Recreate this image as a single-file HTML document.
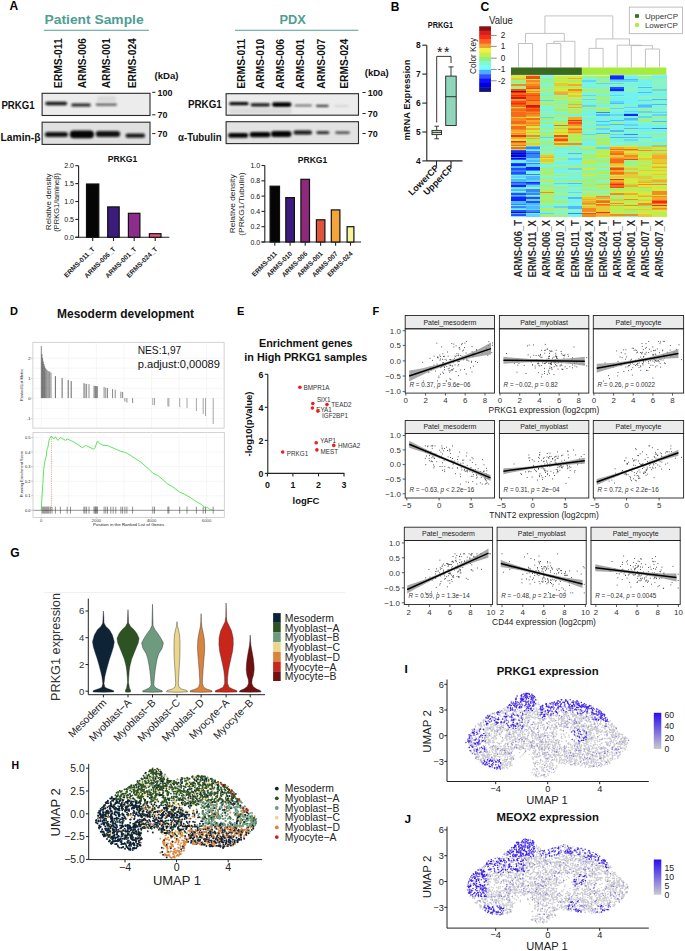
<!DOCTYPE html>
<html><head><meta charset="utf-8"><style>
html,body{margin:0;padding:0;background:#fff;overflow:hidden;}
svg{display:block;font-family:"Liberation Sans",sans-serif;}
</style></head><body>
<svg width="685" height="951" viewBox="0 0 685 951">
<rect width="685" height="951" fill="#fff"/>
<text x="9.6" y="10.0" font-size="12" font-weight="bold">A</text>
<text x="44.6" y="23.6" font-size="13.5" font-weight="bold" fill="#4f9e92" textLength="99" lengthAdjust="spacingAndGlyphs">Patient Sample</text>
<line x1="43.8" y1="30.2" x2="148.9" y2="30.2" stroke="#4f9e92" stroke-width="1.1"/>
<text x="279.4" y="23.6" font-size="13.5" font-weight="bold" fill="#4f9e92" textLength="26.3" lengthAdjust="spacingAndGlyphs">PDX</text>
<line x1="235.0" y1="30.2" x2="358.4" y2="30.2" stroke="#4f9e92" stroke-width="1.1"/>
<text x="61.8" y="88.2" font-size="11" font-weight="bold" fill="#111" textLength="50" lengthAdjust="spacingAndGlyphs" transform="rotate(-90 61.8 88.2)">ERMS-011</text>
<text x="85.8" y="88.2" font-size="11" font-weight="bold" fill="#111" textLength="50" lengthAdjust="spacingAndGlyphs" transform="rotate(-90 85.8 88.2)">ARMS-006</text>
<text x="109.7" y="88.2" font-size="11" font-weight="bold" fill="#111" textLength="50" lengthAdjust="spacingAndGlyphs" transform="rotate(-90 109.7 88.2)">ARMS-001</text>
<text x="136.0" y="88.2" font-size="11" font-weight="bold" fill="#111" textLength="50" lengthAdjust="spacingAndGlyphs" transform="rotate(-90 136.0 88.2)">ERMS-024</text>
<text x="245.0" y="88.8" font-size="11" font-weight="bold" fill="#111" textLength="50" lengthAdjust="spacingAndGlyphs" transform="rotate(-90 245.0 88.8)">ERMS-011</text>
<text x="263.6" y="88.8" font-size="11" font-weight="bold" fill="#111" textLength="50" lengthAdjust="spacingAndGlyphs" transform="rotate(-90 263.6 88.8)">ARMS-010</text>
<text x="284.2" y="88.8" font-size="11" font-weight="bold" fill="#111" textLength="50" lengthAdjust="spacingAndGlyphs" transform="rotate(-90 284.2 88.8)">ARMS-006</text>
<text x="303.6" y="88.8" font-size="11" font-weight="bold" fill="#111" textLength="50" lengthAdjust="spacingAndGlyphs" transform="rotate(-90 303.6 88.8)">ARMS-001</text>
<text x="324.6" y="88.8" font-size="11" font-weight="bold" fill="#111" textLength="50" lengthAdjust="spacingAndGlyphs" transform="rotate(-90 324.6 88.8)">ARMS-007</text>
<text x="347.7" y="88.8" font-size="11" font-weight="bold" fill="#111" textLength="50" lengthAdjust="spacingAndGlyphs" transform="rotate(-90 347.7 88.8)">ERMS-024</text>
<defs><filter id="bl" x="-20%" y="-80%" width="140%" height="260%"><feGaussianBlur stdDeviation="0.9"/></filter><filter id="bl2" x="-20%" y="-80%" width="140%" height="260%"><feGaussianBlur stdDeviation="1.6"/></filter><linearGradient id="gb" x1="0" y1="0" x2="1" y2="0"><stop offset="0" stop-color="#e2e2e2"/><stop offset="1" stop-color="#ececec"/></linearGradient></defs>
<rect x="42.1" y="93.3" width="107.9" height="22.2" fill="#ececec"/>
<rect x="45.3" y="101.8" width="21.9" height="3.4" rx="1.7" fill="#0a0a0a" opacity="0.97" filter="url(#bl)"/>
<rect x="71.2" y="103.5" width="19.6" height="3.0" rx="1.5" fill="#111" opacity="0.92" filter="url(#bl)"/>
<rect x="95.7" y="103.5" width="21.3" height="2.2" rx="1.1" fill="#333" opacity="0.8" filter="url(#bl)"/>
<rect x="97.0" y="96.0" width="19.0" height="6.0" rx="3.0" fill="#c8c8c8" opacity="0.5" filter="url(#bl)"/>
<rect x="42.1" y="93.3" width="107.9" height="22.2" fill="none" stroke="#2a2a2a" stroke-width="1.1"/>
<rect x="42.1" y="122.2" width="107.9" height="22.2" fill="#e0e0e0"/>
<rect x="44.9" y="131.9" width="23.1" height="5.0" rx="2.5" fill="#0a0a0a" opacity="0.97" filter="url(#bl)"/>
<rect x="69.8" y="130.6" width="24.2" height="7.6" rx="3.8" fill="#050505" opacity="0.98" filter="url(#bl)"/>
<rect x="95.7" y="131.0" width="24.5" height="6.0" rx="3.0" fill="#0a0a0a" opacity="0.97" filter="url(#bl)"/>
<rect x="125.5" y="133.6" width="19.6" height="4.2" rx="2.1" fill="#111" opacity="0.95" filter="url(#bl)"/>
<rect x="42.1" y="122.2" width="107.9" height="22.2" fill="none" stroke="#2a2a2a" stroke-width="1.1"/>
<rect x="226.1" y="93.7" width="132.4" height="21.5" fill="#ececec"/>
<rect x="229.2" y="102.1" width="19.4" height="3.2" rx="1.6" fill="#050505" opacity="0.98" filter="url(#bl)"/>
<rect x="250.6" y="103.2" width="19.4" height="3.2" rx="1.6" fill="#0a0a0a" opacity="0.97" filter="url(#bl)"/>
<rect x="272.0" y="102.3" width="19.5" height="4.6" rx="2.3" fill="#050505" opacity="0.99" filter="url(#bl)"/>
<rect x="294.6" y="104.5" width="17.4" height="1.9" rx="0.9" fill="#444" opacity="0.75" filter="url(#bl)"/>
<rect x="316.0" y="104.8" width="12.7" height="2.3" rx="1.1" fill="#222" opacity="0.85" filter="url(#bl)"/>
<rect x="334.4" y="105.1" width="14.3" height="1.8" rx="0.9" fill="#aaa" opacity="0.35" filter="url(#bl)"/>
<rect x="229.0" y="108.0" width="63.0" height="6.0" rx="3.0" fill="#cfcfcf" opacity="0.6" filter="url(#bl)"/>
<rect x="226.1" y="93.7" width="132.4" height="21.5" fill="none" stroke="#2a2a2a" stroke-width="1.1"/>
<rect x="226.1" y="121.7" width="132.4" height="21.9" fill="#e2e2e2"/>
<rect x="228.1" y="133.1" width="20.1" height="4.6" rx="2.3" fill="#050505" opacity="0.98" filter="url(#bl)"/>
<rect x="249.6" y="131.9" width="21.0" height="5.4" rx="2.7" fill="#050505" opacity="0.98" filter="url(#bl)"/>
<rect x="271.0" y="131.1" width="20.5" height="5.8" rx="2.9" fill="#050505" opacity="0.98" filter="url(#bl)"/>
<rect x="293.5" y="130.6" width="18.5" height="4.0" rx="2.0" fill="#0a0a0a" opacity="0.96" filter="url(#bl)"/>
<rect x="316.4" y="131.2" width="12.9" height="2.8" rx="1.4" fill="#111" opacity="0.92" filter="url(#bl)"/>
<rect x="335.4" y="131.4" width="14.3" height="2.4" rx="1.2" fill="#222" opacity="0.88" filter="url(#bl)"/>
<rect x="226.1" y="121.7" width="132.4" height="21.9" fill="none" stroke="#2a2a2a" stroke-width="1.1"/>
<text x="1.4" y="108.8" font-size="10.5" font-weight="bold" fill="#111" textLength="33.2" lengthAdjust="spacingAndGlyphs">PRKG1</text>
<text x="0.5" y="141.0" font-size="10.5" font-weight="bold" fill="#111" textLength="40" lengthAdjust="spacingAndGlyphs">Lamin-β</text>
<text x="188.0" y="108.0" font-size="10.5" font-weight="bold" fill="#111" textLength="33.8" lengthAdjust="spacingAndGlyphs">PRKG1</text>
<text x="178.0" y="141.0" font-size="10.5" font-weight="bold" fill="#111" textLength="43.6" lengthAdjust="spacingAndGlyphs">α-Tubulin</text>
<line x1="152.2" y1="92.3" x2="155.4" y2="92.3" stroke="#222" stroke-width="1"/>
<text x="157.4" y="95.6" font-size="9.5" font-weight="bold" fill="#111" textLength="15" lengthAdjust="spacingAndGlyphs">100</text>
<line x1="152.2" y1="114.8" x2="155.4" y2="114.8" stroke="#222" stroke-width="1"/>
<text x="157.4" y="118.1" font-size="9.5" font-weight="bold" fill="#111" textLength="10" lengthAdjust="spacingAndGlyphs">70</text>
<line x1="152.2" y1="133.6" x2="155.4" y2="133.6" stroke="#222" stroke-width="1"/>
<text x="157.4" y="136.9" font-size="9.5" font-weight="bold" fill="#111" textLength="10" lengthAdjust="spacingAndGlyphs">70</text>
<line x1="362.5" y1="92.5" x2="365.7" y2="92.5" stroke="#222" stroke-width="1"/>
<text x="367.7" y="95.8" font-size="9.5" font-weight="bold" fill="#111" textLength="15" lengthAdjust="spacingAndGlyphs">100</text>
<line x1="362.5" y1="113.5" x2="365.7" y2="113.5" stroke="#222" stroke-width="1"/>
<text x="367.7" y="116.8" font-size="9.5" font-weight="bold" fill="#111" textLength="10" lengthAdjust="spacingAndGlyphs">70</text>
<line x1="362.5" y1="133.5" x2="365.7" y2="133.5" stroke="#222" stroke-width="1"/>
<text x="367.7" y="136.8" font-size="9.5" font-weight="bold" fill="#111" textLength="10" lengthAdjust="spacingAndGlyphs">70</text>
<text x="154.5" y="78.5" font-size="9" font-weight="bold" fill="#111" textLength="24" lengthAdjust="spacingAndGlyphs">(kDa)</text>
<text x="364.7" y="76.3" font-size="9" font-weight="bold" fill="#111" textLength="24" lengthAdjust="spacingAndGlyphs">(kDa)</text>
<line x1="78.6" y1="165.7" x2="78.6" y2="237.3" stroke="#222" stroke-width="1.1"/>
<line x1="75.3" y1="237.3" x2="169.3" y2="237.3" stroke="#222" stroke-width="1.1"/>
<line x1="75.3" y1="165.7" x2="78.6" y2="165.7" stroke="#222" stroke-width="1.1"/>
<text x="74.0" y="168.2" font-size="7.0" text-anchor="end" fill="#111">2.0</text>
<line x1="75.3" y1="183.6" x2="78.6" y2="183.6" stroke="#222" stroke-width="1.1"/>
<text x="74.0" y="186.1" font-size="7.0" text-anchor="end" fill="#111">1.5</text>
<line x1="75.3" y1="201.5" x2="78.6" y2="201.5" stroke="#222" stroke-width="1.1"/>
<text x="74.0" y="204.0" font-size="7.0" text-anchor="end" fill="#111">1.0</text>
<line x1="75.3" y1="219.4" x2="78.6" y2="219.4" stroke="#222" stroke-width="1.1"/>
<text x="74.0" y="221.9" font-size="7.0" text-anchor="end" fill="#111">0.5</text>
<line x1="75.3" y1="237.3" x2="78.6" y2="237.3" stroke="#222" stroke-width="1.1"/>
<text x="74.0" y="239.8" font-size="7.0" text-anchor="end" fill="#111">0.0</text>
<rect x="86.5" y="184.0" width="12.3" height="53.3" fill="#050505" stroke="#111" stroke-width="1.2"/>
<line x1="92.7" y1="237.3" x2="92.7" y2="241.0" stroke="#222" stroke-width="1.1"/>
<text x="95.2" y="249.5" font-size="6.7" font-weight="bold" text-anchor="end" fill="#222" transform="rotate(-45 95.2 249.5)">ERMS-011_T</text>
<rect x="107.7" y="206.9" width="11.5" height="30.4" fill="#3a1c7a" stroke="#111" stroke-width="1.2"/>
<line x1="113.5" y1="237.3" x2="113.5" y2="241.0" stroke="#222" stroke-width="1.1"/>
<text x="116.0" y="249.5" font-size="6.7" font-weight="bold" text-anchor="end" fill="#222" transform="rotate(-45 116.0 249.5)">ARMS-006_T</text>
<rect x="128.4" y="213.3" width="11.5" height="24.0" fill="#8e2c8e" stroke="#111" stroke-width="1.2"/>
<line x1="134.2" y1="237.3" x2="134.2" y2="241.0" stroke="#222" stroke-width="1.1"/>
<text x="136.8" y="249.5" font-size="6.7" font-weight="bold" text-anchor="end" fill="#222" transform="rotate(-45 136.8 249.5)">ARMS-001_T</text>
<rect x="149.4" y="233.7" width="11.6" height="3.6" fill="#e8547a" stroke="#111" stroke-width="1.2"/>
<line x1="155.2" y1="237.3" x2="155.2" y2="241.0" stroke="#222" stroke-width="1.1"/>
<text x="157.8" y="249.5" font-size="6.7" font-weight="bold" text-anchor="end" fill="#222" transform="rotate(-45 157.8 249.5)">ERMS-024_T</text>
<text x="122.5" y="162.2" font-size="8.6" font-weight="bold" text-anchor="middle" fill="#111">PRKG1</text>
<text x="50.8" y="201.8" font-size="7.6" text-anchor="middle" fill="#222" textLength="56.7" lengthAdjust="spacingAndGlyphs" transform="rotate(-90 50.8 201.8)">Relative density</text>
<text x="58.8" y="202.3" font-size="7.6" text-anchor="middle" fill="#222" textLength="58.7" lengthAdjust="spacingAndGlyphs" transform="rotate(-90 58.8 202.3)">(PRKG1/lamineβ)</text>
<line x1="264.8" y1="165.5" x2="264.8" y2="242.0" stroke="#222" stroke-width="1.1"/>
<line x1="261.5" y1="242.0" x2="361.1" y2="242.0" stroke="#222" stroke-width="1.1"/>
<line x1="261.5" y1="165.5" x2="264.8" y2="165.5" stroke="#222" stroke-width="1.1"/>
<text x="260.2" y="168.0" font-size="7.0" text-anchor="end" fill="#111">1.0</text>
<line x1="261.5" y1="180.8" x2="264.8" y2="180.8" stroke="#222" stroke-width="1.1"/>
<text x="260.2" y="183.3" font-size="7.0" text-anchor="end" fill="#111">0.8</text>
<line x1="261.5" y1="196.1" x2="264.8" y2="196.1" stroke="#222" stroke-width="1.1"/>
<text x="260.2" y="198.6" font-size="7.0" text-anchor="end" fill="#111">0.6</text>
<line x1="261.5" y1="211.4" x2="264.8" y2="211.4" stroke="#222" stroke-width="1.1"/>
<text x="260.2" y="213.9" font-size="7.0" text-anchor="end" fill="#111">0.4</text>
<line x1="261.5" y1="226.7" x2="264.8" y2="226.7" stroke="#222" stroke-width="1.1"/>
<text x="260.2" y="229.2" font-size="7.0" text-anchor="end" fill="#111">0.2</text>
<line x1="261.5" y1="242.0" x2="264.8" y2="242.0" stroke="#222" stroke-width="1.1"/>
<text x="260.2" y="244.5" font-size="7.0" text-anchor="end" fill="#111">0.0</text>
<rect x="270.1" y="186.2" width="9.4" height="55.8" fill="#050505" stroke="#111" stroke-width="1.2"/>
<line x1="274.8" y1="242.0" x2="274.8" y2="245.7" stroke="#222" stroke-width="1.1"/>
<text x="277.4" y="254.2" font-size="6.7" font-weight="bold" text-anchor="end" fill="#222" transform="rotate(-45 277.4 254.2)">ERMS-011</text>
<rect x="285.8" y="197.6" width="8.6" height="44.4" fill="#3d1a80" stroke="#111" stroke-width="1.2"/>
<line x1="290.1" y1="242.0" x2="290.1" y2="245.7" stroke="#222" stroke-width="1.1"/>
<text x="292.7" y="254.2" font-size="6.7" font-weight="bold" text-anchor="end" fill="#222" transform="rotate(-45 292.7 254.2)">ARMS-010</text>
<rect x="300.9" y="179.3" width="8.6" height="62.7" fill="#8d2a7d" stroke="#111" stroke-width="1.2"/>
<line x1="305.2" y1="242.0" x2="305.2" y2="245.7" stroke="#222" stroke-width="1.1"/>
<text x="307.8" y="254.2" font-size="6.7" font-weight="bold" text-anchor="end" fill="#222" transform="rotate(-45 307.8 254.2)">ARMS-006</text>
<rect x="316.4" y="219.8" width="8.5" height="22.2" fill="#e0533c" stroke="#111" stroke-width="1.2"/>
<line x1="320.6" y1="242.0" x2="320.6" y2="245.7" stroke="#222" stroke-width="1.1"/>
<text x="323.2" y="254.2" font-size="6.7" font-weight="bold" text-anchor="end" fill="#222" transform="rotate(-45 323.2 254.2)">ARMS-001</text>
<rect x="331.3" y="209.9" width="8.6" height="32.1" fill="#f4a53a" stroke="#111" stroke-width="1.2"/>
<line x1="335.6" y1="242.0" x2="335.6" y2="245.7" stroke="#222" stroke-width="1.1"/>
<text x="338.2" y="254.2" font-size="6.7" font-weight="bold" text-anchor="end" fill="#222" transform="rotate(-45 338.2 254.2)">ARMS-007</text>
<rect x="347.1" y="226.7" width="6.8" height="15.3" fill="#f6f39a" stroke="#111" stroke-width="1.2"/>
<line x1="350.5" y1="242.0" x2="350.5" y2="245.7" stroke="#222" stroke-width="1.1"/>
<text x="353.1" y="254.2" font-size="6.7" font-weight="bold" text-anchor="end" fill="#222" transform="rotate(-45 353.1 254.2)">ERMS-024</text>
<text x="312.5" y="163.4" font-size="8.6" font-weight="bold" text-anchor="middle" fill="#111">PRKG1</text>
<text x="234.7" y="203.8" font-size="7.6" text-anchor="middle" fill="#222" textLength="58.8" lengthAdjust="spacingAndGlyphs" transform="rotate(-90 234.7 203.8)">Relative density</text>
<text x="244.3" y="204.0" font-size="7.6" text-anchor="middle" fill="#222" textLength="63.3" lengthAdjust="spacingAndGlyphs" transform="rotate(-90 244.3 204.0)">(PRKG1/Tubulin)</text>
<text x="390.8" y="10.6" font-size="12" font-weight="bold">B</text>
<text x="440.4" y="28.4" font-size="8.8" font-weight="bold" text-anchor="middle" fill="#111" textLength="25.2" lengthAdjust="spacingAndGlyphs">PRKG1</text>
<line x1="426.8" y1="45.2" x2="426.8" y2="160.9" stroke="#222" stroke-width="1.1"/>
<line x1="426.8" y1="160.9" x2="462.5" y2="160.9" stroke="#222" stroke-width="1.1"/>
<line x1="422.3" y1="160.9" x2="426.8" y2="160.9" stroke="#222" stroke-width="1.1"/>
<text x="420.6" y="163.9" font-size="8.4" font-weight="bold" text-anchor="end" fill="#111">4</text>
<line x1="422.3" y1="132.0" x2="426.8" y2="132.0" stroke="#222" stroke-width="1.1"/>
<text x="420.6" y="135.0" font-size="8.4" font-weight="bold" text-anchor="end" fill="#111">5</text>
<line x1="422.3" y1="103.1" x2="426.8" y2="103.1" stroke="#222" stroke-width="1.1"/>
<text x="420.6" y="106.1" font-size="8.4" font-weight="bold" text-anchor="end" fill="#111">6</text>
<line x1="422.3" y1="74.1" x2="426.8" y2="74.1" stroke="#222" stroke-width="1.1"/>
<text x="420.6" y="77.1" font-size="8.4" font-weight="bold" text-anchor="end" fill="#111">7</text>
<line x1="422.3" y1="45.2" x2="426.8" y2="45.2" stroke="#222" stroke-width="1.1"/>
<text x="420.6" y="48.2" font-size="8.4" font-weight="bold" text-anchor="end" fill="#111">8</text>
<line x1="436.5" y1="160.9" x2="436.5" y2="165.9" stroke="#222" stroke-width="1.1"/>
<line x1="451.0" y1="160.9" x2="451.0" y2="165.9" stroke="#222" stroke-width="1.1"/>
<line x1="436.7" y1="126.2" x2="436.7" y2="138.8" stroke="#222" stroke-width="0.9"/>
<line x1="434.5" y1="126.2" x2="439.0" y2="126.2" stroke="#222" stroke-width="0.9"/>
<line x1="434.5" y1="138.8" x2="439.0" y2="138.8" stroke="#222" stroke-width="0.9"/>
<rect x="432.0" y="130.4" width="9.5" height="4.2" fill="#cdebc8" stroke="#222" stroke-width="0.9"/>
<line x1="432.0" y1="132.4" x2="441.5" y2="132.4" stroke="#222" stroke-width="0.9"/>
<line x1="451.0" y1="66.9" x2="451.0" y2="76.1" stroke="#222" stroke-width="0.9"/>
<line x1="448.5" y1="66.9" x2="453.5" y2="66.9" stroke="#222" stroke-width="0.9"/>
<rect x="445.7" y="76.1" width="10.5" height="49.4" fill="#8fd6bd" stroke="#222" stroke-width="0.9"/>
<line x1="445.7" y1="96.7" x2="456.2" y2="96.7" stroke="#222" stroke-width="0.9"/>
<polyline points="436.7,122.5 436.7,56.4 451,56.4 451,63" fill="none" stroke="#222" stroke-width="0.9"/>
<text x="444.0" y="56.5" font-size="14" text-anchor="middle" fill="#111" letter-spacing="1.5">**</text>
<text x="409.9" y="100.0" font-size="8.8" font-weight="bold" text-anchor="middle" fill="#111" textLength="81" lengthAdjust="spacingAndGlyphs" transform="rotate(-90 409.9 100.0)">mRNA Expression</text>
<text x="439.5" y="168.5" font-size="9" font-weight="bold" text-anchor="end" fill="#111" transform="rotate(-45 439.5 168.5)">LowerCP</text>
<text x="454.2" y="168.5" font-size="9" font-weight="bold" text-anchor="end" fill="#111" transform="rotate(-45 454.2 168.5)">UpperCP</text>
<text x="480.6" y="11.0" font-size="12.2" font-weight="bold">C</text>
<text x="489.1" y="23.6" font-size="10" fill="#222" textLength="23.7" lengthAdjust="spacingAndGlyphs">Value</text>
<text x="475.7" y="55.9" font-size="9.6" text-anchor="middle" fill="#222" textLength="36" lengthAdjust="spacingAndGlyphs" transform="rotate(-90 475.7 55.9)">Color Key</text>
<rect x="479.2" y="26.3" width="11.8" height="4.7" fill="#8b1010"/>
<rect x="479.2" y="30.7" width="11.8" height="4.7" fill="#d02020"/>
<rect x="479.2" y="35.0" width="11.8" height="4.7" fill="#ff2a10"/>
<rect x="479.2" y="39.4" width="11.8" height="4.7" fill="#ff6020"/>
<rect x="479.2" y="43.7" width="11.8" height="4.7" fill="#f0a030"/>
<rect x="479.2" y="48.1" width="11.8" height="4.7" fill="#f0f040"/>
<rect x="479.2" y="52.4" width="11.8" height="4.7" fill="#c8f048"/>
<rect x="479.2" y="56.8" width="11.8" height="4.7" fill="#90f080"/>
<rect x="479.2" y="61.1" width="11.8" height="4.7" fill="#80f8d0"/>
<rect x="479.2" y="65.5" width="11.8" height="4.7" fill="#70ffff"/>
<rect x="479.2" y="69.8" width="11.8" height="4.7" fill="#50a8ff"/>
<rect x="479.2" y="74.2" width="11.8" height="4.7" fill="#3050ff"/>
<rect x="479.2" y="78.5" width="11.8" height="4.7" fill="#1010ff"/>
<rect x="479.2" y="82.9" width="11.8" height="4.7" fill="#0000e8"/>
<rect x="479.2" y="87.2" width="11.8" height="4.7" fill="#10107f"/>
<line x1="491.0" y1="35.4" x2="496.7" y2="35.4" stroke="#444" stroke-width="0.6"/>
<text x="505.3" y="38.4" font-size="8.2" text-anchor="end" fill="#222">2</text>
<line x1="491.0" y1="46.4" x2="496.7" y2="46.4" stroke="#444" stroke-width="0.6"/>
<text x="505.3" y="49.4" font-size="8.2" text-anchor="end" fill="#222">1</text>
<line x1="491.0" y1="58.2" x2="496.7" y2="58.2" stroke="#444" stroke-width="0.6"/>
<text x="505.3" y="61.2" font-size="8.2" text-anchor="end" fill="#222">0</text>
<line x1="491.0" y1="69.4" x2="496.7" y2="69.4" stroke="#444" stroke-width="0.6"/>
<text x="505.3" y="72.4" font-size="8.2" text-anchor="end" fill="#222">-1</text>
<line x1="491.0" y1="80.8" x2="496.7" y2="80.8" stroke="#444" stroke-width="0.6"/>
<text x="505.3" y="83.8" font-size="8.2" text-anchor="end" fill="#222">-2</text>
<rect x="629.3" y="7.1" width="53.3" height="26.6" fill="#fff" stroke="#b0b0b0" stroke-width="0.8"/>
<rect x="635.0" y="14.2" width="4.0" height="3.6" fill="#3d6b22"/>
<text x="644.9" y="18.5" font-size="8" fill="#333" textLength="33.2" lengthAdjust="spacingAndGlyphs">UpperCP</text>
<rect x="635.0" y="23.2" width="4.0" height="3.6" fill="#a8ec4a"/>
<text x="644.9" y="27.5" font-size="8" fill="#333" textLength="33" lengthAdjust="spacingAndGlyphs">LowerCP</text>
<polyline points="518.5,67.5 518.5,43.5 532.6,43.5 532.6,67.5" fill="none" stroke="#b4b4b4" stroke-width="0.8"/>
<polyline points="546.7,67.5 546.7,43.5 560.8,43.5 560.8,67.5" fill="none" stroke="#b4b4b4" stroke-width="0.8"/>
<polyline points="553.8,43.5 553.8,41.3 574.9,41.3 574.9,67.5" fill="none" stroke="#b4b4b4" stroke-width="0.8"/>
<polyline points="525.5,43.5 525.5,33.4 564.3,33.4 564.3,41.3" fill="none" stroke="#b4b4b4" stroke-width="0.8"/>
<polyline points="589.0,67.5 589.0,48.4 603.1,48.4 603.1,67.5" fill="none" stroke="#b4b4b4" stroke-width="0.8"/>
<polyline points="645.4,67.5 645.4,49.0 659.5,49.0 659.5,67.5" fill="none" stroke="#b4b4b4" stroke-width="0.8"/>
<polyline points="631.3,67.5 631.3,45.6 652.5,45.6 652.5,49.0" fill="none" stroke="#b4b4b4" stroke-width="0.8"/>
<polyline points="617.2,67.5 617.2,45.2 641.9,45.2 641.9,45.6" fill="none" stroke="#b4b4b4" stroke-width="0.8"/>
<polyline points="596.0,48.4 596.0,38.9 629.5,38.9 629.5,45.2" fill="none" stroke="#b4b4b4" stroke-width="0.8"/>
<polyline points="544.9,33.4 544.9,15.9 612.8,15.9 612.8,38.9" fill="none" stroke="#b4b4b4" stroke-width="0.8"/>
<rect x="511.0" y="67.5" width="70.9" height="7.5" fill="#3a6a1e"/>
<rect x="581.9" y="67.5" width="84.5" height="7.5" fill="#a6ec3c"/>
<g shape-rendering="crispEdges">
<rect x="511.45" y="75.00" width="14.40" height="1.51" fill="#f6aa2a"/>
<rect x="511.45" y="76.31" width="14.40" height="1.51" fill="#d4ea3c"/>
<rect x="511.45" y="77.63" width="14.40" height="2.83" fill="#e5ca33"/>
<rect x="511.45" y="80.26" width="14.40" height="1.51" fill="#98f298"/>
<rect x="511.45" y="81.57" width="14.40" height="1.51" fill="#7cf3dd"/>
<rect x="511.45" y="82.89" width="14.40" height="1.51" fill="#d4ea3c"/>
<rect x="511.45" y="84.20" width="14.40" height="1.51" fill="#f68a22"/>
<rect x="511.45" y="85.52" width="14.40" height="1.51" fill="#beed52"/>
<rect x="511.45" y="86.83" width="14.40" height="1.51" fill="#88f4c8"/>
<rect x="511.45" y="88.15" width="14.40" height="1.51" fill="#a8f068"/>
<rect x="511.45" y="89.46" width="14.40" height="1.51" fill="#f34b12"/>
<rect x="511.45" y="90.78" width="14.40" height="1.51" fill="#a00000"/>
<rect x="511.45" y="92.09" width="14.40" height="1.51" fill="#f02c0a"/>
<rect x="511.45" y="93.41" width="14.40" height="1.51" fill="#f66a1a"/>
<rect x="511.45" y="94.72" width="14.40" height="1.51" fill="#f02c0a"/>
<rect x="511.45" y="96.04" width="14.40" height="1.51" fill="#f34b12"/>
<rect x="511.45" y="97.35" width="14.40" height="1.51" fill="#d81605"/>
<rect x="511.45" y="98.67" width="14.40" height="1.51" fill="#f6aa2a"/>
<rect x="511.45" y="99.98" width="14.40" height="1.51" fill="#f68a22"/>
<rect x="511.45" y="101.30" width="14.40" height="1.51" fill="#f34b12"/>
<rect x="511.45" y="102.61" width="14.40" height="1.51" fill="#f02c0a"/>
<rect x="511.45" y="103.93" width="14.40" height="1.51" fill="#f34b12"/>
<rect x="511.45" y="105.24" width="14.40" height="1.51" fill="#f66a1a"/>
<rect x="511.45" y="106.56" width="14.40" height="1.51" fill="#e5ca33"/>
<rect x="511.45" y="107.87" width="14.40" height="1.51" fill="#f68a22"/>
<rect x="511.45" y="109.19" width="14.40" height="1.51" fill="#f66a1a"/>
<rect x="511.45" y="110.50" width="14.40" height="1.51" fill="#f68a22"/>
<rect x="511.45" y="111.81" width="14.40" height="5.46" fill="#f66a1a"/>
<rect x="511.45" y="117.07" width="14.40" height="1.51" fill="#e5ca33"/>
<rect x="511.45" y="118.39" width="14.40" height="2.83" fill="#f68a22"/>
<rect x="511.45" y="121.02" width="14.40" height="2.83" fill="#f66a1a"/>
<rect x="511.45" y="123.65" width="14.40" height="1.51" fill="#f6aa2a"/>
<rect x="511.45" y="124.96" width="14.40" height="1.51" fill="#e5ca33"/>
<rect x="511.45" y="126.28" width="14.40" height="2.83" fill="#f66a1a"/>
<rect x="511.45" y="128.91" width="14.40" height="1.51" fill="#f68a22"/>
<rect x="511.45" y="130.22" width="14.40" height="1.51" fill="#f6aa2a"/>
<rect x="511.45" y="131.54" width="14.40" height="1.51" fill="#e5ca33"/>
<rect x="511.45" y="132.85" width="14.40" height="1.51" fill="#f68a22"/>
<rect x="511.45" y="134.17" width="14.40" height="1.51" fill="#f6aa2a"/>
<rect x="511.45" y="135.48" width="14.40" height="1.51" fill="#f02c0a"/>
<rect x="511.45" y="136.80" width="14.40" height="2.83" fill="#f6aa2a"/>
<rect x="511.45" y="139.43" width="14.40" height="1.51" fill="#d4ea3c"/>
<rect x="511.45" y="140.74" width="14.40" height="1.51" fill="#f02c0a"/>
<rect x="511.45" y="142.06" width="14.40" height="1.51" fill="#f66a1a"/>
<rect x="511.45" y="143.37" width="14.40" height="1.51" fill="#f6aa2a"/>
<rect x="511.45" y="144.69" width="14.40" height="1.51" fill="#f66a1a"/>
<rect x="511.45" y="146.00" width="14.40" height="1.51" fill="#98f298"/>
<rect x="511.45" y="147.31" width="14.40" height="1.51" fill="#f66a1a"/>
<rect x="511.45" y="148.63" width="14.40" height="1.51" fill="#e5ca33"/>
<rect x="511.45" y="149.94" width="14.40" height="1.51" fill="#2050ff"/>
<rect x="511.45" y="151.26" width="14.40" height="1.51" fill="#1028ff"/>
<rect x="511.45" y="152.57" width="14.40" height="1.51" fill="#00008b"/>
<rect x="511.45" y="153.89" width="14.40" height="1.51" fill="#1028ff"/>
<rect x="511.45" y="155.20" width="14.40" height="1.51" fill="#0000c5"/>
<rect x="511.45" y="156.52" width="14.40" height="1.51" fill="#3884ff"/>
<rect x="511.45" y="157.83" width="14.40" height="1.51" fill="#0000ff"/>
<rect x="511.45" y="159.15" width="14.40" height="1.51" fill="#2050ff"/>
<rect x="511.45" y="160.46" width="14.40" height="2.83" fill="#70f2f2"/>
<rect x="511.45" y="163.09" width="14.40" height="1.51" fill="#2050ff"/>
<rect x="511.45" y="164.41" width="14.40" height="1.51" fill="#1028ff"/>
<rect x="511.45" y="165.72" width="14.40" height="2.83" fill="#50b8ff"/>
<rect x="511.45" y="168.35" width="14.40" height="1.51" fill="#2050ff"/>
<rect x="511.45" y="169.67" width="14.40" height="2.83" fill="#3884ff"/>
<rect x="511.45" y="172.30" width="14.40" height="1.51" fill="#2050ff"/>
<rect x="511.45" y="173.61" width="14.40" height="1.51" fill="#3884ff"/>
<rect x="511.45" y="174.93" width="14.40" height="1.51" fill="#70f2f2"/>
<rect x="511.45" y="176.24" width="14.40" height="1.51" fill="#60d5f8"/>
<rect x="511.45" y="177.56" width="14.40" height="1.51" fill="#7cf3dd"/>
<rect x="511.45" y="178.87" width="14.40" height="2.83" fill="#50b8ff"/>
<rect x="511.45" y="181.50" width="14.40" height="1.51" fill="#2050ff"/>
<rect x="511.45" y="182.81" width="14.40" height="2.83" fill="#3884ff"/>
<rect x="511.45" y="185.44" width="14.40" height="1.51" fill="#1028ff"/>
<rect x="511.45" y="186.76" width="14.40" height="1.51" fill="#60d5f8"/>
<rect x="511.45" y="188.07" width="14.40" height="1.51" fill="#70f2f2"/>
<rect x="511.45" y="189.39" width="14.40" height="1.51" fill="#50b8ff"/>
<rect x="511.45" y="190.70" width="14.40" height="1.51" fill="#7cf3dd"/>
<rect x="511.45" y="192.02" width="14.40" height="1.51" fill="#60d5f8"/>
<rect x="511.45" y="193.33" width="14.40" height="1.51" fill="#2050ff"/>
<rect x="511.45" y="194.65" width="14.40" height="1.51" fill="#50b8ff"/>
<rect x="511.45" y="195.96" width="14.40" height="1.51" fill="#3884ff"/>
<rect x="511.45" y="197.28" width="14.40" height="4.14" fill="#1028ff"/>
<rect x="511.45" y="201.22" width="14.40" height="2.83" fill="#50b8ff"/>
<rect x="511.45" y="203.85" width="14.40" height="1.51" fill="#3884ff"/>
<rect x="511.45" y="205.17" width="14.40" height="1.51" fill="#70f2f2"/>
<rect x="511.45" y="206.48" width="14.40" height="1.51" fill="#3884ff"/>
<rect x="511.45" y="207.80" width="14.40" height="1.51" fill="#60d5f8"/>
<rect x="511.45" y="209.11" width="14.40" height="1.51" fill="#70f2f2"/>
<rect x="511.45" y="210.43" width="14.40" height="1.51" fill="#2050ff"/>
<rect x="511.45" y="211.74" width="14.40" height="1.51" fill="#0000c5"/>
<rect x="511.45" y="213.06" width="14.40" height="1.51" fill="#50b8ff"/>
<rect x="511.45" y="214.37" width="14.40" height="1.51" fill="#2050ff"/>
<rect x="511.45" y="215.69" width="14.40" height="1.51" fill="#70f2f2"/>
<rect x="525.55" y="75.00" width="14.40" height="1.51" fill="#f68a22"/>
<rect x="525.55" y="76.31" width="14.40" height="2.83" fill="#f34b12"/>
<rect x="525.55" y="78.94" width="14.40" height="1.51" fill="#d4ea3c"/>
<rect x="525.55" y="80.26" width="14.40" height="1.51" fill="#f68a22"/>
<rect x="525.55" y="81.57" width="14.40" height="2.83" fill="#f6aa2a"/>
<rect x="525.55" y="84.20" width="14.40" height="1.51" fill="#f68a22"/>
<rect x="525.55" y="85.52" width="14.40" height="2.83" fill="#f66a1a"/>
<rect x="525.55" y="88.15" width="14.40" height="1.51" fill="#f34b12"/>
<rect x="525.55" y="89.46" width="14.40" height="1.51" fill="#e5ca33"/>
<rect x="525.55" y="90.78" width="14.40" height="1.51" fill="#f68a22"/>
<rect x="525.55" y="92.09" width="14.40" height="1.51" fill="#e5ca33"/>
<rect x="525.55" y="93.41" width="14.40" height="1.51" fill="#f66a1a"/>
<rect x="525.55" y="94.72" width="14.40" height="1.51" fill="#f34b12"/>
<rect x="525.55" y="96.04" width="14.40" height="4.14" fill="#f66a1a"/>
<rect x="525.55" y="99.98" width="14.40" height="1.51" fill="#f34b12"/>
<rect x="525.55" y="101.30" width="14.40" height="4.14" fill="#f68a22"/>
<rect x="525.55" y="105.24" width="14.40" height="1.51" fill="#d81605"/>
<rect x="525.55" y="106.56" width="14.40" height="1.51" fill="#f02c0a"/>
<rect x="525.55" y="107.87" width="14.40" height="1.51" fill="#f66a1a"/>
<rect x="525.55" y="109.19" width="14.40" height="1.51" fill="#f34b12"/>
<rect x="525.55" y="110.50" width="14.40" height="1.51" fill="#f66a1a"/>
<rect x="525.55" y="111.81" width="14.40" height="1.51" fill="#f68a22"/>
<rect x="525.55" y="113.13" width="14.40" height="1.51" fill="#f66a1a"/>
<rect x="525.55" y="114.44" width="14.40" height="1.51" fill="#f68a22"/>
<rect x="525.55" y="115.76" width="14.40" height="1.51" fill="#f6aa2a"/>
<rect x="525.55" y="117.07" width="14.40" height="1.51" fill="#d4ea3c"/>
<rect x="525.55" y="118.39" width="14.40" height="1.51" fill="#f66a1a"/>
<rect x="525.55" y="119.70" width="14.40" height="2.83" fill="#f6aa2a"/>
<rect x="525.55" y="122.33" width="14.40" height="1.51" fill="#f68a22"/>
<rect x="525.55" y="123.65" width="14.40" height="1.51" fill="#f6aa2a"/>
<rect x="525.55" y="124.96" width="14.40" height="1.51" fill="#f68a22"/>
<rect x="525.55" y="126.28" width="14.40" height="1.51" fill="#d4ea3c"/>
<rect x="525.55" y="127.59" width="14.40" height="2.83" fill="#f6aa2a"/>
<rect x="525.55" y="130.22" width="14.40" height="1.51" fill="#d4ea3c"/>
<rect x="525.55" y="131.54" width="14.40" height="1.51" fill="#e5ca33"/>
<rect x="525.55" y="132.85" width="14.40" height="1.51" fill="#d4ea3c"/>
<rect x="525.55" y="134.17" width="14.40" height="1.51" fill="#beed52"/>
<rect x="525.55" y="135.48" width="14.40" height="1.51" fill="#f68a22"/>
<rect x="525.55" y="136.80" width="14.40" height="1.51" fill="#a8f068"/>
<rect x="525.55" y="138.11" width="14.40" height="1.51" fill="#f6aa2a"/>
<rect x="525.55" y="139.43" width="14.40" height="2.83" fill="#a8f068"/>
<rect x="525.55" y="142.06" width="14.40" height="1.51" fill="#beed52"/>
<rect x="525.55" y="143.37" width="14.40" height="1.51" fill="#e5ca33"/>
<rect x="525.55" y="144.69" width="14.40" height="1.51" fill="#beed52"/>
<rect x="525.55" y="146.00" width="14.40" height="1.51" fill="#50b8ff"/>
<rect x="525.55" y="147.31" width="14.40" height="1.51" fill="#3884ff"/>
<rect x="525.55" y="148.63" width="14.40" height="1.51" fill="#60d5f8"/>
<rect x="525.55" y="149.94" width="14.40" height="1.51" fill="#70f2f2"/>
<rect x="525.55" y="151.26" width="14.40" height="1.51" fill="#3884ff"/>
<rect x="525.55" y="152.57" width="14.40" height="1.51" fill="#2050ff"/>
<rect x="525.55" y="153.89" width="14.40" height="4.14" fill="#3884ff"/>
<rect x="525.55" y="157.83" width="14.40" height="2.83" fill="#60d5f8"/>
<rect x="525.55" y="160.46" width="14.40" height="1.51" fill="#50b8ff"/>
<rect x="525.55" y="161.78" width="14.40" height="1.51" fill="#70f2f2"/>
<rect x="525.55" y="163.09" width="14.40" height="1.51" fill="#3884ff"/>
<rect x="525.55" y="164.41" width="14.40" height="2.83" fill="#60d5f8"/>
<rect x="525.55" y="167.04" width="14.40" height="2.83" fill="#1028ff"/>
<rect x="525.55" y="169.67" width="14.40" height="1.51" fill="#3884ff"/>
<rect x="525.55" y="170.98" width="14.40" height="1.51" fill="#70f2f2"/>
<rect x="525.55" y="172.30" width="14.40" height="1.51" fill="#7cf3dd"/>
<rect x="525.55" y="173.61" width="14.40" height="1.51" fill="#3884ff"/>
<rect x="525.55" y="174.93" width="14.40" height="1.51" fill="#70f2f2"/>
<rect x="525.55" y="176.24" width="14.40" height="4.14" fill="#50b8ff"/>
<rect x="525.55" y="180.19" width="14.40" height="1.51" fill="#60d5f8"/>
<rect x="525.55" y="181.50" width="14.40" height="1.51" fill="#1028ff"/>
<rect x="525.55" y="182.81" width="14.40" height="1.51" fill="#2050ff"/>
<rect x="525.55" y="184.13" width="14.40" height="1.51" fill="#3884ff"/>
<rect x="525.55" y="185.44" width="14.40" height="1.51" fill="#60d5f8"/>
<rect x="525.55" y="186.76" width="14.40" height="1.51" fill="#88f4c8"/>
<rect x="525.55" y="188.07" width="14.40" height="1.51" fill="#98f298"/>
<rect x="525.55" y="189.39" width="14.40" height="2.83" fill="#3884ff"/>
<rect x="525.55" y="192.02" width="14.40" height="1.51" fill="#50b8ff"/>
<rect x="525.55" y="193.33" width="14.40" height="1.51" fill="#3884ff"/>
<rect x="525.55" y="194.65" width="14.40" height="1.51" fill="#7cf3dd"/>
<rect x="525.55" y="195.96" width="14.40" height="1.51" fill="#60d5f8"/>
<rect x="525.55" y="197.28" width="14.40" height="1.51" fill="#2050ff"/>
<rect x="525.55" y="198.59" width="14.40" height="2.83" fill="#60d5f8"/>
<rect x="525.55" y="201.22" width="14.40" height="1.51" fill="#2050ff"/>
<rect x="525.55" y="202.54" width="14.40" height="2.83" fill="#50b8ff"/>
<rect x="525.55" y="205.17" width="14.40" height="1.51" fill="#60d5f8"/>
<rect x="525.55" y="206.48" width="14.40" height="2.83" fill="#50b8ff"/>
<rect x="525.55" y="209.11" width="14.40" height="1.51" fill="#60d5f8"/>
<rect x="525.55" y="210.43" width="14.40" height="1.51" fill="#3884ff"/>
<rect x="525.55" y="211.74" width="14.40" height="1.51" fill="#2050ff"/>
<rect x="525.55" y="213.06" width="14.40" height="1.51" fill="#70f2f2"/>
<rect x="525.55" y="214.37" width="14.40" height="2.83" fill="#60d5f8"/>
<rect x="539.65" y="75.00" width="14.40" height="1.51" fill="#60d5f8"/>
<rect x="539.65" y="76.31" width="14.40" height="1.51" fill="#88f4c8"/>
<rect x="539.65" y="77.63" width="14.40" height="1.51" fill="#a8f068"/>
<rect x="539.65" y="78.94" width="14.40" height="1.51" fill="#70f2f2"/>
<rect x="539.65" y="80.26" width="14.40" height="1.51" fill="#98f298"/>
<rect x="539.65" y="81.57" width="14.40" height="1.51" fill="#7cf3dd"/>
<rect x="539.65" y="82.89" width="14.40" height="1.51" fill="#98f298"/>
<rect x="539.65" y="84.20" width="14.40" height="2.83" fill="#88f4c8"/>
<rect x="539.65" y="86.83" width="14.40" height="1.51" fill="#98f298"/>
<rect x="539.65" y="88.15" width="14.40" height="1.51" fill="#88f4c8"/>
<rect x="539.65" y="89.46" width="14.40" height="1.51" fill="#beed52"/>
<rect x="539.65" y="90.78" width="14.40" height="1.51" fill="#88f4c8"/>
<rect x="539.65" y="92.09" width="14.40" height="1.51" fill="#7cf3dd"/>
<rect x="539.65" y="93.41" width="14.40" height="1.51" fill="#98f298"/>
<rect x="539.65" y="94.72" width="14.40" height="1.51" fill="#70f2f2"/>
<rect x="539.65" y="96.04" width="14.40" height="4.14" fill="#98f298"/>
<rect x="539.65" y="99.98" width="14.40" height="1.51" fill="#60d5f8"/>
<rect x="539.65" y="101.30" width="14.40" height="1.51" fill="#98f298"/>
<rect x="539.65" y="102.61" width="14.40" height="1.51" fill="#beed52"/>
<rect x="539.65" y="103.93" width="14.40" height="1.51" fill="#a8f068"/>
<rect x="539.65" y="105.24" width="14.40" height="1.51" fill="#88f4c8"/>
<rect x="539.65" y="106.56" width="14.40" height="1.51" fill="#7cf3dd"/>
<rect x="539.65" y="107.87" width="14.40" height="1.51" fill="#88f4c8"/>
<rect x="539.65" y="109.19" width="14.40" height="1.51" fill="#7cf3dd"/>
<rect x="539.65" y="110.50" width="14.40" height="1.51" fill="#88f4c8"/>
<rect x="539.65" y="111.81" width="14.40" height="1.51" fill="#7cf3dd"/>
<rect x="539.65" y="113.13" width="14.40" height="1.51" fill="#88f4c8"/>
<rect x="539.65" y="114.44" width="14.40" height="1.51" fill="#98f298"/>
<rect x="539.65" y="115.76" width="14.40" height="1.51" fill="#88f4c8"/>
<rect x="539.65" y="117.07" width="14.40" height="1.51" fill="#60d5f8"/>
<rect x="539.65" y="118.39" width="14.40" height="1.51" fill="#a8f068"/>
<rect x="539.65" y="119.70" width="14.40" height="1.51" fill="#70f2f2"/>
<rect x="539.65" y="121.02" width="14.40" height="1.51" fill="#7cf3dd"/>
<rect x="539.65" y="122.33" width="14.40" height="1.51" fill="#a8f068"/>
<rect x="539.65" y="123.65" width="14.40" height="4.14" fill="#7cf3dd"/>
<rect x="539.65" y="127.59" width="14.40" height="1.51" fill="#beed52"/>
<rect x="539.65" y="128.91" width="14.40" height="1.51" fill="#7cf3dd"/>
<rect x="539.65" y="130.22" width="14.40" height="1.51" fill="#88f4c8"/>
<rect x="539.65" y="131.54" width="14.40" height="1.51" fill="#a8f068"/>
<rect x="539.65" y="132.85" width="14.40" height="2.83" fill="#98f298"/>
<rect x="539.65" y="135.48" width="14.40" height="1.51" fill="#a8f068"/>
<rect x="539.65" y="136.80" width="14.40" height="1.51" fill="#60d5f8"/>
<rect x="539.65" y="138.11" width="14.40" height="2.83" fill="#88f4c8"/>
<rect x="539.65" y="140.74" width="14.40" height="1.51" fill="#98f298"/>
<rect x="539.65" y="142.06" width="14.40" height="1.51" fill="#a8f068"/>
<rect x="539.65" y="143.37" width="14.40" height="1.51" fill="#98f298"/>
<rect x="539.65" y="144.69" width="14.40" height="1.51" fill="#7cf3dd"/>
<rect x="539.65" y="146.00" width="14.40" height="1.51" fill="#98f298"/>
<rect x="539.65" y="147.31" width="14.40" height="1.51" fill="#88f4c8"/>
<rect x="539.65" y="148.63" width="14.40" height="2.83" fill="#98f298"/>
<rect x="539.65" y="151.26" width="14.40" height="1.51" fill="#88f4c8"/>
<rect x="539.65" y="152.57" width="14.40" height="1.51" fill="#98f298"/>
<rect x="539.65" y="153.89" width="14.40" height="1.51" fill="#a8f068"/>
<rect x="539.65" y="155.20" width="14.40" height="1.51" fill="#e5ca33"/>
<rect x="539.65" y="156.52" width="14.40" height="1.51" fill="#f6aa2a"/>
<rect x="539.65" y="157.83" width="14.40" height="1.51" fill="#d4ea3c"/>
<rect x="539.65" y="159.15" width="14.40" height="2.83" fill="#e5ca33"/>
<rect x="539.65" y="161.78" width="14.40" height="1.51" fill="#beed52"/>
<rect x="539.65" y="163.09" width="14.40" height="1.51" fill="#a8f068"/>
<rect x="539.65" y="164.41" width="14.40" height="1.51" fill="#7cf3dd"/>
<rect x="539.65" y="165.72" width="14.40" height="1.51" fill="#88f4c8"/>
<rect x="539.65" y="167.04" width="14.40" height="1.51" fill="#7cf3dd"/>
<rect x="539.65" y="168.35" width="14.40" height="1.51" fill="#a8f068"/>
<rect x="539.65" y="169.67" width="14.40" height="1.51" fill="#88f4c8"/>
<rect x="539.65" y="170.98" width="14.40" height="2.83" fill="#a8f068"/>
<rect x="539.65" y="173.61" width="14.40" height="1.51" fill="#beed52"/>
<rect x="539.65" y="174.93" width="14.40" height="2.83" fill="#88f4c8"/>
<rect x="539.65" y="177.56" width="14.40" height="1.51" fill="#a8f068"/>
<rect x="539.65" y="178.87" width="14.40" height="1.51" fill="#88f4c8"/>
<rect x="539.65" y="180.19" width="14.40" height="1.51" fill="#beed52"/>
<rect x="539.65" y="181.50" width="14.40" height="2.83" fill="#88f4c8"/>
<rect x="539.65" y="184.13" width="14.40" height="1.51" fill="#7cf3dd"/>
<rect x="539.65" y="185.44" width="14.40" height="1.51" fill="#a8f068"/>
<rect x="539.65" y="186.76" width="14.40" height="1.51" fill="#98f298"/>
<rect x="539.65" y="188.07" width="14.40" height="1.51" fill="#88f4c8"/>
<rect x="539.65" y="189.39" width="14.40" height="2.83" fill="#beed52"/>
<rect x="539.65" y="192.02" width="14.40" height="1.51" fill="#f68a22"/>
<rect x="539.65" y="193.33" width="14.40" height="1.51" fill="#a8f068"/>
<rect x="539.65" y="194.65" width="14.40" height="2.83" fill="#98f298"/>
<rect x="539.65" y="197.28" width="14.40" height="1.51" fill="#beed52"/>
<rect x="539.65" y="198.59" width="14.40" height="1.51" fill="#98f298"/>
<rect x="539.65" y="199.91" width="14.40" height="2.83" fill="#a8f068"/>
<rect x="539.65" y="202.54" width="14.40" height="1.51" fill="#88f4c8"/>
<rect x="539.65" y="203.85" width="14.40" height="2.83" fill="#98f298"/>
<rect x="539.65" y="206.48" width="14.40" height="1.51" fill="#70f2f2"/>
<rect x="539.65" y="207.80" width="14.40" height="1.51" fill="#beed52"/>
<rect x="539.65" y="209.11" width="14.40" height="1.51" fill="#a8f068"/>
<rect x="539.65" y="210.43" width="14.40" height="1.51" fill="#98f298"/>
<rect x="539.65" y="211.74" width="14.40" height="1.51" fill="#70f2f2"/>
<rect x="539.65" y="213.06" width="14.40" height="1.51" fill="#60d5f8"/>
<rect x="539.65" y="214.37" width="14.40" height="1.51" fill="#a8f068"/>
<rect x="539.65" y="215.69" width="14.40" height="1.51" fill="#98f298"/>
<rect x="553.75" y="75.00" width="14.40" height="1.51" fill="#98f298"/>
<rect x="553.75" y="76.31" width="14.40" height="1.51" fill="#d4ea3c"/>
<rect x="553.75" y="77.63" width="14.40" height="1.51" fill="#a8f068"/>
<rect x="553.75" y="78.94" width="14.40" height="1.51" fill="#d4ea3c"/>
<rect x="553.75" y="80.26" width="14.40" height="1.51" fill="#beed52"/>
<rect x="553.75" y="81.57" width="14.40" height="1.51" fill="#d4ea3c"/>
<rect x="553.75" y="82.89" width="14.40" height="2.83" fill="#e5ca33"/>
<rect x="553.75" y="85.52" width="14.40" height="1.51" fill="#a8f068"/>
<rect x="553.75" y="86.83" width="14.40" height="1.51" fill="#beed52"/>
<rect x="553.75" y="88.15" width="14.40" height="2.83" fill="#d4ea3c"/>
<rect x="553.75" y="90.78" width="14.40" height="1.51" fill="#e5ca33"/>
<rect x="553.75" y="92.09" width="14.40" height="2.83" fill="#f6aa2a"/>
<rect x="553.75" y="94.72" width="14.40" height="1.51" fill="#88f4c8"/>
<rect x="553.75" y="96.04" width="14.40" height="1.51" fill="#beed52"/>
<rect x="553.75" y="97.35" width="14.40" height="1.51" fill="#98f298"/>
<rect x="553.75" y="98.67" width="14.40" height="1.51" fill="#d4ea3c"/>
<rect x="553.75" y="99.98" width="14.40" height="1.51" fill="#a8f068"/>
<rect x="553.75" y="101.30" width="14.40" height="1.51" fill="#7cf3dd"/>
<rect x="553.75" y="102.61" width="14.40" height="1.51" fill="#a8f068"/>
<rect x="553.75" y="103.93" width="14.40" height="1.51" fill="#88f4c8"/>
<rect x="553.75" y="105.24" width="14.40" height="1.51" fill="#beed52"/>
<rect x="553.75" y="106.56" width="14.40" height="1.51" fill="#88f4c8"/>
<rect x="553.75" y="107.87" width="14.40" height="1.51" fill="#98f298"/>
<rect x="553.75" y="109.19" width="14.40" height="1.51" fill="#a8f068"/>
<rect x="553.75" y="110.50" width="14.40" height="1.51" fill="#98f298"/>
<rect x="553.75" y="111.81" width="14.40" height="2.83" fill="#7cf3dd"/>
<rect x="553.75" y="114.44" width="14.40" height="1.51" fill="#98f298"/>
<rect x="553.75" y="115.76" width="14.40" height="1.51" fill="#beed52"/>
<rect x="553.75" y="117.07" width="14.40" height="2.83" fill="#88f4c8"/>
<rect x="553.75" y="119.70" width="14.40" height="1.51" fill="#98f298"/>
<rect x="553.75" y="121.02" width="14.40" height="1.51" fill="#a8f068"/>
<rect x="553.75" y="122.33" width="14.40" height="1.51" fill="#beed52"/>
<rect x="553.75" y="123.65" width="14.40" height="1.51" fill="#98f298"/>
<rect x="553.75" y="124.96" width="14.40" height="1.51" fill="#f66a1a"/>
<rect x="553.75" y="126.28" width="14.40" height="1.51" fill="#beed52"/>
<rect x="553.75" y="127.59" width="14.40" height="1.51" fill="#e5ca33"/>
<rect x="553.75" y="128.91" width="14.40" height="1.51" fill="#beed52"/>
<rect x="553.75" y="130.22" width="14.40" height="1.51" fill="#d4ea3c"/>
<rect x="553.75" y="131.54" width="14.40" height="1.51" fill="#e5ca33"/>
<rect x="553.75" y="132.85" width="14.40" height="2.83" fill="#d4ea3c"/>
<rect x="553.75" y="135.48" width="14.40" height="1.51" fill="#f34b12"/>
<rect x="553.75" y="136.80" width="14.40" height="1.51" fill="#e5ca33"/>
<rect x="553.75" y="138.11" width="14.40" height="1.51" fill="#f68a22"/>
<rect x="553.75" y="139.43" width="14.40" height="1.51" fill="#f34b12"/>
<rect x="553.75" y="140.74" width="14.40" height="1.51" fill="#f6aa2a"/>
<rect x="553.75" y="142.06" width="14.40" height="1.51" fill="#beed52"/>
<rect x="553.75" y="143.37" width="14.40" height="1.51" fill="#f68a22"/>
<rect x="553.75" y="144.69" width="14.40" height="1.51" fill="#d4ea3c"/>
<rect x="553.75" y="146.00" width="14.40" height="1.51" fill="#beed52"/>
<rect x="553.75" y="147.31" width="14.40" height="1.51" fill="#70f2f2"/>
<rect x="553.75" y="148.63" width="14.40" height="1.51" fill="#7cf3dd"/>
<rect x="553.75" y="149.94" width="14.40" height="1.51" fill="#70f2f2"/>
<rect x="553.75" y="151.26" width="14.40" height="1.51" fill="#88f4c8"/>
<rect x="553.75" y="152.57" width="14.40" height="1.51" fill="#70f2f2"/>
<rect x="553.75" y="153.89" width="14.40" height="1.51" fill="#88f4c8"/>
<rect x="553.75" y="155.20" width="14.40" height="1.51" fill="#7cf3dd"/>
<rect x="553.75" y="156.52" width="14.40" height="1.51" fill="#88f4c8"/>
<rect x="553.75" y="157.83" width="14.40" height="2.83" fill="#98f298"/>
<rect x="553.75" y="160.46" width="14.40" height="1.51" fill="#88f4c8"/>
<rect x="553.75" y="161.78" width="14.40" height="2.83" fill="#70f2f2"/>
<rect x="553.75" y="164.41" width="14.40" height="1.51" fill="#88f4c8"/>
<rect x="553.75" y="165.72" width="14.40" height="1.51" fill="#beed52"/>
<rect x="553.75" y="167.04" width="14.40" height="2.83" fill="#70f2f2"/>
<rect x="553.75" y="169.67" width="14.40" height="4.14" fill="#7cf3dd"/>
<rect x="553.75" y="173.61" width="14.40" height="1.51" fill="#88f4c8"/>
<rect x="553.75" y="174.93" width="14.40" height="1.51" fill="#a8f068"/>
<rect x="553.75" y="176.24" width="14.40" height="1.51" fill="#88f4c8"/>
<rect x="553.75" y="177.56" width="14.40" height="1.51" fill="#7cf3dd"/>
<rect x="553.75" y="178.87" width="14.40" height="1.51" fill="#70f2f2"/>
<rect x="553.75" y="180.19" width="14.40" height="1.51" fill="#98f298"/>
<rect x="553.75" y="181.50" width="14.40" height="1.51" fill="#7cf3dd"/>
<rect x="553.75" y="182.81" width="14.40" height="1.51" fill="#60d5f8"/>
<rect x="553.75" y="184.13" width="14.40" height="1.51" fill="#7cf3dd"/>
<rect x="553.75" y="185.44" width="14.40" height="1.51" fill="#88f4c8"/>
<rect x="553.75" y="186.76" width="14.40" height="1.51" fill="#a8f068"/>
<rect x="553.75" y="188.07" width="14.40" height="1.51" fill="#98f298"/>
<rect x="553.75" y="189.39" width="14.40" height="1.51" fill="#7cf3dd"/>
<rect x="553.75" y="190.70" width="14.40" height="2.83" fill="#98f298"/>
<rect x="553.75" y="193.33" width="14.40" height="1.51" fill="#88f4c8"/>
<rect x="553.75" y="194.65" width="14.40" height="1.51" fill="#beed52"/>
<rect x="553.75" y="195.96" width="14.40" height="1.51" fill="#70f2f2"/>
<rect x="553.75" y="197.28" width="14.40" height="1.51" fill="#7cf3dd"/>
<rect x="553.75" y="198.59" width="14.40" height="1.51" fill="#98f298"/>
<rect x="553.75" y="199.91" width="14.40" height="1.51" fill="#7cf3dd"/>
<rect x="553.75" y="201.22" width="14.40" height="1.51" fill="#a8f068"/>
<rect x="553.75" y="202.54" width="14.40" height="4.14" fill="#88f4c8"/>
<rect x="553.75" y="206.48" width="14.40" height="1.51" fill="#60d5f8"/>
<rect x="553.75" y="207.80" width="14.40" height="1.51" fill="#7cf3dd"/>
<rect x="553.75" y="209.11" width="14.40" height="1.51" fill="#d4ea3c"/>
<rect x="553.75" y="210.43" width="14.40" height="1.51" fill="#88f4c8"/>
<rect x="553.75" y="211.74" width="14.40" height="1.51" fill="#7cf3dd"/>
<rect x="553.75" y="213.06" width="14.40" height="4.14" fill="#98f298"/>
<rect x="567.85" y="75.00" width="14.40" height="1.51" fill="#beed52"/>
<rect x="567.85" y="76.31" width="14.40" height="1.51" fill="#d4ea3c"/>
<rect x="567.85" y="77.63" width="14.40" height="1.51" fill="#f6aa2a"/>
<rect x="567.85" y="78.94" width="14.40" height="1.51" fill="#d4ea3c"/>
<rect x="567.85" y="80.26" width="14.40" height="1.51" fill="#a8f068"/>
<rect x="567.85" y="81.57" width="14.40" height="2.83" fill="#d4ea3c"/>
<rect x="567.85" y="84.20" width="14.40" height="1.51" fill="#f6aa2a"/>
<rect x="567.85" y="85.52" width="14.40" height="1.51" fill="#beed52"/>
<rect x="567.85" y="86.83" width="14.40" height="1.51" fill="#a8f068"/>
<rect x="567.85" y="88.15" width="14.40" height="1.51" fill="#d4ea3c"/>
<rect x="567.85" y="89.46" width="14.40" height="1.51" fill="#f68a22"/>
<rect x="567.85" y="90.78" width="14.40" height="2.83" fill="#e5ca33"/>
<rect x="567.85" y="93.41" width="14.40" height="1.51" fill="#d4ea3c"/>
<rect x="567.85" y="94.72" width="14.40" height="2.83" fill="#e5ca33"/>
<rect x="567.85" y="97.35" width="14.40" height="1.51" fill="#d4ea3c"/>
<rect x="567.85" y="98.67" width="14.40" height="1.51" fill="#7cf3dd"/>
<rect x="567.85" y="99.98" width="14.40" height="1.51" fill="#d4ea3c"/>
<rect x="567.85" y="101.30" width="14.40" height="2.83" fill="#a8f068"/>
<rect x="567.85" y="103.93" width="14.40" height="1.51" fill="#f6aa2a"/>
<rect x="567.85" y="105.24" width="14.40" height="1.51" fill="#a8f068"/>
<rect x="567.85" y="106.56" width="14.40" height="1.51" fill="#f6aa2a"/>
<rect x="567.85" y="107.87" width="14.40" height="1.51" fill="#d4ea3c"/>
<rect x="567.85" y="109.19" width="14.40" height="1.51" fill="#98f298"/>
<rect x="567.85" y="110.50" width="14.40" height="1.51" fill="#beed52"/>
<rect x="567.85" y="111.81" width="14.40" height="1.51" fill="#a8f068"/>
<rect x="567.85" y="113.13" width="14.40" height="1.51" fill="#beed52"/>
<rect x="567.85" y="114.44" width="14.40" height="1.51" fill="#70f2f2"/>
<rect x="567.85" y="115.76" width="14.40" height="1.51" fill="#a8f068"/>
<rect x="567.85" y="117.07" width="14.40" height="2.83" fill="#f6aa2a"/>
<rect x="567.85" y="119.70" width="14.40" height="1.51" fill="#f02c0a"/>
<rect x="567.85" y="121.02" width="14.40" height="1.51" fill="#f68a22"/>
<rect x="567.85" y="122.33" width="14.40" height="1.51" fill="#f34b12"/>
<rect x="567.85" y="123.65" width="14.40" height="2.83" fill="#f68a22"/>
<rect x="567.85" y="126.28" width="14.40" height="1.51" fill="#e5ca33"/>
<rect x="567.85" y="127.59" width="14.40" height="1.51" fill="#f68a22"/>
<rect x="567.85" y="128.91" width="14.40" height="1.51" fill="#f66a1a"/>
<rect x="567.85" y="130.22" width="14.40" height="1.51" fill="#f6aa2a"/>
<rect x="567.85" y="131.54" width="14.40" height="1.51" fill="#f68a22"/>
<rect x="567.85" y="132.85" width="14.40" height="1.51" fill="#e5ca33"/>
<rect x="567.85" y="134.17" width="14.40" height="1.51" fill="#beed52"/>
<rect x="567.85" y="135.48" width="14.40" height="1.51" fill="#a8f068"/>
<rect x="567.85" y="136.80" width="14.40" height="2.83" fill="#beed52"/>
<rect x="567.85" y="139.43" width="14.40" height="1.51" fill="#a8f068"/>
<rect x="567.85" y="140.74" width="14.40" height="1.51" fill="#d4ea3c"/>
<rect x="567.85" y="142.06" width="14.40" height="1.51" fill="#98f298"/>
<rect x="567.85" y="143.37" width="14.40" height="1.51" fill="#f68a22"/>
<rect x="567.85" y="144.69" width="14.40" height="1.51" fill="#a8f068"/>
<rect x="567.85" y="146.00" width="14.40" height="1.51" fill="#7cf3dd"/>
<rect x="567.85" y="147.31" width="14.40" height="1.51" fill="#70f2f2"/>
<rect x="567.85" y="148.63" width="14.40" height="1.51" fill="#a8f068"/>
<rect x="567.85" y="149.94" width="14.40" height="1.51" fill="#98f298"/>
<rect x="567.85" y="151.26" width="14.40" height="1.51" fill="#7cf3dd"/>
<rect x="567.85" y="152.57" width="14.40" height="1.51" fill="#50b8ff"/>
<rect x="567.85" y="153.89" width="14.40" height="1.51" fill="#70f2f2"/>
<rect x="567.85" y="155.20" width="14.40" height="1.51" fill="#88f4c8"/>
<rect x="567.85" y="156.52" width="14.40" height="1.51" fill="#7cf3dd"/>
<rect x="567.85" y="157.83" width="14.40" height="2.83" fill="#60d5f8"/>
<rect x="567.85" y="160.46" width="14.40" height="1.51" fill="#70f2f2"/>
<rect x="567.85" y="161.78" width="14.40" height="1.51" fill="#7cf3dd"/>
<rect x="567.85" y="163.09" width="14.40" height="1.51" fill="#70f2f2"/>
<rect x="567.85" y="164.41" width="14.40" height="1.51" fill="#7cf3dd"/>
<rect x="567.85" y="165.72" width="14.40" height="1.51" fill="#beed52"/>
<rect x="567.85" y="167.04" width="14.40" height="1.51" fill="#98f298"/>
<rect x="567.85" y="168.35" width="14.40" height="1.51" fill="#60d5f8"/>
<rect x="567.85" y="169.67" width="14.40" height="2.83" fill="#88f4c8"/>
<rect x="567.85" y="172.30" width="14.40" height="1.51" fill="#7cf3dd"/>
<rect x="567.85" y="173.61" width="14.40" height="1.51" fill="#98f298"/>
<rect x="567.85" y="174.93" width="14.40" height="2.83" fill="#7cf3dd"/>
<rect x="567.85" y="177.56" width="14.40" height="1.51" fill="#70f2f2"/>
<rect x="567.85" y="178.87" width="14.40" height="1.51" fill="#7cf3dd"/>
<rect x="567.85" y="180.19" width="14.40" height="1.51" fill="#a8f068"/>
<rect x="567.85" y="181.50" width="14.40" height="1.51" fill="#88f4c8"/>
<rect x="567.85" y="182.81" width="14.40" height="1.51" fill="#50b8ff"/>
<rect x="567.85" y="184.13" width="14.40" height="1.51" fill="#7cf3dd"/>
<rect x="567.85" y="185.44" width="14.40" height="1.51" fill="#70f2f2"/>
<rect x="567.85" y="186.76" width="14.40" height="1.51" fill="#98f298"/>
<rect x="567.85" y="188.07" width="14.40" height="1.51" fill="#88f4c8"/>
<rect x="567.85" y="189.39" width="14.40" height="1.51" fill="#7cf3dd"/>
<rect x="567.85" y="190.70" width="14.40" height="1.51" fill="#88f4c8"/>
<rect x="567.85" y="192.02" width="14.40" height="1.51" fill="#60d5f8"/>
<rect x="567.85" y="193.33" width="14.40" height="4.14" fill="#88f4c8"/>
<rect x="567.85" y="197.28" width="14.40" height="1.51" fill="#50b8ff"/>
<rect x="567.85" y="198.59" width="14.40" height="1.51" fill="#7cf3dd"/>
<rect x="567.85" y="199.91" width="14.40" height="2.83" fill="#70f2f2"/>
<rect x="567.85" y="202.54" width="14.40" height="1.51" fill="#88f4c8"/>
<rect x="567.85" y="203.85" width="14.40" height="1.51" fill="#7cf3dd"/>
<rect x="567.85" y="205.17" width="14.40" height="1.51" fill="#70f2f2"/>
<rect x="567.85" y="206.48" width="14.40" height="2.83" fill="#50b8ff"/>
<rect x="567.85" y="209.11" width="14.40" height="1.51" fill="#7cf3dd"/>
<rect x="567.85" y="210.43" width="14.40" height="1.51" fill="#88f4c8"/>
<rect x="567.85" y="211.74" width="14.40" height="1.51" fill="#70f2f2"/>
<rect x="567.85" y="213.06" width="14.40" height="1.51" fill="#3884ff"/>
<rect x="567.85" y="214.37" width="14.40" height="1.51" fill="#70f2f2"/>
<rect x="567.85" y="215.69" width="14.40" height="1.51" fill="#88f4c8"/>
<rect x="581.95" y="75.00" width="14.40" height="2.83" fill="#98f298"/>
<rect x="581.95" y="77.63" width="14.40" height="1.51" fill="#88f4c8"/>
<rect x="581.95" y="78.94" width="14.40" height="1.51" fill="#7cf3dd"/>
<rect x="581.95" y="80.26" width="14.40" height="1.51" fill="#60d5f8"/>
<rect x="581.95" y="81.57" width="14.40" height="1.51" fill="#70f2f2"/>
<rect x="581.95" y="82.89" width="14.40" height="4.14" fill="#7cf3dd"/>
<rect x="581.95" y="86.83" width="14.40" height="1.51" fill="#70f2f2"/>
<rect x="581.95" y="88.15" width="14.40" height="1.51" fill="#88f4c8"/>
<rect x="581.95" y="89.46" width="14.40" height="1.51" fill="#a8f068"/>
<rect x="581.95" y="90.78" width="14.40" height="1.51" fill="#98f298"/>
<rect x="581.95" y="92.09" width="14.40" height="1.51" fill="#88f4c8"/>
<rect x="581.95" y="93.41" width="14.40" height="1.51" fill="#7cf3dd"/>
<rect x="581.95" y="94.72" width="14.40" height="1.51" fill="#60d5f8"/>
<rect x="581.95" y="96.04" width="14.40" height="1.51" fill="#98f298"/>
<rect x="581.95" y="97.35" width="14.40" height="1.51" fill="#88f4c8"/>
<rect x="581.95" y="98.67" width="14.40" height="1.51" fill="#60d5f8"/>
<rect x="581.95" y="99.98" width="14.40" height="1.51" fill="#88f4c8"/>
<rect x="581.95" y="101.30" width="14.40" height="1.51" fill="#7cf3dd"/>
<rect x="581.95" y="102.61" width="14.40" height="1.51" fill="#88f4c8"/>
<rect x="581.95" y="103.93" width="14.40" height="1.51" fill="#70f2f2"/>
<rect x="581.95" y="105.24" width="14.40" height="1.51" fill="#60d5f8"/>
<rect x="581.95" y="106.56" width="14.40" height="1.51" fill="#beed52"/>
<rect x="581.95" y="107.87" width="14.40" height="1.51" fill="#70f2f2"/>
<rect x="581.95" y="109.19" width="14.40" height="1.51" fill="#98f298"/>
<rect x="581.95" y="110.50" width="14.40" height="1.51" fill="#70f2f2"/>
<rect x="581.95" y="111.81" width="14.40" height="1.51" fill="#7cf3dd"/>
<rect x="581.95" y="113.13" width="14.40" height="2.83" fill="#70f2f2"/>
<rect x="581.95" y="115.76" width="14.40" height="1.51" fill="#88f4c8"/>
<rect x="581.95" y="117.07" width="14.40" height="1.51" fill="#98f298"/>
<rect x="581.95" y="118.39" width="14.40" height="1.51" fill="#70f2f2"/>
<rect x="581.95" y="119.70" width="14.40" height="1.51" fill="#7cf3dd"/>
<rect x="581.95" y="121.02" width="14.40" height="1.51" fill="#98f298"/>
<rect x="581.95" y="122.33" width="14.40" height="2.83" fill="#88f4c8"/>
<rect x="581.95" y="124.96" width="14.40" height="2.83" fill="#7cf3dd"/>
<rect x="581.95" y="127.59" width="14.40" height="1.51" fill="#88f4c8"/>
<rect x="581.95" y="128.91" width="14.40" height="1.51" fill="#98f298"/>
<rect x="581.95" y="130.22" width="14.40" height="1.51" fill="#88f4c8"/>
<rect x="581.95" y="131.54" width="14.40" height="1.51" fill="#70f2f2"/>
<rect x="581.95" y="132.85" width="14.40" height="1.51" fill="#88f4c8"/>
<rect x="581.95" y="134.17" width="14.40" height="1.51" fill="#60d5f8"/>
<rect x="581.95" y="135.48" width="14.40" height="4.14" fill="#98f298"/>
<rect x="581.95" y="139.43" width="14.40" height="1.51" fill="#70f2f2"/>
<rect x="581.95" y="140.74" width="14.40" height="1.51" fill="#98f298"/>
<rect x="581.95" y="142.06" width="14.40" height="1.51" fill="#7cf3dd"/>
<rect x="581.95" y="143.37" width="14.40" height="2.83" fill="#70f2f2"/>
<rect x="581.95" y="146.00" width="14.40" height="1.51" fill="#d4ea3c"/>
<rect x="581.95" y="147.31" width="14.40" height="1.51" fill="#98f298"/>
<rect x="581.95" y="148.63" width="14.40" height="1.51" fill="#a8f068"/>
<rect x="581.95" y="149.94" width="14.40" height="1.51" fill="#98f298"/>
<rect x="581.95" y="151.26" width="14.40" height="1.51" fill="#7cf3dd"/>
<rect x="581.95" y="152.57" width="14.40" height="1.51" fill="#88f4c8"/>
<rect x="581.95" y="153.89" width="14.40" height="4.14" fill="#a8f068"/>
<rect x="581.95" y="157.83" width="14.40" height="1.51" fill="#70f2f2"/>
<rect x="581.95" y="159.15" width="14.40" height="5.46" fill="#beed52"/>
<rect x="581.95" y="164.41" width="14.40" height="1.51" fill="#98f298"/>
<rect x="581.95" y="165.72" width="14.40" height="1.51" fill="#88f4c8"/>
<rect x="581.95" y="167.04" width="14.40" height="1.51" fill="#98f298"/>
<rect x="581.95" y="168.35" width="14.40" height="1.51" fill="#d4ea3c"/>
<rect x="581.95" y="169.67" width="14.40" height="1.51" fill="#7cf3dd"/>
<rect x="581.95" y="170.98" width="14.40" height="1.51" fill="#a8f068"/>
<rect x="581.95" y="172.30" width="14.40" height="1.51" fill="#98f298"/>
<rect x="581.95" y="173.61" width="14.40" height="1.51" fill="#beed52"/>
<rect x="581.95" y="174.93" width="14.40" height="1.51" fill="#d4ea3c"/>
<rect x="581.95" y="176.24" width="14.40" height="1.51" fill="#98f298"/>
<rect x="581.95" y="177.56" width="14.40" height="1.51" fill="#7cf3dd"/>
<rect x="581.95" y="178.87" width="14.40" height="2.83" fill="#a8f068"/>
<rect x="581.95" y="181.50" width="14.40" height="1.51" fill="#7cf3dd"/>
<rect x="581.95" y="182.81" width="14.40" height="4.14" fill="#a8f068"/>
<rect x="581.95" y="186.76" width="14.40" height="1.51" fill="#88f4c8"/>
<rect x="581.95" y="188.07" width="14.40" height="1.51" fill="#beed52"/>
<rect x="581.95" y="189.39" width="14.40" height="1.51" fill="#70f2f2"/>
<rect x="581.95" y="190.70" width="14.40" height="1.51" fill="#d4ea3c"/>
<rect x="581.95" y="192.02" width="14.40" height="1.51" fill="#88f4c8"/>
<rect x="581.95" y="193.33" width="14.40" height="1.51" fill="#beed52"/>
<rect x="581.95" y="194.65" width="14.40" height="1.51" fill="#98f298"/>
<rect x="581.95" y="195.96" width="14.40" height="1.51" fill="#d4ea3c"/>
<rect x="581.95" y="197.28" width="14.40" height="1.51" fill="#e5ca33"/>
<rect x="581.95" y="198.59" width="14.40" height="1.51" fill="#f6aa2a"/>
<rect x="581.95" y="199.91" width="14.40" height="1.51" fill="#e5ca33"/>
<rect x="581.95" y="201.22" width="14.40" height="1.51" fill="#f6aa2a"/>
<rect x="581.95" y="202.54" width="14.40" height="1.51" fill="#f68a22"/>
<rect x="581.95" y="203.85" width="14.40" height="1.51" fill="#f6aa2a"/>
<rect x="581.95" y="205.17" width="14.40" height="1.51" fill="#a8f068"/>
<rect x="581.95" y="206.48" width="14.40" height="1.51" fill="#e5ca33"/>
<rect x="581.95" y="207.80" width="14.40" height="4.14" fill="#f68a22"/>
<rect x="581.95" y="211.74" width="14.40" height="1.51" fill="#d4ea3c"/>
<rect x="581.95" y="213.06" width="14.40" height="1.51" fill="#f34b12"/>
<rect x="581.95" y="214.37" width="14.40" height="2.83" fill="#f68a22"/>
<rect x="596.05" y="75.00" width="14.40" height="1.51" fill="#98f298"/>
<rect x="596.05" y="76.31" width="14.40" height="1.51" fill="#a8f068"/>
<rect x="596.05" y="77.63" width="14.40" height="1.51" fill="#98f298"/>
<rect x="596.05" y="78.94" width="14.40" height="1.51" fill="#7cf3dd"/>
<rect x="596.05" y="80.26" width="14.40" height="2.83" fill="#98f298"/>
<rect x="596.05" y="82.89" width="14.40" height="1.51" fill="#60d5f8"/>
<rect x="596.05" y="84.20" width="14.40" height="1.51" fill="#7cf3dd"/>
<rect x="596.05" y="85.52" width="14.40" height="1.51" fill="#88f4c8"/>
<rect x="596.05" y="86.83" width="14.40" height="1.51" fill="#7cf3dd"/>
<rect x="596.05" y="88.15" width="14.40" height="4.14" fill="#98f298"/>
<rect x="596.05" y="92.09" width="14.40" height="1.51" fill="#beed52"/>
<rect x="596.05" y="93.41" width="14.40" height="2.83" fill="#7cf3dd"/>
<rect x="596.05" y="96.04" width="14.40" height="1.51" fill="#a8f068"/>
<rect x="596.05" y="97.35" width="14.40" height="2.83" fill="#98f298"/>
<rect x="596.05" y="99.98" width="14.40" height="1.51" fill="#a8f068"/>
<rect x="596.05" y="101.30" width="14.40" height="1.51" fill="#7cf3dd"/>
<rect x="596.05" y="102.61" width="14.40" height="1.51" fill="#a8f068"/>
<rect x="596.05" y="103.93" width="14.40" height="1.51" fill="#98f298"/>
<rect x="596.05" y="105.24" width="14.40" height="1.51" fill="#70f2f2"/>
<rect x="596.05" y="106.56" width="14.40" height="1.51" fill="#88f4c8"/>
<rect x="596.05" y="107.87" width="14.40" height="1.51" fill="#d4ea3c"/>
<rect x="596.05" y="109.19" width="14.40" height="1.51" fill="#a8f068"/>
<rect x="596.05" y="110.50" width="14.40" height="1.51" fill="#7cf3dd"/>
<rect x="596.05" y="111.81" width="14.40" height="1.51" fill="#3884ff"/>
<rect x="596.05" y="113.13" width="14.40" height="1.51" fill="#7cf3dd"/>
<rect x="596.05" y="114.44" width="14.40" height="1.51" fill="#50b8ff"/>
<rect x="596.05" y="115.76" width="14.40" height="1.51" fill="#70f2f2"/>
<rect x="596.05" y="117.07" width="14.40" height="1.51" fill="#88f4c8"/>
<rect x="596.05" y="118.39" width="14.40" height="1.51" fill="#7cf3dd"/>
<rect x="596.05" y="119.70" width="14.40" height="1.51" fill="#70f2f2"/>
<rect x="596.05" y="121.02" width="14.40" height="1.51" fill="#50b8ff"/>
<rect x="596.05" y="122.33" width="14.40" height="1.51" fill="#70f2f2"/>
<rect x="596.05" y="123.65" width="14.40" height="2.83" fill="#60d5f8"/>
<rect x="596.05" y="126.28" width="14.40" height="1.51" fill="#98f298"/>
<rect x="596.05" y="127.59" width="14.40" height="2.83" fill="#60d5f8"/>
<rect x="596.05" y="130.22" width="14.40" height="1.51" fill="#7cf3dd"/>
<rect x="596.05" y="131.54" width="14.40" height="1.51" fill="#70f2f2"/>
<rect x="596.05" y="132.85" width="14.40" height="1.51" fill="#50b8ff"/>
<rect x="596.05" y="134.17" width="14.40" height="1.51" fill="#beed52"/>
<rect x="596.05" y="135.48" width="14.40" height="1.51" fill="#98f298"/>
<rect x="596.05" y="136.80" width="14.40" height="1.51" fill="#7cf3dd"/>
<rect x="596.05" y="138.11" width="14.40" height="1.51" fill="#beed52"/>
<rect x="596.05" y="139.43" width="14.40" height="1.51" fill="#a8f068"/>
<rect x="596.05" y="140.74" width="14.40" height="1.51" fill="#98f298"/>
<rect x="596.05" y="142.06" width="14.40" height="1.51" fill="#a8f068"/>
<rect x="596.05" y="143.37" width="14.40" height="1.51" fill="#beed52"/>
<rect x="596.05" y="144.69" width="14.40" height="2.83" fill="#7cf3dd"/>
<rect x="596.05" y="147.31" width="14.40" height="1.51" fill="#60d5f8"/>
<rect x="596.05" y="148.63" width="14.40" height="1.51" fill="#a8f068"/>
<rect x="596.05" y="149.94" width="14.40" height="4.14" fill="#beed52"/>
<rect x="596.05" y="153.89" width="14.40" height="1.51" fill="#d4ea3c"/>
<rect x="596.05" y="155.20" width="14.40" height="1.51" fill="#a8f068"/>
<rect x="596.05" y="156.52" width="14.40" height="1.51" fill="#d4ea3c"/>
<rect x="596.05" y="157.83" width="14.40" height="1.51" fill="#7cf3dd"/>
<rect x="596.05" y="159.15" width="14.40" height="1.51" fill="#beed52"/>
<rect x="596.05" y="160.46" width="14.40" height="1.51" fill="#a8f068"/>
<rect x="596.05" y="161.78" width="14.40" height="2.83" fill="#98f298"/>
<rect x="596.05" y="164.41" width="14.40" height="1.51" fill="#88f4c8"/>
<rect x="596.05" y="165.72" width="14.40" height="1.51" fill="#98f298"/>
<rect x="596.05" y="167.04" width="14.40" height="1.51" fill="#beed52"/>
<rect x="596.05" y="168.35" width="14.40" height="1.51" fill="#88f4c8"/>
<rect x="596.05" y="169.67" width="14.40" height="1.51" fill="#a8f068"/>
<rect x="596.05" y="170.98" width="14.40" height="1.51" fill="#98f298"/>
<rect x="596.05" y="172.30" width="14.40" height="1.51" fill="#a8f068"/>
<rect x="596.05" y="173.61" width="14.40" height="1.51" fill="#88f4c8"/>
<rect x="596.05" y="174.93" width="14.40" height="1.51" fill="#a8f068"/>
<rect x="596.05" y="176.24" width="14.40" height="1.51" fill="#98f298"/>
<rect x="596.05" y="177.56" width="14.40" height="1.51" fill="#a8f068"/>
<rect x="596.05" y="178.87" width="14.40" height="1.51" fill="#98f298"/>
<rect x="596.05" y="180.19" width="14.40" height="1.51" fill="#88f4c8"/>
<rect x="596.05" y="181.50" width="14.40" height="1.51" fill="#98f298"/>
<rect x="596.05" y="182.81" width="14.40" height="1.51" fill="#a8f068"/>
<rect x="596.05" y="184.13" width="14.40" height="1.51" fill="#e5ca33"/>
<rect x="596.05" y="185.44" width="14.40" height="1.51" fill="#98f298"/>
<rect x="596.05" y="186.76" width="14.40" height="2.83" fill="#beed52"/>
<rect x="596.05" y="189.39" width="14.40" height="1.51" fill="#98f298"/>
<rect x="596.05" y="190.70" width="14.40" height="1.51" fill="#88f4c8"/>
<rect x="596.05" y="192.02" width="14.40" height="1.51" fill="#beed52"/>
<rect x="596.05" y="193.33" width="14.40" height="1.51" fill="#88f4c8"/>
<rect x="596.05" y="194.65" width="14.40" height="1.51" fill="#beed52"/>
<rect x="596.05" y="195.96" width="14.40" height="1.51" fill="#f68a22"/>
<rect x="596.05" y="197.28" width="14.40" height="1.51" fill="#f6aa2a"/>
<rect x="596.05" y="198.59" width="14.40" height="1.51" fill="#a8f068"/>
<rect x="596.05" y="199.91" width="14.40" height="1.51" fill="#f68a22"/>
<rect x="596.05" y="201.22" width="14.40" height="1.51" fill="#f66a1a"/>
<rect x="596.05" y="202.54" width="14.40" height="1.51" fill="#d4ea3c"/>
<rect x="596.05" y="203.85" width="14.40" height="1.51" fill="#f66a1a"/>
<rect x="596.05" y="205.17" width="14.40" height="1.51" fill="#f68a22"/>
<rect x="596.05" y="206.48" width="14.40" height="5.46" fill="#e5ca33"/>
<rect x="596.05" y="211.74" width="14.40" height="1.51" fill="#f02c0a"/>
<rect x="596.05" y="213.06" width="14.40" height="2.83" fill="#f6aa2a"/>
<rect x="596.05" y="215.69" width="14.40" height="1.51" fill="#e5ca33"/>
<rect x="610.15" y="75.00" width="14.40" height="1.51" fill="#0000ff"/>
<rect x="610.15" y="76.31" width="14.40" height="2.83" fill="#1028ff"/>
<rect x="610.15" y="78.94" width="14.40" height="1.51" fill="#3884ff"/>
<rect x="610.15" y="80.26" width="14.40" height="1.51" fill="#60d5f8"/>
<rect x="610.15" y="81.57" width="14.40" height="1.51" fill="#88f4c8"/>
<rect x="610.15" y="82.89" width="14.40" height="1.51" fill="#60d5f8"/>
<rect x="610.15" y="84.20" width="14.40" height="1.51" fill="#88f4c8"/>
<rect x="610.15" y="85.52" width="14.40" height="1.51" fill="#70f2f2"/>
<rect x="610.15" y="86.83" width="14.40" height="2.83" fill="#2050ff"/>
<rect x="610.15" y="89.46" width="14.40" height="1.51" fill="#1028ff"/>
<rect x="610.15" y="90.78" width="14.40" height="1.51" fill="#60d5f8"/>
<rect x="610.15" y="92.09" width="14.40" height="2.83" fill="#70f2f2"/>
<rect x="610.15" y="94.72" width="14.40" height="1.51" fill="#60d5f8"/>
<rect x="610.15" y="96.04" width="14.40" height="1.51" fill="#88f4c8"/>
<rect x="610.15" y="97.35" width="14.40" height="4.14" fill="#70f2f2"/>
<rect x="610.15" y="101.30" width="14.40" height="1.51" fill="#60d5f8"/>
<rect x="610.15" y="102.61" width="14.40" height="1.51" fill="#50b8ff"/>
<rect x="610.15" y="103.93" width="14.40" height="1.51" fill="#7cf3dd"/>
<rect x="610.15" y="105.24" width="14.40" height="2.83" fill="#88f4c8"/>
<rect x="610.15" y="107.87" width="14.40" height="1.51" fill="#60d5f8"/>
<rect x="610.15" y="109.19" width="14.40" height="1.51" fill="#88f4c8"/>
<rect x="610.15" y="110.50" width="14.40" height="1.51" fill="#7cf3dd"/>
<rect x="610.15" y="111.81" width="14.40" height="1.51" fill="#70f2f2"/>
<rect x="610.15" y="113.13" width="14.40" height="1.51" fill="#7cf3dd"/>
<rect x="610.15" y="114.44" width="14.40" height="1.51" fill="#60d5f8"/>
<rect x="610.15" y="115.76" width="14.40" height="2.83" fill="#7cf3dd"/>
<rect x="610.15" y="118.39" width="14.40" height="1.51" fill="#70f2f2"/>
<rect x="610.15" y="119.70" width="14.40" height="1.51" fill="#50b8ff"/>
<rect x="610.15" y="121.02" width="14.40" height="1.51" fill="#70f2f2"/>
<rect x="610.15" y="122.33" width="14.40" height="1.51" fill="#98f298"/>
<rect x="610.15" y="123.65" width="14.40" height="1.51" fill="#50b8ff"/>
<rect x="610.15" y="124.96" width="14.40" height="1.51" fill="#70f2f2"/>
<rect x="610.15" y="126.28" width="14.40" height="1.51" fill="#7cf3dd"/>
<rect x="610.15" y="127.59" width="14.40" height="1.51" fill="#70f2f2"/>
<rect x="610.15" y="128.91" width="14.40" height="1.51" fill="#7cf3dd"/>
<rect x="610.15" y="130.22" width="14.40" height="1.51" fill="#50b8ff"/>
<rect x="610.15" y="131.54" width="14.40" height="1.51" fill="#88f4c8"/>
<rect x="610.15" y="132.85" width="14.40" height="1.51" fill="#98f298"/>
<rect x="610.15" y="134.17" width="14.40" height="1.51" fill="#60d5f8"/>
<rect x="610.15" y="135.48" width="14.40" height="1.51" fill="#70f2f2"/>
<rect x="610.15" y="136.80" width="14.40" height="1.51" fill="#50b8ff"/>
<rect x="610.15" y="138.11" width="14.40" height="1.51" fill="#98f298"/>
<rect x="610.15" y="139.43" width="14.40" height="2.83" fill="#70f2f2"/>
<rect x="610.15" y="142.06" width="14.40" height="2.83" fill="#88f4c8"/>
<rect x="610.15" y="144.69" width="14.40" height="1.51" fill="#7cf3dd"/>
<rect x="610.15" y="146.00" width="14.40" height="1.51" fill="#d4ea3c"/>
<rect x="610.15" y="147.31" width="14.40" height="1.51" fill="#f6aa2a"/>
<rect x="610.15" y="148.63" width="14.40" height="1.51" fill="#f66a1a"/>
<rect x="610.15" y="149.94" width="14.40" height="1.51" fill="#e5ca33"/>
<rect x="610.15" y="151.26" width="14.40" height="1.51" fill="#f68a22"/>
<rect x="610.15" y="152.57" width="14.40" height="2.83" fill="#f66a1a"/>
<rect x="610.15" y="155.20" width="14.40" height="1.51" fill="#e5ca33"/>
<rect x="610.15" y="156.52" width="14.40" height="1.51" fill="#f6aa2a"/>
<rect x="610.15" y="157.83" width="14.40" height="1.51" fill="#f68a22"/>
<rect x="610.15" y="159.15" width="14.40" height="4.14" fill="#f66a1a"/>
<rect x="610.15" y="163.09" width="14.40" height="1.51" fill="#f6aa2a"/>
<rect x="610.15" y="164.41" width="14.40" height="1.51" fill="#e5ca33"/>
<rect x="610.15" y="165.72" width="14.40" height="1.51" fill="#beed52"/>
<rect x="610.15" y="167.04" width="14.40" height="1.51" fill="#f68a22"/>
<rect x="610.15" y="168.35" width="14.40" height="1.51" fill="#f34b12"/>
<rect x="610.15" y="169.67" width="14.40" height="2.83" fill="#f6aa2a"/>
<rect x="610.15" y="172.30" width="14.40" height="1.51" fill="#f66a1a"/>
<rect x="610.15" y="173.61" width="14.40" height="1.51" fill="#f68a22"/>
<rect x="610.15" y="174.93" width="14.40" height="1.51" fill="#d4ea3c"/>
<rect x="610.15" y="176.24" width="14.40" height="1.51" fill="#e5ca33"/>
<rect x="610.15" y="177.56" width="14.40" height="1.51" fill="#d4ea3c"/>
<rect x="610.15" y="178.87" width="14.40" height="1.51" fill="#f02c0a"/>
<rect x="610.15" y="180.19" width="14.40" height="1.51" fill="#f6aa2a"/>
<rect x="610.15" y="181.50" width="14.40" height="1.51" fill="#f68a22"/>
<rect x="610.15" y="182.81" width="14.40" height="1.51" fill="#f66a1a"/>
<rect x="610.15" y="184.13" width="14.40" height="1.51" fill="#f02c0a"/>
<rect x="610.15" y="185.44" width="14.40" height="1.51" fill="#f66a1a"/>
<rect x="610.15" y="186.76" width="14.40" height="1.51" fill="#f34b12"/>
<rect x="610.15" y="188.07" width="14.40" height="2.83" fill="#a8f068"/>
<rect x="610.15" y="190.70" width="14.40" height="2.83" fill="#d4ea3c"/>
<rect x="610.15" y="193.33" width="14.40" height="1.51" fill="#f68a22"/>
<rect x="610.15" y="194.65" width="14.40" height="1.51" fill="#98f298"/>
<rect x="610.15" y="195.96" width="14.40" height="1.51" fill="#d4ea3c"/>
<rect x="610.15" y="197.28" width="14.40" height="1.51" fill="#98f298"/>
<rect x="610.15" y="198.59" width="14.40" height="2.83" fill="#e5ca33"/>
<rect x="610.15" y="201.22" width="14.40" height="1.51" fill="#beed52"/>
<rect x="610.15" y="202.54" width="14.40" height="1.51" fill="#f68a22"/>
<rect x="610.15" y="203.85" width="14.40" height="1.51" fill="#beed52"/>
<rect x="610.15" y="205.17" width="14.40" height="1.51" fill="#f6aa2a"/>
<rect x="610.15" y="206.48" width="14.40" height="8.09" fill="#beed52"/>
<rect x="610.15" y="214.37" width="14.40" height="1.51" fill="#f68a22"/>
<rect x="610.15" y="215.69" width="14.40" height="1.51" fill="#beed52"/>
<rect x="624.25" y="75.00" width="14.40" height="1.51" fill="#60d5f8"/>
<rect x="624.25" y="76.31" width="14.40" height="2.83" fill="#70f2f2"/>
<rect x="624.25" y="78.94" width="14.40" height="1.51" fill="#50b8ff"/>
<rect x="624.25" y="80.26" width="14.40" height="1.51" fill="#60d5f8"/>
<rect x="624.25" y="81.57" width="14.40" height="1.51" fill="#88f4c8"/>
<rect x="624.25" y="82.89" width="14.40" height="4.14" fill="#7cf3dd"/>
<rect x="624.25" y="86.83" width="14.40" height="4.14" fill="#88f4c8"/>
<rect x="624.25" y="90.78" width="14.40" height="2.83" fill="#7cf3dd"/>
<rect x="624.25" y="93.41" width="14.40" height="2.83" fill="#70f2f2"/>
<rect x="624.25" y="96.04" width="14.40" height="1.51" fill="#7cf3dd"/>
<rect x="624.25" y="97.35" width="14.40" height="6.77" fill="#70f2f2"/>
<rect x="624.25" y="103.93" width="14.40" height="1.51" fill="#98f298"/>
<rect x="624.25" y="105.24" width="14.40" height="1.51" fill="#70f2f2"/>
<rect x="624.25" y="106.56" width="14.40" height="1.51" fill="#60d5f8"/>
<rect x="624.25" y="107.87" width="14.40" height="1.51" fill="#88f4c8"/>
<rect x="624.25" y="109.19" width="14.40" height="1.51" fill="#70f2f2"/>
<rect x="624.25" y="110.50" width="14.40" height="1.51" fill="#60d5f8"/>
<rect x="624.25" y="111.81" width="14.40" height="1.51" fill="#70f2f2"/>
<rect x="624.25" y="113.13" width="14.40" height="1.51" fill="#60d5f8"/>
<rect x="624.25" y="114.44" width="14.40" height="1.51" fill="#1028ff"/>
<rect x="624.25" y="115.76" width="14.40" height="2.83" fill="#7cf3dd"/>
<rect x="624.25" y="118.39" width="14.40" height="1.51" fill="#50b8ff"/>
<rect x="624.25" y="119.70" width="14.40" height="1.51" fill="#60d5f8"/>
<rect x="624.25" y="121.02" width="14.40" height="1.51" fill="#88f4c8"/>
<rect x="624.25" y="122.33" width="14.40" height="1.51" fill="#70f2f2"/>
<rect x="624.25" y="123.65" width="14.40" height="2.83" fill="#60d5f8"/>
<rect x="624.25" y="126.28" width="14.40" height="1.51" fill="#70f2f2"/>
<rect x="624.25" y="127.59" width="14.40" height="1.51" fill="#50b8ff"/>
<rect x="624.25" y="128.91" width="14.40" height="1.51" fill="#98f298"/>
<rect x="624.25" y="130.22" width="14.40" height="2.83" fill="#7cf3dd"/>
<rect x="624.25" y="132.85" width="14.40" height="1.51" fill="#70f2f2"/>
<rect x="624.25" y="134.17" width="14.40" height="1.51" fill="#3884ff"/>
<rect x="624.25" y="135.48" width="14.40" height="1.51" fill="#7cf3dd"/>
<rect x="624.25" y="136.80" width="14.40" height="1.51" fill="#50b8ff"/>
<rect x="624.25" y="138.11" width="14.40" height="1.51" fill="#88f4c8"/>
<rect x="624.25" y="139.43" width="14.40" height="1.51" fill="#60d5f8"/>
<rect x="624.25" y="140.74" width="14.40" height="1.51" fill="#7cf3dd"/>
<rect x="624.25" y="142.06" width="14.40" height="1.51" fill="#70f2f2"/>
<rect x="624.25" y="143.37" width="14.40" height="1.51" fill="#98f298"/>
<rect x="624.25" y="144.69" width="14.40" height="1.51" fill="#88f4c8"/>
<rect x="624.25" y="146.00" width="14.40" height="1.51" fill="#d4ea3c"/>
<rect x="624.25" y="147.31" width="14.40" height="1.51" fill="#e5ca33"/>
<rect x="624.25" y="148.63" width="14.40" height="1.51" fill="#f66a1a"/>
<rect x="624.25" y="149.94" width="14.40" height="1.51" fill="#f6aa2a"/>
<rect x="624.25" y="151.26" width="14.40" height="1.51" fill="#d4ea3c"/>
<rect x="624.25" y="152.57" width="14.40" height="2.83" fill="#e5ca33"/>
<rect x="624.25" y="155.20" width="14.40" height="1.51" fill="#f68a22"/>
<rect x="624.25" y="156.52" width="14.40" height="2.83" fill="#f6aa2a"/>
<rect x="624.25" y="159.15" width="14.40" height="1.51" fill="#f34b12"/>
<rect x="624.25" y="160.46" width="14.40" height="1.51" fill="#98f298"/>
<rect x="624.25" y="161.78" width="14.40" height="1.51" fill="#a8f068"/>
<rect x="624.25" y="163.09" width="14.40" height="2.83" fill="#98f298"/>
<rect x="624.25" y="165.72" width="14.40" height="1.51" fill="#d4ea3c"/>
<rect x="624.25" y="167.04" width="14.40" height="1.51" fill="#beed52"/>
<rect x="624.25" y="168.35" width="14.40" height="1.51" fill="#e5ca33"/>
<rect x="624.25" y="169.67" width="14.40" height="1.51" fill="#98f298"/>
<rect x="624.25" y="170.98" width="14.40" height="1.51" fill="#beed52"/>
<rect x="624.25" y="172.30" width="14.40" height="1.51" fill="#f6aa2a"/>
<rect x="624.25" y="173.61" width="14.40" height="4.14" fill="#e5ca33"/>
<rect x="624.25" y="177.56" width="14.40" height="1.51" fill="#beed52"/>
<rect x="624.25" y="178.87" width="14.40" height="4.14" fill="#d4ea3c"/>
<rect x="624.25" y="182.81" width="14.40" height="1.51" fill="#beed52"/>
<rect x="624.25" y="184.13" width="14.40" height="1.51" fill="#e5ca33"/>
<rect x="624.25" y="185.44" width="14.40" height="1.51" fill="#f6aa2a"/>
<rect x="624.25" y="186.76" width="14.40" height="1.51" fill="#a8f068"/>
<rect x="624.25" y="188.07" width="14.40" height="2.83" fill="#beed52"/>
<rect x="624.25" y="190.70" width="14.40" height="2.83" fill="#d4ea3c"/>
<rect x="624.25" y="193.33" width="14.40" height="1.51" fill="#f6aa2a"/>
<rect x="624.25" y="194.65" width="14.40" height="1.51" fill="#d4ea3c"/>
<rect x="624.25" y="195.96" width="14.40" height="1.51" fill="#beed52"/>
<rect x="624.25" y="197.28" width="14.40" height="1.51" fill="#d4ea3c"/>
<rect x="624.25" y="198.59" width="14.40" height="1.51" fill="#f68a22"/>
<rect x="624.25" y="199.91" width="14.40" height="1.51" fill="#a8f068"/>
<rect x="624.25" y="201.22" width="14.40" height="1.51" fill="#beed52"/>
<rect x="624.25" y="202.54" width="14.40" height="1.51" fill="#d4ea3c"/>
<rect x="624.25" y="203.85" width="14.40" height="1.51" fill="#a8f068"/>
<rect x="624.25" y="205.17" width="14.40" height="1.51" fill="#f68a22"/>
<rect x="624.25" y="206.48" width="14.40" height="1.51" fill="#d4ea3c"/>
<rect x="624.25" y="207.80" width="14.40" height="1.51" fill="#beed52"/>
<rect x="624.25" y="209.11" width="14.40" height="1.51" fill="#e5ca33"/>
<rect x="624.25" y="210.43" width="14.40" height="1.51" fill="#a8f068"/>
<rect x="624.25" y="211.74" width="14.40" height="1.51" fill="#98f298"/>
<rect x="624.25" y="213.06" width="14.40" height="1.51" fill="#beed52"/>
<rect x="624.25" y="214.37" width="14.40" height="1.51" fill="#f68a22"/>
<rect x="624.25" y="215.69" width="14.40" height="1.51" fill="#88f4c8"/>
<rect x="638.35" y="75.00" width="14.40" height="1.51" fill="#70f2f2"/>
<rect x="638.35" y="76.31" width="14.40" height="1.51" fill="#98f298"/>
<rect x="638.35" y="77.63" width="14.40" height="1.51" fill="#88f4c8"/>
<rect x="638.35" y="78.94" width="14.40" height="1.51" fill="#98f298"/>
<rect x="638.35" y="80.26" width="14.40" height="1.51" fill="#70f2f2"/>
<rect x="638.35" y="81.57" width="14.40" height="1.51" fill="#7cf3dd"/>
<rect x="638.35" y="82.89" width="14.40" height="2.83" fill="#70f2f2"/>
<rect x="638.35" y="85.52" width="14.40" height="1.51" fill="#88f4c8"/>
<rect x="638.35" y="86.83" width="14.40" height="1.51" fill="#50b8ff"/>
<rect x="638.35" y="88.15" width="14.40" height="1.51" fill="#7cf3dd"/>
<rect x="638.35" y="89.46" width="14.40" height="2.83" fill="#70f2f2"/>
<rect x="638.35" y="92.09" width="14.40" height="1.51" fill="#50b8ff"/>
<rect x="638.35" y="93.41" width="14.40" height="2.83" fill="#70f2f2"/>
<rect x="638.35" y="96.04" width="14.40" height="2.83" fill="#88f4c8"/>
<rect x="638.35" y="98.67" width="14.40" height="1.51" fill="#70f2f2"/>
<rect x="638.35" y="99.98" width="14.40" height="1.51" fill="#60d5f8"/>
<rect x="638.35" y="101.30" width="14.40" height="2.83" fill="#7cf3dd"/>
<rect x="638.35" y="103.93" width="14.40" height="1.51" fill="#60d5f8"/>
<rect x="638.35" y="105.24" width="14.40" height="1.51" fill="#50b8ff"/>
<rect x="638.35" y="106.56" width="14.40" height="1.51" fill="#60d5f8"/>
<rect x="638.35" y="107.87" width="14.40" height="1.51" fill="#88f4c8"/>
<rect x="638.35" y="109.19" width="14.40" height="1.51" fill="#98f298"/>
<rect x="638.35" y="110.50" width="14.40" height="2.83" fill="#60d5f8"/>
<rect x="638.35" y="113.13" width="14.40" height="2.83" fill="#88f4c8"/>
<rect x="638.35" y="115.76" width="14.40" height="2.83" fill="#60d5f8"/>
<rect x="638.35" y="118.39" width="14.40" height="1.51" fill="#98f298"/>
<rect x="638.35" y="119.70" width="14.40" height="1.51" fill="#a8f068"/>
<rect x="638.35" y="121.02" width="14.40" height="1.51" fill="#98f298"/>
<rect x="638.35" y="122.33" width="14.40" height="2.83" fill="#7cf3dd"/>
<rect x="638.35" y="124.96" width="14.40" height="2.83" fill="#70f2f2"/>
<rect x="638.35" y="127.59" width="14.40" height="1.51" fill="#60d5f8"/>
<rect x="638.35" y="128.91" width="14.40" height="2.83" fill="#70f2f2"/>
<rect x="638.35" y="131.54" width="14.40" height="1.51" fill="#98f298"/>
<rect x="638.35" y="132.85" width="14.40" height="1.51" fill="#88f4c8"/>
<rect x="638.35" y="134.17" width="14.40" height="1.51" fill="#70f2f2"/>
<rect x="638.35" y="135.48" width="14.40" height="1.51" fill="#7cf3dd"/>
<rect x="638.35" y="136.80" width="14.40" height="1.51" fill="#60d5f8"/>
<rect x="638.35" y="138.11" width="14.40" height="1.51" fill="#7cf3dd"/>
<rect x="638.35" y="139.43" width="14.40" height="2.83" fill="#88f4c8"/>
<rect x="638.35" y="142.06" width="14.40" height="1.51" fill="#98f298"/>
<rect x="638.35" y="143.37" width="14.40" height="1.51" fill="#7cf3dd"/>
<rect x="638.35" y="144.69" width="14.40" height="1.51" fill="#70f2f2"/>
<rect x="638.35" y="146.00" width="14.40" height="1.51" fill="#a8f068"/>
<rect x="638.35" y="147.31" width="14.40" height="1.51" fill="#e5ca33"/>
<rect x="638.35" y="148.63" width="14.40" height="1.51" fill="#a8f068"/>
<rect x="638.35" y="149.94" width="14.40" height="1.51" fill="#f68a22"/>
<rect x="638.35" y="151.26" width="14.40" height="1.51" fill="#beed52"/>
<rect x="638.35" y="152.57" width="14.40" height="1.51" fill="#d4ea3c"/>
<rect x="638.35" y="153.89" width="14.40" height="1.51" fill="#a8f068"/>
<rect x="638.35" y="155.20" width="14.40" height="2.83" fill="#d4ea3c"/>
<rect x="638.35" y="157.83" width="14.40" height="2.83" fill="#e5ca33"/>
<rect x="638.35" y="160.46" width="14.40" height="1.51" fill="#beed52"/>
<rect x="638.35" y="161.78" width="14.40" height="1.51" fill="#98f298"/>
<rect x="638.35" y="163.09" width="14.40" height="1.51" fill="#d4ea3c"/>
<rect x="638.35" y="164.41" width="14.40" height="1.51" fill="#beed52"/>
<rect x="638.35" y="165.72" width="14.40" height="1.51" fill="#a8f068"/>
<rect x="638.35" y="167.04" width="14.40" height="1.51" fill="#d4ea3c"/>
<rect x="638.35" y="168.35" width="14.40" height="1.51" fill="#beed52"/>
<rect x="638.35" y="169.67" width="14.40" height="1.51" fill="#e5ca33"/>
<rect x="638.35" y="170.98" width="14.40" height="4.14" fill="#d4ea3c"/>
<rect x="638.35" y="174.93" width="14.40" height="1.51" fill="#a8f068"/>
<rect x="638.35" y="176.24" width="14.40" height="2.83" fill="#e5ca33"/>
<rect x="638.35" y="178.87" width="14.40" height="1.51" fill="#a8f068"/>
<rect x="638.35" y="180.19" width="14.40" height="1.51" fill="#e5ca33"/>
<rect x="638.35" y="181.50" width="14.40" height="1.51" fill="#f6aa2a"/>
<rect x="638.35" y="182.81" width="14.40" height="1.51" fill="#d4ea3c"/>
<rect x="638.35" y="184.13" width="14.40" height="1.51" fill="#f68a22"/>
<rect x="638.35" y="185.44" width="14.40" height="1.51" fill="#d4ea3c"/>
<rect x="638.35" y="186.76" width="14.40" height="1.51" fill="#e5ca33"/>
<rect x="638.35" y="188.07" width="14.40" height="1.51" fill="#beed52"/>
<rect x="638.35" y="189.39" width="14.40" height="1.51" fill="#a8f068"/>
<rect x="638.35" y="190.70" width="14.40" height="1.51" fill="#beed52"/>
<rect x="638.35" y="192.02" width="14.40" height="2.83" fill="#d4ea3c"/>
<rect x="638.35" y="194.65" width="14.40" height="1.51" fill="#e5ca33"/>
<rect x="638.35" y="195.96" width="14.40" height="1.51" fill="#f6aa2a"/>
<rect x="638.35" y="197.28" width="14.40" height="1.51" fill="#d4ea3c"/>
<rect x="638.35" y="198.59" width="14.40" height="1.51" fill="#a8f068"/>
<rect x="638.35" y="199.91" width="14.40" height="1.51" fill="#e5ca33"/>
<rect x="638.35" y="201.22" width="14.40" height="1.51" fill="#d4ea3c"/>
<rect x="638.35" y="202.54" width="14.40" height="2.83" fill="#f68a22"/>
<rect x="638.35" y="205.17" width="14.40" height="1.51" fill="#f6aa2a"/>
<rect x="638.35" y="206.48" width="14.40" height="1.51" fill="#a8f068"/>
<rect x="638.35" y="207.80" width="14.40" height="1.51" fill="#d4ea3c"/>
<rect x="638.35" y="209.11" width="14.40" height="1.51" fill="#e5ca33"/>
<rect x="638.35" y="210.43" width="14.40" height="1.51" fill="#beed52"/>
<rect x="638.35" y="211.74" width="14.40" height="2.83" fill="#d4ea3c"/>
<rect x="638.35" y="214.37" width="14.40" height="2.83" fill="#e5ca33"/>
<rect x="652.45" y="75.00" width="14.40" height="1.51" fill="#60d5f8"/>
<rect x="652.45" y="76.31" width="14.40" height="1.51" fill="#70f2f2"/>
<rect x="652.45" y="77.63" width="14.40" height="1.51" fill="#7cf3dd"/>
<rect x="652.45" y="78.94" width="14.40" height="1.51" fill="#98f298"/>
<rect x="652.45" y="80.26" width="14.40" height="5.46" fill="#88f4c8"/>
<rect x="652.45" y="85.52" width="14.40" height="1.51" fill="#7cf3dd"/>
<rect x="652.45" y="86.83" width="14.40" height="1.51" fill="#88f4c8"/>
<rect x="652.45" y="88.15" width="14.40" height="1.51" fill="#98f298"/>
<rect x="652.45" y="89.46" width="14.40" height="1.51" fill="#60d5f8"/>
<rect x="652.45" y="90.78" width="14.40" height="1.51" fill="#98f298"/>
<rect x="652.45" y="92.09" width="14.40" height="1.51" fill="#88f4c8"/>
<rect x="652.45" y="93.41" width="14.40" height="1.51" fill="#70f2f2"/>
<rect x="652.45" y="94.72" width="14.40" height="1.51" fill="#7cf3dd"/>
<rect x="652.45" y="96.04" width="14.40" height="1.51" fill="#98f298"/>
<rect x="652.45" y="97.35" width="14.40" height="1.51" fill="#7cf3dd"/>
<rect x="652.45" y="98.67" width="14.40" height="1.51" fill="#50b8ff"/>
<rect x="652.45" y="99.98" width="14.40" height="1.51" fill="#70f2f2"/>
<rect x="652.45" y="101.30" width="14.40" height="1.51" fill="#88f4c8"/>
<rect x="652.45" y="102.61" width="14.40" height="1.51" fill="#7cf3dd"/>
<rect x="652.45" y="103.93" width="14.40" height="1.51" fill="#50b8ff"/>
<rect x="652.45" y="105.24" width="14.40" height="1.51" fill="#7cf3dd"/>
<rect x="652.45" y="106.56" width="14.40" height="1.51" fill="#88f4c8"/>
<rect x="652.45" y="107.87" width="14.40" height="1.51" fill="#7cf3dd"/>
<rect x="652.45" y="109.19" width="14.40" height="1.51" fill="#88f4c8"/>
<rect x="652.45" y="110.50" width="14.40" height="1.51" fill="#70f2f2"/>
<rect x="652.45" y="111.81" width="14.40" height="1.51" fill="#60d5f8"/>
<rect x="652.45" y="113.13" width="14.40" height="1.51" fill="#88f4c8"/>
<rect x="652.45" y="114.44" width="14.40" height="1.51" fill="#60d5f8"/>
<rect x="652.45" y="115.76" width="14.40" height="1.51" fill="#7cf3dd"/>
<rect x="652.45" y="117.07" width="14.40" height="1.51" fill="#beed52"/>
<rect x="652.45" y="118.39" width="14.40" height="1.51" fill="#88f4c8"/>
<rect x="652.45" y="119.70" width="14.40" height="1.51" fill="#7cf3dd"/>
<rect x="652.45" y="121.02" width="14.40" height="1.51" fill="#50b8ff"/>
<rect x="652.45" y="122.33" width="14.40" height="1.51" fill="#98f298"/>
<rect x="652.45" y="123.65" width="14.40" height="1.51" fill="#88f4c8"/>
<rect x="652.45" y="124.96" width="14.40" height="2.83" fill="#70f2f2"/>
<rect x="652.45" y="127.59" width="14.40" height="1.51" fill="#3884ff"/>
<rect x="652.45" y="128.91" width="14.40" height="1.51" fill="#88f4c8"/>
<rect x="652.45" y="130.22" width="14.40" height="1.51" fill="#70f2f2"/>
<rect x="652.45" y="131.54" width="14.40" height="1.51" fill="#88f4c8"/>
<rect x="652.45" y="132.85" width="14.40" height="1.51" fill="#98f298"/>
<rect x="652.45" y="134.17" width="14.40" height="1.51" fill="#70f2f2"/>
<rect x="652.45" y="135.48" width="14.40" height="1.51" fill="#98f298"/>
<rect x="652.45" y="136.80" width="14.40" height="1.51" fill="#7cf3dd"/>
<rect x="652.45" y="138.11" width="14.40" height="1.51" fill="#88f4c8"/>
<rect x="652.45" y="139.43" width="14.40" height="2.83" fill="#70f2f2"/>
<rect x="652.45" y="142.06" width="14.40" height="2.83" fill="#98f298"/>
<rect x="652.45" y="144.69" width="14.40" height="1.51" fill="#60d5f8"/>
<rect x="652.45" y="146.00" width="14.40" height="1.51" fill="#f6aa2a"/>
<rect x="652.45" y="147.31" width="14.40" height="1.51" fill="#beed52"/>
<rect x="652.45" y="148.63" width="14.40" height="1.51" fill="#a8f068"/>
<rect x="652.45" y="149.94" width="14.40" height="1.51" fill="#f6aa2a"/>
<rect x="652.45" y="151.26" width="14.40" height="1.51" fill="#a8f068"/>
<rect x="652.45" y="152.57" width="14.40" height="2.83" fill="#e5ca33"/>
<rect x="652.45" y="155.20" width="14.40" height="4.14" fill="#f6aa2a"/>
<rect x="652.45" y="159.15" width="14.40" height="4.14" fill="#e5ca33"/>
<rect x="652.45" y="163.09" width="14.40" height="1.51" fill="#f6aa2a"/>
<rect x="652.45" y="164.41" width="14.40" height="1.51" fill="#d4ea3c"/>
<rect x="652.45" y="165.72" width="14.40" height="1.51" fill="#e5ca33"/>
<rect x="652.45" y="167.04" width="14.40" height="1.51" fill="#f6aa2a"/>
<rect x="652.45" y="168.35" width="14.40" height="1.51" fill="#d4ea3c"/>
<rect x="652.45" y="169.67" width="14.40" height="1.51" fill="#e5ca33"/>
<rect x="652.45" y="170.98" width="14.40" height="2.83" fill="#d4ea3c"/>
<rect x="652.45" y="173.61" width="14.40" height="1.51" fill="#e5ca33"/>
<rect x="652.45" y="174.93" width="14.40" height="1.51" fill="#d4ea3c"/>
<rect x="652.45" y="176.24" width="14.40" height="1.51" fill="#beed52"/>
<rect x="652.45" y="177.56" width="14.40" height="1.51" fill="#d4ea3c"/>
<rect x="652.45" y="178.87" width="14.40" height="1.51" fill="#e5ca33"/>
<rect x="652.45" y="180.19" width="14.40" height="1.51" fill="#f6aa2a"/>
<rect x="652.45" y="181.50" width="14.40" height="1.51" fill="#e5ca33"/>
<rect x="652.45" y="182.81" width="14.40" height="1.51" fill="#98f298"/>
<rect x="652.45" y="184.13" width="14.40" height="1.51" fill="#f68a22"/>
<rect x="652.45" y="185.44" width="14.40" height="1.51" fill="#d4ea3c"/>
<rect x="652.45" y="186.76" width="14.40" height="1.51" fill="#beed52"/>
<rect x="652.45" y="188.07" width="14.40" height="2.83" fill="#d4ea3c"/>
<rect x="652.45" y="190.70" width="14.40" height="4.14" fill="#f68a22"/>
<rect x="652.45" y="194.65" width="14.40" height="1.51" fill="#d4ea3c"/>
<rect x="652.45" y="195.96" width="14.40" height="1.51" fill="#f68a22"/>
<rect x="652.45" y="197.28" width="14.40" height="2.83" fill="#f6aa2a"/>
<rect x="652.45" y="199.91" width="14.40" height="1.51" fill="#f66a1a"/>
<rect x="652.45" y="201.22" width="14.40" height="1.51" fill="#f02c0a"/>
<rect x="652.45" y="202.54" width="14.40" height="1.51" fill="#f66a1a"/>
<rect x="652.45" y="203.85" width="14.40" height="1.51" fill="#e5ca33"/>
<rect x="652.45" y="205.17" width="14.40" height="1.51" fill="#f02c0a"/>
<rect x="652.45" y="206.48" width="14.40" height="1.51" fill="#e5ca33"/>
<rect x="652.45" y="207.80" width="14.40" height="1.51" fill="#f68a22"/>
<rect x="652.45" y="209.11" width="14.40" height="1.51" fill="#f6aa2a"/>
<rect x="652.45" y="210.43" width="14.40" height="1.51" fill="#d4ea3c"/>
<rect x="652.45" y="211.74" width="14.40" height="4.14" fill="#beed52"/>
<rect x="652.45" y="215.69" width="14.40" height="1.51" fill="#d4ea3c"/>
</g>
<line x1="511.4" y1="75.3" x2="666.6" y2="75.3" stroke="#ffffff" stroke-width="0.7" opacity="0.7"/>
<text x="522.2" y="277.6" font-size="10.2" font-weight="bold" fill="#2a2a2a" textLength="57.5" lengthAdjust="spacingAndGlyphs" transform="rotate(-90 522.2 277.6)">ARMS-006_T</text>
<text x="536.3" y="277.6" font-size="10.2" font-weight="bold" fill="#2a2a2a" textLength="57.5" lengthAdjust="spacingAndGlyphs" transform="rotate(-90 536.3 277.6)">ERMS-011_X</text>
<text x="550.4" y="277.6" font-size="10.2" font-weight="bold" fill="#2a2a2a" textLength="57.5" lengthAdjust="spacingAndGlyphs" transform="rotate(-90 550.4 277.6)">ARMS-006_X</text>
<text x="564.5" y="277.6" font-size="10.2" font-weight="bold" fill="#2a2a2a" textLength="57.5" lengthAdjust="spacingAndGlyphs" transform="rotate(-90 564.5 277.6)">ARMS-010_X</text>
<text x="578.6" y="277.6" font-size="10.2" font-weight="bold" fill="#2a2a2a" textLength="57.5" lengthAdjust="spacingAndGlyphs" transform="rotate(-90 578.6 277.6)">ERMS-011_T</text>
<text x="592.7" y="277.6" font-size="10.2" font-weight="bold" fill="#2a2a2a" textLength="57.5" lengthAdjust="spacingAndGlyphs" transform="rotate(-90 592.7 277.6)">ERMS-024_X</text>
<text x="606.8" y="277.6" font-size="10.2" font-weight="bold" fill="#2a2a2a" textLength="57.5" lengthAdjust="spacingAndGlyphs" transform="rotate(-90 606.8 277.6)">ERMS-024_T</text>
<text x="620.9" y="277.6" font-size="10.2" font-weight="bold" fill="#2a2a2a" textLength="57.5" lengthAdjust="spacingAndGlyphs" transform="rotate(-90 620.9 277.6)">ARMS-001_T</text>
<text x="635.0" y="277.6" font-size="10.2" font-weight="bold" fill="#2a2a2a" textLength="57.5" lengthAdjust="spacingAndGlyphs" transform="rotate(-90 635.0 277.6)">ARMS-001_X</text>
<text x="649.1" y="277.6" font-size="10.2" font-weight="bold" fill="#2a2a2a" textLength="57.5" lengthAdjust="spacingAndGlyphs" transform="rotate(-90 649.1 277.6)">ARMS-007_T</text>
<text x="663.2" y="277.6" font-size="10.2" font-weight="bold" fill="#2a2a2a" textLength="57.5" lengthAdjust="spacingAndGlyphs" transform="rotate(-90 663.2 277.6)">ARMS-007_X</text>
<text x="10.0" y="315.0" font-size="11" font-weight="bold">D</text>
<text x="57.0" y="318.3" font-size="12.2" font-weight="bold" fill="#111" textLength="137" lengthAdjust="spacingAndGlyphs">Mesoderm development</text>
<rect x="32.9" y="342.3" width="191.2" height="85.8" fill="#fff" stroke="#c8c8c8" stroke-width="0.8"/>
<line x1="41.3" y1="342.5" x2="41.3" y2="427.2" stroke="#f0f0f0" stroke-width="0.6"/>
<line x1="68.8" y1="342.5" x2="68.8" y2="427.2" stroke="#f0f0f0" stroke-width="0.6"/>
<line x1="96.4" y1="342.5" x2="96.4" y2="427.2" stroke="#f0f0f0" stroke-width="0.6"/>
<line x1="124.0" y1="342.5" x2="124.0" y2="427.2" stroke="#f0f0f0" stroke-width="0.6"/>
<line x1="151.5" y1="342.5" x2="151.5" y2="427.2" stroke="#f0f0f0" stroke-width="0.6"/>
<line x1="179.1" y1="342.5" x2="179.1" y2="427.2" stroke="#f0f0f0" stroke-width="0.6"/>
<line x1="206.6" y1="342.5" x2="206.6" y2="427.2" stroke="#f0f0f0" stroke-width="0.6"/>
<line x1="33.0" y1="358.2" x2="223.6" y2="358.2" stroke="#f0f0f0" stroke-width="0.6"/>
<line x1="33.0" y1="368.2" x2="223.6" y2="368.2" stroke="#f0f0f0" stroke-width="0.6"/>
<line x1="33.0" y1="378.3" x2="223.6" y2="378.3" stroke="#f0f0f0" stroke-width="0.6"/>
<line x1="33.0" y1="388.2" x2="223.6" y2="388.2" stroke="#f0f0f0" stroke-width="0.6"/>
<line x1="33.0" y1="398.1" x2="223.6" y2="398.1" stroke="#f0f0f0" stroke-width="0.6"/>
<line x1="33.0" y1="408.3" x2="223.6" y2="408.3" stroke="#f0f0f0" stroke-width="0.6"/>
<line x1="33.0" y1="418.6" x2="223.6" y2="418.6" stroke="#f0f0f0" stroke-width="0.6"/>
<text x="30.5" y="359.6" font-size="4.2" text-anchor="end" fill="#222">2</text>
<line x1="31.0" y1="358.2" x2="32.6" y2="358.2" stroke="#888" stroke-width="0.4"/>
<text x="30.5" y="379.7" font-size="4.2" text-anchor="end" fill="#222">1</text>
<line x1="31.0" y1="378.3" x2="32.6" y2="378.3" stroke="#888" stroke-width="0.4"/>
<text x="30.5" y="399.5" font-size="4.2" text-anchor="end" fill="#222">0</text>
<line x1="31.0" y1="398.1" x2="32.6" y2="398.1" stroke="#888" stroke-width="0.4"/>
<text x="30.5" y="420.0" font-size="4.2" text-anchor="end" fill="#222">-1</text>
<line x1="31.0" y1="418.6" x2="32.6" y2="418.6" stroke="#888" stroke-width="0.4"/>
<text x="23.3" y="385.0" font-size="3.9" text-anchor="middle" fill="#222" transform="rotate(-90 23.3 385.0)">Ranked List Metric</text>
<line x1="41.3" y1="398.1" x2="41.3" y2="346.1" stroke="#3a3a3a" stroke-width="0.6"/>
<line x1="42.0" y1="398.1" x2="42.0" y2="354.1" stroke="#3a3a3a" stroke-width="0.6"/>
<line x1="42.6" y1="398.1" x2="42.6" y2="358.1" stroke="#3a3a3a" stroke-width="0.6"/>
<line x1="43.3" y1="398.1" x2="43.3" y2="361.4" stroke="#3a3a3a" stroke-width="0.6"/>
<line x1="44.0" y1="398.1" x2="44.0" y2="364.1" stroke="#3a3a3a" stroke-width="0.6"/>
<line x1="44.7" y1="398.1" x2="44.7" y2="366.1" stroke="#3a3a3a" stroke-width="0.6"/>
<line x1="45.3" y1="398.1" x2="45.3" y2="368.1" stroke="#3a3a3a" stroke-width="0.6"/>
<line x1="46.3" y1="398.1" x2="46.3" y2="369.3" stroke="#3a3a3a" stroke-width="0.6"/>
<line x1="47.3" y1="398.1" x2="47.3" y2="370.3" stroke="#3a3a3a" stroke-width="0.6"/>
<line x1="48.7" y1="398.1" x2="48.7" y2="371.1" stroke="#3a3a3a" stroke-width="0.6"/>
<line x1="49.7" y1="398.1" x2="49.7" y2="371.7" stroke="#3a3a3a" stroke-width="0.6"/>
<line x1="51.0" y1="398.1" x2="51.0" y2="372.6" stroke="#3a3a3a" stroke-width="0.6"/>
<line x1="55.4" y1="398.1" x2="55.4" y2="376.1" stroke="#3a3a3a" stroke-width="0.75"/>
<line x1="62.1" y1="398.1" x2="62.1" y2="378.1" stroke="#3a3a3a" stroke-width="0.75"/>
<line x1="68.2" y1="398.1" x2="68.2" y2="380.1" stroke="#3a3a3a" stroke-width="0.75"/>
<line x1="71.2" y1="398.1" x2="71.2" y2="381.1" stroke="#3a3a3a" stroke-width="0.75"/>
<line x1="83.9" y1="398.1" x2="83.9" y2="383.1" stroke="#666" stroke-width="0.75"/>
<line x1="85.0" y1="398.1" x2="85.0" y2="383.7" stroke="#666" stroke-width="0.75"/>
<line x1="86.6" y1="398.1" x2="86.6" y2="383.9" stroke="#666" stroke-width="0.75"/>
<line x1="89.0" y1="398.1" x2="89.0" y2="384.1" stroke="#666" stroke-width="0.75"/>
<line x1="94.0" y1="398.1" x2="94.0" y2="385.7" stroke="#666" stroke-width="0.75"/>
<line x1="95.0" y1="398.1" x2="95.0" y2="385.9" stroke="#666" stroke-width="0.75"/>
<line x1="95.7" y1="398.1" x2="95.7" y2="386.1" stroke="#666" stroke-width="0.75"/>
<line x1="96.4" y1="398.1" x2="96.4" y2="386.1" stroke="#666" stroke-width="0.75"/>
<line x1="97.4" y1="398.1" x2="97.4" y2="386.1" stroke="#666" stroke-width="0.75"/>
<line x1="104.1" y1="398.1" x2="104.1" y2="387.1" stroke="#666" stroke-width="0.75"/>
<line x1="105.8" y1="398.1" x2="105.8" y2="387.7" stroke="#666" stroke-width="0.75"/>
<line x1="107.5" y1="398.1" x2="107.5" y2="388.1" stroke="#666" stroke-width="0.75"/>
<line x1="112.5" y1="398.1" x2="112.5" y2="389.1" stroke="#666" stroke-width="0.75"/>
<line x1="115.2" y1="398.1" x2="115.2" y2="389.7" stroke="#666" stroke-width="0.75"/>
<line x1="120.9" y1="398.1" x2="120.9" y2="391.7" stroke="#666" stroke-width="0.75"/>
<line x1="122.6" y1="398.1" x2="122.6" y2="392.0" stroke="#666" stroke-width="0.75"/>
<line x1="124.9" y1="398.1" x2="124.9" y2="401.5" stroke="#666" stroke-width="0.75"/>
<line x1="126.9" y1="398.1" x2="126.9" y2="402.5" stroke="#666" stroke-width="0.75"/>
<line x1="132.6" y1="398.1" x2="132.6" y2="403.1" stroke="#666" stroke-width="0.75"/>
<line x1="152.8" y1="398.1" x2="152.8" y2="405.1" stroke="#888" stroke-width="0.75"/>
<line x1="154.5" y1="398.1" x2="154.5" y2="405.1" stroke="#888" stroke-width="0.75"/>
<line x1="167.9" y1="398.1" x2="167.9" y2="406.5" stroke="#888" stroke-width="0.75"/>
<line x1="168.9" y1="398.1" x2="168.9" y2="406.6" stroke="#888" stroke-width="0.75"/>
<line x1="179.7" y1="398.1" x2="179.7" y2="407.1" stroke="#888" stroke-width="0.75"/>
<line x1="187.0" y1="398.1" x2="187.0" y2="408.1" stroke="#888" stroke-width="0.75"/>
<line x1="196.4" y1="398.1" x2="196.4" y2="411.1" stroke="#888" stroke-width="0.75"/>
<line x1="203.2" y1="398.1" x2="203.2" y2="414.1" stroke="#888" stroke-width="0.75"/>
<line x1="205.5" y1="398.1" x2="205.5" y2="416.1" stroke="#888" stroke-width="0.75"/>
<line x1="213.2" y1="398.1" x2="213.2" y2="424.1" stroke="#888" stroke-width="0.75"/>
<text x="137.7" y="354.3" font-size="11" fill="#111" textLength="43.6" lengthAdjust="spacingAndGlyphs">NES:1,97</text>
<text x="137.7" y="368.2" font-size="11" fill="#111" textLength="82.3" lengthAdjust="spacingAndGlyphs">p.adjust:0,00089</text>
<rect x="33.0" y="432.4" width="191.3" height="85.0" fill="#fff" stroke="#c8c8c8" stroke-width="0.8"/>
<line x1="41.3" y1="432.3" x2="41.3" y2="517.0" stroke="#f0f0f0" stroke-width="0.6"/>
<line x1="68.8" y1="432.3" x2="68.8" y2="517.0" stroke="#f0f0f0" stroke-width="0.6"/>
<line x1="96.4" y1="432.3" x2="96.4" y2="517.0" stroke="#f0f0f0" stroke-width="0.6"/>
<line x1="124.0" y1="432.3" x2="124.0" y2="517.0" stroke="#f0f0f0" stroke-width="0.6"/>
<line x1="151.5" y1="432.3" x2="151.5" y2="517.0" stroke="#f0f0f0" stroke-width="0.6"/>
<line x1="179.1" y1="432.3" x2="179.1" y2="517.0" stroke="#f0f0f0" stroke-width="0.6"/>
<line x1="206.6" y1="432.3" x2="206.6" y2="517.0" stroke="#f0f0f0" stroke-width="0.6"/>
<line x1="33.4" y1="510.3" x2="223.9" y2="510.3" stroke="#f0f0f0" stroke-width="0.6"/>
<line x1="33.4" y1="495.7" x2="223.9" y2="495.7" stroke="#f0f0f0" stroke-width="0.6"/>
<line x1="33.4" y1="481.2" x2="223.9" y2="481.2" stroke="#f0f0f0" stroke-width="0.6"/>
<line x1="33.4" y1="466.6" x2="223.9" y2="466.6" stroke="#f0f0f0" stroke-width="0.6"/>
<line x1="33.4" y1="452.1" x2="223.9" y2="452.1" stroke="#f0f0f0" stroke-width="0.6"/>
<line x1="33.4" y1="437.5" x2="223.9" y2="437.5" stroke="#f0f0f0" stroke-width="0.6"/>
<text x="30.5" y="511.7" font-size="4.0" text-anchor="end" fill="#222">0.0</text>
<line x1="31.0" y1="510.3" x2="33.0" y2="510.3" stroke="#888" stroke-width="0.4"/>
<text x="30.5" y="497.1" font-size="4.0" text-anchor="end" fill="#222">0.1</text>
<line x1="31.0" y1="495.7" x2="33.0" y2="495.7" stroke="#888" stroke-width="0.4"/>
<text x="30.5" y="482.6" font-size="4.0" text-anchor="end" fill="#222">0.2</text>
<line x1="31.0" y1="481.2" x2="33.0" y2="481.2" stroke="#888" stroke-width="0.4"/>
<text x="30.5" y="468.0" font-size="4.0" text-anchor="end" fill="#222">0.3</text>
<line x1="31.0" y1="466.6" x2="33.0" y2="466.6" stroke="#888" stroke-width="0.4"/>
<text x="30.5" y="453.5" font-size="4.0" text-anchor="end" fill="#222">0.4</text>
<line x1="31.0" y1="452.1" x2="33.0" y2="452.1" stroke="#888" stroke-width="0.4"/>
<text x="30.5" y="438.9" font-size="4.0" text-anchor="end" fill="#222">0.5</text>
<line x1="31.0" y1="437.5" x2="33.0" y2="437.5" stroke="#888" stroke-width="0.4"/>
<text x="23.3" y="474.0" font-size="3.9" text-anchor="middle" fill="#222" transform="rotate(-90 23.3 474.0)">Running Enrichment Score</text>
<line x1="33.4" y1="510.3" x2="223.9" y2="510.3" stroke="#555" stroke-width="0.6"/>
<line x1="42.0" y1="506.6" x2="42.0" y2="513.6" stroke="#222" stroke-width="0.5"/>
<line x1="43.0" y1="506.6" x2="43.0" y2="513.6" stroke="#222" stroke-width="0.5"/>
<line x1="44.0" y1="506.6" x2="44.0" y2="513.6" stroke="#222" stroke-width="0.5"/>
<line x1="45.0" y1="506.6" x2="45.0" y2="513.6" stroke="#222" stroke-width="0.5"/>
<line x1="46.0" y1="506.6" x2="46.0" y2="513.6" stroke="#222" stroke-width="0.5"/>
<line x1="47.0" y1="506.6" x2="47.0" y2="513.6" stroke="#222" stroke-width="0.5"/>
<line x1="48.0" y1="506.6" x2="48.0" y2="513.6" stroke="#222" stroke-width="0.5"/>
<line x1="49.0" y1="506.6" x2="49.0" y2="513.6" stroke="#222" stroke-width="0.5"/>
<line x1="50.4" y1="506.6" x2="50.4" y2="513.6" stroke="#222" stroke-width="0.5"/>
<line x1="52.0" y1="506.6" x2="52.0" y2="513.6" stroke="#222" stroke-width="0.5"/>
<line x1="55.4" y1="506.6" x2="55.4" y2="513.6" stroke="#222" stroke-width="0.5"/>
<line x1="60.4" y1="506.6" x2="60.4" y2="513.6" stroke="#222" stroke-width="0.5"/>
<line x1="67.2" y1="506.6" x2="67.2" y2="513.6" stroke="#222" stroke-width="0.5"/>
<line x1="70.5" y1="506.6" x2="70.5" y2="513.6" stroke="#222" stroke-width="0.5"/>
<line x1="83.9" y1="506.6" x2="83.9" y2="513.6" stroke="#222" stroke-width="0.5"/>
<line x1="85.0" y1="506.6" x2="85.0" y2="513.6" stroke="#222" stroke-width="0.5"/>
<line x1="86.6" y1="506.6" x2="86.6" y2="513.6" stroke="#222" stroke-width="0.5"/>
<line x1="89.0" y1="506.6" x2="89.0" y2="513.6" stroke="#222" stroke-width="0.5"/>
<line x1="94.0" y1="506.6" x2="94.0" y2="513.6" stroke="#222" stroke-width="0.5"/>
<line x1="95.0" y1="506.6" x2="95.0" y2="513.6" stroke="#222" stroke-width="0.5"/>
<line x1="95.7" y1="506.6" x2="95.7" y2="513.6" stroke="#222" stroke-width="0.5"/>
<line x1="96.7" y1="506.6" x2="96.7" y2="513.6" stroke="#222" stroke-width="0.5"/>
<line x1="97.4" y1="506.6" x2="97.4" y2="513.6" stroke="#222" stroke-width="0.5"/>
<line x1="104.1" y1="506.6" x2="104.1" y2="513.6" stroke="#222" stroke-width="0.5"/>
<line x1="105.8" y1="506.6" x2="105.8" y2="513.6" stroke="#222" stroke-width="0.5"/>
<line x1="107.5" y1="506.6" x2="107.5" y2="513.6" stroke="#222" stroke-width="0.5"/>
<line x1="110.8" y1="506.6" x2="110.8" y2="513.6" stroke="#222" stroke-width="0.5"/>
<line x1="113.2" y1="506.6" x2="113.2" y2="513.6" stroke="#222" stroke-width="0.5"/>
<line x1="115.8" y1="506.6" x2="115.8" y2="513.6" stroke="#222" stroke-width="0.5"/>
<line x1="120.9" y1="506.6" x2="120.9" y2="513.6" stroke="#222" stroke-width="0.5"/>
<line x1="122.6" y1="506.6" x2="122.6" y2="513.6" stroke="#222" stroke-width="0.5"/>
<line x1="124.9" y1="506.6" x2="124.9" y2="513.6" stroke="#222" stroke-width="0.5"/>
<line x1="126.9" y1="506.6" x2="126.9" y2="513.6" stroke="#222" stroke-width="0.5"/>
<line x1="132.6" y1="506.6" x2="132.6" y2="513.6" stroke="#222" stroke-width="0.5"/>
<line x1="152.8" y1="506.6" x2="152.8" y2="513.6" stroke="#222" stroke-width="0.5"/>
<line x1="154.5" y1="506.6" x2="154.5" y2="513.6" stroke="#222" stroke-width="0.5"/>
<line x1="167.9" y1="506.6" x2="167.9" y2="513.6" stroke="#222" stroke-width="0.5"/>
<line x1="168.9" y1="506.6" x2="168.9" y2="513.6" stroke="#222" stroke-width="0.5"/>
<line x1="179.7" y1="506.6" x2="179.7" y2="513.6" stroke="#222" stroke-width="0.5"/>
<line x1="187.0" y1="506.6" x2="187.0" y2="513.6" stroke="#222" stroke-width="0.5"/>
<line x1="196.4" y1="506.6" x2="196.4" y2="513.6" stroke="#222" stroke-width="0.5"/>
<line x1="203.2" y1="506.6" x2="203.2" y2="513.6" stroke="#222" stroke-width="0.5"/>
<line x1="205.5" y1="506.6" x2="205.5" y2="513.6" stroke="#222" stroke-width="0.5"/>
<line x1="213.2" y1="506.6" x2="213.2" y2="513.6" stroke="#222" stroke-width="0.5"/>
<line x1="51.4" y1="510.3" x2="51.4" y2="436.0" stroke="#e04040" stroke-width="0.5" stroke-dasharray="1.2,1"/>
<polyline points="41.3,510.3 41.6,503.0 42.3,492.8 43.0,481.2 43.7,469.5 44.3,465.2 45.0,460.8 45.7,457.9 46.3,456.4 47.0,449.1 47.7,447.7 48.4,444.8 49.0,440.4 49.7,439.0 50.4,437.5 51.4,436.0 53.7,439.0 55.4,436.8 57.8,440.4 60.4,437.5 63.1,439.0 65.5,440.4 67.2,439.0 70.5,440.4 72.2,441.1 77.2,444.1 82.3,447.7 85.6,445.5 89.0,447.0 93.4,449.1 94.7,448.4 97.4,441.1 100.7,444.1 104.1,445.5 107.5,445.5 110.8,447.0 114.2,448.4 117.5,449.9 120.9,451.3 124.2,452.1 127.6,453.5 134.3,457.9 141.0,462.3 147.8,468.1 152.8,473.2 157.8,475.4 162.9,479.7 167.9,484.1 172.9,487.0 179.7,492.1 184.7,494.3 189.7,497.2 196.4,501.6 201.5,504.5 205.5,508.1 207.5,507.4 209.9,509.6 213.2,510.3" fill="none" stroke="#33e033" stroke-width="0.8"/>
<text x="41.3" y="521.5" font-size="4.3" text-anchor="middle" fill="#444">0</text>
<line x1="41.3" y1="517.4" x2="41.3" y2="518.8" stroke="#888" stroke-width="0.4"/>
<text x="96.4" y="521.5" font-size="4.3" text-anchor="middle" fill="#444">2000</text>
<line x1="96.4" y1="517.4" x2="96.4" y2="518.8" stroke="#888" stroke-width="0.4"/>
<text x="151.5" y="521.5" font-size="4.3" text-anchor="middle" fill="#444">4000</text>
<line x1="151.5" y1="517.4" x2="151.5" y2="518.8" stroke="#888" stroke-width="0.4"/>
<text x="206.6" y="521.5" font-size="4.3" text-anchor="middle" fill="#444">6000</text>
<line x1="206.6" y1="517.4" x2="206.6" y2="518.8" stroke="#888" stroke-width="0.4"/>
<text x="128.6" y="526.3" font-size="4.4" text-anchor="middle" fill="#222">Position in the Ranked List of Genes</text>
<text x="237.0" y="314.5" font-size="11" font-weight="bold">E</text>
<text x="305.8" y="347.4" font-size="10.8" font-weight="bold" text-anchor="middle" fill="#111">Enrichment genes</text>
<text x="305.8" y="360.5" font-size="10.8" font-weight="bold" text-anchor="middle" fill="#111">in High PRKG1 samples</text>
<line x1="267.8" y1="374.3" x2="267.8" y2="473.4" stroke="#222" stroke-width="1.1"/>
<line x1="267.8" y1="473.4" x2="344.4" y2="473.4" stroke="#222" stroke-width="1.1"/>
<line x1="264.8" y1="473.4" x2="267.8" y2="473.4" stroke="#222" stroke-width="1.1"/>
<text x="263.3" y="476.6" font-size="8.8" font-weight="bold" text-anchor="end" fill="#111">0</text>
<line x1="264.8" y1="440.4" x2="267.8" y2="440.4" stroke="#222" stroke-width="1.1"/>
<text x="263.3" y="443.6" font-size="8.8" font-weight="bold" text-anchor="end" fill="#111">2</text>
<line x1="264.8" y1="407.3" x2="267.8" y2="407.3" stroke="#222" stroke-width="1.1"/>
<text x="263.3" y="410.5" font-size="8.8" font-weight="bold" text-anchor="end" fill="#111">4</text>
<line x1="264.8" y1="374.3" x2="267.8" y2="374.3" stroke="#222" stroke-width="1.1"/>
<text x="263.3" y="377.5" font-size="8.8" font-weight="bold" text-anchor="end" fill="#111">6</text>
<line x1="267.4" y1="473.4" x2="267.4" y2="476.4" stroke="#222" stroke-width="1.1"/>
<text x="267.4" y="487.5" font-size="8.8" font-weight="bold" text-anchor="middle" fill="#111">0</text>
<line x1="292.9" y1="473.4" x2="292.9" y2="476.4" stroke="#222" stroke-width="1.1"/>
<text x="292.9" y="487.5" font-size="8.8" font-weight="bold" text-anchor="middle" fill="#111">1</text>
<line x1="318.5" y1="473.4" x2="318.5" y2="476.4" stroke="#222" stroke-width="1.1"/>
<text x="318.5" y="487.5" font-size="8.8" font-weight="bold" text-anchor="middle" fill="#111">2</text>
<line x1="344.0" y1="473.4" x2="344.0" y2="476.4" stroke="#222" stroke-width="1.1"/>
<text x="344.0" y="487.5" font-size="8.8" font-weight="bold" text-anchor="middle" fill="#111">3</text>
<text x="306.0" y="504.0" font-size="9.5" font-weight="bold" text-anchor="middle" fill="#111">logFC</text>
<text x="251.5" y="424.0" font-size="9.5" font-weight="bold" text-anchor="middle" fill="#111" transform="rotate(-90 251.5 424.0)">-log10(pValue)</text>
<circle cx="299.9" cy="387.2" r="1.8" fill="#ee1c1c"/>
<text x="303.6" y="389.8" font-size="6.3" fill="#333">BMPR1A</text>
<circle cx="312.8" cy="403.5" r="1.8" fill="#ee1c1c"/>
<text x="316.9" y="401.8" font-size="6.3" fill="#333">SIX1</text>
<circle cx="312.4" cy="408" r="1.8" fill="#ee1c1c"/>
<text x="316.2" y="411.9" font-size="6.3" fill="#333">EYA1</text>
<circle cx="327" cy="404.6" r="1.8" fill="#ee1c1c"/>
<text x="331.2" y="407.0" font-size="6.3" fill="#333">TEAD2</text>
<circle cx="317.9" cy="411.1" r="1.8" fill="#ee1c1c"/>
<text x="322.0" y="417.6" font-size="6.3" fill="#333">IGF2BP1</text>
<circle cx="316.2" cy="442.8" r="1.8" fill="#ee1c1c"/>
<text x="320.3" y="442.7" font-size="6.3" fill="#333">YAP1</text>
<circle cx="333.8" cy="445.4" r="1.8" fill="#ee1c1c"/>
<text x="337.9" y="447.8" font-size="6.3" fill="#333">HMGA2</text>
<circle cx="316.9" cy="449.9" r="1.8" fill="#ee1c1c"/>
<text x="320.5" y="454.4" font-size="6.3" fill="#333">MEST</text>
<circle cx="282.7" cy="452" r="1.8" fill="#ee1c1c"/>
<text x="286.8" y="456.4" font-size="6.3" fill="#333">PRKG1</text>
<text x="372.5" y="314.7" font-size="11" font-weight="bold">F</text>
<rect x="405.2" y="315.5" width="89.3" height="13.3" fill="#ebebeb" stroke="#222" stroke-width="0.9"/>
<text x="449.9" y="324.5" font-size="7.0" text-anchor="middle" fill="#222">Patel_mesoderm</text>
<path d="M438.2 357.7h0M466.3 341.4h0M453.9 344.1h0M472.8 356.2h0M476.7 349.6h0M462.1 356.1h0M444.9 365.1h0M437.0 364.0h0M466.7 357.2h0M449.9 378.8h0M457.0 355.6h0M458.5 355.6h0M450.3 359.6h0M486.8 350.2h0M458.8 364.5h0M486.7 348.4h0M446.6 381.0h0M433.9 365.0h0M466.2 374.0h0M441.7 346.9h0M466.1 353.0h0M450.2 365.7h0M459.5 361.3h0M449.6 372.2h0M478.9 352.9h0M449.2 368.1h0M463.4 350.1h0M449.1 370.5h0M454.6 358.3h0M459.3 359.0h0M456.1 345.8h0M482.7 352.9h0M442.8 372.1h0M460.8 358.9h0M472.0 371.9h0M464.5 369.4h0M488.9 341.7h0M448.2 368.8h0M430.2 367.0h0M475.7 361.5h0M464.9 343.1h0M491.8 352.5h0M467.7 360.1h0M430.0 358.3h0M437.6 380.9h0M443.5 362.7h0M452.2 365.9h0M463.7 359.8h0M436.9 343.2h0M458.6 361.5h0M474.8 353.3h0M446.8 366.5h0M432.5 360.4h0M440.8 367.6h0M487.8 355.4h0M473.4 356.3h0M460.3 355.5h0M451.8 343.5h0M437.8 356.8h0M468.8 361.0h0M473.4 366.2h0M451.5 369.8h0M485.8 350.3h0M472.6 353.5h0M431.6 369.4h0M443.6 365.3h0M449.1 365.0h0M423.7 381.0h0M476.7 350.7h0M442.3 364.9h0M466.4 360.0h0M462.2 343.5h0M438.9 376.1h0M459.7 347.7h0M442.9 353.8h0M440.6 374.3h0M452.7 369.9h0M459.0 347.9h0M446.1 381.0h0M444.3 356.3h0M475.2 354.6h0M456.0 371.5h0M428.9 372.6h0M439.8 355.0h0M443.5 373.3h0M453.9 347.0h0M438.9 377.7h0M472.0 346.6h0M492.5 345.3h0M437.6 365.4h0M470.6 367.8h0M472.1 351.7h0M447.4 352.0h0M455.0 356.1h0M459.9 349.3h0M448.1 356.2h0M437.4 357.5h0M440.3 356.5h0M464.9 358.1h0M435.6 371.1h0M460.6 370.0h0M453.1 359.7h0M445.4 364.8h0M463.8 359.1h0M452.2 365.9h0M457.5 361.7h0M441.6 366.7h0M440.6 359.0h0M458.6 375.6h0M471.6 355.1h0M453.3 368.8h0M477.6 362.5h0M453.2 362.7h0M451.0 359.8h0M442.8 362.8h0M422.7 362.3h0M462.7 351.0h0M464.5 347.6h0M450.4 365.2h0M440.0 360.2h0M492.5 342.9h0M445.1 359.6h0M456.6 359.9h0M471.4 361.3h0M449.8 359.7h0M434.1 356.2h0M444.6 369.7h0M458.0 365.8h0M470.7 354.1h0M488.7 345.4h0M446.4 360.2h0M473.8 353.3h0M444.6 367.5h0M473.7 353.5h0M452.2 369.9h0M471.4 362.4h0M444.2 366.4h0M461.7 344.6h0M474.8 354.8h0M450.8 379.4h0M458.4 354.0h0M455.1 364.9h0M468.7 355.6h0M442.7 359.4h0M443.4 356.5h0M455.8 356.6h0M456.9 353.7h0M442.7 363.4h0M450.7 370.9h0M442.1 366.6h0" stroke="#333" stroke-width="1.0" stroke-linecap="round" fill="none"/>
<polygon points="409.2,370.5 416.0,369.4 422.8,368.2 429.6,366.6 436.5,364.9 443.3,363.0 450.1,360.8 456.9,358.4 463.7,355.7 470.6,352.8 477.4,349.7 484.2,346.3 491.0,342.6 491.0,354.6 484.2,355.5 477.4,356.7 470.6,358.1 463.7,359.7 456.9,361.6 450.1,363.8 443.3,366.2 436.5,368.8 429.6,371.6 422.8,374.7 416.0,378.0 409.2,381.5" fill="#888" opacity="0.75"/>
<line x1="409.2" y1="376.0" x2="491.0" y2="348.6" stroke="#000" stroke-width="1.5"/>
<rect x="405.2" y="328.8" width="89.3" height="64.3" fill="none" stroke="#222" stroke-width="0.9"/>
<text x="409.4" y="386.8" font-size="6.3" fill="#333"><tspan font-style="italic">R</tspan> = 0.37, <tspan font-style="italic">p</tspan> = 9.6e−06</text>
<line x1="405.8" y1="393.1" x2="405.8" y2="395.6" stroke="#333" stroke-width="0.8"/>
<text x="405.8" y="403.3" font-size="7.9" text-anchor="middle" fill="#333">0</text>
<line x1="425.6" y1="393.1" x2="425.6" y2="395.6" stroke="#333" stroke-width="0.8"/>
<text x="425.6" y="403.3" font-size="7.9" text-anchor="middle" fill="#333">2</text>
<line x1="445.4" y1="393.1" x2="445.4" y2="395.6" stroke="#333" stroke-width="0.8"/>
<text x="445.4" y="403.3" font-size="7.9" text-anchor="middle" fill="#333">4</text>
<line x1="465.2" y1="393.1" x2="465.2" y2="395.6" stroke="#333" stroke-width="0.8"/>
<text x="465.2" y="403.3" font-size="7.9" text-anchor="middle" fill="#333">6</text>
<line x1="485.0" y1="393.1" x2="485.0" y2="395.6" stroke="#333" stroke-width="0.8"/>
<text x="485.0" y="403.3" font-size="7.9" text-anchor="middle" fill="#333">8</text>
<rect x="499.4" y="315.5" width="89.4" height="13.3" fill="#ebebeb" stroke="#222" stroke-width="0.9"/>
<text x="544.1" y="324.5" font-size="7.0" text-anchor="middle" fill="#222">Patel_myoblast</text>
<path d="M549.7 350.8h0M561.6 362.2h0M517.8 365.1h0M564.9 354.9h0M576.6 362.3h0M532.5 364.9h0M544.8 350.5h0M517.1 362.3h0M539.0 365.6h0M556.4 356.9h0M542.1 374.3h0M576.8 366.9h0M544.8 353.2h0M544.4 373.5h0M557.5 358.7h0M531.4 361.9h0M536.7 360.8h0M561.9 369.1h0M552.5 358.2h0M553.9 374.6h0M556.2 350.2h0M574.4 363.0h0M586.8 357.6h0M548.9 358.5h0M556.2 356.5h0M527.5 345.9h0M548.4 356.9h0M541.4 376.9h0M562.7 369.3h0M542.6 363.0h0M547.1 359.2h0M561.9 365.6h0M555.1 362.0h0M528.1 354.9h0M556.3 358.1h0M538.3 363.4h0M536.1 355.5h0M564.0 358.2h0M572.4 365.0h0M562.9 369.6h0M517.0 359.8h0M530.4 357.1h0M548.8 370.3h0M549.7 373.3h0M542.3 360.3h0M551.8 368.0h0M549.6 356.1h0M545.3 350.1h0M569.8 366.7h0M557.0 363.0h0M541.0 357.6h0M562.8 355.0h0M538.3 372.7h0M574.4 363.3h0M558.6 362.3h0M572.3 357.7h0M551.6 364.5h0M572.5 359.2h0M553.9 357.1h0M540.3 355.8h0M551.6 367.6h0M539.7 356.1h0M544.2 363.4h0M561.1 351.5h0M555.8 353.3h0M561.3 353.7h0M533.8 355.3h0M549.4 353.3h0M553.6 362.0h0M551.6 362.9h0M563.7 355.5h0M550.4 360.6h0M519.0 363.4h0M538.6 355.3h0M543.6 361.5h0M555.4 364.5h0M539.8 365.9h0M556.7 357.9h0M550.0 366.9h0M557.0 366.1h0M552.0 369.4h0M584.2 364.6h0M526.0 373.5h0M541.7 350.3h0M514.3 363.6h0M567.0 368.5h0M544.5 371.6h0M549.2 356.4h0M551.4 362.4h0M551.1 363.8h0M517.0 372.2h0M541.7 365.6h0M538.2 361.9h0M547.7 348.9h0M556.2 365.6h0M533.4 344.9h0M540.5 354.4h0M552.0 360.7h0M574.9 366.0h0M546.5 362.0h0M506.5 353.5h0M536.4 359.8h0M555.2 362.5h0M564.6 355.8h0M555.0 359.9h0M550.6 363.2h0M546.1 362.4h0M549.8 368.5h0M548.7 363.1h0M586.8 365.9h0M558.1 369.0h0M535.1 366.0h0M561.7 364.2h0M565.1 366.9h0M568.4 356.2h0M556.9 356.8h0M569.2 362.0h0M530.6 361.4h0M535.2 368.0h0M545.2 344.4h0M544.5 368.4h0M555.4 356.1h0M560.2 365.2h0M572.6 367.8h0M555.9 355.0h0M554.7 363.1h0M550.6 364.0h0M532.4 364.9h0M550.5 363.5h0M548.9 358.6h0M554.2 366.7h0M545.5 363.2h0M538.8 363.8h0M550.6 351.3h0M567.9 354.4h0M551.6 351.0h0M524.2 365.4h0M529.2 345.1h0M547.1 349.2h0M547.3 374.4h0M544.4 363.4h0M558.8 362.8h0M548.6 372.0h0M549.1 363.5h0M552.0 351.3h0M555.2 361.3h0M560.1 366.1h0M574.0 347.0h0M542.0 357.2h0M537.4 363.7h0" stroke="#333" stroke-width="1.0" stroke-linecap="round" fill="none"/>
<polygon points="503.4,356.8 510.2,357.5 517.0,358.1 523.8,358.5 530.5,358.9 537.3,359.1 544.1,359.2 550.9,359.2 557.7,359.1 564.4,358.7 571.2,358.2 578.0,357.5 584.8,356.7 584.8,365.7 578.0,364.7 571.2,363.9 564.4,363.2 557.7,362.7 550.9,362.4 544.1,362.2 537.3,362.2 530.5,362.3 523.8,362.5 517.0,362.8 510.2,363.3 503.4,363.8" fill="#888" opacity="0.75"/>
<line x1="503.4" y1="360.3" x2="584.8" y2="361.2" stroke="#000" stroke-width="1.5"/>
<rect x="499.4" y="328.8" width="89.4" height="64.3" fill="none" stroke="#222" stroke-width="0.9"/>
<text x="503.6" y="386.8" font-size="6.3" fill="#333"><tspan font-style="italic">R</tspan> = −0.02, <tspan font-style="italic">p</tspan> = 0.82</text>
<line x1="500.0" y1="393.1" x2="500.0" y2="395.6" stroke="#333" stroke-width="0.8"/>
<text x="500.0" y="403.3" font-size="7.9" text-anchor="middle" fill="#333">0</text>
<line x1="519.7" y1="393.1" x2="519.7" y2="395.6" stroke="#333" stroke-width="0.8"/>
<text x="519.7" y="403.3" font-size="7.9" text-anchor="middle" fill="#333">2</text>
<line x1="539.4" y1="393.1" x2="539.4" y2="395.6" stroke="#333" stroke-width="0.8"/>
<text x="539.4" y="403.3" font-size="7.9" text-anchor="middle" fill="#333">4</text>
<line x1="559.1" y1="393.1" x2="559.1" y2="395.6" stroke="#333" stroke-width="0.8"/>
<text x="559.1" y="403.3" font-size="7.9" text-anchor="middle" fill="#333">6</text>
<line x1="578.8" y1="393.1" x2="578.8" y2="395.6" stroke="#333" stroke-width="0.8"/>
<text x="578.8" y="403.3" font-size="7.9" text-anchor="middle" fill="#333">8</text>
<rect x="593.3" y="315.5" width="90.3" height="13.3" fill="#ebebeb" stroke="#222" stroke-width="0.9"/>
<text x="638.5" y="324.5" font-size="7.0" text-anchor="middle" fill="#222">Patel_myocyte</text>
<path d="M643.6 360.8h0M620.0 357.0h0M643.8 356.5h0M635.5 360.4h0M640.6 352.5h0M670.1 350.0h0M654.6 362.2h0M659.5 352.7h0M629.6 365.6h0M648.7 341.4h0M605.0 362.8h0M638.9 358.7h0M651.1 351.3h0M681.6 359.6h0M664.5 358.0h0M613.3 367.1h0M636.4 364.4h0M643.0 364.9h0M631.4 359.3h0M644.8 354.0h0M637.9 365.4h0M674.0 352.7h0M657.3 348.9h0M637.8 363.3h0M653.5 350.4h0M653.9 359.0h0M664.6 362.9h0M653.1 355.2h0M648.7 352.5h0M632.2 348.2h0M625.1 353.8h0M643.2 360.6h0M624.4 362.5h0M650.8 365.3h0M643.3 361.5h0M639.0 367.4h0M621.1 365.6h0M609.6 378.6h0M658.7 341.5h0M636.7 350.6h0M618.0 361.4h0M631.4 369.7h0M636.8 352.8h0M643.5 362.8h0M657.1 361.0h0M622.1 357.6h0M641.9 353.9h0M655.9 355.0h0M643.5 357.0h0M645.3 348.3h0M676.3 349.6h0M633.6 348.4h0M643.3 349.6h0M649.5 367.5h0M653.8 354.6h0M663.8 354.7h0M643.8 360.1h0M637.4 363.9h0M625.9 349.8h0M662.7 350.8h0M639.2 363.0h0M637.5 352.1h0M641.6 353.1h0M652.8 354.7h0M640.6 365.9h0M621.2 352.7h0M655.5 366.9h0M645.9 354.1h0M663.1 360.0h0M660.0 343.3h0M642.6 352.3h0M628.0 366.8h0M655.5 354.1h0M640.8 370.4h0M654.4 356.8h0M652.2 358.9h0M625.5 359.2h0M648.8 363.3h0M626.4 356.9h0M635.7 350.0h0M661.1 359.9h0M664.3 341.4h0M632.3 375.1h0M623.3 349.9h0M647.9 370.5h0M654.2 350.7h0M652.9 361.0h0M648.5 361.7h0M657.0 365.8h0M665.2 363.6h0M642.3 346.3h0M652.8 347.0h0M679.0 344.8h0M616.7 350.9h0M650.5 360.7h0M654.4 359.9h0M632.8 367.7h0M634.1 350.3h0M658.3 361.0h0M630.4 360.2h0M660.1 363.6h0M628.4 370.6h0M605.4 367.3h0M650.4 357.6h0M646.3 347.4h0M642.6 363.6h0M630.5 363.1h0M642.0 343.4h0M635.4 365.5h0M621.1 364.0h0M649.6 349.2h0M640.8 366.8h0M655.5 350.2h0M660.0 359.3h0M646.5 370.4h0M655.7 360.3h0M659.2 361.8h0M663.8 355.2h0M617.7 375.9h0M656.8 361.2h0M645.4 358.8h0M646.2 352.3h0M656.4 358.1h0M630.2 364.1h0M639.7 360.2h0M652.9 378.0h0M628.5 365.5h0M655.4 360.8h0M667.2 352.3h0M639.7 360.4h0M623.9 371.5h0M625.9 367.0h0M662.8 350.1h0M642.0 358.6h0M670.8 356.8h0M618.0 372.4h0M660.4 341.9h0M603.4 381.0h0M646.0 343.6h0M660.7 367.2h0M608.5 375.6h0M655.5 357.5h0M634.0 364.4h0M632.4 363.0h0M640.8 357.0h0M653.0 365.3h0M658.2 360.4h0M670.3 345.6h0M645.7 360.8h0M663.2 341.4h0" stroke="#333" stroke-width="1.0" stroke-linecap="round" fill="none"/>
<polygon points="596.7,363.8 603.5,363.5 610.3,363.1 617.1,362.4 623.9,361.6 630.7,360.6 637.5,359.5 644.4,358.2 651.2,356.7 658.0,355.0 664.8,353.2 671.6,351.2 678.4,349.0 678.4,358.0 671.6,358.3 664.8,358.7 658.0,359.4 651.2,360.2 644.4,361.2 637.5,362.3 630.7,363.6 623.9,365.1 617.1,366.8 610.3,368.6 603.5,370.6 596.7,372.8" fill="#888" opacity="0.75"/>
<line x1="596.7" y1="368.3" x2="678.4" y2="353.5" stroke="#000" stroke-width="1.5"/>
<rect x="593.3" y="328.8" width="90.3" height="64.3" fill="none" stroke="#222" stroke-width="0.9"/>
<text x="597.5" y="386.8" font-size="6.3" fill="#333"><tspan font-style="italic">R</tspan> = 0.26, <tspan font-style="italic">p</tspan> = 0.0022</text>
<line x1="593.9" y1="393.1" x2="593.9" y2="395.6" stroke="#333" stroke-width="0.8"/>
<text x="593.9" y="403.3" font-size="7.9" text-anchor="middle" fill="#333">0</text>
<line x1="613.6" y1="393.1" x2="613.6" y2="395.6" stroke="#333" stroke-width="0.8"/>
<text x="613.6" y="403.3" font-size="7.9" text-anchor="middle" fill="#333">2</text>
<line x1="633.2" y1="393.1" x2="633.2" y2="395.6" stroke="#333" stroke-width="0.8"/>
<text x="633.2" y="403.3" font-size="7.9" text-anchor="middle" fill="#333">4</text>
<line x1="652.9" y1="393.1" x2="652.9" y2="395.6" stroke="#333" stroke-width="0.8"/>
<text x="652.9" y="403.3" font-size="7.9" text-anchor="middle" fill="#333">6</text>
<line x1="672.5" y1="393.1" x2="672.5" y2="395.6" stroke="#333" stroke-width="0.8"/>
<text x="672.5" y="403.3" font-size="7.9" text-anchor="middle" fill="#333">8</text>
<line x1="402.7" y1="330.7" x2="405.2" y2="330.7" stroke="#333" stroke-width="0.8"/>
<text x="400.8" y="333.5" font-size="7.9" text-anchor="end" fill="#333">1.0</text>
<line x1="402.7" y1="345.4" x2="405.2" y2="345.4" stroke="#333" stroke-width="0.8"/>
<text x="400.8" y="348.2" font-size="7.9" text-anchor="end" fill="#333">0.5</text>
<line x1="402.7" y1="360.9" x2="405.2" y2="360.9" stroke="#333" stroke-width="0.8"/>
<text x="400.8" y="363.7" font-size="7.9" text-anchor="end" fill="#333">0.0</text>
<line x1="402.7" y1="376.0" x2="405.2" y2="376.0" stroke="#333" stroke-width="0.8"/>
<text x="400.8" y="378.8" font-size="7.9" text-anchor="end" fill="#333">−0.5</text>
<line x1="402.7" y1="391.6" x2="405.2" y2="391.6" stroke="#333" stroke-width="0.8"/>
<text x="400.8" y="394.4" font-size="7.9" text-anchor="end" fill="#333">−1.0</text>
<text x="544.0" y="412.8" font-size="8.4" text-anchor="middle" fill="#222">PRKG1 expression (log2cpm)</text>
<rect x="405.2" y="420.5" width="89.3" height="13.0" fill="#ebebeb" stroke="#222" stroke-width="0.9"/>
<text x="449.9" y="429.4" font-size="7.0" text-anchor="middle" fill="#222">Patel_mesoderm</text>
<path d="M464.3 470.7h0M485.3 479.9h0M486.4 480.9h0M453.2 463.4h0M442.6 458.3h0M475.8 464.6h0M435.1 445.9h0M471.0 467.5h0M431.1 461.6h0M449.7 467.9h0M449.3 451.0h0M488.3 478.3h0M440.9 452.1h0M460.8 463.2h0M473.0 476.4h0M471.3 476.3h0M425.7 452.2h0M458.1 456.7h0M465.1 468.0h0M457.9 461.9h0M427.7 446.7h0M426.6 456.0h0M444.6 448.5h0M485.6 479.2h0M449.4 449.2h0M486.4 473.9h0M487.2 482.8h0M436.1 454.9h0M486.1 483.3h0M473.3 474.6h0M459.7 452.1h0M444.7 469.9h0M461.2 467.7h0M448.1 456.8h0M457.5 459.5h0M454.8 461.1h0M429.1 458.4h0M434.6 458.4h0M488.4 476.5h0M476.4 478.0h0M473.6 469.8h0M466.1 481.8h0M450.6 457.5h0M442.4 453.9h0M482.4 459.7h0M436.8 461.7h0M434.2 466.3h0M461.8 470.0h0M425.8 464.6h0M457.5 468.0h0M482.1 484.1h0M432.9 456.5h0M472.3 462.4h0M439.7 450.2h0M487.2 478.6h0M469.9 471.1h0M431.3 461.0h0M467.6 471.8h0M483.5 474.4h0M467.2 465.4h0M480.3 482.8h0M442.1 466.5h0M444.7 471.6h0M458.9 464.9h0M484.1 471.0h0M439.3 457.7h0M442.4 462.8h0M431.0 451.6h0M448.2 467.3h0M465.8 471.4h0M467.7 470.3h0M457.3 467.8h0M470.1 460.2h0M484.8 478.7h0M434.7 453.8h0M460.2 474.1h0M484.0 464.8h0M452.6 458.5h0M476.4 475.3h0M432.2 448.4h0M442.1 448.0h0M442.5 470.3h0M466.3 456.0h0M432.8 445.9h0M475.5 469.8h0M466.5 470.9h0M480.3 471.6h0M488.7 475.9h0M450.3 453.4h0M442.2 448.8h0M451.9 460.3h0M429.4 455.6h0M472.0 457.4h0M429.3 460.7h0M444.9 466.7h0M476.8 484.1h0M483.7 471.5h0M452.4 462.0h0M440.0 466.5h0M444.1 460.3h0M432.2 445.9h0M487.0 475.1h0M455.6 473.7h0M432.7 461.7h0M460.3 484.1h0M460.6 476.7h0M453.8 461.4h0M488.7 484.1h0M453.1 464.7h0M485.2 484.1h0M450.1 450.0h0M446.5 447.2h0M478.2 468.7h0M428.7 451.6h0M486.5 468.3h0M485.1 477.4h0M462.7 460.2h0M473.8 471.0h0M441.9 445.9h0M464.7 469.5h0M434.0 457.9h0M472.8 481.6h0M431.9 457.7h0M436.2 455.4h0M431.1 445.9h0M481.2 477.5h0M435.9 454.2h0M463.1 463.2h0M441.6 456.2h0M472.3 472.3h0M433.2 454.8h0M463.8 460.1h0M466.9 452.9h0M485.2 476.8h0M443.6 450.8h0M433.9 467.8h0M452.6 445.9h0M433.6 464.8h0M468.0 469.1h0M425.3 445.9h0M486.8 470.7h0M468.4 482.3h0M452.7 468.1h0M447.4 450.5h0M473.0 458.8h0M465.3 467.1h0M477.2 477.1h0M425.3 458.3h0M476.8 474.1h0M428.0 445.9h0" stroke="#333" stroke-width="1.0" stroke-linecap="round" fill="none"/>
<polygon points="409.2,440.8 416.0,444.3 422.8,447.7 429.6,450.9 436.3,454.0 443.1,457.0 449.9,459.9 456.7,462.6 463.5,465.3 470.2,467.9 477.0,470.3 483.8,472.6 490.6,474.9 490.6,480.9 483.8,477.5 477.0,474.3 470.2,471.1 463.5,468.1 456.7,465.1 449.9,462.3 443.1,459.6 436.3,457.0 429.6,454.5 422.8,452.1 416.0,449.9 409.2,447.8" fill="#888" opacity="0.75"/>
<line x1="409.2" y1="444.3" x2="490.6" y2="477.9" stroke="#000" stroke-width="1.5"/>
<rect x="405.2" y="433.5" width="89.3" height="64.5" fill="none" stroke="#222" stroke-width="0.9"/>
<text x="409.4" y="491.7" font-size="6.3" fill="#333"><tspan font-style="italic">R</tspan> = −0.63, <tspan font-style="italic">p</tspan> &lt; 2.2e−16</text>
<line x1="406.8" y1="498.0" x2="406.8" y2="500.5" stroke="#333" stroke-width="0.8"/>
<text x="406.8" y="508.2" font-size="7.9" text-anchor="middle" fill="#333">−5</text>
<line x1="439.1" y1="498.0" x2="439.1" y2="500.5" stroke="#333" stroke-width="0.8"/>
<text x="439.1" y="508.2" font-size="7.9" text-anchor="middle" fill="#333">0</text>
<line x1="471.2" y1="498.0" x2="471.2" y2="500.5" stroke="#333" stroke-width="0.8"/>
<text x="471.2" y="508.2" font-size="7.9" text-anchor="middle" fill="#333">5</text>
<rect x="499.4" y="420.5" width="89.4" height="13.0" fill="#ebebeb" stroke="#222" stroke-width="0.9"/>
<text x="544.1" y="429.4" font-size="7.0" text-anchor="middle" fill="#222">Patel_myoblast</text>
<path d="M533.4 465.4h0M557.8 467.6h0M579.7 459.0h0M552.5 478.9h0M541.6 460.3h0M543.6 461.7h0M550.0 466.2h0M539.3 458.3h0M549.6 456.4h0M538.4 469.2h0M549.0 458.1h0M529.4 460.6h0M528.6 471.8h0M561.3 465.9h0M555.0 461.0h0M552.8 465.3h0M551.1 461.5h0M534.6 469.3h0M556.0 456.3h0M547.0 465.3h0M557.6 451.9h0M529.8 457.8h0M532.2 459.7h0M562.8 455.2h0M581.7 463.1h0M560.5 463.5h0M563.0 466.3h0M562.2 467.9h0M559.4 466.8h0M566.4 463.2h0M542.8 477.6h0M543.3 469.0h0M581.2 456.6h0M546.4 460.8h0M536.7 471.6h0M547.4 466.5h0M525.4 471.9h0M539.9 452.5h0M539.8 454.9h0M573.7 450.0h0M554.6 457.1h0M538.4 457.4h0M568.2 454.9h0M541.1 468.0h0M545.0 470.9h0M539.6 454.8h0M557.0 472.9h0M558.1 458.1h0M567.5 468.7h0M544.9 469.0h0M549.9 466.1h0M559.9 470.3h0M551.7 465.5h0M514.0 464.0h0M557.2 458.5h0M555.9 463.0h0M551.4 465.7h0M569.6 466.3h0M551.1 456.5h0M555.8 456.7h0M568.5 457.8h0M541.3 465.3h0M535.7 470.6h0M555.2 459.7h0M542.6 479.4h0M567.4 467.0h0M554.6 475.5h0M544.7 464.0h0M548.4 457.8h0M537.5 480.1h0M552.7 458.5h0M546.9 462.1h0M544.1 465.6h0M528.9 455.0h0M547.5 463.9h0M533.3 466.6h0M542.2 467.7h0M547.4 473.6h0M570.9 467.3h0M550.9 471.3h0M561.2 467.2h0M561.8 461.1h0M561.9 467.6h0M556.5 463.3h0M544.6 470.2h0M543.3 458.5h0M575.0 470.6h0M539.5 476.6h0M520.9 473.4h0M560.6 465.8h0M547.7 471.2h0M558.2 456.2h0M540.0 473.8h0M561.5 455.7h0M529.2 471.2h0M538.7 461.6h0M543.1 467.9h0M521.4 474.6h0M545.4 472.5h0M534.2 461.2h0M557.8 471.4h0M549.9 463.0h0M570.1 470.5h0M555.1 463.0h0M569.0 467.9h0M545.6 476.5h0M566.8 464.8h0M557.6 469.9h0M544.1 457.6h0M568.0 451.4h0M528.8 458.0h0M558.0 471.8h0M541.3 475.8h0M574.6 472.1h0M532.1 477.0h0M584.1 454.5h0M527.2 477.5h0M558.4 464.0h0M550.0 453.1h0M538.5 468.3h0M557.6 471.1h0M564.4 460.2h0M549.6 475.7h0M531.0 471.6h0M538.4 468.4h0M577.7 464.7h0M544.2 461.2h0M530.3 467.8h0M517.7 469.0h0M552.7 458.5h0M539.3 475.3h0M568.9 477.7h0M567.5 465.4h0M547.6 474.6h0M560.7 465.3h0M577.1 460.8h0M553.4 472.9h0M558.0 464.9h0M566.0 483.3h0M546.0 470.9h0M557.1 465.7h0M575.3 461.6h0M575.7 455.0h0M552.7 459.2h0M556.2 469.6h0M559.0 465.9h0M547.0 457.0h0M563.3 463.9h0M567.7 451.0h0M547.2 453.5h0" stroke="#333" stroke-width="1.0" stroke-linecap="round" fill="none"/>
<polygon points="503.4,468.2 510.2,467.9 517.0,467.4 523.8,466.9 530.5,466.3 537.3,465.6 544.1,464.8 550.9,463.8 557.7,462.8 564.4,461.7 571.2,460.4 578.0,459.1 584.8,457.7 584.8,463.7 578.0,464.0 571.2,464.4 564.4,465.0 557.7,465.6 550.9,466.3 544.1,467.1 537.3,468.1 530.5,469.1 523.8,470.2 517.0,471.4 510.2,472.8 503.4,474.2" fill="#888" opacity="0.75"/>
<line x1="503.4" y1="471.2" x2="584.8" y2="460.7" stroke="#000" stroke-width="1.5"/>
<rect x="499.4" y="433.5" width="89.4" height="64.5" fill="none" stroke="#222" stroke-width="0.9"/>
<text x="503.6" y="491.7" font-size="6.3" fill="#333"><tspan font-style="italic">R</tspan> = 0.31, <tspan font-style="italic">p</tspan> = 2e−04</text>
<line x1="501.4" y1="498.0" x2="501.4" y2="500.5" stroke="#333" stroke-width="0.8"/>
<text x="501.4" y="508.2" font-size="7.9" text-anchor="middle" fill="#333">−5</text>
<line x1="532.7" y1="498.0" x2="532.7" y2="500.5" stroke="#333" stroke-width="0.8"/>
<text x="532.7" y="508.2" font-size="7.9" text-anchor="middle" fill="#333">0</text>
<line x1="565.4" y1="498.0" x2="565.4" y2="500.5" stroke="#333" stroke-width="0.8"/>
<text x="565.4" y="508.2" font-size="7.9" text-anchor="middle" fill="#333">5</text>
<rect x="593.3" y="420.5" width="90.3" height="13.0" fill="#ebebeb" stroke="#222" stroke-width="0.9"/>
<text x="638.5" y="429.4" font-size="7.0" text-anchor="middle" fill="#222">Patel_myocyte</text>
<path d="M661.4 453.7h0M629.9 476.6h0M643.9 467.1h0M643.7 473.4h0M649.4 465.2h0M645.0 471.9h0M661.9 456.3h0M657.9 449.5h0M633.5 465.2h0M634.3 472.6h0M624.7 460.9h0M648.0 457.5h0M646.0 465.1h0M635.2 465.4h0M657.8 460.3h0M646.2 469.3h0M634.3 460.0h0M639.8 478.4h0M654.1 477.7h0M659.9 466.2h0M637.8 455.6h0M613.8 477.1h0M628.6 462.2h0M653.4 463.9h0M625.9 473.5h0M665.6 464.2h0M634.8 475.3h0M615.7 473.2h0M638.4 476.1h0M627.1 464.4h0M640.0 472.1h0M624.3 474.0h0M639.7 463.4h0M626.2 474.6h0M647.2 467.2h0M647.6 463.1h0M631.9 469.4h0M656.7 461.6h0M653.0 468.3h0M650.0 461.2h0M630.7 479.1h0M642.5 464.5h0M646.4 470.2h0M657.9 455.1h0M643.9 473.6h0M636.1 468.3h0M632.6 458.7h0M625.9 472.9h0M649.7 445.9h0M641.3 464.5h0M622.2 472.5h0M633.4 478.8h0M630.4 477.6h0M627.5 463.6h0M666.3 451.7h0M638.7 455.6h0M647.3 474.1h0M640.8 464.4h0M645.1 459.3h0M626.1 471.9h0M640.2 453.8h0M609.1 481.1h0M626.2 474.8h0M658.3 459.5h0M636.2 449.6h0M667.7 463.1h0M633.7 461.1h0M652.3 447.7h0M655.5 467.8h0M627.0 463.4h0M671.5 451.7h0M647.4 461.4h0M614.4 483.1h0M669.1 451.9h0M631.6 480.6h0M622.4 470.6h0M624.8 460.5h0M635.7 448.6h0M626.9 471.5h0M633.9 460.6h0M681.6 457.3h0M637.2 475.5h0M654.4 462.6h0M655.9 458.1h0M636.3 480.9h0M646.0 475.4h0M615.1 468.8h0M631.2 470.6h0M643.9 472.2h0M652.5 462.0h0M652.7 467.2h0M649.0 445.9h0M637.7 471.8h0M639.0 477.0h0M637.2 468.0h0M632.8 468.2h0M661.4 469.1h0M657.8 465.0h0M646.7 454.7h0M654.2 456.7h0M649.1 462.5h0M657.5 455.4h0M656.7 460.6h0M669.1 455.2h0M642.5 451.9h0M657.9 460.3h0M611.9 480.1h0M652.1 459.8h0M664.2 457.0h0M642.6 468.5h0M628.1 474.8h0M632.1 471.2h0M661.3 456.1h0M635.3 480.3h0M645.3 472.4h0M653.8 464.9h0M666.2 456.9h0M622.1 471.2h0M636.0 459.9h0M639.0 470.0h0M652.4 462.7h0M642.9 466.0h0M638.4 461.0h0M646.1 470.7h0M634.3 468.8h0M655.3 454.1h0M650.7 464.0h0M660.3 452.9h0M638.5 478.4h0M675.6 458.2h0M665.7 453.0h0M660.1 461.7h0M655.5 452.3h0M647.6 469.0h0M661.9 462.1h0M651.7 469.7h0M670.9 445.9h0M617.9 475.1h0M669.6 469.5h0M656.5 454.1h0M654.5 457.1h0M658.2 459.1h0M670.8 448.9h0M667.4 451.8h0M655.9 463.5h0M626.0 457.9h0M642.9 463.5h0M636.6 473.3h0M650.0 467.6h0M630.0 469.3h0" stroke="#333" stroke-width="1.0" stroke-linecap="round" fill="none"/>
<polygon points="596.7,479.0 603.5,477.2 610.3,475.2 617.1,473.2 623.9,471.0 630.7,468.7 637.5,466.4 644.4,463.9 651.2,461.2 658.0,458.5 664.8,455.7 671.6,452.8 678.4,449.7 678.4,455.7 671.6,457.5 664.8,459.5 658.0,461.5 651.2,463.7 644.4,466.0 637.5,468.4 630.7,470.8 623.9,473.5 617.1,476.2 610.3,479.0 603.5,481.9 596.7,485.0" fill="#888" opacity="0.75"/>
<line x1="596.7" y1="482.0" x2="678.4" y2="452.7" stroke="#000" stroke-width="1.5"/>
<rect x="593.3" y="433.5" width="90.3" height="64.5" fill="none" stroke="#222" stroke-width="0.9"/>
<text x="597.5" y="491.7" font-size="6.3" fill="#333"><tspan font-style="italic">R</tspan> = 0.72, <tspan font-style="italic">p</tspan> &lt; 2.2e−16</text>
<line x1="594.8" y1="498.0" x2="594.8" y2="500.5" stroke="#333" stroke-width="0.8"/>
<text x="594.8" y="508.2" font-size="7.9" text-anchor="middle" fill="#333">−5</text>
<line x1="626.6" y1="498.0" x2="626.6" y2="500.5" stroke="#333" stroke-width="0.8"/>
<text x="626.6" y="508.2" font-size="7.9" text-anchor="middle" fill="#333">0</text>
<line x1="659.1" y1="498.0" x2="659.1" y2="500.5" stroke="#333" stroke-width="0.8"/>
<text x="659.1" y="508.2" font-size="7.9" text-anchor="middle" fill="#333">5</text>
<line x1="402.7" y1="435.5" x2="405.2" y2="435.5" stroke="#333" stroke-width="0.8"/>
<text x="400.8" y="438.3" font-size="7.9" text-anchor="end" fill="#333">1.0</text>
<line x1="402.7" y1="449.9" x2="405.2" y2="449.9" stroke="#333" stroke-width="0.8"/>
<text x="400.8" y="452.7" font-size="7.9" text-anchor="end" fill="#333">0.5</text>
<line x1="402.7" y1="464.6" x2="405.2" y2="464.6" stroke="#333" stroke-width="0.8"/>
<text x="400.8" y="467.4" font-size="7.9" text-anchor="end" fill="#333">0.0</text>
<line x1="402.7" y1="479.1" x2="405.2" y2="479.1" stroke="#333" stroke-width="0.8"/>
<text x="400.8" y="481.9" font-size="7.9" text-anchor="end" fill="#333">−0.5</text>
<line x1="402.7" y1="493.8" x2="405.2" y2="493.8" stroke="#333" stroke-width="0.8"/>
<text x="400.8" y="496.6" font-size="7.9" text-anchor="end" fill="#333">−1.0</text>
<text x="544.0" y="518.2" font-size="8.4" text-anchor="middle" fill="#222">TNNT2 expression (log2cpm)</text>
<rect x="404.3" y="527.2" width="88.3" height="13.3" fill="#ebebeb" stroke="#222" stroke-width="0.9"/>
<text x="448.5" y="536.2" font-size="7.0" text-anchor="middle" fill="#222">Patel_mesoderm</text>
<path d="M453.0 576.7h0M473.8 556.4h0M455.0 553.8h0M485.0 557.7h0M462.8 567.4h0M453.0 556.5h0M441.8 568.4h0M451.9 561.7h0M458.2 571.6h0M457.8 568.2h0M489.7 553.8h0M445.6 578.6h0M449.9 583.2h0M445.5 572.6h0M480.4 553.8h0M470.6 563.5h0M458.5 577.1h0M446.7 576.7h0M448.0 580.9h0M437.3 575.9h0M447.5 563.8h0M469.9 558.8h0M463.6 553.8h0M440.2 567.8h0M460.5 554.2h0M460.1 573.1h0M456.3 568.8h0M449.5 564.4h0M454.5 570.0h0M476.8 559.9h0M444.6 579.0h0M439.9 560.2h0M451.4 564.7h0M464.2 563.7h0M435.8 571.5h0M447.3 586.8h0M436.4 568.9h0M472.9 570.9h0M449.8 580.6h0M453.5 562.2h0M453.3 575.5h0M476.4 557.0h0M435.7 578.5h0M448.1 566.3h0M461.0 567.0h0M437.0 571.2h0M475.3 557.6h0M481.3 553.8h0M438.9 575.5h0M440.4 575.9h0M455.9 557.9h0M481.5 569.3h0M430.0 577.2h0M435.5 573.9h0M448.1 569.5h0M471.2 569.8h0M450.0 573.5h0M464.6 553.8h0M455.9 560.3h0M471.8 569.9h0M459.4 577.0h0M450.7 564.4h0M474.7 559.4h0M459.6 556.3h0M465.4 562.9h0M452.7 561.2h0M443.5 570.2h0M457.0 576.6h0M428.9 569.5h0M440.6 569.2h0M442.3 565.2h0M444.7 575.9h0M448.5 564.2h0M463.5 565.3h0M440.2 583.6h0M444.9 565.4h0M460.0 559.7h0M439.8 585.0h0M447.8 564.2h0M457.3 566.0h0M425.7 577.8h0M461.8 561.7h0M461.2 556.7h0M466.9 560.1h0M443.6 564.0h0M468.3 561.8h0M448.7 573.4h0M452.3 566.7h0M459.6 562.6h0M468.0 579.4h0M429.5 579.7h0M448.3 575.7h0M425.6 592.9h0M466.2 578.3h0M471.4 553.8h0M452.2 581.4h0M471.3 555.2h0M458.5 576.6h0M474.0 556.9h0M460.6 569.7h0M451.4 568.0h0M469.2 561.8h0M453.8 577.4h0M471.8 564.8h0M448.7 565.1h0M438.6 570.9h0M459.4 556.6h0M442.1 566.5h0M457.6 563.9h0M477.3 568.0h0M455.6 567.0h0M470.8 554.7h0M469.1 553.8h0M449.4 573.2h0M456.8 555.5h0M442.9 574.6h0M431.5 591.9h0M444.6 573.9h0M490.6 553.8h0M459.0 570.7h0M452.7 561.7h0M432.2 580.2h0M451.7 579.5h0M457.7 572.0h0M439.4 572.8h0M461.2 562.8h0M464.7 560.8h0M450.7 573.0h0M437.6 592.9h0M436.2 587.4h0M477.5 556.3h0M461.0 572.7h0M460.3 570.7h0M450.0 574.2h0M446.8 563.5h0M451.7 575.1h0M459.3 569.1h0M449.1 571.8h0M443.2 572.6h0M456.3 561.7h0M477.0 553.8h0M464.4 561.6h0M469.9 557.8h0M467.2 557.1h0M443.4 571.8h0M455.3 560.8h0M472.2 553.8h0M451.2 570.6h0M452.8 576.8h0M441.0 581.6h0" stroke="#333" stroke-width="1.0" stroke-linecap="round" fill="none"/>
<polygon points="407.2,585.5 414.0,583.3 420.8,580.9 427.5,578.4 434.3,575.8 441.1,573.0 447.9,570.0 454.6,566.9 461.4,563.6 468.2,560.1 474.9,556.4 481.7,552.6 488.5,548.6 488.5,557.6 481.7,559.7 474.9,561.9 468.2,564.3 461.4,566.9 454.6,569.7 447.9,572.6 441.1,575.7 434.3,579.0 427.5,582.4 420.8,585.9 414.0,589.6 407.2,593.5" fill="#888" opacity="0.75"/>
<line x1="407.2" y1="589.5" x2="488.5" y2="553.1" stroke="#000" stroke-width="1.5"/>
<rect x="404.3" y="540.5" width="88.3" height="64.0" fill="none" stroke="#222" stroke-width="0.9"/>
<text x="408.5" y="598.2" font-size="6.3" fill="#333"><tspan font-style="italic">R</tspan> = 0.59, <tspan font-style="italic">p</tspan> = 1.3e−14</text>
<line x1="408.8" y1="604.5" x2="408.8" y2="607.0" stroke="#333" stroke-width="0.8"/>
<text x="408.8" y="614.7" font-size="7.9" text-anchor="middle" fill="#333">2</text>
<line x1="429.4" y1="604.5" x2="429.4" y2="607.0" stroke="#333" stroke-width="0.8"/>
<text x="429.4" y="614.7" font-size="7.9" text-anchor="middle" fill="#333">4</text>
<line x1="449.9" y1="604.5" x2="449.9" y2="607.0" stroke="#333" stroke-width="0.8"/>
<text x="449.9" y="614.7" font-size="7.9" text-anchor="middle" fill="#333">6</text>
<line x1="470.5" y1="604.5" x2="470.5" y2="607.0" stroke="#333" stroke-width="0.8"/>
<text x="470.5" y="614.7" font-size="7.9" text-anchor="middle" fill="#333">8</text>
<line x1="491.0" y1="604.5" x2="491.0" y2="607.0" stroke="#333" stroke-width="0.8"/>
<text x="491.0" y="614.7" font-size="7.9" text-anchor="middle" fill="#333">10</text>
<rect x="497.1" y="527.2" width="89.1" height="13.3" fill="#ebebeb" stroke="#222" stroke-width="0.9"/>
<text x="541.7" y="536.2" font-size="7.0" text-anchor="middle" fill="#222">Patel_myoblast</text>
<path d="M564.9 579.9h0M577.1 571.1h0M539.2 562.6h0M502.0 553.8h0M552.1 568.3h0M512.0 566.9h0M528.5 567.3h0M540.0 583.7h0M511.7 567.6h0M584.2 584.4h0M552.2 575.8h0M560.3 581.5h0M556.9 569.1h0M547.6 578.7h0M547.9 579.3h0M563.4 589.0h0M551.1 580.4h0M542.0 571.2h0M558.9 568.7h0M565.4 571.4h0M546.4 569.1h0M534.8 575.5h0M521.9 579.2h0M522.9 574.4h0M543.6 572.0h0M552.8 586.1h0M550.6 570.7h0M547.9 582.7h0M532.6 573.5h0M566.4 575.3h0M545.4 581.5h0M538.9 572.9h0M543.6 576.0h0M531.0 558.6h0M564.3 573.5h0M533.4 578.1h0M539.0 571.5h0M530.7 568.9h0M553.2 584.4h0M559.1 568.9h0M542.6 578.9h0M534.8 565.1h0M542.8 582.2h0M530.2 576.8h0M558.4 573.0h0M529.0 568.4h0M542.3 569.1h0M548.6 592.5h0M561.9 587.8h0M546.8 583.8h0M537.2 574.4h0M564.9 592.9h0M556.0 578.4h0M546.9 567.9h0M556.7 589.8h0M558.2 577.3h0M543.8 567.1h0M568.3 580.3h0M565.5 573.0h0M559.0 584.1h0M545.5 570.6h0M584.2 592.9h0M567.4 575.2h0M569.6 585.3h0M574.3 581.0h0M544.4 566.6h0M524.5 556.9h0M541.9 573.9h0M570.8 592.9h0M539.0 556.1h0M552.2 579.3h0M541.4 566.5h0M537.2 573.9h0M550.1 562.9h0M545.5 566.9h0M532.7 572.0h0M534.8 573.5h0M509.8 569.6h0M550.5 572.2h0M534.5 559.8h0M530.1 583.9h0M553.3 575.7h0M537.4 567.5h0M529.2 572.7h0M561.5 570.6h0M556.6 573.9h0M552.3 569.3h0M559.1 590.5h0M538.3 570.5h0M561.7 573.4h0M527.6 553.8h0M539.1 581.5h0M536.0 570.6h0M509.4 561.6h0M544.0 568.8h0M539.4 563.8h0M532.6 579.7h0M529.1 579.9h0M526.4 579.0h0M545.2 579.1h0M544.1 577.8h0M583.2 566.7h0M538.2 575.7h0M569.7 570.9h0M548.4 581.9h0M539.8 573.4h0M551.6 583.6h0M554.1 579.8h0M537.7 568.9h0M581.2 574.0h0M542.0 568.6h0M548.7 568.8h0M558.8 572.3h0M538.9 561.4h0M540.5 561.5h0M543.1 577.8h0M522.0 582.8h0M559.9 579.8h0M541.9 581.4h0M554.3 573.6h0M550.2 576.8h0M534.8 582.3h0M527.0 573.3h0M533.6 571.2h0M544.2 575.6h0M571.4 577.6h0M556.2 580.3h0M551.6 567.6h0M547.7 562.8h0M565.1 590.7h0M550.4 579.9h0M547.4 561.5h0M543.0 581.1h0M546.6 568.8h0M503.5 572.2h0M572.8 592.9h0M584.2 567.9h0M548.2 580.4h0M539.3 575.0h0M565.4 575.3h0M557.5 570.5h0M510.1 566.1h0M555.5 581.1h0M560.4 570.6h0M557.7 553.9h0M550.7 565.9h0M548.0 566.2h0M550.5 582.5h0M564.4 575.3h0M569.1 582.8h0" stroke="#333" stroke-width="1.0" stroke-linecap="round" fill="none"/>
<polygon points="500.8,560.1 507.6,562.5 514.4,564.7 521.2,566.9 528.0,568.9 534.8,570.7 541.6,572.5 548.5,574.1 555.3,575.6 562.1,576.9 568.9,578.1 575.7,579.1 582.5,580.0 582.5,588.0 575.7,585.5 568.9,583.1 562.1,580.9 555.3,578.8 548.5,576.9 541.6,575.1 534.8,573.5 528.0,571.9 521.2,570.6 514.4,569.3 507.6,568.1 500.8,567.1" fill="#888" opacity="0.75"/>
<line x1="500.8" y1="563.6" x2="582.5" y2="584.0" stroke="#000" stroke-width="1.5"/>
<rect x="497.1" y="540.5" width="89.1" height="64.0" fill="none" stroke="#222" stroke-width="0.9"/>
<text x="501.3" y="598.2" font-size="6.3" fill="#333"><tspan font-style="italic">R</tspan> = −0.48, <tspan font-style="italic">p</tspan> = 2.1e−09</text>
<line x1="502.0" y1="604.5" x2="502.0" y2="607.0" stroke="#333" stroke-width="0.8"/>
<text x="502.0" y="614.7" font-size="7.9" text-anchor="middle" fill="#333">2</text>
<line x1="522.8" y1="604.5" x2="522.8" y2="607.0" stroke="#333" stroke-width="0.8"/>
<text x="522.8" y="614.7" font-size="7.9" text-anchor="middle" fill="#333">4</text>
<line x1="543.7" y1="604.5" x2="543.7" y2="607.0" stroke="#333" stroke-width="0.8"/>
<text x="543.7" y="614.7" font-size="7.9" text-anchor="middle" fill="#333">6</text>
<line x1="564.5" y1="604.5" x2="564.5" y2="607.0" stroke="#333" stroke-width="0.8"/>
<text x="564.5" y="614.7" font-size="7.9" text-anchor="middle" fill="#333">8</text>
<line x1="585.4" y1="604.5" x2="585.4" y2="607.0" stroke="#333" stroke-width="0.8"/>
<text x="585.4" y="614.7" font-size="7.9" text-anchor="middle" fill="#333">10</text>
<rect x="591.0" y="527.2" width="89.2" height="13.3" fill="#ebebeb" stroke="#222" stroke-width="0.9"/>
<text x="635.6" y="536.2" font-size="7.0" text-anchor="middle" fill="#222">Patel_myocyte</text>
<path d="M663.1 575.5h0M625.1 571.8h0M627.6 564.1h0M609.1 570.6h0M661.9 567.2h0M638.1 561.1h0M647.6 582.3h0M640.8 578.3h0M652.3 572.9h0M653.3 561.7h0M639.1 574.0h0M651.5 584.2h0M638.3 566.1h0M634.5 569.9h0M627.4 560.7h0M645.8 564.4h0M641.0 573.0h0M640.2 580.8h0M647.2 575.3h0M664.0 573.0h0M620.4 566.4h0M656.5 567.3h0M628.3 575.1h0M678.2 574.3h0M658.0 586.6h0M633.2 566.9h0M637.7 567.2h0M641.3 563.7h0M637.4 571.5h0M673.0 566.4h0M642.7 567.2h0M640.5 569.5h0M628.5 569.8h0M629.5 573.0h0M656.5 578.6h0M642.6 578.1h0M638.0 576.3h0M678.2 580.5h0M672.0 582.4h0M635.1 574.4h0M625.6 575.3h0M659.7 578.7h0M654.6 575.2h0M634.7 558.5h0M648.6 581.1h0M654.3 572.7h0M650.3 578.2h0M651.1 569.3h0M623.7 556.0h0M634.6 569.1h0M628.5 572.6h0M621.1 572.2h0M664.7 574.4h0M614.2 569.3h0M631.9 572.0h0M636.1 567.4h0M645.4 581.0h0M638.0 573.1h0M617.1 585.1h0M627.3 571.2h0M619.2 573.8h0M626.4 571.4h0M631.2 569.2h0M635.3 565.4h0M638.0 566.2h0M635.4 568.8h0M624.3 572.1h0M649.7 574.7h0M616.8 573.5h0M652.9 561.3h0M655.5 556.6h0M644.7 577.8h0M659.2 585.6h0M646.7 580.0h0M663.2 588.5h0M644.6 579.0h0M622.2 564.5h0M661.2 578.0h0M622.9 569.3h0M614.9 568.8h0M655.1 561.6h0M639.7 575.0h0M638.4 573.3h0M630.5 565.5h0M641.3 559.1h0M639.3 561.6h0M629.7 582.4h0M635.0 568.5h0M653.5 568.5h0M632.0 571.2h0M650.2 566.9h0M640.4 558.8h0M621.9 569.8h0M631.0 573.3h0M652.2 558.5h0M645.7 574.2h0M635.8 573.2h0M629.0 574.4h0M643.3 586.5h0M612.0 561.5h0M646.9 580.9h0M622.5 562.4h0M633.1 574.4h0M627.1 578.0h0M663.4 573.7h0M657.9 563.5h0M625.6 575.3h0M654.0 564.4h0M633.9 575.3h0M640.4 567.0h0M640.8 578.9h0M633.4 562.4h0M660.5 571.7h0M610.5 571.2h0M654.9 582.6h0M655.4 574.4h0M646.1 576.9h0M666.1 578.3h0M617.9 577.8h0M643.6 572.1h0M637.7 578.4h0M641.5 575.1h0M641.4 580.1h0M624.0 573.9h0M649.1 573.9h0M663.7 588.1h0M637.4 581.9h0M630.9 587.0h0M659.9 571.6h0M654.0 578.8h0M636.3 563.4h0M639.0 580.4h0M656.1 577.9h0M648.6 567.5h0M632.9 573.2h0M638.2 565.3h0M622.2 579.5h0M640.1 576.0h0M626.3 561.9h0M655.0 577.2h0M655.5 569.1h0M635.2 574.7h0M637.0 582.5h0M661.1 570.0h0M657.1 573.7h0M654.4 577.7h0M638.4 574.9h0M670.9 584.9h0M648.3 571.7h0M678.2 588.1h0" stroke="#333" stroke-width="1.0" stroke-linecap="round" fill="none"/>
<polygon points="595.3,564.3 602.1,565.8 608.8,567.1 615.6,568.4 622.4,569.5 629.1,570.5 635.9,571.4 642.7,572.1 649.4,572.7 656.2,573.1 663.0,573.4 669.7,573.5 676.5,573.5 676.5,581.5 669.7,579.9 663.0,578.4 656.2,577.1 649.4,575.9 642.7,574.8 635.9,573.9 629.1,573.2 622.4,572.6 615.6,572.1 608.8,571.7 602.1,571.4 595.3,571.3" fill="#888" opacity="0.75"/>
<line x1="595.3" y1="567.8" x2="676.5" y2="577.5" stroke="#000" stroke-width="1.5"/>
<rect x="591.0" y="540.5" width="89.2" height="64.0" fill="none" stroke="#222" stroke-width="0.9"/>
<text x="595.2" y="598.2" font-size="6.3" fill="#333"><tspan font-style="italic">R</tspan> = −0.24, <tspan font-style="italic">p</tspan> = 0.0045</text>
<line x1="595.9" y1="604.5" x2="595.9" y2="607.0" stroke="#333" stroke-width="0.8"/>
<text x="595.9" y="614.7" font-size="7.9" text-anchor="middle" fill="#333">2</text>
<line x1="616.5" y1="604.5" x2="616.5" y2="607.0" stroke="#333" stroke-width="0.8"/>
<text x="616.5" y="614.7" font-size="7.9" text-anchor="middle" fill="#333">4</text>
<line x1="637.1" y1="604.5" x2="637.1" y2="607.0" stroke="#333" stroke-width="0.8"/>
<text x="637.1" y="614.7" font-size="7.9" text-anchor="middle" fill="#333">6</text>
<line x1="657.8" y1="604.5" x2="657.8" y2="607.0" stroke="#333" stroke-width="0.8"/>
<text x="657.8" y="614.7" font-size="7.9" text-anchor="middle" fill="#333">8</text>
<line x1="678.4" y1="604.5" x2="678.4" y2="607.0" stroke="#333" stroke-width="0.8"/>
<text x="678.4" y="614.7" font-size="7.9" text-anchor="middle" fill="#333">10</text>
<line x1="401.8" y1="542.9" x2="404.3" y2="542.9" stroke="#333" stroke-width="0.8"/>
<text x="399.9" y="545.7" font-size="7.9" text-anchor="end" fill="#333">1.0</text>
<line x1="401.8" y1="557.8" x2="404.3" y2="557.8" stroke="#333" stroke-width="0.8"/>
<text x="399.9" y="560.6" font-size="7.9" text-anchor="end" fill="#333">0.5</text>
<line x1="401.8" y1="572.7" x2="404.3" y2="572.7" stroke="#333" stroke-width="0.8"/>
<text x="399.9" y="575.5" font-size="7.9" text-anchor="end" fill="#333">0.0</text>
<line x1="401.8" y1="587.9" x2="404.3" y2="587.9" stroke="#333" stroke-width="0.8"/>
<text x="399.9" y="590.7" font-size="7.9" text-anchor="end" fill="#333">−0.5</text>
<line x1="401.8" y1="602.8" x2="404.3" y2="602.8" stroke="#333" stroke-width="0.8"/>
<text x="399.9" y="605.6" font-size="7.9" text-anchor="end" fill="#333">−1.0</text>
<text x="544.0" y="624.8" font-size="8.4" text-anchor="middle" fill="#222">CD44 expression (log2cpm)</text>
<line x1="44.0" y1="592.5" x2="345.0" y2="592.5" stroke="#ececec" stroke-width="0.8"/>
<line x1="88.3" y1="598.6" x2="88.3" y2="694.7" stroke="#222" stroke-width="1"/>
<line x1="88.3" y1="694.7" x2="265.0" y2="694.7" stroke="#222" stroke-width="1"/>
<line x1="85.5" y1="691.2" x2="88.3" y2="691.2" stroke="#222" stroke-width="1"/>
<text x="84.3" y="694.6" font-size="9.6" text-anchor="end" fill="#333">0</text>
<line x1="85.5" y1="664.5" x2="88.3" y2="664.5" stroke="#222" stroke-width="1"/>
<text x="84.3" y="667.9" font-size="9.6" text-anchor="end" fill="#333">2</text>
<line x1="85.5" y1="637.7" x2="88.3" y2="637.7" stroke="#222" stroke-width="1"/>
<text x="84.3" y="641.1" font-size="9.6" text-anchor="end" fill="#333">4</text>
<line x1="85.5" y1="611.0" x2="88.3" y2="611.0" stroke="#222" stroke-width="1"/>
<text x="84.3" y="614.4" font-size="9.6" text-anchor="end" fill="#333">6</text>
<text x="59.5" y="647.0" font-size="12" text-anchor="middle" fill="#333" textLength="108" lengthAdjust="spacingAndGlyphs" transform="rotate(-90 59.5 647.0)">PRKG1 expression</text>
<polygon points="103.4,611.0 103.8,616.3 104.0,623.0 105.9,626.4 109.4,629.7 112.4,635.0 114.3,641.7 113.4,647.1 111.3,653.8 109.5,659.1 107.8,665.0 106.2,671.1 104.9,676.5 104.0,683.6 104.9,687.2 107.4,688.5 110.4,689.5 113.7,690.7 113.7,691.9 103.4,692.3 103.4,692.3 93.1,691.9 93.1,690.7 96.4,689.5 99.4,688.5 101.9,687.2 102.8,683.6 101.9,676.5 100.6,671.1 99.0,665.0 97.3,659.1 95.5,653.8 93.4,647.1 92.5,641.7 94.4,635.0 97.4,629.7 100.9,626.4 102.8,623.0 103.1,616.3 103.4,611.0" fill="#0f2337" stroke="#222" stroke-width="0.4" stroke-linejoin="round"/>
<polygon points="128.0,609.6 128.3,616.3 128.6,623.0 130.5,626.4 134.0,629.7 137.0,633.7 139.0,638.4 138.2,643.1 136.5,647.1 133.8,653.8 131.7,659.1 130.0,665.8 129.2,671.1 128.7,677.8 128.5,682.5 129.5,688.3 130.6,690.1 130.6,691.9 128.0,692.3 128.0,692.3 125.4,691.9 125.4,690.1 126.5,688.3 127.5,682.5 127.3,677.8 126.8,671.1 126.0,665.8 124.3,659.1 122.2,653.8 119.5,647.1 117.8,643.1 117.0,638.4 119.0,633.7 122.0,629.7 125.5,626.4 127.4,623.0 127.7,616.3 128.0,609.6" fill="#2e5322" stroke="#222" stroke-width="0.4" stroke-linejoin="round"/>
<polygon points="152.5,604.3 152.8,616.3 153.1,625.7 155.0,629.7 158.0,633.7 161.0,638.4 163.4,643.1 162.0,648.4 158.7,653.8 157.1,659.1 156.0,665.0 155.1,671.1 154.5,676.5 153.8,684.5 154.5,686.5 156.5,688.3 160.0,689.9 162.2,690.8 162.2,691.9 152.5,692.3 152.5,692.3 142.8,691.9 142.8,690.8 145.0,689.9 148.5,688.3 150.5,686.5 151.2,684.5 150.5,676.5 149.9,671.1 149.0,665.0 147.9,659.1 146.3,653.8 143.0,648.4 141.6,643.1 144.0,638.4 147.0,633.7 150.0,629.7 151.9,625.7 152.2,616.3 152.5,604.3" fill="#6e9a7e" stroke="#222" stroke-width="0.4" stroke-linejoin="round"/>
<polygon points="177.0,621.7 177.4,625.7 178.5,629.7 179.6,635.0 180.0,643.1 180.0,651.1 179.8,657.8 179.4,664.5 179.0,671.1 178.6,677.8 178.3,683.2 179.0,687.2 182.0,689.2 187.0,690.5 187.5,691.9 177.0,692.3 177.0,692.3 166.5,691.9 167.0,690.5 172.0,689.2 175.0,687.2 175.7,683.2 175.4,677.8 175.0,671.1 174.6,664.5 174.2,657.8 174.0,651.1 174.0,643.1 174.4,635.0 175.5,629.7 176.6,625.7 177.0,621.7" fill="#ecd68c" stroke="#222" stroke-width="0.4" stroke-linejoin="round"/>
<polygon points="201.1,613.7 201.4,621.7 201.9,627.0 203.1,632.4 204.3,639.1 204.7,647.1 204.4,653.8 203.7,661.8 203.1,669.8 202.6,677.8 202.4,683.2 203.6,687.2 207.1,689.2 211.6,690.5 212.1,691.9 201.1,692.3 201.1,692.3 190.1,691.9 190.6,690.5 195.1,689.2 198.6,687.2 199.8,683.2 199.6,677.8 199.1,669.8 198.5,661.8 197.8,653.8 197.5,647.1 197.9,639.1 199.1,632.4 200.3,627.0 200.8,621.7 201.1,613.7" fill="#d9843e" stroke="#222" stroke-width="0.4" stroke-linejoin="round"/>
<polygon points="226.1,603.0 226.4,616.3 227.1,621.7 229.1,625.7 231.6,631.0 233.1,637.7 233.3,644.4 232.6,651.1 231.1,657.8 229.6,664.5 228.3,671.1 227.6,677.8 227.5,683.2 229.1,687.2 233.1,689.2 236.6,690.5 237.1,691.9 226.1,692.3 226.1,692.3 215.1,691.9 215.6,690.5 219.1,689.2 223.1,687.2 224.7,683.2 224.6,677.8 223.9,671.1 222.6,664.5 221.1,657.8 219.6,651.1 218.9,644.4 219.1,637.7 220.6,631.0 223.1,625.7 225.1,621.7 225.8,616.3 226.1,603.0" fill="#c8261a" stroke="#222" stroke-width="0.4" stroke-linejoin="round"/>
<polygon points="250.2,635.0 250.5,640.4 251.0,645.7 252.0,651.1 253.2,657.8 254.0,664.5 254.2,669.8 253.5,675.2 252.2,679.2 251.8,683.2 253.2,686.5 256.2,688.8 260.2,690.4 261.2,691.9 250.2,692.3 250.2,692.3 239.2,691.9 240.2,690.4 244.2,688.8 247.2,686.5 248.6,683.2 248.2,679.2 246.9,675.2 246.2,669.8 246.4,664.5 247.2,657.8 248.4,651.1 249.4,645.7 249.9,640.4 250.2,635.0" fill="#721010" stroke="#222" stroke-width="0.4" stroke-linejoin="round"/>
<line x1="103.4" y1="694.7" x2="103.4" y2="697.4" stroke="#222" stroke-width="1"/>
<text x="107.2" y="703.3" font-size="10.4" text-anchor="end" fill="#222" transform="rotate(-45 107.2 703.3)">Mesoderm</text>
<line x1="128.0" y1="694.7" x2="128.0" y2="697.4" stroke="#222" stroke-width="1"/>
<text x="131.8" y="703.3" font-size="10.4" text-anchor="end" fill="#222" transform="rotate(-45 131.8 703.3)">Myoblast−A</text>
<line x1="152.5" y1="694.7" x2="152.5" y2="697.4" stroke="#222" stroke-width="1"/>
<text x="156.3" y="703.3" font-size="10.4" text-anchor="end" fill="#222" transform="rotate(-45 156.3 703.3)">Myoblast−B</text>
<line x1="177.0" y1="694.7" x2="177.0" y2="697.4" stroke="#222" stroke-width="1"/>
<text x="180.8" y="703.3" font-size="10.4" text-anchor="end" fill="#222" transform="rotate(-45 180.8 703.3)">Myoblast−C</text>
<line x1="201.1" y1="694.7" x2="201.1" y2="697.4" stroke="#222" stroke-width="1"/>
<text x="204.9" y="703.3" font-size="10.4" text-anchor="end" fill="#222" transform="rotate(-45 204.9 703.3)">Myoblast−D</text>
<line x1="226.1" y1="694.7" x2="226.1" y2="697.4" stroke="#222" stroke-width="1"/>
<text x="229.9" y="703.3" font-size="10.4" text-anchor="end" fill="#222" transform="rotate(-45 229.9 703.3)">Myocyte−A</text>
<line x1="250.2" y1="694.7" x2="250.2" y2="697.4" stroke="#222" stroke-width="1"/>
<text x="254.0" y="703.3" font-size="10.4" text-anchor="end" fill="#222" transform="rotate(-45 254.0 703.3)">Myocyte−B</text>
<rect x="273.1" y="613.1" width="7.6" height="9.7" fill="#0f2337"/>
<text x="284.8" y="621.8" font-size="10.4" fill="#222">Mesoderm</text>
<rect x="273.1" y="622.8" width="7.6" height="9.7" fill="#2e5322"/>
<text x="284.8" y="631.5" font-size="10.4" fill="#222">Myoblast−A</text>
<rect x="273.1" y="632.5" width="7.6" height="9.7" fill="#6e9a7e"/>
<text x="284.8" y="641.3" font-size="10.4" fill="#222">Myoblast−B</text>
<rect x="273.1" y="642.2" width="7.6" height="9.7" fill="#ecd68c"/>
<text x="284.8" y="651.0" font-size="10.4" fill="#222">Myoblast−C</text>
<rect x="273.1" y="651.9" width="7.6" height="9.7" fill="#d9843e"/>
<text x="284.8" y="660.8" font-size="10.4" fill="#222">Myoblast−D</text>
<rect x="273.1" y="661.6" width="7.6" height="9.7" fill="#c8261a"/>
<text x="284.8" y="670.5" font-size="10.4" fill="#222">Myocyte−A</text>
<rect x="273.1" y="671.3" width="7.6" height="9.7" fill="#721010"/>
<text x="284.8" y="680.3" font-size="10.4" fill="#222">Myocyte−B</text>
<text x="10.2" y="556.6" font-size="12" font-weight="bold">G</text>
<text x="11.5" y="768.9" font-size="10.5" font-weight="bold">H</text>
<path d="M251.2 825.5h0M239.9 814.2h0M209.5 811h0M243.1 810.3h0M209 821.3h0M155.8 779.7h0M212 814.6h0M214.1 822.4h0M255.7 820.1h0M251.6 818.4h0M209.8 826.6h0M248 818.8h0M236.6 806.4h0M236.4 815.3h0M213 818.7h0M212.9 816.8h0M246.3 809.4h0M203.1 823.6h0M219.6 825.6h0M208.4 810.8h0M253.5 822.7h0M204.3 808.2h0M219.3 818.8h0M188.2 793h0M217.6 824.3h0M209.7 810.2h0M206.1 787.4h0M229.9 821.7h0M245.6 815.8h0M211.2 803.9h0M240.2 807.2h0M227.5 801.9h0M235.2 814.7h0M229.2 822.6h0M208.2 815.3h0M253.7 821.5h0M201.4 780.2h0M240.6 822.3h0M140.3 797.1h0M210.3 802.8h0M210.8 825.5h0M231.8 833.3h0M197.9 803.3h0M204.3 807.8h0M230.9 823.8h0M153.3 779.3h0M203.2 825.5h0M250.4 823.6h0M205.1 823.6h0M255.7 823.3h0M237.5 813.4h0M242.2 816.3h0M216.3 801.3h0M235.7 824.7h0M208 819h0M206.7 813.6h0M223.2 836.1h0M159 795.4h0M241.7 826.1h0M206.1 820.6h0M199.6 826.2h0M234.3 802h0M251.1 824.4h0M215.1 821.6h0M188.1 800.2h0M231.8 808.1h0M209.7 810.9h0M246.1 819.5h0M222.3 801.2h0M221.9 807.8h0M215.7 814.3h0M243 812.6h0M238.3 804.8h0M205.7 786.9h0M251.2 820.5h0M199.1 834.5h0M208.1 809h0M241.6 814.2h0M225.8 793.1h0M213.6 806h0M240.5 819.8h0M220 799.7h0M202 826.1h0M240 817.8h0M242.9 824.7h0M225 813h0M231.2 807.3h0M247.9 819.4h0M248.6 830.8h0M228.2 805.8h0M150.1 770h0M237.7 821.3h0M241.9 802.7h0M211.7 808.5h0M202.3 813h0M240.5 801.2h0M165 774.5h0M210.9 808.2h0M214.7 808h0M212.1 826.6h0M200.6 802.4h0M227.8 811h0M234 812.7h0M256.2 822h0M219.1 818.7h0M205.6 826h0M220 816.4h0M252.5 818.6h0M205.3 807h0M187.9 778.3h0M234 824h0M229.4 809.9h0M203.7 817.8h0M236.5 809.2h0M205.9 809.9h0M240.2 806.1h0M251.3 826.4h0M154.8 786.2h0M227 807.4h0M209.7 793.5h0M237.4 807.2h0M231.7 823.5h0M221.9 804.4h0M201 777.1h0" stroke="#6e9a7e" stroke-width="1.9" stroke-linecap="round" fill="none"/>
<path d="M121.3 795.9h0M227 788.1h0M237.3 799h0M216.6 816.8h0M194.2 802.3h0M182.6 778.2h0M208.5 779.7h0M239.4 799.1h0M147.7 786.4h0M206.2 788.3h0M169.1 789.1h0M198.4 784h0M152.2 809.9h0M218.3 801.1h0M235.6 814.1h0M159.9 770.2h0M137.6 781.3h0M116.1 796.2h0M139.7 780.7h0M186.1 781h0M150.7 784.5h0M146 783.2h0M172.6 787.6h0M170.1 781h0M121.7 791.4h0M140.6 796.1h0M174 784.2h0M158.5 769.6h0M167 785.9h0M183.2 794.9h0M116.6 792.8h0M182 803.6h0M193.3 792.3h0M160.7 787.2h0M154.1 777.1h0M156.3 776.1h0M233.2 796.3h0M185.6 792.4h0M138.9 794.3h0M176.6 793.1h0M124.1 795.6h0M154.4 786h0M136.4 794.6h0M240 815.6h0M192.6 786.2h0M176.1 797.2h0M113 836.6h0M245.1 814.8h0M157.6 785.2h0M176.5 800.2h0M204.7 777.5h0M204.7 814.7h0M148.9 775.2h0M159.4 781.4h0M200.3 779.6h0M169.4 786.8h0M139.7 800.8h0M141.5 797.2h0M141.2 799h0M118.1 806.1h0M193.3 777.4h0M240.3 823.5h0M206.3 794.6h0M188.3 799.1h0M159.9 780.3h0M102 832.4h0M182.1 791.3h0M193.6 802h0M162.2 829.2h0M156.8 800.1h0M216 782.7h0M163.3 777.7h0M152.4 785.4h0M178.4 792.7h0M132.4 795.4h0M228.9 792.7h0M192.1 798.2h0M223.2 785.6h0M192.5 799.7h0M155.1 772.9h0M159.3 784.4h0M156.4 785.1h0M172.1 830.6h0M136.7 792.9h0M193.4 810.7h0M204.7 776.5h0M149.4 786.4h0M183.3 802.9h0M164.8 801.5h0M174.3 781.2h0M149.5 792h0M133.2 837.5h0M195.4 797.9h0M144.9 777.3h0M180.6 784.6h0M212.1 785.6h0M146.9 791.3h0M230 799.7h0M152.4 774h0M170.9 793.6h0M165.4 818.3h0M199.7 782.1h0M154.2 827.3h0M160.1 770.1h0M187.3 784.1h0M210.6 778.7h0M152.2 780.9h0M204.9 796.1h0M201.1 777.8h0M155.2 778.6h0M177.4 784.1h0M154.3 797.6h0M247.6 815.6h0M205.3 796.6h0M168.2 793.8h0M142.5 779.4h0M126.1 806.5h0M192 784.2h0M194.9 796.5h0M131.1 787.3h0M150.1 811.9h0M125.1 793.6h0M204.3 794.4h0M201.8 778h0M172.2 789.7h0M177.1 783.9h0M184.6 815h0M171.4 797.9h0M175 787h0M187.4 790.7h0M147.8 791.1h0M161.2 832.1h0M184.5 804.2h0M214.9 781.9h0M141.7 813.9h0M168.9 800.3h0M199.5 784.3h0M167.4 780.6h0M151.3 795h0M224.4 789.2h0M224.9 789.8h0M128.1 787.6h0M120.5 796.8h0M189.1 789.2h0M206 797.8h0M155.2 799.2h0M166.5 823.3h0M143.4 810.5h0M203.9 797h0M211.8 784.4h0M196.5 793.8h0M207.4 791h0M151.3 799.7h0M189.9 789.6h0M216.4 793.1h0M215 792.7h0M208.3 799.4h0M147.7 792.1h0M155.3 802.3h0M160.3 772.6h0M200.9 789h0M185.3 798.8h0M201.9 800.1h0M169.1 781.9h0M177.3 797.4h0M165.4 797.6h0M171.8 796.6h0M160 794.9h0M181.4 814.9h0M128.3 833.4h0M138 796.2h0M218 785.1h0M120.5 795.9h0M206.2 799.6h0M196.4 777.5h0M150.6 792.7h0M152.8 781.9h0M155.5 786.2h0M149.9 783.5h0M181 786.1h0M212.1 824.4h0M220.8 793.4h0M237.2 821.7h0M178.8 830.3h0M193.9 782.5h0M213.6 780.5h0M180.7 780h0M210.5 793.2h0M186.7 794.2h0M163.4 802.5h0M178.6 799.1h0M153 809.9h0M189.7 782.3h0M130.8 788.4h0M198.2 793.2h0M255.5 823.8h0M205.5 779h0M216.1 796.5h0M191.8 791.1h0M211.8 804.5h0M210.3 789h0M176.8 790.4h0M242.4 820h0M163.6 777.8h0M140.7 789.4h0M220 798.2h0M173.8 799.9h0M237.2 819.8h0M167.5 792.2h0M184.9 786.7h0M201.5 826h0M187.1 777.6h0M130.7 798.6h0M205.4 778.4h0M153.5 793.1h0M159.7 775.4h0M240.6 805.8h0M176 783h0M192.5 794.5h0M152.8 808.7h0M153.5 800.5h0M230.9 793.3h0M223.8 792.8h0M141.2 815.4h0M148.8 774.5h0M195 780.4h0M227.5 800h0M129.6 825.2h0M211.7 779.5h0M217.8 793.1h0M142.8 791.1h0M162.5 797.4h0M188.7 803.1h0M152.4 772.5h0M177.1 788.4h0M233.4 797h0M141.2 790.7h0M129.7 797.2h0M192.8 797.9h0M181.9 793.4h0M201.4 790.9h0M207.3 777.7h0M152.2 771.8h0M148.5 787h0M162.8 825.6h0M180.1 790.2h0M151.4 795.5h0M160.6 773.2h0M159.4 777.9h0M126.1 789.3h0M156.9 793.7h0M180.5 798.3h0M195.5 777.4h0M200.3 792.7h0M135.2 791.1h0M212 793.8h0M246.5 808.8h0M134.1 787.3h0M161.7 780.8h0M147.8 794.2h0M161.7 773.5h0M213.6 788.9h0M222.4 800.8h0M163.8 776.1h0M187.4 783.6h0M137.4 794.9h0M224.3 787.3h0M218.4 814.1h0M167 790.9h0M141.5 785.3h0M227.8 786.6h0M195.3 785.6h0M229.8 799.6h0M142.1 793.7h0M221.2 802.8h0M251.6 825.9h0" stroke="#2e5322" stroke-width="1.9" stroke-linecap="round" fill="none"/>
<path d="M150.7 814.8h0M195.4 803.5h0M118.7 831h0M185.1 805.1h0M200.3 798.8h0M182 805h0M163.6 823.5h0M163 776.1h0M171.2 807.8h0M193.8 795.4h0M146 793.4h0M158.6 817.9h0M197.7 788.2h0M153.6 807.7h0M172.3 781.3h0M152.3 781h0M131.8 789.5h0M150.1 794.7h0M177.6 820.4h0M146.9 796.2h0M118.6 799.2h0M110.1 829.5h0M165.5 843.1h0M122.5 835.6h0M127.1 796h0M115.4 796.6h0M191.7 796.8h0M168.8 804.7h0M164.4 840.6h0M172.3 783.7h0M190.6 798.4h0M199.6 776h0M200.3 796.6h0M158.9 770.7h0M137.9 794h0M140.4 805h0M140.9 815h0M155 780.5h0M196.5 790.5h0M140.8 803.3h0M204.4 776.6h0M152.2 812.1h0M162.8 784.2h0M191 803.4h0M209.7 783.3h0M169.3 846.6h0M171.8 814.9h0M177.2 807.4h0M186.3 811.7h0M151.3 810.2h0M190.6 798.4h0M103.3 832.9h0M176.5 785.8h0M188.6 786.3h0M204.7 799.2h0" stroke="#ecd68c" stroke-width="1.9" stroke-linecap="round" fill="none"/>
<path d="M155.3 805.5h0M234.3 831h0M226.2 828.3h0M173.8 854.3h0M175.7 831.4h0M193.3 843.9h0M231.7 836.9h0M138.1 810.7h0M167.4 849.9h0M208.7 816.4h0M218.6 840.7h0M220.3 839.3h0M229 836h0M177.6 854.6h0M221.1 839.4h0M190.4 834.8h0M162.2 825.7h0M197.5 839.7h0M171 837.4h0M209.9 833.4h0M202.8 842.3h0M198.1 829.7h0M182.2 834.2h0M161.7 825.7h0M208.2 839.3h0M226.7 846h0M221.2 840.4h0M189.5 826.3h0M228.6 841.3h0M190 831.7h0M171.6 857.9h0M187.2 841h0M180 845.1h0M230.8 827.7h0M200.6 841.6h0M178.8 840.4h0M208.8 834.5h0M226.8 811.2h0M205.5 844.3h0M184 841h0M218 812.9h0M200.2 829.3h0M158.4 816.9h0M206.7 829.7h0M172.1 841.5h0M237.1 806.2h0M208 829.8h0M141 816.9h0M220.5 846h0M176.8 855.8h0M207.2 833.7h0M195.5 830h0M178.6 833.9h0M203 834.9h0M226.2 832.2h0M217.2 816.3h0M218.4 839.5h0M224.8 835.5h0M169.7 805h0M207 835.2h0M173.2 846.2h0M182.6 846h0M207.6 834h0M169 840h0M136.1 823.5h0M167 839.3h0M237 830.3h0M179.2 831.9h0M193.4 839.4h0M215.3 833.5h0M136.9 808.6h0M169.5 852.3h0M161.5 819.2h0M198.4 830.4h0M206.4 832h0M218 829.3h0M196.6 809.5h0M240.6 801.5h0M166.4 834.1h0M246.7 827.8h0M170.1 846.8h0M215.1 813.1h0M124 805.3h0M209.2 826.6h0M234.6 836.1h0M146.2 816.6h0M245.6 815.3h0M133.1 827.7h0M214.7 843.9h0M170.9 851.1h0M197.4 830.1h0M178.6 842h0M203.6 831.9h0M228 828.6h0M210.5 830h0M154.6 827.8h0M236.3 828.7h0M154.2 809.1h0M193.8 837.2h0M207.5 842h0M244.4 835.5h0M190 836.6h0M173.5 857.2h0M204.4 832.3h0M228.7 835.9h0M241.2 839.5h0M166.8 847.6h0M160.4 852.7h0M190.4 826.9h0M231.8 832.3h0M239.5 831.3h0M240.3 832h0M171.2 844.3h0M195.8 826.9h0M170.4 857.3h0M149 824.2h0M250.1 826.8h0M198.5 838.1h0M228.9 842.7h0M196.5 836.5h0M247.3 830.6h0M205.8 841.5h0M178.4 851h0" stroke="#d9843e" stroke-width="1.9" stroke-linecap="round" fill="none"/>
<path d="M225.1 838h0M98.2 818.2h0M108.1 815.2h0M145.5 823.4h0M105.2 812.3h0M206.2 839.4h0M156.3 823.1h0M130.5 849.1h0M212.9 810.5h0M181.3 824.8h0M122.7 806.6h0M199 801.4h0M133.7 827.9h0M137.1 795.6h0M112.8 828.4h0M222.4 824.4h0M117.1 809h0M157.3 827.6h0M181.6 815.2h0M188.9 785.7h0M105.1 828.6h0M187.5 800h0M119.3 808.6h0M144.8 819.3h0M231 836.6h0M139.8 798h0M135.2 826.8h0M168 851.9h0M221.4 837.5h0M161.3 773.3h0M220.4 845.2h0M169 815.1h0M186.7 795.1h0M121.9 833.8h0M174.3 824.7h0M161.8 847.8h0M206.4 841h0M139.6 825.7h0M112.4 821.3h0M107.6 801.4h0M110.8 802h0M140 835.7h0M149.7 814.8h0M117.3 801.7h0M136.5 813.3h0M105.4 815.7h0M121.6 806.8h0M136.4 801.5h0M185.4 817.1h0M156.9 825.9h0M194.3 794h0M139.8 810h0M134 845.3h0M137.9 815h0M112.3 825.1h0M160.1 823.9h0M109.1 830.7h0M112.1 838.5h0M217.9 791.5h0M132.7 839.2h0M183.4 796.7h0M130.8 814h0M200.5 792.8h0M135.1 831.1h0M110.2 832.1h0M116.8 825.1h0M110.7 821.9h0M114.3 837.3h0M211.3 831.6h0M235.4 802.1h0M197.7 828.2h0M136.7 801.1h0M132.2 839.5h0M211.5 845h0M126.8 808.5h0M100 827.2h0M220.7 830.6h0M173.8 814.7h0M191.4 829.6h0M152.8 832.5h0M170.2 812h0M167.7 815.8h0M112.1 843.3h0M106.1 828.4h0M140.4 836.3h0M131.9 808.7h0M112.4 813.2h0M133.7 847.9h0M100.8 831.8h0M219.7 841.6h0M167.6 807.2h0M223.2 847.4h0M200 840.2h0M139 832.3h0M175.7 823.6h0M111.1 814.8h0M117.8 845.4h0M118.6 810h0M220.5 846.8h0M128.2 828.7h0M190.5 798.2h0M155.1 803h0M110.3 828.3h0M140 815.6h0M127.8 827.2h0M100 813.3h0M96 820.7h0M134.4 845.2h0M142.8 827.5h0M214.6 841.9h0M215.4 833.6h0M173.7 827.1h0M135.6 822.2h0M136.6 813.2h0M117.1 834.5h0M97.6 823.5h0M153.7 783.5h0M110.9 803.5h0M186.5 817.1h0M104.6 833.9h0M137 821.2h0M219.3 843.1h0M239.6 831.3h0M108.4 832.4h0M151.6 804.2h0M142 816.5h0M210.8 845.8h0M200.4 830h0M174.7 808.3h0M112.7 833h0M121.9 832h0M229.9 837.6h0M111.9 798h0M230.9 845.3h0M137.8 838.8h0M197.4 837.5h0M119.7 839.5h0M127.8 834h0M139.4 811.5h0M116.9 832.9h0M153.5 818.2h0M167.1 826.6h0M176 782.2h0M222.8 845.9h0M230.2 840.8h0M128.3 813.9h0M233.6 830.8h0M194.5 816h0M154.6 808h0M184.7 791h0M166.3 807.2h0M233.7 827.8h0M108.3 829h0M159.9 828.2h0M245.8 832.1h0M163.6 814.7h0M115.9 807.8h0M191.4 828.9h0M177.3 812h0M136.3 831.8h0M201.8 832.2h0M163.7 807.9h0M154 812.7h0M101.8 831.1h0M128.9 810.8h0M170.4 781.3h0M213.4 783.3h0M133.9 833.6h0M227.8 844.9h0M139.3 844.6h0M173 815.8h0M116.5 840.9h0M236.2 810h0M148.3 807.2h0M202.6 821.3h0M123.6 818.8h0M208.7 832.8h0M124.9 810.1h0M106.1 820.7h0M118.9 809.6h0M117.3 833.1h0M145 816.4h0M109.6 840.3h0M115.3 841h0M195.1 826.2h0M132.8 843.6h0M200.2 839.8h0M196.6 790.3h0M125 817.8h0M199.9 840.2h0M134 806.4h0M163.1 854.8h0M218.3 837.6h0M122.3 810.3h0M131.4 838.2h0M135.6 838.2h0M133.1 848.4h0M105.7 835.9h0M160.9 821.1h0M141.6 839h0M116.1 802.7h0M129.1 831.6h0M102.2 814.1h0M150.3 811.5h0M210.8 831.4h0M132.2 805.2h0M169.2 833.7h0M118.5 818.4h0M122.5 799.8h0M115.3 831.1h0M188.7 806.6h0M213.1 838.3h0M168.7 825.3h0M221.3 838.9h0M145.2 785.9h0M237.5 842.3h0M196.9 799.4h0M133.6 805.9h0M106.5 816.1h0M176.4 807.7h0M239.3 839.9h0M96.3 822.6h0M151.6 797.8h0M130.8 830.5h0M107 822.7h0M182.6 815.7h0M105.8 814.1h0M113.5 799h0M189 794.4h0M154.4 815h0M204.9 841.2h0M230.8 824.9h0M167.6 823.5h0M139.7 837.5h0M112.1 841.7h0M222.7 839h0M130 842.3h0M198.8 776.8h0M120.1 825.5h0M132.8 850.1h0M111.7 811h0M168.7 815.7h0M215.5 824.3h0M145.7 827.7h0M180.7 812.2h0M123.5 830.6h0M134.4 843.7h0M218.5 786.5h0M130.5 837.1h0M133.8 805.4h0M181.3 799.8h0M184.7 819h0M228.3 833.3h0M231.9 800h0M228.4 841.2h0M238.7 829.8h0M243.1 807.5h0M129.2 831.7h0M137 843.8h0M229.7 842.1h0M105.3 826.4h0M179.5 830.4h0M183.3 826.4h0M122.6 838.8h0M113.6 831.5h0M119.5 814.7h0M98.3 815.9h0M233.5 844.2h0M149.8 814.2h0M118.1 846.6h0M136.3 805.9h0M139.8 837.7h0M161 811h0M181.7 802.7h0M120.3 831.5h0M129.1 845.8h0M102.8 820.7h0M144.2 778.1h0M150.2 817.3h0M134.6 823.4h0M234.5 843.2h0M136.3 812.4h0M136.3 813h0M106.2 803.1h0M247.5 830.1h0M129.7 825.9h0M219.9 846.2h0M208.7 840.3h0M130 834.5h0M126.8 807.1h0M224.6 837.3h0M112.3 839h0M104.4 835.1h0M140.4 838.9h0M161.1 805h0M103.7 824.1h0M123.7 803h0M122.3 814.7h0M122.1 821.8h0M143.9 813.9h0M234.7 842.4h0M132.1 835.4h0M115.3 807.7h0M177.4 823.3h0M134.4 825.5h0M197.5 779.3h0M111.4 818.6h0M228.9 844.8h0M179.2 819.8h0M189 825.2h0M112.1 838.7h0M126 810.2h0M130 842.7h0M213 832.8h0M144.5 828.1h0M242.8 830.3h0M197.3 842.9h0M205.1 840.4h0M128.5 828.8h0M208.4 841.3h0M117.9 809.8h0M222.9 832.5h0M209.2 842.2h0M195.8 844h0M194.6 826.5h0M190.8 835.4h0M113.5 838.3h0M106.5 812.8h0M255.5 823h0M114.4 823.5h0M103.5 820.4h0M252.3 821.1h0M130.1 848.3h0M103.5 831.8h0M111.6 837.2h0M111.1 805.6h0M179.2 820.9h0M112 839.1h0M138.6 841h0M118.4 829.6h0M135.5 804.7h0M145.7 814.7h0M127.5 806.1h0M232.8 793.6h0M203.2 789.1h0M209.3 812.2h0M154.2 821.1h0M156.3 774.2h0M108.1 835.6h0M130.8 836.3h0M163.4 814.7h0M217.4 837.7h0M208.5 841.4h0M155.1 812.3h0M138.5 834.8h0M127.6 803.3h0M133.7 810.8h0M178.9 786.4h0M136.8 809.3h0M99.2 811h0M138.5 833.4h0M114.8 809h0M146.1 809h0M122.4 826.3h0M130.5 836h0M103.2 831.8h0M189.5 821.8h0M116.6 837.6h0M195.6 801.9h0M138.2 829.9h0M178.8 824.3h0M203.7 844.5h0M112.6 836.4h0M119 803.2h0M121.7 805.8h0M125.5 807.3h0M130.4 805.6h0M99.7 814.2h0M127.5 834.2h0M117.8 839.7h0M162.6 831.9h0M201.5 842.7h0M210 815.9h0M139.3 825.9h0M226.1 827.8h0M141.9 794.3h0M139.1 802.2h0M143.6 820.3h0M105.3 808.5h0M158.2 821.5h0M187.8 803.5h0M163.8 829.8h0" stroke="#0f2337" stroke-width="1.9" stroke-linecap="round" fill="none"/>
<path d="M247.7 809.8h0M247 809.6h0M243 808.2h0M229 790.5h0M231.4 790.8h0M224.5 786.7h0M245.9 811.1h0" stroke="#c8261a" stroke-width="1.9" stroke-linecap="round" fill="none"/>
<path d="M247.3 817.7h0M217.2 815.3h0M219.5 818.1h0M254.2 823.5h0M213.7 804.6h0M208.1 801.6h0M226.9 792.8h0M250.4 816.2h0M241.2 814.2h0M230.5 818.3h0M214 816.3h0M225.2 818.2h0M226.7 815.8h0M230.2 818.4h0M218.1 825.8h0M173.2 788.3h0M218 809.9h0M177.8 797.7h0M245.9 821.2h0M156.5 790.5h0M236.5 812.4h0M227.7 818.7h0M205.1 826h0M240.4 816.3h0M190.5 784.2h0M236.5 814.8h0M210.8 818.5h0M227.5 826.4h0M214.8 818.4h0M241.1 821.4h0M216.4 806.3h0M242.9 816.4h0M230.6 801.5h0M243.2 826h0M222.4 810.1h0M241.4 826.4h0M213.5 835.5h0M247.2 818.7h0M224.2 824.9h0M216.8 823.9h0M210.4 795.7h0M213 824.1h0M219.4 798.7h0M252.4 817h0M229.1 804.4h0M202.2 789h0M202.4 819.6h0M227.8 824.4h0M245.7 810.1h0M203.3 813.8h0M209.4 802.5h0M228.4 808.5h0M227.9 814.2h0M216.5 825.8h0M210.9 818.3h0M234.6 804.1h0M210.7 810.5h0M251.6 824.6h0M219 815.9h0M207.4 805.9h0M216.1 808.7h0M216.8 833.2h0M221.3 806.5h0M210.9 825.2h0M253.3 819.3h0M191.6 798.1h0M227.2 802.8h0M225.2 801.3h0M224.5 823.7h0M237.9 803.5h0M206 812.6h0M195.3 785.3h0M208.2 806.8h0M211.5 802.1h0M244.7 822.8h0M224.5 806.1h0M225.3 820.9h0M220.2 808.7h0M222.8 802.7h0M250.1 831.6h0M206.1 823.2h0M205.4 815.9h0M237.4 820h0M231.2 803.8h0M216 801.5h0M195.7 840.3h0M254.6 818.9h0M240.1 820.9h0M199.3 813.7h0M246.5 824.2h0M213.6 807.9h0M248.8 818.2h0M228.1 798.2h0M252.4 823.7h0M234 803h0M235.5 803h0M157.3 776.8h0M117.7 798.7h0M237.2 823h0M252.2 824.7h0M206 806.5h0M239.5 825.1h0M166.8 793.9h0M206.9 801.9h0M234.6 807.4h0M225.3 825.1h0M203.6 801.9h0M221.1 822.4h0M250.6 820.9h0M214.4 813.1h0M208.6 806.3h0M220.5 817.9h0M217.9 834.6h0M198.2 815.3h0M244.8 806.5h0M202.9 812.7h0M213.5 806.7h0M215.4 824.9h0M140.6 797.7h0M211.2 827.8h0M241.4 818.7h0M235.7 833.5h0M211.6 802.5h0" stroke="#6e9a7e" stroke-width="1.9" stroke-linecap="round" fill="none"/>
<path d="M132.8 787.5h0M136.6 832.7h0M156.4 794h0M119.4 796.7h0M125.4 834.5h0M222.1 791.2h0M223.1 786.4h0M130.9 786.7h0M149.7 798h0M195.2 790.9h0M178.3 832.2h0M159.4 786.5h0M232.2 798.8h0M137.7 797.5h0M229.6 816.7h0M192.9 804.3h0M211.5 819.2h0M200.9 785.4h0M127.7 797.5h0M115.4 798.7h0M143.5 786.3h0M138.8 783.8h0M159.5 778.4h0M202.9 782.9h0M155.8 791.3h0M158 807.5h0M222.7 804.2h0M198.2 783.1h0M138.2 787.7h0M183.1 803.1h0M226.7 806.8h0M211.2 795.2h0M198.7 804.3h0M140.9 828.5h0M205.9 787.9h0M200.7 797.1h0M157.3 782.4h0M140.7 824.8h0M173.6 782.5h0M205.4 786.6h0M195.9 790.5h0M180.2 833.1h0M181.8 795.6h0M153.6 791h0M196.5 805.3h0M168.6 781.4h0M147.8 794.2h0M212.4 783.1h0M159.9 770.6h0M214.8 794.3h0M204.5 793.3h0M163.1 805.4h0M178.6 791.9h0M191.8 803.6h0M144.7 786.4h0M152.9 775.7h0M162.9 793.3h0M155.9 785.2h0M168.7 799.3h0M139.8 789h0M224.1 792.5h0M150.2 770.1h0M162.3 795h0M194.9 789.9h0M225.8 797h0M153.5 789h0M244.1 812.1h0M179.5 790.3h0M227.6 799.5h0M137.1 791.3h0M150.4 771.4h0M201.8 790.1h0M172.1 800.4h0M146.8 822.9h0M141.6 778.6h0M143.8 804.4h0M208.3 786.9h0M127 791.2h0M152.2 785.5h0M147.4 777.9h0M152.7 793.9h0M184.4 791.9h0M168 783.8h0M146.8 791.4h0M179.7 800.3h0M144.1 787h0M219.2 790.2h0M133.8 793h0M130.1 790.4h0M155.6 793.5h0M232.2 795.8h0M222 799.2h0M221.3 789.8h0M193 777.5h0M166.3 802.3h0M155.8 794.7h0M168.5 780.6h0M161.2 802.7h0M196.3 790.1h0M183.8 789h0M130.2 794.1h0M167.8 794.8h0M185.9 784.7h0M167.7 778.4h0M159.7 772.4h0M189.9 789h0M192.6 798.4h0M128.5 814.9h0M142.3 787.8h0M136.1 794.9h0M136.6 792.8h0M195.6 801h0M214.6 799.5h0M146.8 775.4h0M133.2 798.1h0M146.1 783.5h0M222.2 792.2h0M190.6 793.3h0M153 783.1h0M161.9 787.2h0M190.7 783.9h0M181.1 790.6h0M141.6 795.1h0M193.4 785.8h0M128 815.6h0M204.2 787.7h0M152.3 783.9h0M196.3 780.4h0M157.5 786.5h0M136.6 790.8h0M161.4 780.9h0M156.6 776.5h0M226.8 800.2h0M230.5 818.3h0M155.6 789.2h0M99.2 828.5h0M191 804.2h0M181.5 782.9h0M147.9 777.7h0M185.7 787.3h0M147.5 801.7h0M177.7 815.3h0M147.8 831.3h0M192.2 786.1h0M254 820.5h0M158.9 770.6h0M168.1 792.5h0M134.7 794.6h0M165.6 799.7h0M169.1 807.1h0M143.9 798.7h0M146.5 780.4h0M199.3 798.5h0M162.4 801.4h0M147.3 776.1h0M137.6 781.3h0M247 823.6h0M155.8 819.2h0M162.8 779.7h0M155.9 774h0M170.5 784.5h0M174 793.8h0M222.4 805.1h0M168.8 792.1h0M225.6 790.2h0M149.9 770.5h0M186.9 791.6h0M157.2 789.4h0M137 796.7h0M209.4 784.2h0M146.1 787.9h0M140.1 793.1h0M161.2 810.7h0M158.8 773.7h0M145.1 801.9h0M186.7 803.3h0M165.9 785.1h0M184.9 801.6h0M229.2 801.8h0M198.1 779.2h0M140.8 792.3h0M156.3 784.8h0M138.3 792.1h0M206.6 806.2h0M186.6 832.9h0M196.5 790.4h0M156.8 781.5h0M137.7 782.4h0M164.2 808.9h0M153.3 771.3h0M179.3 794.9h0M217.4 801.3h0M179.9 786.6h0M164.4 801.3h0M172 787.1h0M218.1 785.6h0M250.7 816.9h0M143.1 783.9h0M158.6 786.4h0M204.9 776.6h0M155.2 795.7h0M195.4 792.7h0M141.2 788.7h0M192.6 784.4h0M138.3 795.9h0M146.5 779.1h0M212.2 789.7h0M156.9 783.2h0M153 799h0M218.1 781.9h0M178.7 789.8h0M166.9 820.6h0M203.3 792.4h0M159.5 789.2h0M142.9 808.3h0M158.5 794.4h0M166.4 790.2h0M113.2 840.9h0M209 784h0M167.8 808.5h0M183.5 786.2h0M137.2 795.9h0M143.2 796.5h0M225.3 784.9h0M226.5 794h0M202.8 802.6h0M160.3 794.1h0M211.2 784.5h0M220.9 787.5h0M179 826.2h0M151.1 783.6h0M197.1 803.7h0M154.9 809.1h0M150.1 776.6h0M177 791.3h0M204.4 781.8h0M161.5 803.7h0M182.8 798.3h0M190.4 801.5h0M224.4 786.4h0M213.2 801.7h0M196.2 798.1h0M150 792.8h0M169.5 803h0M208.3 785.6h0M181.1 809.7h0M220.8 795.2h0M202.1 776.9h0M119.6 822.4h0M182.6 800.8h0M177.5 779.5h0M185.4 816.3h0M208 792.9h0M158.3 778h0M201.5 794.3h0M215.6 782.8h0M235.9 798.5h0M191.2 802.7h0M178.8 789.2h0M215.1 780.4h0M233.8 795h0M161.2 777.4h0M145.6 782h0M187.3 792.4h0M136.5 794.9h0M141.2 787.1h0M228.7 802.9h0M163.1 790.6h0M150 817h0M177.7 792.3h0M131.5 785.2h0M138.8 789.7h0M232 790.9h0M248.7 813.9h0M187.5 778.2h0M198.9 790.4h0" stroke="#2e5322" stroke-width="1.9" stroke-linecap="round" fill="none"/>
<path d="M151.5 774h0M218.1 799.5h0M182.4 836.5h0M136.8 795.5h0M150.3 808.7h0M104 808.2h0M168.9 807.5h0M175.9 823.5h0M196 819.2h0M179.6 810.5h0M112.7 834.7h0M192.6 811.2h0M195.1 793.1h0M160.9 812.1h0M127.9 793.1h0M131.7 799.8h0M165.1 783.3h0M219.1 796.7h0M174.6 835.7h0M134.7 832.4h0M141.4 810.8h0M166.9 843.1h0M178.6 829.6h0M174.8 782.6h0M154.8 813.2h0M176.2 806h0M191.4 804h0M193.7 777.3h0M113.8 802.7h0M154.1 811.1h0M179 824.1h0M177.7 780.2h0M166.4 814.4h0M159.4 772.9h0M155.7 822.8h0M160.4 793.1h0M209 780.8h0M135.2 788.9h0M126.8 818.3h0M152.4 769.8h0M195.4 789.7h0M133.6 819h0M133.7 798.3h0M169.2 853.3h0M144.8 825.9h0M202.7 788.8h0M140.7 843.8h0M169.4 813.2h0M185.1 778.3h0M170.8 833.6h0M148.3 777.8h0M160.1 778.6h0M163.8 822.8h0M194.7 777.2h0M178.2 813.2h0" stroke="#ecd68c" stroke-width="1.9" stroke-linecap="round" fill="none"/>
<path d="M148.4 813.6h0M160.3 838.6h0M200.8 844.5h0M231.3 835h0M164.3 841h0M253 827.8h0M189.9 834.5h0M220.1 843.9h0M167.7 848.4h0M197.1 838h0M105.7 836.2h0M177.3 836.4h0M164.5 845.2h0M146.5 826.9h0M166.3 810.4h0M212.2 841.3h0M152.1 810.5h0M230.5 830.3h0M185.7 841.7h0M234.5 835.1h0M162.4 851.9h0M140.9 842.6h0M179.4 808.9h0M228 845.7h0M243.8 837.3h0M163.2 842.9h0M143.1 814.5h0M198.6 833.7h0M167.3 852.1h0M201 844.2h0M181.7 851h0M173.1 835.9h0M171.7 812.5h0M223 833.4h0M177.4 850.5h0M169.5 826.4h0M182.8 835.6h0M183.7 846.7h0M239 836h0M164.3 843h0M167.1 814.6h0M173.4 856.8h0M234.9 844.1h0M205.1 831.6h0M254.6 816.3h0M175.5 850.6h0M232.3 828.8h0M231.8 829.5h0M194.7 832.4h0M188.8 816.3h0M217.6 838.2h0M207.5 834.4h0M219.7 835.2h0M190.5 829.6h0M239.8 827h0M185.7 838.2h0M246 832.2h0M231.8 804.3h0M140.9 816.2h0M211.2 830.3h0M202.7 838.1h0M188.2 838.9h0M238 819.9h0M236.8 833.5h0M199.4 843.6h0M171.3 847.7h0M207.8 826.8h0M108.3 827h0M183.8 828.5h0M186.2 842.2h0M147.5 821.3h0M209 845.6h0M215.4 846h0M241.6 828.5h0M189.6 830.7h0M185.2 824.9h0M174.6 856.1h0M130.5 815.2h0M238.2 814.7h0M199.7 836h0M211 845.1h0M247.8 832.2h0M148.8 808.4h0M221.3 833.1h0M211.8 833.7h0M155.1 814.6h0M194.7 833.9h0M213.9 818.2h0M110 812.7h0M165 854h0M184.9 838.5h0M146.1 805h0M228.6 831.9h0M193.3 840.3h0M180.3 825.2h0M136.1 841h0M200.1 801.7h0M230.2 832.2h0M231.5 830.9h0M200.2 832.7h0M160.9 823.9h0M167.4 806.1h0M166.9 855h0M176.9 835.7h0M227.5 835h0M180.6 853.8h0M230.3 812.5h0M213.5 837.2h0M212.3 840.8h0M195 834.6h0M227.9 829.6h0M233.3 827.1h0M217.6 833h0M247.3 830.6h0M246.6 835.1h0M172.9 834.3h0M226 838h0M237.2 826.9h0M157.3 815.1h0M121.5 830.7h0M235.1 828.2h0M172.4 841.6h0M200.8 843.9h0" stroke="#d9843e" stroke-width="1.9" stroke-linecap="round" fill="none"/>
<path d="M161.7 825.8h0M183 829.5h0M222.8 801.7h0M128 828.5h0M100.2 813.8h0M98.5 820.4h0M154.4 827.5h0M113.1 822.1h0M158.3 785.6h0M148.1 824.4h0M196.7 843.8h0M217.8 842.2h0M137.9 790.3h0M153.9 824.9h0M135.4 826.4h0M125.4 826h0M127.2 801.5h0M144.7 793.1h0M234.9 830.5h0M205.1 817.6h0M174 784.6h0M223 830.8h0M165.8 833.1h0M139.7 808.7h0M235.7 814.3h0M181.1 849.3h0M163.6 791.1h0M110.5 811.4h0M162.5 817h0M116.8 799.9h0M215.7 839.3h0M223.5 844.5h0M214.7 841.2h0M192.9 813.5h0M230.9 808.2h0M158.9 829.8h0M108.3 825.3h0M102.5 817.9h0M113.1 800.1h0M124.5 816.5h0M131.5 839.2h0M149.7 825.5h0M140.4 833.4h0M107.7 816.5h0M183.4 812.2h0M166.3 810.5h0M127.3 847.2h0M128.8 840.4h0M217 836.6h0M104.2 805.2h0M233 844.7h0M213.9 816.7h0M147.4 802.1h0M163.1 812.6h0M130.7 819.4h0M119.6 810.5h0M199.9 823.7h0M142 823h0M152.9 820.8h0M186.7 818.3h0M211.4 844.3h0M221.7 838.5h0M178.9 829.2h0M175.5 826.6h0M209.4 837.8h0M173.3 809.7h0M159.3 821.8h0M213.4 825.3h0M141.1 815.7h0M125.7 843.6h0M203.4 829.4h0M181.1 833.6h0M239 839h0M136.2 825.2h0M136.8 803.5h0M102.2 829.2h0M206.6 836.1h0M116.5 801.6h0M196.5 790.1h0M111.7 836.6h0M230.9 845.6h0M198.8 789.1h0M139.6 821.5h0M166.2 808.1h0M168.1 831.2h0M140.5 825.2h0M116.3 827.7h0M237.8 833.4h0M121.4 836.3h0M112.4 818.2h0M110.7 828h0M222.1 792.1h0M149.1 820h0M104.3 818.9h0M150.5 794.7h0M142.3 823.5h0M105.5 815.9h0M138.8 824.6h0M166.7 805.9h0M182.5 812.2h0M137 845.8h0M115.7 803.3h0M119.8 790.9h0M184.8 815.8h0M240.2 805.5h0M117.7 818.4h0M131 846h0M172 821h0M118.3 841.1h0M172.2 814.3h0M109.7 840.7h0M171.7 815.7h0M103.5 822.7h0M103.9 819.9h0M117.6 841.3h0M228.8 841.4h0M120.9 828.1h0M181 823.2h0M114.8 827.5h0M100.9 815.6h0M140.4 803.8h0M155.5 811.7h0M135.7 838.3h0M160.5 818.5h0M227.4 827.4h0M122.4 806.5h0M132.5 837h0M227.8 846.1h0M253.5 826.7h0M104.3 835h0M154.5 819.9h0M201.3 777.1h0M121.7 825.7h0M125.9 802h0M116.2 829.2h0M111.2 806.1h0M128.1 800.3h0M201.6 837.8h0M244.2 838.7h0M118.1 794.4h0M110.2 798.5h0M197.9 840.7h0M148.9 813.3h0M100.6 810.7h0M246.5 832.9h0M153 806h0M234.8 827.3h0M152.7 814h0M115.3 837.4h0M194.9 822.1h0M141.2 809h0M127.1 802.3h0M140.5 845.6h0M123.3 820.6h0M121.2 847.7h0M123.6 815.4h0M143.5 811.2h0M199.7 832.2h0M120.4 800.5h0M180.6 821.4h0M133.5 826.8h0M214 841.1h0M129.3 845.6h0M116.4 808.8h0M130.1 849.6h0M114.4 834.1h0M134.5 833h0M134.8 806.5h0M214.4 808h0M112.5 822.9h0M159.7 795.3h0M183.1 848.1h0M189.3 793.9h0M140 808.7h0M109.2 834.9h0M220.6 836.6h0M121.5 827.1h0M129.8 828h0M100.8 826.8h0M126.2 845.3h0M146.2 824.7h0M143.3 827.7h0M192.7 826.8h0M129.3 826.6h0M204.2 844.6h0M134.1 819.2h0M146.7 826.6h0M229.9 832.5h0M162 828.6h0M162.8 816h0M122 802.4h0M214.5 831.5h0M106.5 810.9h0M167 809.8h0M122.5 825.2h0M144.1 826.6h0M125.3 831.2h0M119 815.8h0M161 821h0M115.9 815.2h0M245.3 814.9h0M215.1 814.4h0M179.4 830.2h0M167.8 780.7h0M181.6 816h0M103.8 817.1h0M101.3 824.1h0M159.6 780.3h0M152.4 826.4h0M133 839.5h0M211.9 820.6h0M119.7 800.6h0M127 831.6h0M130.5 842.2h0M137.9 837.2h0M194.7 824.7h0M127.6 827.3h0M127.5 841.7h0M213.9 842.4h0M182.8 810.4h0M183.8 814.2h0M102.1 821.5h0M134.7 818.1h0M234.9 840.3h0M246 835.1h0M222.4 829.5h0M195 790.6h0M121.7 832.1h0M220.4 828h0M226.1 842.9h0M118.2 839.5h0M118.5 812.9h0M223.1 848h0M135.2 824.6h0M134.4 847.8h0M169.5 788h0M141.8 824.4h0M204.4 844.8h0M233.1 797.7h0M100.7 817.7h0M171.3 826.1h0M113.2 807.5h0M142.4 823.4h0M138.9 807.5h0M145.8 772.8h0M107 839h0M112.7 842.9h0M164.4 830h0M180.5 829.8h0M181.8 779.7h0M149.2 812.5h0M197.2 811.4h0M202.4 834.5h0M150.5 823.7h0M145 800h0M198 800.9h0M222.8 836.6h0M161.6 794.9h0M136.6 801.8h0M96.4 820h0M175.4 834.4h0M113.1 823.2h0M117.4 837.1h0M113.2 837.9h0M228.1 798.4h0M136 814.2h0M138.6 832.8h0M116.4 800.6h0M106.7 812.5h0M179.6 817.4h0M193.1 821.8h0M131.7 829.4h0M136 840h0M103.4 815.4h0M102 807.7h0M186.3 814.8h0M103.2 820.1h0M136 833.9h0M247 818.7h0M135.5 802h0M119.5 806.7h0M150.2 821.5h0M128.5 834.4h0M237.5 841.3h0M129 809.3h0M152.2 816.2h0M141.2 809h0M200.5 836.8h0M131.3 802h0M133.2 798.4h0M139.6 835.7h0M108.6 803.1h0M134.2 813.1h0M99.4 826.1h0M211.8 836.5h0M132.8 848.1h0M193.6 831.7h0M194.6 814.1h0M153.6 824.4h0M104.1 824.7h0M128.6 806.1h0M139.8 835.2h0M216.8 845.7h0M123 800.6h0M238.3 833.1h0M133.4 842.7h0M112.7 819.1h0M230.5 843.3h0M112.9 836.6h0M122.1 819.2h0M236.5 837.7h0M215.1 832.2h0M173.9 825.7h0M113.6 829.8h0M133.5 832.8h0M164.4 833h0M103 812h0M108 832.2h0M160.9 771.8h0M112.1 800.8h0M171.4 822.6h0M119 831.3h0M114.5 799h0M131.1 838.5h0M114 826.7h0M170.7 848.3h0M111.1 815.7h0M225.6 828.6h0M204 783.9h0M158.1 820.6h0M147 803.8h0M137.8 826.7h0M151.6 826.6h0M137 834.5h0M208.9 828.4h0M177.3 821.6h0M127 835.4h0M217.7 839.7h0M232.1 804.1h0M205.6 835.5h0M182 813.8h0M167.1 833.1h0M109 841.4h0M125.7 818.9h0M163.5 826.8h0M167.8 798.5h0M171.2 827.7h0M202.1 795.6h0M156 817.7h0M228.9 835.9h0M177.1 814.6h0M134 829.6h0M108.6 829.2h0M123.2 830.1h0M221.6 828.7h0M241.1 839.8h0M124.6 803.5h0M238 830.8h0M219 845.3h0M148.6 816.4h0M196.6 836.1h0M126.4 837h0M186.6 839.5h0M134.4 824h0M233.4 836.8h0M226.7 807.2h0M123 830.4h0M193.2 782.7h0M168.9 814h0M205 838.6h0M112.5 838h0M106.8 823.5h0M224.6 846.1h0M202.4 843.6h0M114.5 814.3h0M161.7 820.9h0M135.3 805.6h0M200 794.3h0M221.4 841.7h0M118.4 814.6h0M223.3 846.6h0M160.3 780.6h0M142.5 811.8h0M164.1 822h0M226.9 807.9h0M124.6 804.8h0M111.3 798.6h0M138.9 833.5h0M131.2 835.5h0M230.4 823.5h0M162.1 816h0M105.6 829.7h0" stroke="#0f2337" stroke-width="1.9" stroke-linecap="round" fill="none"/>
<path d="M247.9 810.8h0M230.6 791.9h0M224.1 785.3h0M224.3 784.8h0M246.5 809.2h0M238.5 799.2h0M239.1 800.5h0" stroke="#c8261a" stroke-width="1.9" stroke-linecap="round" fill="none"/>
<path d="M222.3 824.9h0M139.6 788.6h0M249.4 816.4h0M228.6 826h0M146.6 775.3h0M211.6 821.3h0M131.4 788.4h0M180.4 786.6h0M211.7 810.4h0M212.3 817.4h0M235.9 826.4h0M207.6 777.4h0M225.5 813.3h0M216.7 806.6h0M204.5 819.4h0M207.7 830h0M213 817.1h0M219 825.1h0M208.2 807h0M236.5 806.6h0M222.9 803.1h0M219.7 825h0M252.3 819.2h0M128.8 787.6h0M220.8 788.8h0M229.4 826.4h0M216.6 822.9h0M210.6 811h0M190.4 786.9h0M208.2 822h0M243.4 816.9h0M227.4 807.7h0M151.8 777.2h0M240 821.9h0M253.1 819.9h0M246.7 828.5h0M224.9 832.5h0M121.7 795.5h0M251.2 824.5h0M247.6 820.3h0M209.4 821.6h0M220.4 825.3h0M255.1 825.2h0M212.9 819.4h0M237.4 810.6h0M248.6 820.3h0M253.5 818.9h0M224.9 829.9h0M217.2 801.6h0M206.5 832.1h0M238.1 817.3h0M214.7 804.8h0M200.8 802.1h0M256 822h0M230.6 819.1h0M209.5 805.8h0M247 825.4h0M222.6 813h0M199.2 828.4h0M236.9 813.9h0M202.9 803.2h0M238.6 801.9h0M231.6 823.4h0M120 791.9h0M241.5 813.5h0M240.3 825.4h0M220.3 803.3h0M237.2 804.2h0M235.2 808.7h0M221.4 814.4h0M201.4 776h0M207.8 813.6h0M210.5 816.6h0M235.3 807h0M217.6 822.9h0M208 823.3h0M219.7 807.3h0M192.6 775.9h0M223.7 818.9h0M184.6 792.1h0M216.9 804h0M225.9 821h0M212.9 819.3h0M220.2 808.8h0M215.1 815.6h0M209 817.5h0M215.8 823.6h0M235.5 811.1h0M172.5 790.9h0M218.5 817.9h0M208.9 820.1h0M236 810.3h0M237.3 824.4h0M233.1 819.6h0M219 830.8h0M211.7 823.7h0M217.2 823.1h0M241.1 811.1h0M211.8 805.4h0M227.9 824.7h0M212.5 820.7h0M249.5 825.9h0M209.4 819.5h0M238.6 801.5h0M202.3 818.2h0M150.2 784.8h0M223.3 803.1h0M217.9 810.6h0M246.8 821.3h0M211.5 805.6h0M220.4 817.4h0M202.5 811.5h0M237.8 803.5h0M256.2 819h0M233.2 831.8h0M217.8 834.9h0M231.1 824.2h0M203.3 816.9h0M220.5 818.4h0M231.7 823.9h0M201.3 801.5h0M222.7 818.8h0M235 815.1h0" stroke="#6e9a7e" stroke-width="1.9" stroke-linecap="round" fill="none"/>
<path d="M218.7 789.1h0M149.9 776.6h0M123 793.9h0M131.2 785.5h0M208.1 792.4h0M131.6 791.8h0M144.9 801h0M127.6 795h0M192.2 782.8h0M176.5 794.8h0M151.7 794.8h0M217.2 792.2h0M221.4 796.2h0M236.9 800.1h0M157 799.3h0M172.9 799.2h0M213.2 814.2h0M202.9 784.7h0M129.6 786.9h0M218.3 787.6h0M194.1 783.4h0M123.9 793.8h0M149.1 771.4h0M169.5 782.3h0M182.6 804.4h0M155.2 777.9h0M179.7 819.6h0M129.8 798.8h0M175.5 802h0M188.2 791.7h0M214.2 813.8h0M205.3 785.1h0M168.8 832.3h0M185.2 803.2h0M155.5 778.7h0M200.1 784.9h0M198.5 775.8h0M199.3 788.2h0M171.4 785.4h0M189.2 805.1h0M148 782.9h0M156.3 774.7h0M198.5 782.4h0M198.4 784.1h0M142.7 785.6h0M180.1 792.4h0M155.9 770.7h0M227.8 796.3h0M141.3 800.8h0M189.4 801.6h0M231.2 798.6h0M212.4 799.1h0M129.4 835.4h0M180.5 793.1h0M240.4 814.4h0M209.2 794.9h0M179.4 790.4h0M238.7 815.6h0M209.1 806.9h0M147.2 778h0M144.7 803.4h0M129.8 786.7h0M174 780.9h0M159.8 785.9h0M206.6 787.7h0M181.7 808.2h0M163.8 778.6h0M228.9 799.4h0M124.5 789.4h0M193.9 803.8h0M166 786.6h0M231.7 796.2h0M166.4 784.5h0M206.7 786h0M214.2 794.8h0M134.4 786.8h0M198.1 789.7h0M212.1 785.9h0M157.8 773.4h0M162.8 795.4h0M202.6 786.4h0M186.7 783.4h0M134.4 789.9h0M197.6 795.5h0M182.3 799.6h0M160.7 783.4h0M188.1 780h0M154 773.3h0M175.2 791.4h0M140.5 800.8h0M203.9 784.5h0M200.5 800.2h0M121.3 794.3h0M230.8 793.2h0M214.7 792.5h0M222.9 800.2h0M204.5 794.2h0M145.2 773.4h0M141.4 784.4h0M189.4 793.9h0M166.2 799.6h0M181.5 777.9h0M197.3 788h0M121 795.5h0M142.5 782.3h0M202.3 788.1h0M125.8 793.5h0M192.9 795.6h0M153.4 780.1h0M177.2 784.4h0M211.8 781.4h0M146 778.5h0M210.6 788.8h0M217.4 795.2h0M168.3 799.2h0M212.5 814h0M211.6 799.5h0M156.5 795.4h0M178 828.9h0M178.7 809.8h0M142.4 779.4h0M141.2 819.9h0M167 781.9h0M163.6 785.7h0M166.3 826.8h0M150.8 792.7h0M134.4 787.7h0M227.2 800.2h0M186.4 783.2h0M146.6 783.1h0M156.8 794.9h0M146 791.9h0M162.1 810.3h0M174 803.5h0M192.2 777h0M201.4 777.5h0M212.3 787h0M206.4 796.2h0M202.4 780h0M154.9 797.4h0M200.9 795.4h0M153.5 777.7h0M144.8 780.9h0M162.7 775.7h0M171 787.5h0M153.8 769.8h0M220.6 798.7h0M231.8 795.1h0M115.5 795.3h0M253.8 820.5h0M167.2 804.3h0M177.2 783.2h0M151 780.2h0M203.7 783.8h0M193.3 785.5h0M166.4 801.1h0M163.5 787.5h0M148.1 775.6h0M119.2 799.1h0M233.3 805.3h0M181.1 830.3h0M161.7 832.6h0M150.9 812.5h0M209.9 799.9h0M201.4 794.6h0M204.2 807.8h0M215.7 798.4h0M194.2 802.2h0M145.6 807.1h0M158.8 787h0M138.8 796.2h0M153.8 791.5h0M172.5 827h0M218.4 784.1h0M199 790.8h0M172.7 805.2h0M167.3 802.8h0M140.7 798.6h0M196.3 788.9h0M174.8 809.8h0M195.7 804.8h0M197.6 775.8h0M193.7 794.6h0M139.8 783.6h0M142 794h0M166.4 788.5h0M154.3 780.8h0M149.9 807.3h0M140.6 785.5h0M142.6 794.1h0M227.9 789.2h0M183.5 791.2h0M132.9 830.5h0M197.2 796.5h0M207.1 784.2h0M131.2 786.1h0M137.8 789.8h0M176.8 820.8h0M238.3 803.7h0M227.4 792.2h0M148.9 781.4h0M118.1 795h0M126.7 789h0M157.3 787.5h0M208.5 780.7h0M193.8 795.1h0M115.5 810.5h0M153.1 771.4h0M141.6 838.7h0M154.8 773.6h0M133.9 792h0M182.6 796.8h0M157.3 811.3h0M185 781h0M172.5 807.5h0M162.4 789.8h0M152.9 768.5h0M207.7 806.7h0M255.3 820.1h0M202.9 786.1h0M234.1 795.7h0M153.5 772.7h0M206.1 794.8h0M161.6 776.2h0M149.5 811.8h0M212.8 780.7h0M219.4 809.1h0M198 782.7h0M194.8 796.5h0M215.4 799.3h0M183.7 791.9h0M182 833.3h0M218.4 800h0M159 770h0M208 790.4h0M179.6 792.7h0M136.5 787.5h0M148.5 780.3h0M127.5 789.4h0M156 826.4h0M203.4 776.5h0M160.9 789.9h0M184.4 790.8h0M143.7 790.3h0M171.1 787.2h0M202.6 798.9h0M209 816h0M133.9 812.5h0M162.1 786.2h0M165.8 783.4h0M173.5 791.7h0M202.5 806.2h0M180.8 781.9h0M181.3 791.3h0M144.5 793.3h0M152.8 783.1h0M167.6 782.2h0M123.4 797.3h0M154.9 771.5h0M235.2 793.9h0M165 808.8h0M157.4 789.5h0M167.1 779.6h0M187.5 791.5h0M233.4 798.3h0M171.9 813.5h0M166.9 791.2h0M157.1 824.9h0M175.1 796.6h0M150.1 802.5h0M136.5 793.8h0M144.8 800.5h0M122.1 791.3h0M157.2 768.7h0M201.3 776.6h0M190.5 818.6h0" stroke="#2e5322" stroke-width="1.9" stroke-linecap="round" fill="none"/>
<path d="M167.1 811.7h0M190.9 785.5h0M192.3 793h0M198.6 781h0M168.7 831.3h0M115.4 809.8h0M184.2 832.9h0M152.4 813.4h0M110.4 839.7h0M143.9 795.3h0M162.8 834h0M175.7 789.2h0M151.9 775.4h0M168.4 825.6h0M140.5 837.1h0M232.5 795.4h0M154.9 813.8h0M163.2 775.8h0M188.9 781.3h0M155.5 803.6h0M186 832.5h0M146.1 785.1h0M166.4 776.4h0M166.9 825.3h0M193 805h0M219.4 782.6h0M188.5 798.5h0M179.1 821.8h0M156.8 790.3h0M159.8 770.2h0M136.7 796.8h0M176.7 841.7h0M148.2 796.4h0M179.4 821h0M173.6 804.1h0M147.5 786.5h0M151.9 828.2h0M163.5 783.2h0M186.2 780.8h0M129.7 799.2h0M181.8 833.8h0M164.9 855.8h0M101.3 820.6h0M185.5 827.6h0M152.2 785.1h0M174.9 790.1h0M168.8 788.3h0M190.6 793.9h0M209.5 787h0M227.1 786h0M144.3 816.3h0M141.2 782.6h0M193.8 794.7h0M225.9 796.3h0" stroke="#ecd68c" stroke-width="1.9" stroke-linecap="round" fill="none"/>
<path d="M196.8 842.8h0M209.7 837.3h0M128.9 849.5h0M207.4 828.5h0M197.3 830.6h0M175.5 821.1h0M192.7 843.8h0M212.4 835.5h0M165.1 821.1h0M194.3 817.1h0M168.7 855.3h0M191.8 830.3h0M187 842.1h0M155.4 817.8h0M200.6 834.4h0M165.8 830.2h0M240.4 830.1h0M242.1 833.8h0M176.7 840h0M241.3 821.6h0M168.9 854.9h0M165.6 838.2h0M245.1 835.1h0M160.4 822.4h0M181.5 819.8h0M243.3 812.4h0M216 807.7h0M191.4 837h0M218.5 839.5h0M167.2 807.5h0M184 847.2h0M227.8 835.2h0M170.9 846.8h0M137.8 837.3h0M158.5 827.7h0M179.6 805.5h0M164.3 811.2h0M146 801.8h0M167 855.5h0M217 842.3h0M174.3 852h0M220.5 830.6h0M180.5 821h0M190.5 837.1h0M206.2 835.5h0M108.2 817.1h0M240.3 833h0M181.2 831h0M158.4 810.6h0M174.8 857.5h0M216.7 826.7h0M202.1 828.9h0M167.1 846h0M189.5 838.4h0M173 853.9h0M227.8 829h0M234.8 835.4h0M170.9 814.8h0M215.4 802.3h0M169.4 855.9h0M219.4 827.2h0M165.8 846.1h0M181.8 835.8h0M221.3 829.2h0M219 834.9h0M243.7 808.8h0M207 833.8h0M239.9 834.3h0M193.8 812.4h0M131.7 817.4h0M227.1 842.9h0M195.3 844h0M242 810.6h0M163.9 844.3h0M178.5 855.4h0M234.9 833.1h0M185.5 844.1h0M146.4 827h0M220.1 837.9h0M165.5 855h0M174.9 848.7h0M209.3 840.6h0M191.5 826.3h0M142.5 822.6h0M173.3 851.8h0M214.2 843h0M230.3 841.5h0M239 831.8h0M164.9 839.2h0M173.5 835.2h0M178.6 855.7h0M240.1 831.7h0M171.4 810.9h0M189.2 818.6h0M241.5 834.5h0M218.8 832h0M212.1 826.5h0M201 843.9h0M98.9 818.2h0M179.2 851h0M175.8 853h0M205.6 827h0M241.3 832.4h0M239.4 834.7h0M172.8 834.8h0M226.2 802.3h0M200.3 833.5h0M230 841.6h0M234.5 835.4h0M250.7 827.5h0M235.5 831.3h0M182.2 840.4h0M106.1 806.7h0M150.1 802.5h0M181.2 835.9h0M180.7 853.9h0M163.5 848.2h0M185.2 836.8h0M183.6 842.7h0M185.2 844.6h0M166 816.2h0M192.5 816.4h0M248.3 829.7h0" stroke="#d9843e" stroke-width="1.9" stroke-linecap="round" fill="none"/>
<path d="M130.7 803.3h0M130.3 844.1h0M204.3 780.3h0M206.6 835.4h0M201.9 844.8h0M165.1 824.6h0M190.9 805.7h0M108.1 837.1h0M203.3 818.6h0M139.1 834.8h0M223.6 842.2h0M220.1 838.7h0M113.2 832.4h0M124.7 828.6h0M210.9 835h0M218.9 833.3h0M218.3 846h0M225.1 827.5h0M115.6 827.4h0M248.7 833.2h0M107.4 824.5h0M123.3 826.5h0M154.3 804.4h0M100.9 816.5h0M191.6 788.7h0M99.9 812h0M178.6 820.4h0M226.5 833.4h0M136.4 831.3h0M111 815.6h0M115.9 822h0M191.5 840.9h0M120.5 822.5h0M209.9 846.4h0M127.5 842.3h0M192.6 838.6h0M102.1 809.7h0M106.1 834.9h0M120.2 828.4h0M107.5 816.7h0M122.5 834.5h0M141.9 817.4h0M125.3 825.3h0M144 827.6h0M208 823.9h0M129 804.9h0M230.8 802.8h0M113.8 798.7h0M141.3 829.7h0M178.1 827.3h0M164.1 815.1h0M117.1 796.2h0M131.9 805.2h0M108.4 811.4h0M226.2 840.3h0M128.9 848.5h0M138.4 815.9h0M113.5 825.5h0M185.1 835.9h0M197.7 827.2h0M107.2 830.2h0M203.6 814.5h0M137.5 821.7h0M209.6 835.6h0M130.2 822.8h0M176.6 817.5h0M228.1 837.4h0M105.4 808h0M168.2 812.4h0M208.3 804.2h0M159.5 805.9h0M100.6 820.3h0M171.2 813.8h0M108.7 813h0M162.4 827.9h0M114.2 808.7h0M103.8 808.5h0M211.2 840.4h0M223.9 846.8h0M233 839.7h0M149.6 811.8h0M118.9 836.5h0M110.9 843.2h0M116.9 831h0M136 803.3h0M139.7 845.2h0M116.5 829.4h0M113.6 835.8h0M154.4 812h0M172.2 829.4h0M111.3 804.5h0M136.1 841.4h0M128.1 800.2h0M169.4 816h0M124.9 838.9h0M237.2 840.3h0M179.4 807.8h0M161.1 829.7h0M121.3 844.2h0M130.1 819.6h0M190.4 837.2h0M196.9 812.8h0M103 823.7h0M131.2 804h0M189.1 835.5h0M166.6 844.8h0M131.7 832.9h0M115.9 803.2h0M121.9 803.8h0M133.1 840.2h0M139.6 842.4h0M139.4 825.1h0M131.4 827.8h0M176.6 822.8h0M221.5 827.1h0M226.3 841.8h0M181.3 822.3h0M112.7 806.7h0M146.7 802.7h0M171.1 806.1h0M132.9 801.8h0M148 822.4h0M209.6 840.4h0M143.5 805.3h0M135.1 829.3h0M104.5 823.8h0M130.5 849.9h0M103.8 832.5h0M133.4 801.6h0M139.4 824h0M123.4 833.9h0M120.6 798.4h0M174 808h0M211.4 845.9h0M123.2 847h0M140 833.3h0M188.3 797.7h0M119.7 814.8h0M133.1 813h0M160.6 820.6h0M135.5 800.9h0M193.4 796.5h0M170.7 820.2h0M119 815.3h0M184.3 816.6h0M158.8 807.4h0M198.4 839.6h0M144.3 818.6h0M138.8 806.7h0M181.4 814.2h0M110.8 806.2h0M145.4 807.6h0M139.1 822.9h0M125.7 831.6h0M150.5 828.1h0M160.8 781.2h0M173.7 818h0M189 836.2h0M195.6 841.9h0M135.2 840.2h0M217.4 835.6h0M172.1 816.4h0M147.8 796.4h0M190.1 838.4h0M155.2 782.1h0M127.9 848.2h0M104 836.1h0M107.4 814.3h0M191.6 825.7h0M123.3 802.9h0M111.7 843h0M222.3 832.3h0M242.5 831h0M127.5 830.3h0M188 814.4h0M125.9 808.7h0M172.5 810.5h0M216.3 828.7h0M139.7 819.6h0M215.3 842.3h0M154.4 821.5h0M139.4 813.2h0M178.7 811.7h0M139.9 806.6h0M125.1 811.5h0M211.4 845.6h0M177.6 817.5h0M98.1 815.5h0M166.7 817.3h0M168.5 824h0M237.9 839.9h0M234.9 827.5h0M225.2 812.5h0M140.2 810.2h0M120.9 838.2h0M144.1 824.2h0M182.3 819.4h0M106.1 830.3h0M232.4 825h0M107.1 803.2h0M134.5 845.3h0M127.2 825.6h0M193 792.1h0M117.4 802.7h0M110.9 818.3h0M129.4 844h0M218 787.4h0M100.8 814.7h0M162.8 824.6h0M115.2 838.2h0M232.6 839.6h0M116.6 844h0M162.1 817.3h0M141.3 829.6h0M119 839.3h0M161.8 814.3h0M168.8 798.9h0M102.5 815.7h0M171.4 817.6h0M136 842.1h0M117.5 812.7h0M223.2 810h0M134.3 811.6h0M224.3 840.6h0M102.1 816.6h0M226.5 840.1h0M121.6 841h0M133.8 808.4h0M205.4 784.3h0M110.4 831.2h0M164.1 783.4h0M190.6 834.1h0M126.2 810.1h0M242.4 832h0M157.8 823h0M110 816.7h0M123.4 844h0M158.9 814.5h0M229.5 796h0M126.5 837.5h0M135.5 831.5h0M234.6 841.8h0M174.6 813.2h0M111.7 825.8h0M155.7 822.6h0M114.1 830h0M132.5 807.5h0M190.5 796.2h0M127.3 835.5h0M241 837.8h0M103.4 809.8h0M104.3 824.6h0M126.1 837.8h0M189.2 826.1h0M227 835.3h0M178.6 782.7h0M146.8 823.2h0M136.5 847.6h0M136.9 825.6h0M141.3 815.9h0M123.5 814.5h0M138 820.3h0M114.6 814h0M233.3 836.5h0M121.6 827.3h0M211.5 817.4h0M98.8 827.6h0M206.9 839.3h0M145.2 800.2h0M124.5 843.2h0M179.9 813.5h0M224.9 831.1h0M120.8 839.2h0M125 835.8h0M107.1 830.9h0M160.6 795.2h0M157.3 822.6h0M165.3 832.9h0M143.9 819h0M222.3 841.9h0M112.4 806.8h0M212.3 846.4h0M117.9 809.1h0M226 843h0M132 834.7h0M180.6 825.4h0M239.2 831.6h0M129.6 800.7h0M187.8 823.1h0M111.8 843.3h0M206.1 778.8h0M159.3 811.2h0M119.3 847.6h0M131.8 808.3h0M135.2 826.6h0M109.7 808.8h0M162.3 820.8h0M121.5 834.1h0M239 839.1h0M222.2 823.8h0M140.3 808.6h0M114.8 804.5h0M136.7 838.5h0M240.9 835.8h0M209.2 841.7h0M159.4 824.3h0M222.7 842.5h0M103.7 806.3h0M194.3 837.2h0M213.4 845.9h0M111.7 811.6h0M100.2 814.8h0M138.6 829.1h0M175 821.4h0M122.2 817.9h0M138.9 842.9h0M104.1 806.1h0M178.8 821.7h0M187.3 826.6h0M138.2 822.6h0M133.6 825.3h0M238.2 816.1h0M136.1 848.2h0M179.8 813.4h0M189.7 793.8h0M176.7 835.9h0M227 795.9h0M127.4 831.3h0M196.6 781.3h0M162 814.4h0M212.2 802.2h0M138.6 812.3h0M135.7 826.9h0M107.4 807.2h0M100.2 821.3h0M215.1 832.8h0M213.6 836.7h0M127.5 825h0M174.4 815.5h0M176.7 839h0M128.3 825.2h0M223.7 785.3h0M134.1 827.4h0M164.4 808.3h0M184.9 805.2h0M230.3 827h0M251.8 829.9h0M117.8 821.9h0M125 848.8h0M113.6 826.5h0M134.5 848.6h0M134.4 807.9h0M133.2 815.1h0M141.1 837.9h0M121.4 827.8h0M166.5 832.8h0M206.2 780h0M248.6 830.1h0M211.5 842.2h0M190.7 803.5h0M180.8 808.3h0M119 815.7h0M232.9 842.2h0M145 819.7h0M211.4 844.9h0M216 843h0M107.8 834.8h0M176.9 823.9h0M130.6 826.9h0M120.8 805.6h0M125 837.8h0M105 835.7h0M213.8 808.2h0M136.4 807.2h0M158.6 817.6h0M230.8 841.4h0M122.1 807.8h0M139.9 822.2h0M232 832.6h0M160 788.9h0M176.8 815h0M117.8 831.9h0M186.7 821.7h0M109 836.1h0M130.1 826.7h0M213.7 838.2h0M136.6 806.3h0M154.5 816.6h0M188.2 826.1h0M115.8 841h0M125.8 835.2h0M130.1 828.1h0" stroke="#0f2337" stroke-width="1.9" stroke-linecap="round" fill="none"/>
<path d="M231.7 790.1h0M235.2 794.5h0M243 808.2h0M217.9 782.1h0M228.5 788.9h0M233.6 794.2h0" stroke="#c8261a" stroke-width="1.9" stroke-linecap="round" fill="none"/>
<path d="M252.3 821.9h0M209.1 830.5h0M195.9 833.6h0M203.7 805.8h0M221.4 806h0M245.7 816.9h0M225.4 815.4h0M238.2 811.7h0M235 825.5h0M238.4 802.4h0M224 824.9h0M236.3 810h0M226.1 809.9h0M245.9 811.6h0M254.5 818h0M233.4 792h0M240.8 808.3h0M207.3 824h0M219.2 815.8h0M176.3 789.5h0M237.3 800.7h0M243.9 819.3h0M243.2 823.2h0M211.9 816h0M210.5 792.1h0M249.5 825.2h0M196.1 831.1h0M251.3 820.3h0M212.4 820h0M215.5 805.3h0M229.2 807.4h0M197.5 824.9h0M180.4 782.9h0M118.1 794.3h0M222.9 826h0M243 815h0M177 791.7h0M204.7 791.2h0M205.9 822.2h0M240.9 801.8h0M245.9 824h0M233.6 807.2h0M242 807.4h0M205.2 822.1h0M251.8 819.6h0M227 806.9h0M212.2 797.1h0M144.1 782.7h0M152.7 785.5h0M219.6 830.4h0M231.4 825.8h0M228.7 818.3h0M252.1 812.9h0M237.1 818.3h0M229.7 806.4h0M234.1 792.8h0M249.1 823.7h0M203 812.6h0M213.5 780.5h0M204.1 814.1h0M244.1 824.2h0M224.4 809.8h0M217.1 818h0M201.7 808h0M201.5 804.8h0M215.9 812.7h0M224 811h0M211.9 812.2h0M207.6 811.4h0M230 804.5h0M226.2 803.9h0M203.9 803h0M204.1 819.3h0M210.6 804.6h0M254.8 820.9h0M250.2 818.7h0M256 823h0M233.4 826.5h0M228.5 808h0M244.5 816.8h0M244.8 806.4h0M234.9 825.5h0M183.7 803.4h0M209.9 810h0M251.4 822.5h0M213.5 807.8h0M237.5 813.1h0M216 802.2h0M218.2 811.8h0M177.8 786.5h0M250.3 813.1h0M229.1 818.1h0M204.4 804.1h0M209 822.2h0M224.7 824.7h0M223.2 823.2h0M219.1 817.7h0M251.9 815.5h0M209 820.2h0M204 814.7h0M218 818h0M236.9 825.6h0M215.4 810.9h0M194 842.1h0M202.5 814.1h0M210.1 802.3h0M218.6 815.8h0M201 807.6h0M216.7 804.8h0M239.2 815.9h0M213.7 819.9h0M237.7 806.7h0M244.4 830.1h0M211.5 822.2h0M239.2 807.3h0M234.7 822.6h0M251.2 819.1h0M238.5 826h0M213.7 792.8h0M182.3 797.1h0M245.5 820.6h0M149.8 778.4h0M153.1 799.1h0" stroke="#6e9a7e" stroke-width="1.9" stroke-linecap="round" fill="none"/>
<path d="M172.7 783.2h0M200.4 780.9h0M229 792.7h0M217.4 789.5h0M122.8 794h0M158.3 801.5h0M176.2 793.7h0M150.3 798.2h0M173.3 829.1h0M165.1 798.2h0M151 773.2h0M166.8 806.5h0M195.7 790.7h0M163.3 796.4h0M139.3 798.2h0M210.6 794h0M155.8 797h0M127 792h0M155.4 792.4h0M202.9 810.9h0M184.8 778.6h0M152.6 771.5h0M235.9 793.9h0M210.3 793.4h0M158.7 790.5h0M234.9 796.8h0M110.8 838.1h0M173.7 798.8h0M191.9 791.9h0M227.2 787.9h0M162.7 779h0M201.2 777.6h0M166.1 785.7h0M151.3 770.7h0M136.1 795.1h0M105.7 822.6h0M155.1 770h0M227.6 800.1h0M118.1 792.3h0M143.4 784.5h0M182.2 778.9h0M205 793.7h0M206.2 800h0M127.2 797.7h0M120.9 791.7h0M206.3 818.6h0M151.5 789.7h0M217.2 797h0M155.9 772h0M163.3 792.2h0M128.6 795.1h0M161 779.1h0M197.4 776.3h0M147.8 827.6h0M220 798.1h0M216.3 823h0M224.8 792.5h0M151.8 828.7h0M165.6 790.9h0M186.7 794.5h0M216.7 800.4h0M192.2 801.2h0M217.4 788h0M202.5 796.6h0M159.7 774h0M187.9 802.6h0M169.1 780.9h0M189.6 778.7h0M215.2 799h0M192.4 776.8h0M185.9 804.4h0M149.8 797.9h0M225.7 787.2h0M199 786.3h0M218.9 799.4h0M222.8 794.5h0M144 791.8h0M198.8 800.6h0M116.2 797.9h0M142.3 796.6h0M173.9 796.5h0M232 797.2h0M206.4 781.5h0M196.8 798.9h0M142.5 789.7h0M154.1 787.4h0M152.8 787.5h0M176.3 788.3h0M174.7 833.3h0M173.3 788.9h0M173.6 797.9h0M126.4 791.8h0M114.5 820.5h0M202.1 776.3h0M244.3 822.1h0M232.4 794.9h0M204.2 791.1h0M203 790.4h0M123.7 820.8h0M134.4 799.2h0M161 780.6h0M134.3 792.2h0M246.6 812.3h0M189.4 793.4h0M209.9 785.2h0M106.1 819h0M253.9 818h0M130 793.8h0M207.6 805.5h0M209.7 823.2h0M193.3 802.3h0M146.1 802.5h0M219 826.1h0M135.6 800.4h0M163.6 795.8h0M214.4 787.5h0M171.7 787.5h0M141.8 786.5h0M237.5 800.8h0M163.7 797.9h0M181.2 787.7h0M137.9 792.5h0M211.8 784.8h0M152.6 797h0M139 788.8h0M141.8 809.4h0M143.3 823.4h0M138.8 783.2h0M151.2 796.4h0M221 795.1h0M225.2 802h0M164.9 786h0M146.9 780.6h0M211.8 791.9h0M149.2 789.9h0M181.5 786h0M175.8 782.7h0M155.4 802.1h0M220.8 782.8h0M197.1 790.1h0M215 792.9h0M184.6 796.2h0M184.6 796.8h0M183.3 800.2h0M163.7 797.4h0M214.5 793.7h0M177.6 791.9h0M151.3 828.2h0M221.1 791.9h0M169 806.3h0M143.5 775.8h0M160.5 786.8h0M234 795.8h0M189 796h0M184.2 797.8h0M178.4 803.9h0M234 796.8h0M149.5 794.7h0M144.2 789.5h0M180 799h0M147.5 810.2h0M183.7 795.3h0M204.9 816.6h0M200 826.3h0M155.3 798.7h0M174.1 783h0M162 802.8h0M164.3 779.3h0M161.7 831.6h0M176.9 796.8h0M109.3 826.2h0M188.4 794.5h0M151.8 783.7h0M202.9 797h0M126.5 795.8h0M151.3 789.9h0M136.8 784.3h0M211.8 778.8h0M118.2 799.3h0M133.3 789.8h0M142.1 794.3h0M139 783.7h0M162.9 784h0M172.9 798.8h0M171.5 781.8h0M140.6 825.9h0M116.1 798.4h0M143.1 805.5h0M150.7 801.8h0M133.8 790.3h0M106.7 833.4h0M129.2 787.9h0M110.2 824.6h0M195.2 783.6h0M136.8 786.1h0M155.6 773.6h0M140.1 784.6h0M169.5 798.5h0M184.5 796h0M169.6 800.3h0M212.1 788.9h0M228.7 800.5h0M141.5 778.6h0M167.5 795.6h0M147.4 778h0M153.4 774.4h0M151.3 782.5h0M124.1 838.3h0M214.2 800.1h0M215.2 780.8h0M170.3 831.9h0M168.7 792.7h0M118.1 792h0M143.9 827.3h0M188.2 786.3h0M152.6 808.5h0M133.8 785.4h0M157.7 781.1h0M189.9 807.9h0M178.5 799.9h0M215.5 784.5h0M161.9 788.7h0M186.1 780.4h0M138.3 797h0M206.7 800.6h0M205.7 803.5h0M204.6 792.5h0M140.9 832.5h0M153 772.6h0M151.7 770.4h0M175.2 788.3h0M185.3 832.2h0M173.2 802.7h0M171.4 781h0M168.1 794.7h0M225.9 798.9h0M115.7 798.4h0M191.1 784.3h0M151.3 801.8h0M218.6 785.6h0M173.3 811.8h0M172.6 832.6h0M165.7 786.1h0M148.4 828h0M189.5 794.2h0M152.5 801h0M120.8 799.1h0M129.3 786.8h0M140.7 797.6h0M182.3 782h0M153.1 778.3h0M204.5 783.1h0M189.6 786.8h0M207.9 800.3h0M152.4 772h0M173.9 819.9h0M228.4 791.5h0M210.5 793.3h0M211 800.2h0M140.2 797.3h0M190 792.5h0M164.3 800h0M179.1 798.8h0M163.4 780.9h0M172.5 806.7h0M108.9 835.3h0M221.6 789.3h0M123.6 799.5h0M159.4 792.7h0M193.7 799.7h0M167.1 830.8h0M194.8 787.4h0M222.4 816h0M173.5 816.9h0M188.9 785.9h0" stroke="#2e5322" stroke-width="1.9" stroke-linecap="round" fill="none"/>
<path d="M133.1 823.9h0M155.8 800.8h0M127.8 812h0M172.8 799.7h0M155.1 806h0M106.3 806.8h0M208.9 782.9h0M175.9 804.4h0M153.1 768.9h0M178 832.1h0M188.2 785.3h0M198.7 792.7h0M124.2 798.7h0M107.4 815.2h0M186.3 810.8h0M146.7 780h0M147.4 785.5h0M200.6 789.8h0M178.5 833h0M172.2 781.9h0M143.4 782.7h0M122.7 792.1h0M184.2 796.5h0M183.3 812.3h0M176.3 831.7h0M164.3 791.1h0M154.9 771.2h0M172.5 807.7h0M187.7 799.8h0M206.5 783.5h0M145.3 795.6h0M121.2 809.3h0M154.7 777.9h0M178.9 792.9h0M159.8 781.1h0M123.3 803.1h0M147.1 823.4h0M215.8 784.1h0M181 808.1h0M140.8 793.8h0M176.2 789.7h0M204.5 786.6h0M212.9 789.9h0M139.4 791.3h0M206.6 799.3h0M215.8 800h0M229.7 799.3h0M150.1 788.9h0M175.6 802h0M164.4 788h0M188.6 811.5h0M158.1 791.7h0M156.4 798.4h0M126.1 833.7h0" stroke="#ecd68c" stroke-width="1.9" stroke-linecap="round" fill="none"/>
<path d="M192.7 831.2h0M183.9 850.7h0M178.9 848.1h0M200.2 817.5h0M223.1 837.6h0M190.2 834.6h0M223.5 836.3h0M235.9 830.7h0M167.1 847h0M204.1 828.2h0M187.3 841.5h0M189.3 824.2h0M193.2 840.2h0M163.2 842.5h0M220.2 831.3h0M246.1 829.8h0M224.5 828.3h0M180.5 834.5h0M238.5 833.4h0M195.3 834.1h0M160.2 812.1h0M253 828.7h0M176.5 852.1h0M214.4 837.1h0M200.7 828.9h0M242.8 831.1h0M165.5 835.4h0M110.5 833.2h0M240.2 831.3h0M212.2 830.9h0M199.5 843.7h0M169.6 834.2h0M184.5 845.6h0M146.2 808.2h0M197.9 833h0M213.1 842.4h0M235.3 830.6h0M242.9 831.4h0M140.8 823h0M206.6 840.9h0M226 828.3h0M174.8 837.9h0M232.4 831.6h0M144.3 808.7h0M198.9 843.2h0M212.9 835.7h0M211.2 803.7h0M225.3 807.2h0M197.5 830.9h0M202.5 835.7h0M195 844.2h0M214 845h0M225.8 826.6h0M192.7 834.4h0M216.9 813h0M205.1 832h0M232.3 836.3h0M174.1 849.5h0M244.3 829.8h0M178.2 847.6h0M181 851.6h0M194.6 835.2h0M210 841.6h0M188.4 830.9h0M188.7 836.5h0M151 823.7h0M163.5 840.4h0M160.7 810.7h0M173.7 851.8h0M178.9 833.5h0M163 841.8h0M192.6 841.8h0M180.1 837.6h0M183.6 844.8h0M202.4 838.2h0M214.7 827.7h0M128.1 804.2h0M180.6 846.7h0M153.3 824.2h0M230.4 828h0M107.9 817.2h0M175.3 842.5h0M177.7 839h0M171.4 832.6h0M212.5 814.3h0M184.6 843h0M227.6 828.8h0M179.2 852.7h0M207.6 843.2h0M248.5 829.3h0M165.2 855.2h0M207.3 828.8h0M167.9 843.4h0M222.4 845.8h0M178 844.1h0M230.5 825.9h0M181 843.1h0M179.6 854.6h0M172.6 844.8h0M240.3 831.9h0M193.4 842.4h0M173.4 823h0M227.1 836.3h0M171.9 845.6h0M232.7 845.5h0M212.2 843.9h0M183.7 840.7h0M233.2 842h0M145 820.6h0M170.5 843.5h0M165.3 824.1h0M168.1 837.6h0M233.5 827.8h0M172 844.7h0M236.1 815.7h0M231.2 830h0M171 837.8h0M167.3 825.8h0M184.3 848.5h0M210.5 811.5h0M203.1 833.1h0M176.4 840.8h0M241.3 829.9h0" stroke="#d9843e" stroke-width="1.9" stroke-linecap="round" fill="none"/>
<path d="M136.5 822h0M142.8 813.1h0M206.8 836.8h0M192.8 833.8h0M152.2 810.3h0M137.9 809.9h0M119.1 801.9h0M109.9 840.6h0M185.9 825.9h0M115.4 823.8h0M121.6 808.8h0M161.9 830.5h0M127.6 809.9h0M121.4 842.2h0M138.9 786.2h0M131.6 835.5h0M139.7 840.4h0M203.9 839.4h0M229.3 842.5h0M134.8 816h0M105.9 802.8h0M199.2 817.1h0M147.6 814.8h0M166.4 826.6h0M117.9 836.8h0M141 839h0M115.6 809.1h0M108.1 828.5h0M150.8 827.8h0M103.7 813.1h0M125.5 830.3h0M179.8 829.5h0M146.7 811.6h0M188.3 841.8h0M210.6 833h0M138.5 838.2h0M230.4 841.9h0M167.4 808.2h0M137.7 807.7h0M114.6 812.4h0M197.7 830h0M111.5 826.4h0M234.6 830h0M155.9 819.7h0M177.9 828h0M108.7 829.6h0M123.1 809h0M96.1 822.4h0M189.3 814.8h0M170.4 828.2h0M112.1 817h0M142 821h0M124.3 797.2h0M130.1 828.9h0M116.7 817.5h0M114.4 832.3h0M118 809.3h0M177.5 811.6h0M103.3 835.1h0M207.6 795.4h0M229.4 789.7h0M133.3 844.3h0M188.7 834.6h0M113 832.9h0M162.9 813.2h0M127 812.4h0M112 817.8h0M182.9 846.6h0M139.6 833.5h0M138 834.1h0M156.8 819.3h0M234.5 804h0M126.9 839.1h0M220 824.8h0M100.6 808.9h0M230.2 836.8h0M140.3 845.2h0M121.8 806.4h0M187.8 825.6h0M166.7 857.4h0M156.5 805.8h0M117.3 812.4h0M200.3 836.5h0M160.9 774.8h0M169.7 813.3h0M122.5 817.6h0M124.9 843.8h0M253.3 828.6h0M166.6 828h0M112.3 817.8h0M180.1 830.6h0M119.5 840.2h0M109.7 841.3h0M115.2 840.1h0M105.7 802.8h0M124.3 838.9h0M114.4 835.2h0M163.3 828.2h0M205.4 829.3h0M131.3 801.5h0M131.1 844.6h0M130.9 796h0M172.7 841.8h0M122.8 847.4h0M109.9 835h0M105.1 804.9h0M166.3 807.7h0M236.3 828.3h0M184.6 831.1h0M103 814.9h0M252.9 825.3h0M119.5 816.2h0M130.8 843.2h0M186 812.3h0M135.6 826.6h0M237.6 841.9h0M119.5 820.7h0M133.4 807.8h0M167.6 815.4h0M217.3 784.8h0M176.2 824.9h0M198.1 817.4h0M126.1 807.5h0M172 817.5h0M138.3 802.7h0M115.1 844.1h0M141.5 806.7h0M126.4 846.7h0M110.6 810h0M156.5 824.9h0M206.9 837.5h0M155 824.1h0M143.9 815.5h0M237.9 820.6h0M107.9 821.7h0M237.8 817.7h0M128 842.9h0M191.7 832.1h0M105.5 818.4h0M160.8 815.2h0M134.5 840.1h0M128.8 801.6h0M233.5 803.5h0M128 840.9h0M133.3 823.8h0M165.4 821.3h0M230.1 837.7h0M116.9 819.9h0M168.4 820.4h0M201.2 821.2h0M129.2 810.8h0M191.5 837.5h0M111.2 817.3h0M132.4 804.3h0M221.4 840.7h0M171.4 809.6h0M162.4 820.7h0M210 831.4h0M131.9 804.8h0M171.1 824.3h0M183.7 823.7h0M127.5 831.8h0M181.9 783h0M159.1 818.4h0M102.8 834.5h0M115.6 811.5h0M126.5 825.6h0M99.9 817.6h0M175.3 817.2h0M157.7 812.2h0M104.3 822.5h0M194.2 779.2h0M158.2 826.1h0M107.4 810.9h0M167 810.9h0M231.7 838.1h0M113 841.4h0M178.5 817.9h0M147.6 816.7h0M116.4 834.6h0M104 836.4h0M140.1 815.2h0M120.1 800.6h0M137.7 846.2h0M217.3 840h0M220.4 823.6h0M111.6 815h0M120.5 804.1h0M121.9 826.8h0M172 836.7h0M140.9 833.6h0M127.1 814.4h0M163.5 788.1h0M121.7 804.2h0M140.2 802h0M107.6 810.4h0M155.4 778.2h0M119.1 813h0M165.3 804.7h0M149.7 816h0M150.8 827.3h0M163.2 822.7h0M168.9 806.1h0M170.9 817.4h0M132.1 803.9h0M116.2 818.3h0M171.3 827.4h0M116.3 812.3h0M111.3 843.7h0M182.6 826.3h0M226 843.6h0M111.8 797h0M108.5 824h0M165.1 823.8h0M206.4 846h0M161.5 818h0M109.9 808h0M240.8 834.5h0M147 812.6h0M146.5 815.3h0M167.7 826.8h0M145.5 820.1h0M236.6 823.3h0M122.3 813.4h0M184.8 826.4h0M186 829h0M191 805.6h0M107.8 811.9h0M147.8 815.3h0M104.2 820.4h0M194.9 832.2h0M236.4 833.2h0M180.9 809.7h0M132.7 831.9h0M118.2 812.5h0M139.2 805.6h0M112.8 839.5h0M196.2 826.4h0M191.1 842.8h0M122.2 843.8h0M123.8 804.6h0M181.1 816.2h0M111.3 819.7h0M174.5 826.2h0M109 806.3h0M220.2 825.6h0M200 837.2h0M134.6 840.1h0M107.4 825.7h0M103.7 814.8h0M135.6 784.9h0M138.4 831.9h0M174.9 820.9h0M103.2 812.6h0M246.1 834.1h0M171.5 814.6h0M105.4 814.8h0M186.3 829h0M239.1 816.4h0M209.7 844.8h0M224.4 829.9h0M127.7 806.7h0M135.7 827.5h0M122.8 822.8h0M232.7 800.9h0M191.7 835.3h0M133.1 826.9h0M117.1 827h0M120.2 819.3h0M169.1 811.6h0M111.5 813.7h0M131 836.3h0M140.1 826.4h0M133.2 830.2h0M181.7 829.4h0M193.3 838.7h0M162.2 813.8h0M216.2 838.1h0M182.9 814.4h0M111.5 821.3h0M110.5 805.3h0M120.4 841.8h0M169.2 830.6h0M238.6 838.6h0M192.8 835.2h0M248.1 827.3h0M115.9 818.6h0M122.3 823.5h0M202 834.4h0M212.1 829.5h0M164.1 840.1h0M194.8 841h0M228.9 839.4h0M147.1 820.9h0M98.3 812.8h0M174.6 809.4h0M247.4 812.7h0M165.8 813.4h0M141.6 828.4h0M141.3 838.6h0M122.7 800.5h0M110.5 808.2h0M187.3 826.8h0M118.3 835.8h0M224.6 838.1h0M224.5 809.7h0M236.9 821.5h0M191.5 840.9h0M175.8 813.3h0M112.4 821.4h0M128.6 810.1h0M119.1 808.2h0M214.9 802h0M170.7 835.8h0M112.6 820.7h0M164.1 811.6h0M207.7 828.1h0M114.1 799h0M114.4 818.7h0M244.1 822h0M237 801.7h0M112.7 829.8h0M186.6 828.6h0M215.1 826.8h0M126.7 802h0M164.9 807.7h0M129.1 849.6h0M136 806.9h0M223 834.9h0M113.4 800.8h0M223.4 836.8h0M178 811.8h0M107.9 800.7h0M156.3 787.8h0M113.1 825.3h0M98.3 821.4h0M114.6 841.4h0M110 837.1h0M108.5 813h0M99.4 825.4h0M173.4 819.4h0M161.4 781.3h0M103.2 806.9h0M128.2 837.9h0M162.8 782h0M106.7 802.2h0M199 841.1h0M140.8 821.6h0M116.2 825.2h0M113.4 805.2h0M187.2 812.5h0M115.6 803.2h0M109.7 826.6h0M114.3 806.4h0M112.3 820.5h0M202.8 779.1h0M186.4 827h0M176.4 817.3h0M225.7 844.1h0M147.8 805.7h0M157.1 811.6h0M122.6 835.9h0M230.1 829.6h0M156.6 771.7h0M137.9 844h0M229.6 839.9h0M179.7 816.1h0M137 805.9h0M181.4 821.8h0M174.7 806.9h0M140.5 814.3h0M149.2 825.9h0M127.8 834.4h0M118 839.5h0M143.3 824.1h0M187.8 789.6h0M144.4 815.1h0M241.5 831.5h0M142.6 814.5h0M203.1 823.9h0M125.7 836.5h0M142.7 819.9h0M207.9 796.9h0M222.4 839.8h0M152.4 769.3h0M127.5 803.3h0M160.8 778.7h0M113.2 830.5h0M116.5 844h0M162.2 852h0M128.4 831.4h0M136.1 814.2h0" stroke="#0f2337" stroke-width="1.9" stroke-linecap="round" fill="none"/>
<path d="M230.8 791.5h0M221.4 784.2h0M243.3 808.7h0M222.4 784.7h0M244.1 810.9h0M231.4 791.4h0" stroke="#c8261a" stroke-width="1.9" stroke-linecap="round" fill="none"/>
<line x1="88.7" y1="763.8" x2="88.7" y2="859.6" stroke="#222" stroke-width="1"/>
<line x1="88.7" y1="859.6" x2="262.1" y2="859.6" stroke="#222" stroke-width="1"/>
<line x1="86.0" y1="768.2" x2="88.7" y2="768.2" stroke="#222" stroke-width="1"/>
<text x="84.8" y="771.9" font-size="10.4" text-anchor="end" fill="#222">5.0</text>
<line x1="86.0" y1="791.0" x2="88.7" y2="791.0" stroke="#222" stroke-width="1"/>
<text x="84.8" y="794.7" font-size="10.4" text-anchor="end" fill="#222">2.5</text>
<line x1="86.0" y1="813.8" x2="88.7" y2="813.8" stroke="#222" stroke-width="1"/>
<text x="84.8" y="817.5" font-size="10.4" text-anchor="end" fill="#222">0.0</text>
<line x1="86.0" y1="836.6" x2="88.7" y2="836.6" stroke="#222" stroke-width="1"/>
<text x="84.8" y="840.3" font-size="10.4" text-anchor="end" fill="#222">−2.5</text>
<line x1="86.0" y1="859.4" x2="88.7" y2="859.4" stroke="#222" stroke-width="1"/>
<text x="84.8" y="863.1" font-size="10.4" text-anchor="end" fill="#222">−5.0</text>
<line x1="125.0" y1="859.6" x2="125.0" y2="862.3" stroke="#222" stroke-width="1"/>
<text x="125.0" y="871.3" font-size="10.6" text-anchor="middle" fill="#222">−4</text>
<line x1="176.6" y1="859.6" x2="176.6" y2="862.3" stroke="#222" stroke-width="1"/>
<text x="176.6" y="871.3" font-size="10.6" text-anchor="middle" fill="#222">0</text>
<line x1="228.2" y1="859.6" x2="228.2" y2="862.3" stroke="#222" stroke-width="1"/>
<text x="228.2" y="871.3" font-size="10.6" text-anchor="middle" fill="#222">4</text>
<text x="177.0" y="885.3" font-size="13" text-anchor="middle" fill="#222">UMAP 1</text>
<text x="60.4" y="812.3" font-size="13" text-anchor="middle" fill="#222" transform="rotate(-90 60.4 812.3)">UMAP 2</text>
<circle cx="276.8" cy="788.6" r="1.9" fill="#0f2337"/>
<text x="284.8" y="792.2" font-size="10.4" fill="#222">Mesoderm</text>
<circle cx="276.8" cy="798.3" r="1.9" fill="#2e5322"/>
<text x="284.8" y="801.9" font-size="10.4" fill="#222">Myoblast−A</text>
<circle cx="276.8" cy="808.0" r="1.9" fill="#6e9a7e"/>
<text x="284.8" y="811.6" font-size="10.4" fill="#222">Myoblast−B</text>
<circle cx="276.8" cy="817.7" r="1.9" fill="#ecd68c"/>
<text x="284.8" y="821.3" font-size="10.4" fill="#222">Myoblast−C</text>
<circle cx="276.8" cy="827.4" r="1.9" fill="#d9843e"/>
<text x="284.8" y="831.0" font-size="10.4" fill="#222">Myoblast−D</text>
<circle cx="276.8" cy="837.1" r="1.9" fill="#c8261a"/>
<text x="284.8" y="840.7" font-size="10.4" fill="#222">Myocyte−A</text>
<text x="404.5" y="673.3" font-size="11.8" font-weight="bold">I</text>
<text x="547.7" y="675.4" font-size="11.3" font-weight="bold" text-anchor="middle" fill="#111">PRKG1 expression</text>
<path d="M529.9 719.4h0M553.6 739.8h0M519.5 747h0M604.1 747.8h0M609 722.2h0M571.1 759.6h0M595.9 752h0M480.1 761.9h0M564.6 718.4h0M595.8 729.9h0M526.5 725.5h0M506.9 712.3h0M566.7 760.7h0M601.1 752.7h0M540.2 718.4h0M607.6 743.8h0M542.2 767h0M579.3 728.4h0M535.2 766.4h0M525.1 743.8h0M500.2 748.6h0M525.8 711.8h0M505.9 724.5h0M510.7 762.8h0M527.7 713h0M593.8 758.4h0M605.4 731.7h0M526.6 731.6h0M576.5 733.6h0M556.7 759.4h0M601.5 757.6h0M505.8 736h0M532.5 731.9h0M518.1 744.9h0M586 739.5h0M600.4 714.9h0M540 766.7h0M485.3 745.6h0M502.1 756.1h0M595.3 755.5h0M536.4 771.8h0M597.6 731.6h0M523.1 718.7h0M516.7 705.3h0M582.2 725.7h0M611.6 730.8h0M592.1 755.7h0M625.8 737.5h0M488.2 739.3h0M523.7 744.9h0M601.5 749.5h0M574.9 762.3h0M607.2 764.5h0M587.3 727.3h0M570.4 753.5h0M605.6 748.4h0M476.7 742.7h0M473.1 752.8h0M524.2 742.8h0M579.5 722.3h0M546.1 748.8h0M542.3 746.9h0M572.1 721.3h0M625.7 738.2h0M526.9 741h0M541.5 749.4h0M622.7 737.7h0M563.4 727.7h0M504.4 719h0M614.2 744h0M521 696.3h0M576.1 736.4h0M590.9 745.5h0M471.9 729.6h0M484 730.2h0M542.8 719.1h0M565.2 757h0M559.6 726.4h0M579.5 744.6h0M478.2 756.6h0M596.7 721.3h0M530.2 748.1h0M600.1 757h0M588.4 761.2h0M562.1 762.3h0M575.8 744.2h0M499.5 751.1h0M581.6 756.6h0M598.8 730.2h0M514.3 747.8h0M622 740.9h0M529.9 717.8h0M478.6 728.1h0M532.2 717.5h0M566.4 714.3h0M588.2 758.9h0M545.4 754.7h0M549.5 756.6h0M519 715.5h0M531.4 734.4h0M571.4 747.1h0M570.2 723.1h0M537.6 715.2h0M606.3 730.9h0M564.3 761h0M514.6 736.7h0M503 721.6h0M590.4 721.8h0M546.7 766.8h0M564.5 754h0M612.4 732.5h0M495.4 747.7h0M473.3 745h0M494 738.9h0M513.8 736.2h0M591.4 726.9h0M522.7 734.4h0M606.8 754.3h0M571 747.7h0M494.8 759.2h0M538 738.1h0M533.1 732.5h0M591.8 724.9h0M550.6 756.5h0M602 731.7h0M524.6 694h0M554.3 751.3h0M602 727.3h0M582.1 758.1h0M528.5 717.7h0M538.1 727h0M487.5 715.5h0M562.8 719.3h0M506.2 710.8h0M532.6 731h0M607.2 742.1h0M585.9 745.7h0M505 708h0M503 760.3h0M522 721h0M507.1 754.3h0M515.7 730.8h0M581.2 709.2h0M495.5 749.5h0M614 734.9h0M599.6 741.2h0M525.5 718.2h0M573.6 723.2h0M481.3 725.5h0M593.9 764.3h0M533 758.4h0M496.2 752.4h0M548.5 761.3h0M588.5 725.1h0M577.7 718.8h0M545 762.2h0M518.8 719.1h0M534.8 713.9h0M601.1 757.4h0M578.1 718.4h0M491.2 754.4h0M546.8 741.9h0M605.5 752.7h0M501.2 732.4h0M511.9 714.2h0M578.9 743.6h0M581.8 736.8h0M592.3 715.3h0M533.6 727.8h0M509.8 763.6h0M553.4 746.9h0M512.2 740.5h0M535.5 762.3h0M564.2 714.8h0M496 735.8h0M527.6 724.5h0M488.2 729.1h0M496.5 722.6h0M546.1 760.9h0M527.5 736.9h0M557.3 755.1h0M519.9 745.4h0M583.7 738.8h0M581.7 714h0M512 744.4h0M521.2 716.9h0M614.8 729.9h0M577.7 725.2h0M503.3 728h0M480.4 743.6h0M562 750.1h0M547.3 713.8h0M574.1 758.5h0M477 759.4h0M508.6 716.3h0M598.3 725.5h0M540.9 727.7h0M583.8 762.6h0M597.8 741.7h0M538.6 756.7h0M490.3 726.9h0M568.8 752.9h0M528.2 700.9h0M507.8 736h0M589.1 736.6h0M592.9 766.8h0M519.8 748.4h0M504.4 765h0M481.7 760.3h0M580.8 757.5h0M556.3 716.4h0M579.4 758h0M576.5 725.9h0M554 735.8h0M506.7 765.4h0M565.5 748.5h0M559.2 749.4h0M626.8 744.1h0M507 731.7h0M576.3 759.2h0M564.1 735.1h0M557.1 748h0M506.8 765.5h0M533 722.7h0M471.4 750.3h0M509.7 762h0M600.2 745.1h0M549.1 767.1h0M503.6 748.3h0M574.9 730.5h0M521.5 739.8h0M553.6 737.6h0M592.7 757.1h0M501.8 729h0M586.3 741.9h0M599.3 719.5h0M564.8 749.5h0M502.3 750.8h0M612.4 742.4h0M533.4 695.4h0M481.6 754.5h0M485.6 720.4h0M522.6 720.1h0M584 732.8h0M493.9 746.2h0M520.3 727h0M536.5 734.5h0M485.9 756.3h0M501.9 751.3h0M591.7 763h0M529.3 712.8h0M518.2 728.8h0M606 748.4h0M604.5 761h0M590 739.3h0M599.6 756h0M587 763.5h0M624.2 742.7h0M586.3 732.3h0M492.8 713.9h0M601.9 743.3h0M564.4 725.5h0M547.2 744.3h0M574.3 724.6h0M507.6 743.8h0M563.7 712.3h0M474.9 746.2h0M561.8 718.2h0M509.3 749.6h0M549.3 750.7h0M560.6 729.3h0M561.2 720.8h0M596.3 731h0M568 722.2h0M479.4 724.8h0M601.2 739.5h0M565.8 751.7h0M549.6 728.1h0M486.2 751.9h0M581.1 740.4h0M583.6 740h0M565.3 763.9h0M520.1 726.7h0M555.9 740.6h0M584.1 725.4h0M489.2 758.5h0M589.6 750.2h0M471.4 740.4h0M534 768.7h0M486.2 737.5h0M524.2 699.2h0M577.4 754.9h0M543.3 734.6h0M593.8 761.1h0M531.6 711.4h0M488.8 733.7h0M574.3 722h0M615.1 736.3h0M514.6 747.9h0M544.5 754.1h0M615.5 734.9h0M528.3 729.2h0M564.4 756.2h0M608.8 750h0M540.9 736.3h0M475.5 725.9h0M551.8 711.5h0M590.8 715.6h0M602.7 738.5h0M492.7 730h0M564.5 750.5h0M525.1 711.5h0M540.1 739.2h0M472.1 737.6h0M604.6 751.4h0M561.8 719.7h0M493.9 758.7h0M527.6 711.8h0M538.1 712.6h0M522.8 696.9h0M509.4 756.2h0M620.2 744.9h0M615.3 735.1h0M508.8 746.4h0M505.2 738.3h0M579.6 719.3h0M616 740.8h0M513.4 757.7h0M516.5 713h0M573.5 720.8h0M483.8 749.8h0M553.1 748.5h0M590.8 728.8h0M513.8 733.3h0M543.8 775.6h0M615.2 737.8h0M569.2 736.9h0M597.5 756.5h0M494.9 755.6h0M610.9 760.4h0M572.9 756.3h0M497.7 746.3h0M558.2 754.7h0M481.5 742.2h0M599.9 748.7h0M469.3 743.9h0M517.6 737.8h0M531.6 730h0M540.1 739h0M592.3 759.9h0M620.9 738.6h0M518.2 734.6h0M479.7 725.7h0M559.5 740.7h0M498.9 714.6h0M497 719h0M575 715.9h0M572.7 716.2h0M520.9 749.8h0M564.7 721.2h0M610.5 743.4h0M530.1 747.6h0M552.1 765h0M542.6 760.9h0M551.3 717h0M491.6 730.2h0M584.8 746h0M510.3 734.6h0M575.4 727.8h0M566.2 713.1h0M538.8 730.2h0M504.3 752.3h0M565.2 706.5h0M584.5 748.8h0M614.8 744.8h0M594.5 752.8h0M587.9 712.6h0M511.7 709.9h0M554.8 721.2h0M544 728.7h0M574.5 753.4h0M479.4 756.3h0M510.8 746.4h0M601.4 761.1h0M563 721.3h0M518.5 723.6h0M581.3 720.1h0M535.8 757.1h0M593.4 759.3h0M525.2 714.7h0M591.6 733h0M581.8 721.3h0M602.2 764.8h0M596.3 755.9h0M586.6 764.4h0M593.9 759.7h0M506.8 710.3h0M500.2 730.5h0M532.8 727.1h0M544.1 749.8h0M551.3 742.5h0M621.9 743.3h0M505 713.2h0M503.9 724.9h0M574.2 730.6h0M506.9 729.1h0M510.7 754.2h0M595.6 729.6h0M536.9 699.9h0M563.8 749.7h0M475.2 748.5h0M478.2 723.8h0M552.1 741h0M593.7 720.2h0M521.9 718.6h0M601.4 755h0M588.3 746.4h0M587.9 729h0M615.1 755.1h0M538.1 771.3h0M575.7 715.7h0M625 740.2h0M572.4 745.9h0M588.8 731.4h0M536.1 754.2h0M539.6 739.3h0M579.6 727.4h0M483.9 756.1h0M505.5 737.1h0M536.3 723.9h0M552.8 737.5h0M532.9 713.6h0M573.3 713.8h0M606.9 735.9h0M539.5 750.5h0M576.3 742.5h0M573.4 715.1h0M541.1 737.5h0M561.1 717.7h0M518.6 715.9h0M577.8 763.5h0M537.9 713.9h0M519.6 752.6h0M600 731.9h0M476.8 748.9h0M568.9 716.6h0M502.1 741h0M506.8 729.9h0M551.1 755.1h0M497 735.1h0M536.7 699.9h0M496.9 755.9h0M597 727.8h0M502.1 713.3h0M487.4 737.8h0M518 704.2h0M514.5 718.9h0M513 736.9h0M485 724.7h0M612.8 733.3h0M577.5 744.4h0M596.8 750.3h0M536.4 703.9h0M591.2 732.6h0M476.3 750.6h0M572.3 758.2h0M604.1 765.1h0M583.2 716.2h0M484.3 754.2h0M522.7 712h0M605 757.5h0M548.2 775.2h0M543.9 756.6h0M558.1 722.5h0M615.4 747.9h0M521.1 699.8h0M512.4 751h0M524.1 711.6h0M522.4 745.9h0M559.5 719.3h0M517.3 709.2h0M488.9 739.7h0M542.7 743h0M486.5 735.2h0M529 710.9h0M484.5 755.2h0M585.1 738.6h0M534.3 741.8h0M489.8 741.8h0M540.6 720.3h0M601 720h0M502.9 710.1h0M600.9 753.3h0M552 715.3h0M511.8 760.1h0M588.1 742.4h0M556.7 714.8h0M556.3 742.2h0M554.2 724.1h0M580.4 720.3h0M494.6 735.1h0M555.2 752.1h0M522.9 713.3h0M622.1 743.7h0M490.9 742.5h0M573.2 712.5h0M560.5 725.5h0M507.9 752.6h0M584.6 746.3h0M539.7 756.1h0M526.3 713.4h0M478 753.7h0M578.2 733.3h0M535.8 714.7h0M556 743.9h0M519.6 749.1h0M599.7 713.1h0M565.7 713.5h0M521.1 702.8h0M537.1 710h0M487.4 732.9h0M517 724.9h0M579.3 749.9h0M553.8 755.3h0M539.9 744.4h0M487.8 721.1h0M533.7 757.6h0M521 720.9h0M586.9 744.4h0M593.4 737.5h0M547.1 713.4h0M606.1 742.1h0M575.1 762.9h0M507.1 707.5h0M617.5 746.7h0M591.3 712.7h0M593.9 737.5h0M561.3 763.4h0M601.1 748.1h0M590.8 733.9h0M561.3 718.2h0M495.4 750.5h0M541.5 744.5h0M543.1 749.6h0M593.2 744.9h0M603.2 756.9h0M575.4 760.1h0M565.6 725.9h0M561 722.8h0M565.8 714.2h0M526.3 726.2h0M588 744.4h0M489.6 741.8h0M520.2 734.7h0M547.8 745.5h0M574.2 745h0M562.6 706.9h0M594.4 722.4h0M509.1 754.2h0M492.8 742.6h0M585.5 733.9h0M569.3 722.2h0M535.8 735.4h0M558.3 743.4h0M612.5 757.8h0M541 737h0M487.7 756.7h0M501.9 766.8h0M561.4 730h0M493.7 719.3h0M537.7 710.1h0M576.4 756.9h0M606.7 744.6h0M585.1 720h0M538.8 752.9h0M545.8 752.2h0M541.3 722.8h0M492.8 752.5h0M596.4 763.5h0M546 755.5h0M543.4 727.3h0M585.7 728.1h0M478.8 750.7h0M488.1 760.4h0M514.8 736.2h0M580.6 711.8h0M488.1 725.1h0M564.6 725.8h0M625.3 741.4h0M555 759.9h0M502.5 748.6h0M548.1 761h0M596.9 748.8h0M521.5 747.8h0M538.2 704.8h0M571.8 731.5h0M574.1 714.1h0M556.5 765.6h0M472.1 747.1h0M510.5 737.4h0M528.1 715.6h0M588.4 754.2h0M547 746.7h0M512.2 751.4h0M544.4 736.6h0M492 731.6h0M566.6 721.8h0M568.9 721.9h0M503.2 725.5h0M581.7 719.2h0M487.6 727.2h0M524.3 731h0M551.5 762.7h0M534.9 724.5h0M526.4 746h0M489.4 755.9h0M590.6 721.8h0M559.7 757.5h0M612.2 759.3h0M624.8 737.4h0M556.9 761.8h0M548.7 741.4h0M502.4 768.5h0M509.2 738.7h0M546.7 754.4h0M595.8 752h0M581.2 714.5h0M538.8 752.3h0M620.3 742.2h0M523.4 743.2h0M619.8 746.7h0M573.1 754.9h0M578.2 726h0M513.2 713h0M555.3 743h0M539.8 706.7h0M548.4 705.3h0M488.4 723.7h0M558.9 755.7h0M554.1 738.6h0M618.4 737.1h0M510.7 763.4h0M538.7 736.7h0M615.8 734.2h0M589.6 757.9h0M586.9 743.3h0M590.5 765.3h0M577.8 756h0M539.2 723.2h0M607 732.4h0M528.8 743.3h0M600.3 758.8h0M574.2 759.9h0M578.4 740h0M574.4 731.8h0M532.9 769.7h0M551.6 772.5h0M550.9 732.3h0M493.9 713.5h0M610 737.9h0M584.1 743.5h0M491.2 734.3h0M593.8 765.5h0M539.2 742.8h0M544.4 719.6h0M540.4 746.8h0M560.8 752.9h0M618.1 735.8h0M508.7 742.8h0M560.9 757.1h0M588.3 727.1h0M483.7 725h0M498.3 730.4h0M510.9 755.7h0M601 747.7h0M523.3 696.9h0M544.7 755.8h0M597.4 726.7h0M545.6 742.7h0M560.4 718.3h0M502.3 765.3h0M545.4 772.1h0M569.1 716.9h0M593.9 724.5h0M561.3 758.1h0M561.9 726.2h0M500.3 729.1h0M549.3 721.7h0M518.5 748.2h0M522.9 717.4h0M590.7 751.4h0M613 755.5h0M552.6 734.5h0M500.9 758.7h0M567.1 761.6h0M534.1 732.9h0M488.2 757.4h0M547.3 728.3h0M514.8 747h0M576.2 717.2h0M584.9 717.3h0M491.5 726h0M613.9 739.9h0M588.6 717h0M585.7 736.6h0M522.7 736.1h0M527.4 693.5h0M611.3 741.6h0M597.2 740.4h0M525.3 739.4h0M595.7 755.1h0M493.7 725.7h0M578 764.2h0M530.5 728.7h0M492.5 747h0M524.7 749h0M473.8 731.8h0M566.1 715.6h0M492.5 717.6h0M543.5 711.5h0M505.1 766.3h0M541 719h0M520.9 728h0M507.3 748.6h0M481.4 724.9h0M522.7 736.1h0M491.6 746.8h0M483 754h0M494.3 742.2h0M541.9 722h0M507.4 763h0M627.1 738.5h0M507.3 722.8h0M553.9 712.2h0M600.8 748.2h0M588.4 738.4h0M604.3 749.6h0M594.1 724h0M557.3 728.4h0M584.3 755.3h0M578.7 748.1h0M482.5 755.5h0M533.2 733.3h0M507.1 733.6h0M594 729.4h0M519.7 720.8h0M555.4 715.2h0M478 749.9h0M497.1 732.8h0M607.5 749.7h0M517.3 738.1h0M569.7 717.9h0M566.4 753.5h0M573.6 716h0M587.8 764.1h0M561.1 726.6h0M619 742.4h0M537.9 737.4h0M576.1 743.4h0M548.8 758h0M513.9 734.6h0M545.1 735.7h0M495.5 721h0M484.3 764.6h0M552 767.3h0M593 751.6h0M588.3 729.8h0M511.1 724.1h0M617.5 747h0M492.9 723.7h0M600.4 752.8h0M556.1 711.3h0M599.4 735.5h0M591.3 726.7h0M483.3 754.4h0M612.4 746.6h0M601.6 752.5h0M593.6 766.3h0M583.7 751.3h0M584.9 740.4h0M609.2 746.3h0M504.6 747.9h0M612.7 724.1h0M624.2 748.2h0M519.9 725.1h0M507.6 714.3h0M579.5 735.7h0M537.1 776.8h0M534.2 724.1h0M588.3 747.4h0M606.6 734.3h0M602.7 760.9h0M541.9 747.2h0M497.3 728.1h0M503.1 764.7h0M609 727.9h0M544 736.4h0M511.4 717.6h0M599.1 753.9h0M506.1 730.2h0M485.1 720.7h0M608.9 727.6h0M591.5 740.9h0M553.2 765.3h0M601.5 731.5h0M588.1 717.2h0M574.9 761.3h0M510.1 765.3h0M609.1 731.7h0M568.9 756.4h0M503.3 722.9h0M589.3 734.5h0M536.7 708.8h0M500.7 736.3h0M490.4 716.2h0M569.2 763.2h0M577.6 712.2h0M515.1 731h0M610.2 721h0M618.7 749.3h0M485.9 757.4h0M608.1 752.6h0M561.4 710.9h0M595.7 762.2h0M494.7 747h0M596.8 727.7h0M502.5 748.5h0M593.9 760.2h0M534.6 705.8h0M527.2 739.5h0M500.5 750.4h0M588.7 749.1h0M489.8 747.5h0M575.6 765.3h0M590.4 756.8h0M529.4 741.8h0M528.9 714.8h0M489.2 727.8h0M512.1 765.2h0M481.9 752.6h0M578.4 728.8h0M507 755.1h0M584.7 735.4h0M580.8 748.9h0M559 753.7h0M518.1 724.1h0M621.5 744.6h0M562.5 719.3h0M488.3 740h0M596.6 748h0M624 737.1h0M610.5 739.6h0M508.5 727.6h0M506.8 706.7h0M516.8 741.7h0M578.2 731.8h0M592.1 757.9h0M512.1 765.1h0M526.2 712.1h0M503.6 746h0M505.3 751.8h0M503 712.1h0M496.3 751.5h0M532.9 769.7h0M492.5 748.2h0M479 756.1h0M555.2 756.7h0M533.9 740.3h0M534.9 763.4h0M572.6 715h0M538.7 722.9h0M590.1 734.1h0M571.9 727.9h0M485 731.8h0M502 726.6h0M578 723.5h0M512.3 728.8h0M614.5 738h0M504.6 759.4h0M548.6 716.4h0M536.3 738.1h0M568.3 700.1h0M535.9 745.2h0M522.5 694.7h0M524.3 714.5h0M552.8 741.9h0M601.1 759.9h0M571.9 720.6h0M499.5 756.9h0M492.8 727h0M495.8 745.5h0M548.5 749.4h0M521.4 740.1h0M571.5 727h0M588.5 739.3h0M618.5 756.1h0M621.5 744h0M574.9 762.7h0M566.4 732.7h0M486.4 721.8h0M552.8 734.2h0M483.4 745.4h0M540.6 734.2h0M550.7 715.4h0M619.7 741.7h0M545 733.2h0M529.2 732.8h0M594.9 747.1h0M488.5 716.7h0M567 707.4h0M520.6 735.9h0M548 744.1h0M578.8 751.4h0M533.7 705.3h0M609.3 738.1h0M485.9 729.1h0M546.7 722.8h0M543.6 753.6h0M540.9 740.5h0M534.4 727.5h0M542.4 725.5h0M564.2 723.2h0M522.6 718.5h0M578.7 713.6h0M618.3 734.8h0M509.6 750.7h0M528.7 741.6h0M586.3 732.8h0M516.5 745.9h0M500.6 721.4h0M580.7 750.6h0M534.4 765.1h0M509.5 737.9h0M493.9 768.1h0M552.4 725.2h0M536.2 757.6h0M480.1 744.3h0M535.7 762.5h0M496.5 738.3h0M585.2 717.3h0M564.6 712h0M498.9 748.8h0M540.9 742.6h0M512 748h0M594.9 752.3h0M603.8 755.1h0M553.8 727.9h0M595.5 750.9h0M601.8 730.5h0M549.2 759.1h0M477.1 757h0M603.8 757.2h0M539.6 753h0M592.9 739.7h0M503.7 712.9h0M501.3 724.1h0M509.4 736.6h0M535.2 770h0M541.7 741.2h0M525.6 750.4h0M595.4 738.2h0M557.3 750.5h0M519.1 736.3h0M539 731.2h0M475.4 737.2h0M511.6 744h0M567.1 726.1h0M475.7 749.9h0M541.6 775.5h0M534.9 751.2h0M537 760.7h0M579.2 756.5h0M527.6 730.4h0M521.5 730.9h0M569.5 709.7h0M584.4 726.8h0M499.2 753.9h0M565.8 752.2h0M595.8 761.3h0M534 722.1h0M573.2 724.9h0M505.6 746.4h0M483 720.4h0M532.1 747.8h0M512.7 714.1h0M560.9 717.4h0M552.1 721.3h0M607.4 763h0M536.5 743.7h0M608.9 761.8h0M507.6 723.5h0M538.8 712.5h0M470.1 739.6h0M498.6 719.7h0M545.1 771.6h0M579.2 726.8h0M477.1 748.7h0M493.5 727.6h0M503.2 723.1h0M505.1 738.2h0M624 740.2h0M520.2 756.9h0M497.4 732h0M596.3 764.8h0M585.1 717.2h0M553.1 747.7h0M533.8 774.7h0M526.2 718.3h0M539.7 722.7h0M604.4 738.8h0M506.8 752.9h0M570.4 719.5h0M551.8 736.1h0M506.8 730.7h0M570.1 758.5h0M599.8 746.9h0M565.3 756.7h0M568.8 735.3h0M481.5 747.7h0M534.5 733h0M494.9 718.1h0M570.9 761.8h0M493.5 743h0M617.9 744.1h0M478.1 723.8h0M557.9 740.6h0M625.6 744.6h0M509.4 732.5h0M475 735.5h0M535.6 750h0M620.5 739.3h0M589.7 726h0M555.8 752.3h0M486.2 748h0M611.9 732.4h0M478.2 725h0M495.6 731.6h0M597.5 749.5h0M495.6 721.3h0M537.6 743.4h0M548.1 713.5h0M522.3 696.9h0M575.1 756.3h0M586.6 749.2h0M607.6 717.9h0M512 758.3h0M552 750h0M536.6 756.1h0M558.3 754.8h0M598.4 746.9h0M594.4 718h0M587.1 733.1h0M612.3 724h0M513.4 718.3h0M533.9 753h0M473.9 746.2h0M541.1 747.4h0M547.1 747.3h0M563.7 725.9h0M542.4 748h0M544.3 744.6h0M590.7 717.1h0M614.7 730.8h0M605.7 751.6h0M490.6 758.7h0M587.8 741.3h0M520.3 718.2h0M570.5 750.5h0M502.7 741.3h0M586.8 761.8h0M521.7 718.1h0M571.8 713.8h0M488.7 735h0M513.5 735.1h0M591.4 739.2h0M592.3 765.9h0M553.1 732.3h0M594 720.9h0M600.8 749.3h0M597.2 766.7h0M603.9 727.8h0M567.4 717.3h0M489.4 732.8h0M560.1 744.5h0M586.2 736.1h0M502.9 754.5h0M555.4 725.3h0M558.9 711.7h0M611.6 730.7h0M517.8 734.2h0M515.1 725.5h0M474.3 733.5h0M553.2 731.3h0M541.2 721.8h0M548.6 724.7h0M548.5 715.1h0M473.7 752.4h0M591 751.2h0M528.8 728.8h0M532.1 715h0M600.6 732.2h0M480.1 732.1h0M591.4 712.6h0M518 710.9h0M481.7 754.9h0M574.8 755.1h0M515.7 711.7h0M489.9 741.3h0M593.5 755.1h0M579.1 734.4h0M579.3 742.2h0M542.6 753.5h0M498.7 768.1h0M624.4 738.2h0M485.6 757.8h0M577.8 732.6h0M604.8 753.1h0M475.7 751.6h0M502.8 730.1h0M560.2 703.4h0M507 753.4h0M575.5 751.2h0M491.8 719.8h0M480.6 725.6h0M505.1 749.4h0M537.3 714.3h0M488.6 736.9h0M551.9 749.5h0M556.8 754.6h0M607.4 749.1h0M491.8 750.1h0M495.4 756.4h0M579.8 718.3h0M546.7 761.3h0M587.4 727.7h0M535.5 776.1h0M613.5 732.8h0M554.2 753.9h0M612.1 725.8h0M483.6 720h0M491.8 758h0M581.4 760.7h0M486.2 727.8h0M587.1 763.3h0M624.9 750.1h0M484.9 720h0M575.3 709.3h0M607.2 738.6h0M541.4 774.9h0M538.2 724.4h0M543.7 720.3h0M476.4 756.8h0M490.2 754.6h0M573.7 715h0M586 747.5h0M578.2 740.4h0M597.3 759.7h0M554.4 727.8h0M490.2 739.9h0M539.9 745.4h0M500.9 733.6h0M483.5 754.9h0M475.7 757.2h0M547 722.7h0M508.4 728.5h0M495.8 725.3h0M539.1 709.2h0M604.8 729.1h0M513.4 734.8h0M508 752h0M609.9 754.7h0M491 713.9h0M506.4 736.4h0M497.4 725.9h0M586.3 762.3h0M578.2 748.2h0M568.7 708.2h0M510.8 721h0M469.4 738.8h0M561.1 734.3h0M597.2 714.6h0M604.7 726.2h0M552.1 720.7h0M561.6 748.5h0M598.4 763h0M476.3 751.5h0M542 711.4h0M516.7 714.7h0M498.9 715.5h0M506.6 767.3h0M597.9 759.8h0M539.3 704.4h0M550.2 748.4h0M505.4 749.7h0M505.7 750.4h0M611.1 734.6h0M587.5 750.5h0M600 744.5h0M547.8 765.1h0M537.9 714.9h0M577.6 748.7h0M514.1 729.5h0M488.9 743h0M498 748.6h0M534.5 751.9h0M614.2 753.2h0M568.1 719h0M565 759h0M539.7 715h0M562.6 755.3h0M485.9 742.4h0M607.2 764.6h0M550.7 715.9h0M517.1 744.6h0M584 745.3h0M587.9 713.1h0M550.8 762h0M586.5 726h0M496.9 731.7h0M505.8 718h0M506.1 759.7h0M509.1 711.4h0M549.5 739.9h0M614.1 745h0M502.7 719h0M600.6 763.2h0M551.4 718.6h0M494.1 720.6h0M538.1 718.5h0M479.9 752.7h0M600.8 720.2h0M595.2 726.1h0M588.7 739.1h0M590.7 754.4h0M506 734.5h0M582.6 712.2h0M565 736.6h0M524.2 741.2h0M512.8 722.7h0M492.9 758.6h0M599.6 723.7h0M494.8 725.4h0M599.1 716.6h0M607.5 754.9h0M600.9 723.6h0M561.4 759.6h0M573.9 707.6h0M553 718.5h0M585.9 741.7h0M626.1 747h0M595.9 762h0M616.2 748.6h0M592.2 737.8h0M589.3 751.6h0M481 758.8h0M582.3 726h0M580.8 721.8h0M572.5 764.5h0M580.5 746.3h0M494.1 732.7h0M523.2 732.6h0M544.5 748.8h0M496.5 747.7h0M536.5 775.2h0M481.1 725.5h0M583.4 734.1h0M593.8 756h0M551.2 767.8h0M549.5 715.1h0M627.2 742.9h0M543.7 752.6h0M549.5 714.9h0M472.8 740.8h0M535.1 723.1h0M619.4 733.8h0M617.6 758.1h0M591.6 754.5h0M611.6 734.6h0M497.4 722.2h0M477.8 729.9h0M510.9 747.7h0M605.9 747.9h0M612.7 731.7h0M507 743.4h0M558.4 752.9h0M483.4 720h0M529 714.1h0M611.6 736h0M557.3 707.8h0M619.7 734.4h0M581.3 738.6h0M532.6 738.5h0M611.4 747.9h0M597.4 723.1h0M566.5 716.4h0M578.3 714.1h0M556.8 751.2h0M549 735.3h0M589.1 745.9h0M554.3 750h0M570.8 751h0M494 729.1h0M518.7 734.4h0M554.3 748.1h0M581.3 726.4h0M531.5 743.9h0M559.1 724.8h0M596.3 728.6h0M576.4 738.8h0M527.3 744.1h0M538.7 709.5h0M572.3 761.6h0M593.5 755.3h0M585 711.8h0M552.7 765.4h0M492.5 728.9h0M479.4 749.2h0M482 726.8h0M540.3 712.4h0M599.8 764.4h0M594 748.5h0M532.6 717.2h0M535.1 736.5h0M566.5 762.3h0M566.7 712.6h0M579.4 722.4h0M580.3 718.2h0M525.2 734.2h0M555.5 746.9h0M618.4 735.5h0M563.3 715h0M553.9 755.2h0M523.8 736.1h0M551.1 739.4h0M502.8 762.9h0M512.5 757.4h0M557.5 755.3h0M519.2 728.3h0M471.8 733h0M493.1 741.3h0M563.8 713.8h0M564.9 723.6h0M607.6 760.9h0M545.4 758.5h0M578.2 742.5h0M486.4 734.8h0M555.7 768.2h0M476.3 757.8h0M532.6 753h0M504.8 744.9h0M578.9 753.9h0M541.3 767.9h0M612.4 758.2h0M497.6 748.6h0M559.5 761.5h0M531.8 745.2h0M482.3 763.3h0M512.9 709h0M531 746.8h0M565.2 748.8h0M528.1 748.1h0M542.7 744.4h0M562.1 721.5h0M499.4 734.6h0M538.3 735.6h0M586.4 726.1h0M621.2 739.7h0M569.8 761.1h0M554.3 745.8h0M548.8 755.1h0M607.7 753.1h0M576.5 746.8h0M587.2 753.5h0M545.6 741h0M521.8 744.7h0M493.3 749.9h0M529.7 750.3h0M525 737.1h0M601.9 764.9h0M489.2 754.5h0M613.1 735.6h0M593.1 715.8h0M586.3 743.2h0M583.1 759h0M593.8 733.6h0M594.4 727.8h0M610.5 745.1h0M474.3 732.7h0M522.9 732.2h0M568.4 744.3h0M586 748.8h0M564.3 763.2h0M578.1 724.9h0M524.7 737h0M493.3 740.6h0M586.7 763.7h0M484.4 735.5h0M583.6 748.4h0M525.1 721.8h0M511.1 716.5h0M511.6 743.1h0M597.6 730.2h0M549.4 747.2h0M543.2 764h0M504.6 760.2h0M554.1 746.1h0M612.2 757.9h0M538.1 743.6h0M523.1 696.8h0M559.4 760.2h0M515.6 731.6h0M595.2 740.7h0M580 759.8h0M579.9 754.8h0M510.6 763.6h0M483.3 752h0M613.7 737.6h0M618.2 733.2h0M601.4 720.3h0M603.1 747h0M483.1 752.3h0M546.8 713.3h0M532.2 756.9h0M593 761.5h0M538 712.5h0M508.6 711h0M500.5 754.6h0M588.2 735.2h0M571.4 720.3h0M618 746.7h0M507 736.2h0M567.2 720.8h0M522.3 731.1h0M605 764.1h0M533.2 759.6h0M545.8 719h0M553.9 720.1h0M556.1 734.1h0M506.4 740.6h0M532.8 745.4h0M510.9 729.7h0M613.1 732.5h0M549 724.5h0M554.8 771.4h0M547.8 765.9h0M599.5 754.6h0M481.5 739.6h0M591.1 725.2h0M594.8 727.8h0M607.5 733.3h0M579.9 710.7h0M502.9 727.6h0M586.3 725h0M528.5 739.6h0M575.3 720.8h0M519.5 741.5h0M566.8 716.5h0M491.2 736.1h0M496 755.1h0M488.4 715.3h0M537.7 764.6h0M533.3 734.9h0M577.9 720.9h0M600.8 721.3h0M472.4 744.6h0M510.9 759.6h0M583.1 728.6h0M562.5 702.4h0M511.1 724.5h0M613.5 732.4h0M543.5 770h0M619.7 736.3h0M488.3 753.7h0M535.5 710.9h0M495.4 717.5h0M555.6 745.6h0M567.1 761.2h0M519 714.3h0M577.8 709.7h0M543.1 771.3h0M475.9 755.1h0M588.4 726.6h0M616.2 753.9h0M619.4 743.2h0M563.6 747.8h0M610.7 739.2h0M579.7 741.9h0M626.3 746.2h0M627.4 743h0M615 758.7h0M576.7 743.3h0M594.7 728.3h0M510.5 737.2h0M611.7 724h0M594.2 741.1h0M594.1 766.3h0M533.6 748.4h0M526.3 718.1h0M556.7 758.9h0M589.7 765.9h0M541.3 718h0M587.4 753.6h0M579.7 706.7h0M542.5 748.2h0M584.5 743.4h0M549.8 754.7h0M519.7 710.8h0M534.8 736.1h0M556.6 734.7h0M495.5 751.6h0M493.9 717.2h0M483.7 756.9h0M601.4 743.2h0M568.9 749.8h0M591.2 759.1h0M556.3 722.8h0M546.1 718.5h0M591 738.2h0M550.9 767.9h0M481.2 751h0M595.8 756.9h0M522.1 712.3h0M509.3 753.4h0M535.7 734.1h0M532.8 741h0M602.9 725.8h0M576.5 715.6h0M559.4 744.9h0M475.2 742.9h0M486.9 752.2h0M549.9 763.6h0M534.8 752.8h0M518.8 725.2h0M533.3 712h0M516.2 725.5h0M500.7 711.7h0M476.7 753.8h0M622.8 751h0M505.5 755.1h0M612.5 729.2h0M592 728.8h0M563.7 751.5h0M518 739.7h0M509.3 731.2h0M522.2 755.6h0M574.9 743.7h0M495.3 756.8h0M580.3 751.8h0M546.9 732.4h0M567.5 723.4h0M570 743.9h0M612.5 752.4h0M533.6 729.2h0M607.3 744.1h0M563.5 723.4h0M523 719h0M563 720.2h0M503.2 754.9h0M497 727.2h0M506 764.7h0M489.1 744.7h0M489.8 739.9h0M557.5 749.8h0M523.6 725.9h0M600.2 739.5h0M605.2 742.3h0M555.5 727.3h0M582.3 718.8h0M527.8 726h0M558.4 744.6h0M538.4 716.5h0M556.4 733.4h0M480.8 760.6h0M532.9 769.7h0M586.5 753.5h0M501 753.3h0M581 725.1h0M563.8 720.1h0M616.5 752.8h0M519.3 708h0M512.7 740h0M542.3 775.3h0M562.7 708.7h0M544.3 753.5h0M491.6 726.9h0M608 750.4h0M549.1 717.4h0M564.6 751.7h0M620.2 743.9h0M492.7 759.3h0M528.9 731.9h0M550.1 766.2h0M591.6 726.4h0M538.3 762.6h0M536.2 735.9h0M482 749.2h0M527.9 721.7h0M592.7 738.5h0M524.5 722.2h0M600.2 724.4h0M524.4 734.2h0M495.9 718.2h0M514.9 738.4h0M534.6 742.9h0M566.7 723.6h0M604.2 757.8h0M572 759h0M574.8 714.6h0M479 741.8h0M539.6 722.2h0M608.5 727.2h0M499.1 733h0M525.6 693.9h0M591.7 766.3h0M481.5 751.6h0M488.9 758.6h0M547.1 754.6h0M530.5 715.5h0M526.1 716.5h0M613.5 737.1h0M535.5 751.8h0M486.8 736.2h0M559.8 746.3h0M534.8 746.8h0M495.4 720.3h0M501.2 719.7h0M507.9 752.8h0M545.5 747.8h0M544.5 767.4h0M552.3 744.5h0M561.5 719.1h0M543 741.3h0M551.7 733.3h0M507.1 735.3h0M491.1 731.1h0M559.3 715.5h0M533.6 718h0M564.2 717.9h0M522.5 722.1h0M486.9 737.3h0M551.4 725.3h0M511.8 713.9h0M543.8 724.2h0M548.3 742.3h0M590.6 725.9h0M510.3 714.1h0M542.2 736h0M553.3 727.3h0M604.4 748.4h0M564.5 716.2h0M498.3 756.4h0M525.1 738h0M543.5 727.7h0M600 762.2h0M526.9 743.7h0M494.6 721.9h0M594.1 724.4h0M532.2 741.7h0M573.3 756.8h0M489 756.7h0M496.3 723.8h0M499.4 733.6h0M589.3 741.1h0M590.2 732.1h0M548.3 742h0M480.8 727.1h0M625.6 737.3h0M514.1 755.7h0M555.7 727h0M604 757.9h0M494.9 725.8h0M614.4 750.5h0M485.1 742.1h0M544.6 745.8h0M596 756.3h0M527.5 718.8h0M541.6 734.4h0M516.7 732.5h0M600.1 732.2h0M544.9 765.3h0M593.2 707h0M575.8 765.3h0M518.9 719.8h0M529.2 741.8h0M508 736.5h0M527.1 744.1h0M477 754.6h0M495.9 746.1h0M569.3 759.2h0M622.6 742.2h0M588.6 754.4h0M586.4 721.1h0M512.7 717.5h0M487.8 759h0M607.5 733.6h0M485.7 731.4h0M617.4 755.9h0M513.7 748.9h0M545.8 735.8h0M570.4 762.5h0M501.6 741.1h0M558 741.4h0M595.8 727.3h0M624 741.3h0M495.8 746.9h0M540.8 712.1h0M502 749.5h0M529.7 711.2h0M483.6 746.6h0M513.6 748.9h0M492.2 718.4h0M565.4 721.1h0M497.6 748.3h0M614.3 739.6h0M506.4 715.7h0M493.4 728.9h0M522.3 737.8h0M610.9 758.2h0M527.3 738.3h0M553.4 742.3h0M543.5 736.1h0M508.3 754.2h0M600.8 756.3h0M592.2 755.8h0M520.1 747.5h0M541.1 745.4h0M600.8 711.6h0M512.1 742.8h0M498.3 743.5h0M505 757.6h0M568.5 744.2h0M491.8 756.5h0M602.2 730.5h0M625 738.9h0M544.9 732.2h0M538.5 739.8h0M527 717.4h0M589.1 717.9h0M577.4 760.3h0M608.9 761.3h0M547.9 712.5h0M501.3 746.5h0M513.2 734h0M563.6 717.9h0M529.1 746.2h0M512.1 759.1h0M497.6 750h0M469 747.6h0M543.1 719.3h0M477.6 731.7h0M555.4 756.9h0M565.4 737.6h0M486.3 739.7h0M532.3 737.2h0M520.1 722.2h0M567.9 713.3h0M577.4 745.6h0M539.4 773.2h0M541.7 770.4h0M510.5 758.3h0M555.6 728.1h0M488.6 754.9h0M575.7 704.9h0M483.1 722.7h0M516.5 730.4h0M600.6 721.9h0M555.9 749.6h0M620 742.2h0M558.6 718.4h0M550.3 722.6h0M496.6 759h0M584.4 717.1h0M591.2 760.2h0M495 731h0M552.6 706.4h0M590.5 739.5h0M542.6 750h0M536.8 729.2h0M583 712.9h0M609.9 745.3h0M500.3 746.3h0M589.5 753.6h0M525.8 713.7h0M572.5 755.8h0M563.1 717.3h0M510.8 765.6h0M582.5 758.4h0M618.5 748.8h0M547.2 735.7h0M545.8 707.1h0M595.6 744.4h0M593.8 745.8h0M562 738.4h0M561.8 711h0M506.9 738.8h0M491.1 724.4h0M508.4 720.5h0M578.8 722.2h0M514.1 724.8h0M495.2 748.6h0M581.4 744.9h0M583.8 718.5h0M552.3 741.7h0M572 749.6h0M594.7 753h0M590.1 733.3h0M586.4 754.7h0M530.2 745.5h0M570.9 752.5h0M580.8 740.7h0M500.8 726.6h0M494.4 723.6h0M542 751.2h0M489.7 750.9h0M534.8 728.7h0M614 730.1h0M505.5 743.4h0M541.2 742h0M531.6 746.4h0M508.6 761.9h0M509.6 759h0M564.8 714.7h0M604.4 751.5h0M545.4 740.3h0M497.3 753.3h0M550.9 741.5h0M471.3 751.4h0M584.6 756.6h0M548 737.4h0M580.4 757.6h0M492.8 758.4h0M510.7 763.9h0M597.2 726.7h0M542.5 733.7h0M623.2 742.5h0M594.5 763.1h0M598.2 732h0M547.9 773.8h0M523.3 737.1h0M562 707.1h0M486.8 717.9h0M528.1 727.1h0M543.7 720.5h0M552.3 714h0M545.1 746.8h0M515.1 732h0M554.7 756.1h0M505.2 748.1h0M529.4 744.9h0M511.1 752.3h0M538 717.3h0M596.6 733.4h0M606.8 755.8h0M496 739.1h0M511.6 725.2h0M551.6 760.6h0M581.5 727.8h0M578.1 754.5h0M534.8 716.7h0M608.2 743.3h0M494.7 757.8h0M495.9 737.9h0M474.1 748.5h0M602.7 748.5h0M537.3 745.3h0M492.3 751.7h0M588.8 767.2h0M625.2 748.9h0M605.3 725.7h0M590 752.9h0M545.6 753h0M551.6 726.9h0M556 754.8h0M564.9 722.9h0M574.7 741.9h0M513.8 740.4h0M537.5 737.8h0M481.1 754.7h0M538.7 774.1h0M618.4 751.7h0M534.9 738.6h0M584.3 717.5h0M499.5 715h0M476.7 737.9h0M568.3 723.6h0M577 743.7h0M537.5 726.6h0M534.1 731.7h0M504.7 722.9h0M512.6 740h0M608.1 738.1h0M524.5 752.4h0M587.9 735.6h0M622 738.4h0M547.3 745.4h0M625.1 742.5h0M556.2 727.4h0M496.8 729.7h0M566.2 725.5h0M514.7 732.5h0M522.2 747.8h0M540.1 735.3h0M535.5 726.1h0M575.7 736.7h0M574.6 755.4h0M540.7 755.8h0M624 740.2h0M524.4 729.1h0M550.2 744.2h0M558.3 720.6h0M549.3 739.3h0M590.4 735.4h0M471.2 737.3h0M624.9 738h0M579.2 713.7h0M598.9 752.3h0M557.7 751.9h0M549.6 768.5h0M616.2 750.3h0M611.4 740.4h0M567.2 758h0M612.7 730h0M579 764h0M590.5 767.1h0M579.8 705.6h0M574.2 740h0M493.7 759.5h0M546 746.8h0M486.1 733.1h0M598.2 762.5h0M553.3 713.7h0M512.4 745h0M513.7 731.9h0M486.2 756.4h0M473.5 730.3h0M499.8 730h0M602.9 747.9h0M552.9 750.5h0M492.5 740.6h0M614.6 737.3h0M605.3 732.2h0M567.5 712.3h0M534.7 756.3h0M612.2 755.9h0M576.3 715.2h0M536.5 717.4h0M471 744h0M559.4 711.6h0M507.4 729.4h0M488.5 743.9h0M495 757.1h0M551.1 718.4h0M479.1 759.6h0M559.3 755.2h0M557.2 714.2h0M544.7 732.2h0M579.5 715.2h0M584.6 764.3h0M611.1 729.7h0M537.2 745.3h0M563.3 762.9h0M480.6 724.3h0M487.7 728.2h0M547.7 735.1h0M540.7 725.4h0M541.1 723.5h0M573.9 726.5h0M580.8 766h0M504.9 748.1h0M476.1 757.4h0M611.3 727.6h0M501.1 727.2h0M482.3 755.5h0M555.1 755h0M484.7 739.3h0M552.3 714.4h0M569.7 757.5h0M604.1 752h0M495.3 716.4h0M614.2 725.9h0M489.7 752.6h0M602 764.3h0M590.1 759.2h0M549.5 716.9h0M548.1 714.6h0M585.2 763.2h0M567.1 755.7h0M544.5 748.4h0M494.3 736.3h0M547.3 723.5h0M487.9 742h0M586.9 716.9h0M478.3 734h0M576.5 709.3h0M576.9 753.4h0M538.5 725.7h0M555.9 726.2h0M592.4 729.2h0M599.3 754.1h0M575.8 735.2h0M584.6 751.3h0M551.2 713.8h0M590.9 728.8h0M579.4 743.7h0M507.5 730.4h0M523.2 748.5h0M607.9 755.8h0M488.2 758h0M524.9 739h0M495.9 746.9h0M580.9 717.9h0M582.4 710.4h0M487.5 728.5h0M471.1 752h0M584 710.4h0M513.5 733.7h0M572.3 753.6h0M612.4 742.6h0M594.3 720h0M543.3 724.7h0M613 756.1h0M548.4 748.5h0M585.8 733.5h0M589.8 731.3h0M472.8 743h0M570.8 745.3h0M552.8 763.5h0M490.6 721.9h0M494.7 730.6h0M521.9 711.4h0M531.1 743.6h0M571.8 710.5h0M512.8 727.9h0M539.3 746.7h0M574.7 715.1h0M562.3 754.6h0M563.2 706.2h0M588.8 718.8h0M477.8 754.9h0M614.6 745.4h0M508.5 746.7h0M507.1 740.2h0M538.3 702.9h0M477.7 739.7h0M570.8 751.1h0M605.1 738.5h0M568.9 750.3h0M563.9 706.1h0M601.3 739.5h0M563.4 747.4h0M492.5 730.2h0M554.6 744.4h0M622.6 736.9h0M500.3 765.1h0M609.9 763.2h0M490.8 746.2h0M519.8 748.8h0M585.6 752.3h0M545.8 757h0M591.3 730.5h0M594.7 755.9h0M581.7 719.9h0M575.4 751.4h0M544 733.8h0M488.9 766h0M587.8 734.8h0M604.6 752.6h0M503 767.3h0M589 765.1h0M540.2 711.8h0M562.7 760.3h0M611.9 723.5h0M588 718.5h0M549.9 746.3h0M608.8 721.6h0M539.5 754.9h0M609.1 738.2h0M578.2 714.6h0M570.3 712.3h0M613 742.5h0M573.4 722.2h0M501 742.9h0M505.4 754.1h0M553 754.2h0M613.4 740.9h0M620.2 754h0M604.6 747.7h0M484.5 755.4h0M613.4 730.6h0M560.8 747.5h0M570.2 729.7h0M603.8 751.8h0M515.6 718.1h0M622.6 734.9h0M621.1 734.2h0M571 719.1h0M587.1 760.1h0M520.4 746.3h0M582 720.4h0M565.1 705h0M550.7 720.2h0M617.3 750.4h0M493.8 737.1h0M619.7 755h0M617.9 738.4h0M539.2 719.9h0M483.4 721.9h0M496.7 727.5h0M539.6 737.7h0M506.2 761.6h0M594.9 742.7h0M567.1 725.2h0M549.6 763.6h0M516.8 741.8h0M587 738.9h0M533.6 750.6h0M511.9 710.6h0M579.4 721.5h0M509.4 766.6h0M512.6 714.6h0M574.6 720.4h0M501.6 764.3h0M507.7 745.7h0M585.6 717.8h0M479.7 732.9h0M586.8 755.3h0M541.3 718.8h0M545.4 744.3h0M561.7 741.5h0M624.3 745.1h0M585.5 765.8h0M585.2 740h0M583.2 742.5h0M489.2 758.8h0M595 759.6h0M585.2 766.9h0M581.3 750.6h0M608.6 761.6h0M532.1 772.4h0M556 756.9h0M613.7 746.5h0M542 713.8h0M527.3 723.3h0M552.4 751.1h0M556.9 714.3h0M502 768.4h0M539.2 747.8h0M563.5 731.3h0M522.2 733.2h0M495 755.5h0M487.2 760.7h0M572.3 747.1h0M559.7 725.1h0M570.8 744.7h0M567.3 707.2h0M547.6 736.9h0M579.3 746.2h0M546.8 752.8h0M585.9 731.2h0M570.3 708.8h0M574.3 728.7h0M477.5 747.7h0M617.3 731.8h0M552.1 712.6h0M554.5 758.8h0M592.3 730.4h0M589.3 721.4h0M623.5 748.1h0M542.3 724.7h0M505.2 728.5h0M487.5 722.9h0M537.1 739.9h0M626.5 744.3h0M534.2 748.7h0M505.3 761.5h0M573.1 716.8h0M564.9 759.6h0M600.2 729.5h0M544.2 727.3h0M542.5 769.2h0M504.2 745.9h0M557.4 714.2h0M575 719.8h0M546.7 728.7h0M610.9 739.3h0M534.1 754.2h0M592.7 713.6h0M557.8 746.8h0M555.4 740.8h0M624 741.6h0M486 727.8h0M484.4 725.7h0M580.7 762.4h0M485.6 755.7h0M589.4 738.1h0M516 744.6h0M488.1 751.9h0M537.8 722.4h0M622.7 748h0M564.3 755.8h0M578.4 721.8h0M519.2 733h0M485 756.4h0M584.7 723.8h0M576.9 735.9h0M614.4 731.2h0M520.4 738.6h0M583.3 753.7h0M495.7 731h0M500.7 716h0M612 752.7h0M612.4 733.1h0M534.4 772.9h0M507.3 759.5h0M589.8 729.8h0M564.5 726.5h0M521.6 741.5h0M553.6 729.9h0M550.7 755.3h0M616.3 734h0M490.6 729.6h0M600.7 722.7h0M508 709.7h0M604.7 715.8h0M512.6 731.4h0M539.1 749.7h0M578.4 748.7h0M580.4 758.5h0M585 723.2h0M515.5 723.5h0M593.8 762.2h0M570.8 714.1h0M614.5 749.9h0M599.9 757.2h0M517.9 735.7h0M507.7 751.5h0M537.2 769.4h0M575.9 762.9h0M471.2 739.9h0M590.5 730.8h0M581.1 754h0M519.3 749.4h0M605 756.2h0M616.9 748.6h0M618.5 755.6h0M530.9 741.8h0M577.9 726.4h0M579.7 752.4h0M504.2 768h0M573.2 722.2h0M571.5 719.5h0M520.2 724.4h0M587.6 748.9h0M550.7 728.1h0M619 744.2h0M535 719h0M550.2 764.8h0M513.2 712.6h0M539 749.1h0M537.3 764.6h0M576.8 723.5h0M597.8 733.8h0M539.8 752.8h0M549.6 705.1h0M471.8 736.3h0M606 748.5h0M505.9 748.2h0M554.8 729.3h0M578.3 732.6h0M615 736.5h0M530.9 716.2h0M590.9 743.3h0M548 715.4h0M516 733.2h0M597.1 721.7h0M586.8 748.8h0M485.4 741.9h0M519.5 705.7h0M554.9 755.9h0M551.3 741.6h0M509.5 732.5h0M554.9 724.3h0M538.4 732.7h0M515.1 740.1h0M544.7 775.1h0M486.6 724.9h0M581 715.5h0M529.2 720.9h0M610.3 732.7h0M531.6 736.1h0M512 720.7h0M616.1 750.8h0M485.9 757.2h0M496.8 712.9h0M597.9 728.7h0M548 747.1h0M590.5 735.4h0M545.4 764.1h0M494.2 753.7h0M554.9 744.4h0M596.5 766.3h0M471 745.4h0M540.2 776h0M581.5 764.9h0M524.2 730.9h0M537 762.5h0M601.5 763.7h0M523.3 726.4h0M582.2 740.2h0M529.6 740.6h0M489.9 767.1h0M562.9 723.8h0M597.7 752h0M503.4 708.6h0M497.2 742.4h0M616.8 736.2h0M592.1 736.2h0M623.3 741h0M597.8 751.8h0M560.2 729.9h0M546.6 763.2h0M505.2 744.1h0M529.5 717.4h0M510.2 753.5h0M586.5 714.2h0M603.4 755.3h0M571.3 723.1h0M536.1 773.9h0M561.4 704.4h0M612.8 759.6h0M506.7 738h0M547.2 733.3h0M499.4 744.6h0M500.1 729h0M528.2 733.8h0M494.6 731.4h0M585 726.1h0M470.7 735.8h0M488.8 727.9h0M548.5 721.7h0M607.8 753.1h0M580.4 747.7h0M480.5 760h0M519 717.6h0M478.3 733.8h0M515.3 711.4h0M520.4 730.8h0M569.4 709.9h0M576.1 726.2h0M564.2 761.3h0M534.5 712.1h0M576.1 761.5h0M587.9 754.9h0M591.4 724.2h0M486.8 753h0M557.5 739.6h0M566.9 761.4h0M575.4 716h0M593.4 761.6h0M544.3 727.6h0M581.6 746.2h0M499.7 729.7h0M472.4 753.8h0M519.3 739.2h0M494.3 730.5h0M510.2 710.8h0M530.8 729.6h0M566.6 747.2h0M572.5 731.8h0M624.7 743.7h0M596.7 731.6h0M571.1 726.9h0M591.4 749h0M495.1 757.1h0M529.3 708.6h0M485 759.3h0M534.4 711.8h0M563.7 713.4h0M511.7 736.7h0M501.8 764.5h0M504.3 729.7h0M526.4 738.8h0M617.8 742.8h0M600.8 752.2h0M500.5 729.2h0M504 761.9h0M473.2 729h0M506.4 765h0M585.2 759h0M519.1 740.1h0M551.8 752.4h0M511.3 757.3h0M566.4 740.8h0M476.5 751.7h0M588.3 762.4h0M594.1 735.5h0M529.4 754.6h0M594.1 759.8h0M549.5 732.6h0M577.9 735.5h0M594.3 722.3h0M596.6 762.8h0M528.9 717.5h0M532.2 732.9h0M603.5 747h0M475.4 754.6h0M538 756.2h0M490.9 728.1h0M520.1 701h0M556.3 702.8h0M540.8 743.1h0M566.5 746.2h0M523 741.3h0M546 776.5h0M526.8 711.9h0M549.9 710.3h0M582.5 763.6h0M523.2 746.9h0M624.8 743.6h0M503.3 739.8h0M510.9 748.8h0M535.2 738.3h0M479.5 749.2h0M567.9 743.4h0M590.7 725h0M614.7 755.3h0M500.1 756.7h0M503.1 716.6h0M590.8 722.6h0M592.9 755.2h0M530.3 727.7h0M505.2 751.6h0M604.5 728.1h0M518 729.6h0M574.5 751.1h0M621.6 741.6h0M611.3 726.2h0M609.9 725.3h0M593.3 729.4h0M583.5 725h0M485.5 752.3h0M484.9 755.6h0M539.7 712.4h0M526.8 745.7h0M518.3 744.9h0M590.8 763.3h0M528.2 749.6h0M492.9 748.9h0M585.4 743.8h0M547.9 770.1h0M558.8 763h0M617.5 743.1h0M496.5 749.6h0M514.5 739h0M516.9 722.8h0M516.5 748.4h0M598.9 730.9h0M492.6 737.8h0M614.7 729.7h0M506.9 749h0M470.9 733.4h0M530 748.9h0M561.4 759.8h0M544.8 736.7h0M561.5 755.6h0M543.6 768.1h0M516.1 711.4h0M607.2 730.5h0M608.6 724.3h0M587.7 721.7h0M524.2 725.2h0M551.3 719.1h0M617.9 755.5h0M536 750.6h0M500.2 746.5h0M581.4 745.7h0M494.6 733.3h0M579.8 757h0M588.5 754h0M501.4 765.5h0M613.6 729.3h0M574.4 714.2h0M559.9 759h0M505.1 762h0M475.4 726.9h0M507.1 743.1h0M515.9 741h0M501.7 725.7h0M559.2 751.5h0M594.5 736.1h0M579.7 744.2h0M502.6 760.4h0M489.6 715.2h0M499.1 725.6h0M508.8 747h0M490.5 748.3h0M485.9 717.2h0M525 719.9h0M583.2 717.2h0M507.5 765.3h0M566.3 724.6h0M568.6 747.5h0M501.1 753.9h0M543.1 769.4h0M581.9 715.6h0M600.9 758.6h0M599.8 753.9h0M564.9 746.3h0M538.3 727.2h0M492 747.3h0M529.5 711.2h0M537.1 712.9h0M536.5 756.7h0M624.2 745.8h0M589.2 732.8h0M607.7 759.3h0M611.5 736.6h0M520.7 732.9h0M576.6 700.9h0M532.7 733.4h0M581 716.2h0M607.1 742.3h0M572 748.2h0M578.8 717.1h0M480.8 725.6h0M484.4 741.4h0M539.8 763.4h0M490.8 716.1h0M626.2 740.4h0M564.1 752.7h0M601.2 734.4h0M483.5 721.5h0M574.5 718.7h0M531.9 724.4h0M536.1 707.9h0M500.1 766.1h0M510.3 741.5h0M613.8 746.8h0M503.3 767.7h0M506.1 735.2h0M527.8 717h0M468.8 741.4h0M567 751.3h0M494.6 714.2h0M556.8 767h0M496.7 721.9h0M505.8 759.4h0M521.9 710.1h0M609.9 752.7h0M512.6 733.6h0M506.3 720h0M525.2 725.7h0M580 715.5h0M529.4 733.1h0M575 718.5h0M481.6 761.2h0M565.5 721.3h0M525.2 707.2h0M507.1 711.7h0M620.6 747h0M581.8 724.8h0M521.7 729.7h0M589.3 713.2h0M555.6 725h0M542.9 750h0M530.5 712.7h0M555.6 743.3h0M600.7 766.5h0M589.6 758h0M536.9 738.3h0M614.6 755.3h0M575.8 763.5h0M586.9 764.3h0M508.6 748.3h0M615.4 738h0M505.5 752.1h0M622.6 744h0M592.9 727h0M566.7 750.5h0M558.7 717.3h0M512.7 748.2h0M507.1 706.8h0M507.4 730.5h0M494.9 753.5h0M483.4 720.4h0M499.7 743.5h0M553.4 734.3h0M606.5 743.6h0M505.1 756.1h0M570.2 723.2h0M543.1 753.3h0M561.4 717.2h0M544.7 713.3h0M590.6 745.9h0M560.3 755.6h0M501.7 752.2h0M534 712.7h0M492.5 724.3h0M544.7 756.8h0M600.4 748.3h0M617.2 749.4h0M490.9 725.1h0M481.1 736.3h0M510 739.2h0M537.6 746.5h0M565.6 714.3h0M605.4 761.7h0M532.5 735.2h0M512.6 756.6h0M556.8 727.7h0M485.3 764.6h0M558.4 719.9h0M556.5 730.9h0M515 738.1h0M521.4 746.7h0M510.6 748.9h0M602.3 752h0M548.7 748.7h0M502.9 763.9h0M525.7 748.7h0M479.7 743.9h0M585 758.5h0M568.2 722.7h0M567.7 718.7h0M601.5 765.7h0M532.2 748.2h0M494.3 724.4h0M571 764.4h0M609.9 759h0M491.7 738.4h0M535.6 717.4h0M486.3 733.2h0M555.6 736.4h0M570.8 727.7h0M597.4 728h0M561.4 749h0M604.8 734.9h0M539.7 737.1h0M568.2 752.6h0M617.3 753.2h0M502.4 765h0M571.5 756.4h0M497.6 759.5h0M478.5 759.5h0M574.7 724.2h0M517.7 727.8h0M480.9 726.3h0M504.1 753.8h0M600.6 763.4h0M597.3 745h0M580.8 761.4h0M584.8 718.1h0M527.7 736.1h0M511.5 758.1h0M563.4 759.7h0M595.8 748.4h0M494.9 746.2h0M524.6 719.8h0M574.3 748.3h0M575.3 718.5h0M585.7 759.4h0M495.4 736.7h0M543.8 729.5h0M553.5 715.4h0M572.6 712h0M553.4 734.2h0M544.8 776.9h0M575.1 750.1h0M540.2 739.9h0M478.9 757.3h0M505.6 752.1h0M605.5 731.5h0M588.3 727.6h0M529.2 715.8h0M617 743h0M566 753.9h0M508.1 746.6h0M518.4 742.4h0M511.1 738.1h0M561.8 750.8h0M516.5 741.6h0M510.8 727.4h0M537.5 711.3h0M533.6 752.8h0M561.7 723.1h0M527.1 746.2h0M493.9 717.1h0M564.9 754.2h0M543.2 775.4h0M558.6 709.9h0M493.8 755h0M537.6 722.7h0M559.7 762.3h0M501.8 754.1h0M569.3 750.9h0M515.1 736.8h0M517.5 737.4h0M573 754.2h0M480.3 729.2h0M591.4 719.1h0M499.7 710.6h0M608.9 745h0M505.7 763.7h0M585.8 714.9h0M531.8 717.3h0M549.6 766.5h0M496.2 734h0M505.7 751.6h0M588.1 740.1h0M488.8 741.1h0M493.7 737.8h0M525.4 723.2h0M532.4 741.6h0M575.6 753.2h0M485.6 747.7h0M544.2 771.2h0M561.5 723.2h0M556.7 760.3h0M523.8 743.5h0M511.9 745.2h0M482.3 756.9h0M487.9 730.1h0M568.7 752.6h0M540.2 749.2h0M597.5 723.9h0M533.4 731.8h0M556.2 749.4h0M550.1 718.8h0M589 747.7h0M603.3 758.4h0M489.9 717.1h0M583.4 749.1h0M494.6 712.9h0M534.5 733.2h0M613.4 727h0M542.3 718.6h0M594.7 716.9h0M507.1 750.6h0M544.6 726.1h0M589.5 758h0M561.3 748.9h0M620.2 751.8h0M546.3 767.5h0M548.8 726.6h0M495.1 757.2h0M487.4 735.6h0M487.1 729.6h0M529.4 712.2h0M582.4 763.8h0M507.4 757h0M543.8 742.5h0M535.1 736.7h0M566.8 756.7h0M498.3 729.7h0M533.4 763h0M618.7 737.2h0M574.3 722.9h0M594.1 744.8h0M521.3 742.9h0M523.5 738.1h0M596.7 729.7h0M478.3 754.2h0M513.2 731.2h0M501.6 763.8h0M572.6 724.3h0M576.3 706h0M503.9 754.5h0M533.3 743.4h0M615.5 732.9h0M578.3 753.3h0M575.7 755.8h0M610.2 730.6h0M584.1 727h0M588.3 720.3h0M605.7 750.5h0M579.8 741.2h0M573 753.1h0M568 753.9h0M579.1 731.2h0M498.7 748h0M494.3 735.5h0M499.9 714.8h0M599.4 739.8h0M619.4 746.7h0M569.6 760.9h0M571.4 760.9h0M618.2 757.1h0M568.3 761h0M575.2 745.5h0M603.9 732.1h0M580.3 748.4h0M578.8 741.5h0M597.1 760.4h0M560 760.7h0M551.1 735.7h0M519.7 721.6h0M618.4 755.7h0M562.1 712.2h0M536.5 744.3h0M473.3 739.9h0M561.6 736.6h0M538.1 776.6h0M509.9 739.7h0M515.6 730.6h0M540.5 711.6h0M622.2 734.4h0M588.1 731.7h0M523.2 746.3h0M553.4 759.9h0M553.7 755.4h0M540.7 762.1h0M485.7 732.1h0M486.2 730.7h0M578.3 736.9h0M615.3 727.3h0M487.2 757.2h0M525.8 720.1h0M478.2 758h0M557.7 713.7h0M542.5 752.6h0M513.1 748.2h0M560.3 747.7h0M625.8 741.1h0M521.5 741.1h0M555.1 732.6h0M503.4 716.2h0M582 718h0M611.6 735.4h0M510.9 761.7h0M562.3 718.8h0M596.3 757.1h0M564.2 725.7h0M541 718.5h0M492.4 749.2h0M590.6 756.6h0M502.7 711.5h0M616.9 749.4h0M482.3 762.4h0M588.9 762.3h0M482.3 729.1h0M538 756.9h0M576.4 759.8h0M577.9 754.4h0M511.7 759.3h0M594 745.4h0M510.2 753.1h0M506.6 739.7h0M577.3 716.9h0M612.8 734.9h0M550.2 728.1h0M508.6 733.4h0M551.5 769h0M611 724.6h0M534.7 747.7h0M476.1 729.9h0M499.4 753h0M562.7 755.2h0M532.6 742.5h0M589.9 715.4h0M592.4 717.4h0M487 743h0M548 739.3h0M604.1 747.9h0M602.7 725.3h0M604.1 756.3h0M536.8 739.9h0M494.6 713.5h0M597 738.8h0M609.2 762.4h0M535 738.7h0M554.2 718.9h0M609.8 738.7h0M503.8 749h0M507.5 768.2h0M556.6 743.6h0M550.7 729.5h0M618 757.5h0M535.3 733.7h0M554.7 742.4h0M512.1 741.8h0M541.8 764.6h0M597.1 733.2h0M592 746.6h0M608.5 760.8h0M495.5 753.6h0M511.8 744.9h0M609.7 732.8h0M484.6 733.4h0M608.1 756.6h0M553.4 721.1h0M579.1 711.8h0M508.1 764.1h0M605.5 763h0M544 746.9h0M622.5 741.1h0M520.5 731.7h0M603.6 759.6h0M570.7 757.8h0M565.9 759.7h0M543.5 742.4h0M556 743.8h0M599.8 753.1h0M598 717.8h0M501.2 753.1h0M589.9 758.2h0M594.7 742.7h0M608.5 742.9h0M513.2 732.9h0M606.5 731.6h0M581.3 748.2h0M569.8 760.4h0M485.7 742.9h0M536 711.3h0M552.9 745.6h0M568.9 742.7h0M511.8 749.4h0M621.5 738.3h0M518.4 730.5h0M473 735.2h0M503.1 750.3h0M612.6 756.8h0M518.9 735h0M580.8 752.7h0M604.7 756.7h0M545.4 738.9h0M495.7 747.6h0M557.5 715.8h0M494 756.2h0M563.7 734h0M552.5 747h0M479.6 724.5h0M504.3 760h0M523.2 754h0M586.2 715.7h0M574.6 739.8h0M593.6 728.9h0M580.1 756.4h0M507.7 758.3h0M575.1 765.1h0M561.3 738h0M573.6 724.5h0M572.1 724.9h0M553.8 772.6h0M543.4 738.3h0M605.7 727.9h0M587.7 759.8h0M576 714.7h0M554.8 750.1h0M611.7 751.8h0M578.5 762.1h0M592.6 719h0M579.5 744.8h0M586.6 740.7h0M523.2 714.3h0M547.4 726.5h0M612.2 724.2h0M517.2 748.2h0M511.5 735h0M612 753.9h0M470.5 739.6h0M566.2 741.6h0M473.1 746.7h0M556.9 726.5h0M526.1 746.1h0" stroke="#c9c9cf" stroke-width="1.45" stroke-linecap="round" fill="none"/>
<path d="M483.2 758.5h0M515.6 741.7h0M544.8 752.8h0M515.9 745h0M578.3 750.5h0M492.7 713.3h0M595.4 727.1h0M612.1 748h0M522.2 728.1h0M483.4 729.8h0M497.4 731.4h0M568 727.4h0M513.2 742.6h0M505.5 752.4h0M514.6 715.3h0M515.9 719.8h0M587.5 757.6h0M487.1 751.8h0M607.5 745.1h0M508.9 734.6h0M537.7 714.6h0M496.5 722.1h0M482.4 764.1h0M480.7 760.1h0M574.6 746.2h0M588.4 726.9h0M544.6 765.6h0M586.5 758.4h0M580.3 761.8h0M589.2 719.7h0M566.3 755.9h0M576.8 728.2h0M563.3 730.6h0M507.2 730.5h0M589.4 749h0M502.5 737.7h0M539 718.4h0M538.3 734.8h0M508.5 729.4h0M552 757.3h0M554.1 748.5h0M523.1 748.3h0M586.8 737.7h0M497.4 730.6h0M525.8 738.6h0M538 732.7h0M572.2 710.1h0M609.9 729.5h0M472.6 730.2h0M548.1 757.9h0M574.3 741.1h0M567.2 721.3h0M528.2 735.2h0M515.2 726.5h0M512 717.4h0M580.9 750.6h0M517 703.3h0M542.4 739.8h0M564.5 750.9h0M521.7 694.2h0M565.3 723.1h0M502 749.5h0M579.8 750.6h0M538.7 748h0M537.3 754.3h0M497.4 749.3h0M532.8 741.1h0M584.7 749.7h0M522.5 722.2h0M515.8 739h0M489.2 733.7h0M501 724.1h0M499.1 727.5h0M531.1 724.7h0M547.7 752.2h0M533.2 722.1h0M489.6 735.5h0M504.9 753.2h0M532.5 724.4h0M540.1 737.2h0M591.4 711.3h0M597 718.6h0M534 746.4h0M568.2 715.5h0M487.4 754.9h0M540.4 716.1h0M493.4 745.6h0M591.5 737.7h0M559.5 748.6h0M491.8 716.5h0M492.4 746.7h0M531.8 747.1h0M543 754.5h0M555.8 720.6h0M565.1 726.9h0M474.7 754.3h0M573 710.5h0M591.2 737.9h0M584.2 763.1h0M624.3 738.8h0M498.3 764.4h0M584.7 757.6h0M509.9 733.1h0M514.3 711.2h0M556.2 740.3h0M553.7 736.5h0M539.5 737.2h0M619.7 752.4h0M586.3 720.3h0M512.5 744.7h0M535 763.8h0M546.2 758.7h0M554.5 751.8h0M569.9 707.1h0M561.2 724.4h0M567.7 758.1h0M601.9 739.5h0M599.1 753.2h0M583.5 718.4h0M558.7 724.1h0M540.1 741.6h0M610 741.8h0M508.1 715.6h0M501.4 710.7h0M566.9 724.8h0M547 769.7h0M500.6 750.4h0M477.3 752.7h0M547.3 723.6h0M508.9 753.1h0M604.3 751.2h0M570.9 764.8h0M529.7 727h0M510.6 725.6h0M548.8 744.3h0M507.8 744.3h0M612.6 737.3h0M476.9 745.5h0M591.3 762.1h0M499.9 734.4h0M548.6 754.2h0M536.9 768.6h0M616.2 728h0M477 757.1h0M573.4 754.1h0M523.9 724.6h0M558.7 742.5h0M599.1 718.9h0M564.4 746.3h0M480 737.2h0M511.5 743.5h0M565.1 704.3h0M556.5 726.3h0M485.6 735.1h0M548.5 748.8h0M535.8 775h0M471.1 744.3h0M512.2 715.4h0M545.9 741.4h0M592.7 747.9h0M619.9 741.2h0M616.5 743.4h0M552.6 733.1h0M622.7 742h0M476.3 746.2h0M547.9 737.2h0M552.3 759.8h0M534.1 701h0M547.3 758.9h0M582.6 754.8h0M571.4 755.6h0M506.6 759.7h0M513.4 727.7h0M469.3 735.2h0M580.8 714.7h0M504.8 709.9h0M528.3 720.6h0M519.9 722.8h0M544.6 749.9h0M502 731.5h0M531.6 744.8h0M530.6 696.5h0M579.8 729.8h0M575.8 723.6h0M519.2 729.7h0M525.5 751.4h0M588.5 751.1h0M587.8 752.9h0M504.4 716.8h0M556.7 752.3h0M544.3 718.4h0" stroke="#a199d7" stroke-width="1.5" stroke-linecap="round" fill="none"/>
<path d="M616.4 728.4h0M575.9 748.9h0M586.4 735h0M544.1 774.5h0M621 748.3h0M504.5 722h0M594.6 709.2h0M547.6 727.8h0M474.9 754.1h0M569.8 755.5h0M564.7 748.1h0M528.1 722.4h0M531.8 746.1h0M593.1 752.4h0M519.2 739.5h0M540.7 760.1h0M545.9 730h0M570.5 752.7h0M587 713.5h0M606.5 762.3h0M574.8 727.7h0M599.8 758.5h0M472.1 738.4h0M500.2 727.9h0M559.5 715.4h0M543 719.9h0M472.4 753.4h0M594.9 724h0M616.2 736.8h0M513.6 759.1h0M599.9 717.2h0M600.9 758.3h0M589.8 758.5h0M576.7 722.7h0M561.8 716.6h0M553.4 769.3h0M475.8 758.3h0M524 741.3h0M584.4 730.4h0M478.8 739.1h0M537.2 746h0M509.2 753.4h0M522 718.1h0M503.1 722.8h0M596.6 753.7h0M569.4 719.4h0M480.9 723.1h0M526 729.7h0M541.8 748.8h0M509.8 734.6h0M522 726.6h0M628.5 740.3h0M545 735.5h0M486.7 749.9h0M618.7 749.5h0M592.4 754.9h0M574.8 719.9h0M577.5 746.9h0M470.2 735h0M616.3 752.8h0M522.2 739.5h0M549.1 771.5h0M531.8 730.9h0M601.6 748.1h0M489.9 728.4h0M491.8 757.6h0M612.2 749.6h0M597.8 736.8h0M511.4 752.9h0M605 753.2h0M579.7 723.3h0M514.6 719.3h0M521.1 737.9h0M579 743.7h0M516.7 747.5h0M616.7 749.2h0M530.9 742.4h0M486.1 717.3h0M479.4 752.4h0M512.9 713.2h0M598.9 765.6h0M526.1 714.4h0M537.7 728.4h0M481.7 761.9h0M513 703.4h0M576 721.7h0M567.1 727.5h0M592 717.2h0M556.4 751.7h0M573.7 756.3h0M503 727.3h0M469.1 747.7h0M583.7 760.1h0M541.9 742.1h0M612.7 747.7h0M504.4 750.4h0M497.9 748.6h0M497.5 754.2h0M583.2 726.2h0M593.8 766.3h0M607.7 751.6h0M494.2 760.2h0M474.3 751h0M576.4 750.3h0M604.5 753.6h0M574.5 723.1h0M576.1 721.6h0M607.1 735h0M514.8 747.1h0M489.7 715.4h0M468.7 740.4h0M574.2 763.8h0M615.3 749.3h0M608 721.4h0" stroke="#867adc" stroke-width="1.5" stroke-linecap="round" fill="none"/>
<path d="M597.1 715.4h0M530.9 699.8h0M540.2 709.3h0M594.8 714.1h0M480.5 728.9h0M520.4 712.4h0M523.8 698.3h0M551 704.1h0M570.4 710.6h0M584.3 706.1h0M508.6 721.9h0M527.3 707.1h0M576 703.4h0M514.8 715.3h0M518.2 726.3h0M500.6 722.6h0M520.4 698.2h0M484.9 738.1h0M511.6 715.3h0M513.2 728.5h0M562.9 702.2h0M482.4 737.7h0M551.7 706.7h0M506.9 720.4h0M505.9 717.9h0M470.4 745.5h0M479.8 743.3h0M572.5 711.9h0M574.9 706.3h0M521.5 707.3h0M525 695.8h0M504.4 716.2h0M579.4 730.9h0M523.4 701.2h0M530.9 701.8h0M588.6 708.4h0M555.2 711.6h0M492.3 767.1h0M528.7 706.8h0M555.6 705.6h0M483.3 762.9h0M545.3 710.8h0M542.8 710.1h0M500.1 712h0M575 701.7h0M525.2 696.6h0M564.4 703.9h0M509.6 704.9h0M558.4 703.4h0M482.1 741.1h0M562.9 708.6h0M550.7 710h0M485.5 763.7h0M582.9 705.9h0M592.2 707.7h0M554 702.8h0M577.4 712.5h0M520.8 708.1h0M510.5 708.9h0M497.4 768h0M570.3 710.1h0M467.9 739.3h0M548.1 706.3h0M470 738h0M573.1 730.4h0M569.5 708h0M517.2 705.8h0M526.2 699.4h0M512.9 724.5h0M505.2 716.8h0M572 707.3h0M516.3 705.9h0M565.3 707h0M495.7 718.9h0M597.9 709.4h0M566.8 709.1h0M532 697.3h0M472.9 733.2h0M578.7 707.6h0M508.7 705.5h0M557.2 703.7h0M483.3 763.6h0M523.7 696.5h0M493.1 764.3h0M469.4 737h0M576.2 702.3h0M520.6 705.1h0M592.4 709.6h0M574.2 734.3h0M578.8 709.6h0M532.9 702.3h0M512.6 720.5h0M497.5 712h0M561.1 710h0M574.3 706.1h0M474.3 740h0M574.7 706.2h0M596.4 711.6h0M511.2 703.2h0M606 723.9h0M584.1 731.4h0M543.8 708.7h0M515.7 704.6h0M532.9 697.7h0M474 750.1h0M586.2 732h0M577.3 707.5h0M494 717.8h0M564.6 705.4h0M601.1 718h0M547.7 710.6h0M600.2 713.7h0M596.5 714.1h0M583.1 737.5h0M553.7 703.7h0M546.1 713.9h0M514.9 707h0M562.6 709h0M532.6 699.3h0M556.5 709.2h0M549.9 703.3h0M603.4 719.6h0M606.7 726.2h0M533.8 709.1h0M518.8 702.4h0M547.6 714.4h0M578.6 702h0M586.4 733.6h0M592.5 712.5h0M514.6 706.1h0M596.3 711h0M600.4 717h0M575.9 709.5h0M540.2 708.5h0M535 697.7h0M533.4 703h0M479.9 748h0M577.1 704.7h0M506.2 719.9h0M574.8 732.6h0M602.3 719.3h0M586.7 716.6h0M540.6 714.5h0M522.2 726h0M598.2 720.5h0M521.8 703.9h0M470.4 750.8h0M569 710.5h0M521.2 716.1h0M603.8 720.5h0M600.7 716.5h0M515.8 699.2h0M544.1 716.4h0M478.6 741.9h0M496.7 761.9h0M505.8 714.2h0M488.5 720.9h0M520.5 702.1h0M599.5 712.5h0" stroke="#6c5ae2" stroke-width="1.5" stroke-linecap="round" fill="none"/>
<path d="M487.5 715.8h0M583.8 738.6h0M586.8 706.9h0M566.8 701h0M475.3 743.6h0M526.5 702.3h0M527.1 706.7h0M569.1 707.4h0M515.6 698.9h0M575.4 709h0M470.1 750.4h0M489.6 760.7h0M476.8 751.2h0M589.9 708.7h0M572.9 706.6h0M596 719.7h0M578.8 703.6h0M522.7 726.1h0M565.3 700.9h0M557.3 701h0M584.6 711.6h0M557.8 707.7h0M516.4 705.7h0M568.7 706.7h0M480.6 735.5h0M585 706.7h0M526.6 698.5h0M587.3 708.8h0M521.9 722.6h0M495.6 761.3h0M525 694h0M581.8 734.8h0M522.4 719.8h0M560.3 705.7h0M523.5 694.1h0M602.1 715.2h0M480.7 735.9h0M548.2 706.8h0M580.7 734.2h0M501.5 722.4h0M516.1 703.2h0M512 709.3h0M533.2 701h0M558 708.7h0M531.2 710.1h0M583.4 706.5h0M541.4 709.3h0M546.3 704.8h0M469.3 741.1h0M585.8 706.2h0M533.6 697.2h0M494.8 767.9h0M499.5 767.7h0M529.2 706.4h0M513.2 719.5h0M483.4 740.5h0M500.5 763.3h0M468.9 742.5h0M570.2 699.8h0M525.6 700.9h0M485.8 764.9h0M549.6 707h0M496.1 724.2h0M481.9 734.9h0M552.8 703.9h0M560 702.1h0M571.5 731.9h0M581.5 706h0M581.6 705.1h0M520.9 699.5h0M531.7 699.1h0M530.7 702.4h0M522.6 713.6h0M516.1 698.1h0M553.2 706.1h0M581.9 713.8h0M524.7 705.7h0M517.3 715.8h0M540.2 714.8h0M587.7 707.6h0M552.1 707.4h0M493.7 762.3h0M485.8 764.4h0M506.7 716.7h0M550.7 708.6h0M482.5 735.5h0M469.1 738.4h0M576.2 702.8h0M504.2 722.2h0M595.9 719.1h0M508.7 726h0M512.2 709.5h0M515.8 728.5h0M555.6 711h0M532.3 706.3h0M603.4 718.9h0M583 730h0M517.5 723.5h0M477.2 744h0M532.8 705.2h0M484.5 748.4h0M499.9 767.2h0M529.4 696.8h0M585.5 705.8h0M513.6 726.3h0M467.7 741.1h0M570.2 704.2h0M550.8 715.3h0M528.8 700.9h0M586 704.4h0M492.5 763.6h0M522.5 700.7h0M584.7 737.2h0M553.4 713.5h0M508 725.8h0M604.6 714.8h0M605.2 726.2h0M477.4 733.3h0M484.8 751.3h0M601.8 713.6h0M480.7 751.9h0M570.9 708.6h0M574.7 735.1h0M478.8 744.8h0M527.8 701.9h0M527 695.2h0M529.4 694.4h0M517.5 701.9h0M586.4 732.7h0M512.7 703.9h0M469.4 737.1h0M469.4 747.2h0M561.5 703.8h0M476.3 732.2h0M593.5 708.6h0M599 714.1h0M548.4 711.3h0M501.3 721.8h0M607.3 719.4h0M577.7 736.3h0M572.2 739.5h0M569.3 705.1h0M482.5 740.9h0M525.6 705.1h0M504.9 720.9h0M492.3 761.3h0M527.2 702.1h0M574.6 709.7h0M553.6 709.1h0M497.4 723.1h0M487.4 764.5h0M579.6 741.7h0M474.3 731.3h0M572.7 708.4h0M512.4 708.1h0M541.7 714.2h0M521.7 699.4h0M565.7 712h0M569.4 705.9h0M507.6 724.9h0M465.9 742.6h0M528.7 703.2h0M498.3 722.8h0M477.6 742.8h0M591 705.9h0M514.1 725.6h0M489.3 761.5h0M578.8 733.5h0M527.2 697.2h0M588.8 706.8h0M522.5 704.9h0M524.8 695.6h0M497.5 767.7h0M521.7 695.1h0M591.3 708.4h0M475.1 743.9h0M516.4 707.7h0M511.5 701.9h0M517.4 715h0M514.5 705.4h0M596.4 711.6h0M507.9 708.1h0M491.4 764.8h0M587 706.4h0M577.4 730.4h0M521.5 699.2h0M479.7 729.7h0M592.2 712.3h0M550.4 703.8h0M534.4 701.5h0M528 704.9h0M522.4 700.4h0M529.1 693.4h0M489.1 761.5h0M524.2 701.3h0M597.9 714.5h0M570.9 706.7h0M512 724.9h0M558.3 701.1h0M526 703.8h0M558.6 700.7h0M526.4 694.8h0M586.3 707.4h0M600.7 714.9h0M506.7 723.5h0M517.9 704.8h0M596 713.9h0M470.1 740.7h0M476.6 749.8h0M601.5 716.5h0M560.7 704.6h0M480.3 729h0M598.8 712.8h0M476.9 734.5h0M550.9 715.1h0M592.4 712.6h0M580.7 706.8h0M579.6 705.4h0M489.7 721.9h0M568.6 704.8h0M545.7 704h0M601.4 711.9h0M554 707.7h0M496.8 768.9h0M474 742.9h0M511.8 717.8h0M566.2 711.6h0M520.2 725.2h0M477 742.4h0M607 720.8h0M582.7 705.2h0M484.6 749h0M477.4 749.3h0M598.6 711.5h0M510.1 705.3h0M513.5 702.2h0M525.7 702h0M597.9 715.3h0M483.3 762.9h0M530.8 701.7h0M593.6 714.1h0M527.6 707.3h0M542.5 706.7h0M577.7 703.3h0M516.2 698.5h0M595 718.9h0M521.4 718.1h0M584.3 707.3h0M591.9 714.3h0M559.1 706.5h0M515.6 704h0M543.8 714.4h0M526.3 697.1h0M547.8 709.9h0M585.9 739.4h0M558.6 707.5h0M602.1 717.5h0M548.8 707.6h0M561.2 699.8h0M557.7 704h0M541.1 710.6h0M469.1 734.7h0M599.2 710.5h0M490.9 760.1h0M492.4 760.5h0M563.4 702.2h0M532.4 700.7h0M547.8 707h0M484.5 764.5h0M597 712.1h0M550.5 708.1h0M515.1 703.4h0" stroke="#513be7" stroke-width="1.5" stroke-linecap="round" fill="none"/>
<path d="M499.5 759.8h0M572.1 706.2h0M484.4 761.7h0M583.2 704.6h0M547.4 710.3h0M602.1 715.6h0M521.2 695.5h0M485.8 721.6h0M554.3 702.1h0M551.4 707.1h0M580.4 706.8h0M472.8 747.3h0M600.9 718.6h0M505.4 716.4h0M486.6 724.8h0M486.9 762.3h0M579.7 737.7h0M585.8 710.1h0M489.2 766h0M498.2 711.7h0M519.4 704h0M533.5 706h0M577.2 701.2h0M592.5 710h0M522.7 698.7h0M606.8 720.9h0M542.8 708h0M468.9 741.5h0M565.9 700.7h0M587.7 709.9h0M591.4 708.3h0M513.5 719.5h0M511.5 719.9h0M515.8 702.1h0M544.7 714.4h0M471.9 745.9h0M531.1 708h0M531.1 708.7h0M502.7 719.1h0M526.4 696h0M605.3 718.1h0M517.1 696.1h0M601.2 713.8h0M515.2 710h0M491.5 721h0M576.5 709.9h0M560 701.9h0M526.9 708.6h0M473.6 732.7h0M499.7 766.4h0M497 722.3h0M495.8 764.8h0M533 695.6h0M593.5 713.3h0M531 695.8h0M516.1 706.8h0M513.7 720.8h0M527.5 696.9h0M531.9 694.2h0M521.1 695.8h0M521.9 728.8h0M555.2 704.5h0M530.3 705.8h0M498.7 719.4h0M561 706.9h0M563.6 710.4h0M472.1 746.7h0M589.8 705.4h0M576.9 701h0M551 713.9h0M519.5 707.8h0M485.3 735.7h0M525.5 695.1h0M593.1 719.2h0M580.2 731.8h0M498.9 762.1h0M605 718.2h0M561.7 699.8h0M516.9 724.1h0M533.3 702.7h0M470.9 735.7h0M517.3 723.4h0M549.7 711h0M497.9 760.6h0M572.3 705.4h0M580.6 709.8h0M604.4 716.1h0M495.9 722.2h0M484.8 761.5h0M583.1 712.5h0M474.1 733.4h0M532.6 695.9h0M491.6 761.2h0M519 707.7h0M510.5 708.6h0M477.1 750.1h0M509.5 727.4h0M605.8 717.8h0M484.4 747h0M521.7 706.8h0M518.4 715.9h0M529.3 694.4h0M567.6 703.1h0M530.9 703.3h0M578.1 729.5h0M497.2 723.2h0M578.6 740.8h0M479.1 741.2h0M487.5 759.7h0M490.5 718.8h0M571.6 705.4h0M510.5 710.3h0M578.9 704.3h0M546.4 703.8h0M528.3 710.2h0M511.6 716.2h0M488.3 717.2h0M522.9 727h0M604.1 714.8h0M532.4 710.6h0M595 717.2h0M484.8 749.7h0M528.6 708.3h0M600.5 717.9h0M531.3 697.4h0M558.1 705.9h0M479.4 730.9h0M535.5 703.7h0M577.2 701h0M510.4 707.3h0M540.8 709.1h0M476.2 738.9h0M530.4 709h0M572 702.3h0M596 719.8h0M587.7 707.3h0M513.3 722.6h0M573.7 704.6h0M500.3 768.9h0M542.6 717.3h0M522.8 698.9h0M546.6 705.1h0M545 716.6h0M579.7 705.8h0M585.8 736.8h0M511.4 726.1h0M573.2 700.9h0M531.3 699h0M542.3 712.5h0M573.5 702.9h0M489.6 761h0M579.2 736.8h0M592.8 710.7h0M513.5 724.9h0M499.3 761.2h0M577.5 707.4h0M604.1 714.3h0M495.9 762h0M522.7 715h0M505.6 713.3h0M492.2 717.1h0M475.4 740.1h0M594.9 714h0M474.4 729.2h0M533.8 704.8h0M486.8 763.1h0M483.6 729.2h0M552.1 711.3h0M574.3 705h0M534.4 696.5h0M487.6 723.6h0M574.5 731.6h0M515.7 726.4h0M514.1 704h0M521.3 698.7h0M584.4 703.8h0M568.2 703.6h0M515.9 699.8h0M486.5 723.2h0M481.6 747.2h0M512.8 724.4h0M490.5 766.5h0M541.3 712.7h0M487.9 718.2h0M528.5 698.5h0M592 712.7h0M511.3 705.4h0M581.7 711.1h0M534.3 702.6h0M555.9 703.5h0M529.8 705.3h0M542.8 705.4h0M526 709.9h0M507.9 707.2h0M479.3 737h0M548.3 712.6h0M544.8 715.9h0M556.3 712.2h0M522.3 699.6h0M500.6 762.7h0M556 705.1h0M517.4 724h0M596.3 719.5h0M479.2 740.2h0M526 693.2h0M533.2 698.8h0M568.2 703.3h0M490.4 760h0M540.8 707.4h0M560.6 706.2h0M581.6 740.6h0M528.9 704.4h0M484.1 760.2h0M525.3 697.8h0M515.8 701.6h0M474 735h0M492.1 765.2h0M487.1 723.7h0M494.5 720.6h0M577.7 713.8h0M498.5 766.1h0M600.1 711.1h0M524.4 710.7h0M577.4 704.2h0M586.3 708.3h0M486.4 762.3h0M472.4 732.2h0M523.2 699.4h0M567.6 701.7h0M586 737.4h0M526.1 704.2h0M520.7 702.1h0M605.6 721.6h0M528 693.4h0M535.6 699.7h0M513.8 705.5h0M605.5 720.1h0M581.4 702.5h0M497.4 719.5h0M546.5 706.5h0M471.1 741.9h0M598.4 719.7h0M489.9 719.3h0M513.6 714.3h0M486.2 717.9h0M601.1 712.9h0M589.1 706.1h0M556.4 711.7h0M586.7 711.9h0M565.8 699.7h0M578.6 705.4h0M576.7 707.5h0M497 712.8h0M583 706.6h0M602.8 714.1h0M519 720.3h0M489.1 763.4h0M494.7 768.1h0M583.3 740.2h0M563.4 710.2h0M506.7 716.6h0M567.6 702.2h0M509.6 704.8h0M499 712.7h0M540.9 706.5h0M478.1 743.3h0M543.7 716h0M489.2 716.2h0M497.7 714.3h0M477.9 742.6h0M475.2 744.1h0M587.4 711.7h0M510 717.1h0M496.9 767.3h0M581.7 707.6h0M552 702.5h0M527.1 693.6h0M557.1 702.8h0M557.5 712.9h0M588.5 707.1h0M512.9 710.1h0M489.6 766.6h0M545.2 711.8h0M542.4 709.8h0M567.6 702.1h0M580.2 713.3h0M521.7 697h0M483.8 733.5h0M519.6 706.7h0M564.4 702.6h0M520 706.7h0M573.1 702.6h0M515.4 726.1h0M521.3 700.8h0M542.3 705.6h0M485.2 741h0M500.6 762.8h0M596.7 708.9h0M498.5 718.1h0M482.8 748.4h0" stroke="#371bed" stroke-width="1.5" stroke-linecap="round" fill="none"/>
<line x1="447.0" y1="679.5" x2="447.0" y2="781.5" stroke="#222" stroke-width="1"/>
<line x1="447.0" y1="781.5" x2="648.8" y2="781.5" stroke="#222" stroke-width="1"/>
<line x1="444.3" y1="684.3" x2="447.0" y2="684.3" stroke="#222" stroke-width="1"/>
<text x="443.9" y="687.6" font-size="9.2" text-anchor="end" fill="#222">6</text>
<line x1="444.3" y1="710.0" x2="447.0" y2="710.0" stroke="#222" stroke-width="1"/>
<text x="443.9" y="713.3" font-size="9.2" text-anchor="end" fill="#222">3</text>
<line x1="444.3" y1="735.7" x2="447.0" y2="735.7" stroke="#222" stroke-width="1"/>
<text x="443.9" y="739.0" font-size="9.2" text-anchor="end" fill="#222">0</text>
<line x1="444.3" y1="761.4" x2="447.0" y2="761.4" stroke="#222" stroke-width="1"/>
<text x="443.9" y="764.7" font-size="9.2" text-anchor="end" fill="#222">−3</text>
<line x1="495.7" y1="781.5" x2="495.7" y2="784.2" stroke="#222" stroke-width="1"/>
<text x="495.7" y="791.8" font-size="9.2" text-anchor="middle" fill="#222">−4</text>
<line x1="547.7" y1="781.5" x2="547.7" y2="784.2" stroke="#222" stroke-width="1"/>
<text x="547.7" y="791.8" font-size="9.2" text-anchor="middle" fill="#222">0</text>
<line x1="599.7" y1="781.5" x2="599.7" y2="784.2" stroke="#222" stroke-width="1"/>
<text x="599.7" y="791.8" font-size="9.2" text-anchor="middle" fill="#222">4</text>
<text x="547.0" y="803.8" font-size="11.2" text-anchor="middle" fill="#222">UMAP 1</text>
<text x="430.6" y="731.5" font-size="11.5" text-anchor="middle" fill="#222" transform="rotate(-90 430.6 731.5)">UMAP 2</text>
<defs><linearGradient id="cbI" x1="0" y1="0" x2="0" y2="1"><stop offset="0" stop-color="#2a0cf0"/><stop offset="1" stop-color="#c9c9cf"/></linearGradient></defs>
<rect x="653.8" y="712.8" width="7.5" height="36.2" fill="url(#cbI)"/>
<text x="664.5" y="718.1" font-size="8.7" fill="#222">60</text>
<text x="664.5" y="729.4" font-size="8.7" fill="#222">40</text>
<text x="664.5" y="740.8" font-size="8.7" fill="#222">20</text>
<text x="664.5" y="751.8" font-size="8.7" fill="#222">0</text>
<text x="404.5" y="822.5" font-size="11.8" font-weight="bold">J</text>
<text x="547.7" y="821.2" font-size="11.3" font-weight="bold" text-anchor="middle" fill="#111">MEOX2 expression</text>
<path d="M560.7 864.6h0M528.3 861h0M594.5 867h0M537.6 911h0M584.8 910h0M517.4 870.7h0M605.4 898.3h0M575.6 889.1h0M546.6 890.2h0M487 884.7h0M535.3 859.8h0M611 867.6h0M482.7 867.1h0M589.2 871.6h0M499.7 864.9h0M586.3 905.9h0M504 875.2h0M494 861.3h0M615.3 897.8h0M606.6 871.3h0M609.1 900.2h0M515 855.2h0M518.2 892.7h0M601.5 901h0M495.5 878.7h0M579.2 882h0M606.5 886.4h0M575.9 859.1h0M526.2 894h0M493.3 910.7h0M604.8 897.1h0M614.2 883.5h0M612 882.5h0M578.6 878.3h0M505.4 853.9h0M511.3 902.7h0M515.3 889.3h0M572.3 904.2h0M498.2 898.8h0M493.3 887.9h0M567.4 870.9h0M608.4 877.8h0M542.8 892.3h0M551 880.1h0M509.4 901h0M479.2 879h0M598 901.2h0M489.1 894h0M588.8 908.3h0M554.8 902.6h0M522.7 882.8h0M528.8 858.2h0M520 842.8h0M614.2 878.7h0M576 873h0M563.3 880.8h0M530.8 862.7h0M512.8 890h0M603.8 898.2h0M470.2 896.1h0M531.4 919.5h0M554.5 883.7h0M597.6 867h0M582 884.7h0M582.9 861.6h0M530.4 878.1h0M575.9 871.4h0M495.2 862.6h0M621 885.8h0M470.7 883.3h0M520.4 901.8h0M622.9 880.6h0M509.2 865.7h0M590.1 868.7h0M551.4 852h0M568.8 859.2h0M519.8 869.1h0M514.9 857.2h0M622.8 888.5h0M590.3 877h0M606 871.3h0M579.2 860.7h0M564.6 847.6h0M529.6 858.8h0M560.3 845.6h0M594.4 872h0M546.1 853.1h0M570.2 888.4h0M557.8 864.5h0M531.2 876.9h0M499.4 867h0M511.2 912.1h0M613.7 881.6h0M581.2 874.2h0M562 902.7h0M603 867.4h0M613.2 906.3h0M561.8 905h0M534.8 898.5h0M499 894h0M597.7 909.4h0M585.6 863.6h0M504.2 910.5h0M516.1 888.9h0M600.9 907h0M541.2 856.6h0M587.2 858.2h0M490.4 882h0M615.3 889.8h0M550.2 884.7h0M566.2 853.1h0M499 914h0M509.2 899.7h0M562.5 895.5h0M527 859.8h0M544.8 891.7h0M499.4 891.9h0M523.4 886.1h0M509.5 890.9h0M578.6 888.4h0M513.5 864.4h0M589.4 892.7h0M531.9 891.5h0M579 849.5h0M553.3 908.5h0M548.1 854.5h0M567.8 895.1h0M491.7 904.6h0M533.9 877.6h0M591.8 903.1h0M501.4 870.9h0M535.9 881.3h0M542.2 882h0M566.7 900.8h0M489.4 902.6h0M514.3 889.4h0M553 898.1h0M559.1 855.6h0M502.4 858.2h0M622 886.8h0M594.1 872.9h0M477.7 901.8h0M565.5 905.2h0M589.5 870.5h0M488.7 870h0M600 884.4h0M506.1 880.6h0M540.3 848.7h0M515 878.1h0M585.3 882.2h0M604.5 898.5h0M619 884.2h0M587.9 897.4h0M548.7 898.8h0M509 895.1h0M539.1 865.8h0M549.3 878h0M522.2 885.3h0M487.7 879.1h0M564.3 866.4h0M550 912.4h0M566.9 856.9h0M489.7 867.7h0M564.9 885.3h0M620.9 878.9h0M617.6 881.5h0M568.3 860.4h0M516.7 889.2h0M500.9 898.1h0M587 862.7h0M600.7 865.4h0M599.8 869.2h0M602.4 894.8h0M526 867.3h0M600.5 879.3h0M611.3 898.2h0M532.4 889.3h0M476.1 887h0M545.3 885.2h0M496.6 894.9h0M561.9 900.3h0M500.2 904.7h0M596.5 899.4h0M547.6 874.8h0M596.6 892.2h0M487.5 897h0M573 871.4h0M571.8 901.5h0M501.6 876.5h0M600.1 863.3h0M545 869.3h0M507 890.8h0M572.9 851.9h0M551.4 871.3h0M514.9 898.8h0M504.4 864.6h0M537 888.8h0M489.1 887.7h0M555 882.2h0M556.5 896.3h0M573.8 899.1h0M609 909.4h0M487.9 903.6h0M491.8 896h0M580.6 861h0M589.2 890.4h0M534.3 872h0M539.1 916.9h0M595.1 864.8h0M592.2 875.6h0M482.9 898.6h0M533.4 878.9h0M575.6 869.1h0M589.8 898.8h0M568 895h0M600.7 877.7h0M576.7 899.7h0M560.8 845.5h0M527.7 898.4h0M474.9 898.3h0M584.1 890.6h0M552.5 917.3h0M616.9 883.9h0M475.1 902.7h0M546.7 899.8h0M596.5 899.1h0M596.8 900.1h0M608.3 880.4h0M555.9 865.8h0M495.6 880.3h0M553.1 883.4h0M571.6 910.2h0M610.8 891.7h0M621.5 896.9h0M504.7 852.9h0M562.1 856.3h0M562 902.1h0M539.9 854.9h0M549 894.4h0M540.4 903.5h0M495.8 899.4h0M550.7 914h0M625.9 892h0M618.5 877.8h0M575.4 849h0M518.3 887.7h0M538.8 903.1h0M544.9 896.9h0M579.5 904.7h0M618 884.9h0M524 856.6h0M537.7 863.6h0M497.4 882.7h0M619.8 890.5h0M575.9 881.3h0M516 875.3h0M555.3 862.7h0M496.1 873.3h0M548.9 853.3h0M581.6 871.8h0M576.6 888.9h0M582.5 879.7h0M584 900.3h0M545.4 860.5h0M510.2 893h0M489.2 884.7h0M540.6 871.9h0M578.6 886.3h0M578.3 901.5h0M622.2 886.7h0M542.3 896.9h0M512.7 854.5h0M585.5 902.8h0M473 896.3h0M584.7 870.5h0M566.6 872.8h0M575.5 875.1h0M534.7 867.5h0M610.1 904.6h0M569.5 905.6h0M537.9 849.1h0M502.3 900h0M556.8 908.7h0M591.1 910.8h0M612.7 875.1h0M549.6 887.4h0M533.2 892.4h0M587.5 852.4h0M467 889.4h0M584.4 894.3h0M524.9 857.8h0M600.7 896.2h0M527.5 866.3h0M549.6 915.3h0M568.9 905.4h0M530.7 898h0M626 893.2h0M592.7 868.2h0M549.6 871.4h0M618.5 899.3h0M525.9 860.6h0M618.1 882.8h0M563.1 856.8h0M586.1 866.6h0M552.4 892.9h0M557.5 861.3h0M528.3 872.9h0M543.9 919.7h0M613.2 889h0M610.3 866.3h0M577.6 909.6h0M566.3 907.6h0M490.3 870.1h0M559.1 862.8h0M588.7 901.6h0M588.2 911h0M619.5 883.1h0M482.2 868h0M591.3 901.4h0M536.7 852.4h0M544.4 884.2h0M532.6 896.2h0M576.7 866.8h0M529.4 857.3h0M506.7 910h0M529.7 877.3h0M570.3 864.7h0M589.6 861.3h0M570.6 863.7h0M521.2 886.8h0M584.4 855.8h0M543.4 881.2h0M544.3 882.8h0M492 904.1h0M484.4 867.8h0M624 885.9h0M538.5 905h0M511 877.3h0M554.5 899.8h0M472.6 874.6h0M559.4 855.6h0M583.1 910.1h0M552.6 897.3h0M569.2 878.1h0M520 856.8h0M608.9 880.3h0M617.1 878.8h0M474 897h0M590.5 860.6h0M530.9 878.6h0M535.1 921.1h0M575.5 910.8h0M510 902h0M512.4 896.2h0M564.6 858.9h0M495 876.7h0M536.3 898h0M616.3 890.9h0M560.3 868.4h0M554.6 892.7h0M584 901.2h0M513 849.6h0M529.4 878.9h0M527.9 858.4h0M562.7 907.3h0M539.3 863.6h0M489.5 860.9h0M530.4 867.5h0M577.2 898.2h0M532.1 911.4h0M507.7 913.5h0M535.8 872.8h0M581.8 876h0M579 902.6h0M572.8 865.7h0M550.2 860.8h0M595.3 882.7h0M534.7 905.5h0M480.1 895.5h0M581.5 900.5h0M607.6 896.9h0M607.6 864.4h0M575.2 903.5h0M499.4 866h0M489.4 902.8h0M521.4 883.4h0M544.2 905.9h0M506.2 912.7h0M510.2 904.3h0M586 904.7h0M601.5 866.1h0M583.7 903.1h0M558.1 873.4h0M518 869h0M578.2 860.2h0M500.2 886.8h0M507 885.8h0M562.8 907.3h0M506.8 908.7h0M615.3 893.2h0M579.1 893.9h0M581.5 868.4h0M595.1 869h0M580.9 869h0M479.7 868.9h0M572.2 866h0M567.5 857.9h0M524.1 868.2h0M483.4 902.5h0M525.6 886.4h0M538.7 880.2h0M533.8 858.4h0M600.9 873.2h0M496.2 883.2h0M512.5 904h0M613.8 890.8h0M587.2 867.9h0M551.5 896.8h0M574.8 867.6h0M554.7 863.7h0M508.1 866.9h0M546.1 878.1h0M607.5 869.9h0M508.8 878.1h0M588.2 883.3h0M524 878.7h0M598.7 902.6h0M542.5 922.3h0M501.3 860.7h0M584.6 867.3h0M597.9 908.1h0M610.2 900.8h0M546.1 863.6h0M545 863.8h0M571.5 899.2h0M561.5 874.7h0M580.5 897.4h0M549.6 849.3h0M534.4 882.9h0M539.6 852.1h0M539 887.4h0M622.7 895h0M601.6 887.6h0M532 881.8h0M529.3 845.7h0M599.5 896.1h0M518.4 868.5h0M507.8 884.3h0M566.5 908.1h0M537.7 851.5h0M536.9 861.4h0M521.8 843.5h0M557.8 858.1h0M503.9 892.9h0M605.1 871.6h0M530.3 864.2h0M570.6 863.8h0M575.6 864.7h0M503.5 879.8h0M560 857h0M546.3 906h0M488 888.8h0M541.3 901.1h0M584.5 873.5h0M594.8 875.4h0M503.5 908.6h0M620.1 879.5h0M509.3 875.6h0M603.1 900.5h0M544.7 850.8h0M510.1 886.5h0M591.9 907.8h0M545.3 879.5h0M536.8 873h0M560.6 901.7h0M589.9 875.2h0M517.3 886.8h0M504.5 889.3h0M585.3 854.8h0M619.7 899.8h0M527 861.9h0M543.6 895.9h0M573.5 857.7h0M520.8 895.6h0M570.5 859.9h0M596.5 894.9h0M556 884.3h0M612.3 888.7h0M526.7 864.7h0M524 888.4h0M592.2 872.2h0M507.7 891.8h0M613.9 884.9h0M577.8 866.2h0M550.9 890.5h0M616.1 885.9h0M605.1 861.8h0M590 871.2h0M547.5 859.8h0M611.2 886.2h0M606.9 870.9h0M572.1 871.2h0M470.5 890.7h0M565.1 864.4h0M540.2 922.3h0M567.8 871.7h0M499.8 870h0M559.9 893h0M576.6 877.4h0M571.8 854.6h0M604.9 862.5h0M565.1 852.5h0M588.2 908.2h0M565.5 900.8h0M508.8 902.6h0M540.5 857.3h0M550.9 870.4h0M582.3 889.3h0M615.1 882.9h0M468.8 892.8h0M501.8 875.2h0M478.5 897.4h0M505 879.4h0M614.9 904.6h0M505.4 895.2h0M589 882.5h0M593.4 909.2h0M513.8 860.9h0M505.6 881.5h0M601.1 893.5h0M624.8 889.7h0M539.9 856.4h0M568.7 850.3h0M599.8 879h0M542.7 866.5h0M532.1 877h0M560.7 861.9h0M507 890h0M577.5 895.2h0M483.2 867.8h0M618.7 881.5h0M596.8 891.1h0M533.9 898.3h0M497.2 905.4h0M545 864h0M544.8 900.7h0M514.4 888h0M597.1 864.4h0M527 888.4h0M554.9 870.7h0M512.7 869.9h0M612.3 888.9h0M527.4 840.2h0M575.9 855.5h0M587.6 854.2h0M547.4 893.2h0M552.3 881.6h0M601.4 896.6h0M513.1 903.7h0M602.9 901.6h0M589.2 880.1h0M537.2 915.9h0M606 887.1h0M510.1 911.7h0M584.7 876.8h0M508.4 889.6h0M521.7 883.4h0M507.7 895.7h0M505 853.3h0M531.1 884.2h0M546.2 883h0M540.3 884.3h0M543.4 922.9h0M607.9 888.8h0M587.6 867.8h0M567.3 900.6h0M551.6 895.7h0M537.2 902.8h0M565.4 872.7h0M543.1 913.9h0M582.8 907.2h0M522.6 878.8h0M587.3 901.7h0M491 903h0M531.3 859h0M621.2 896.3h0M487.4 873.2h0M488.2 910.8h0M565.7 846.9h0M604.9 862.5h0M593.2 882.6h0M530.7 873.7h0M593 873.5h0M548.8 919h0M487.5 878.3h0M500.2 875.4h0M534 885.1h0M485.7 905.2h0M561.6 895.2h0M504 910.6h0M588.2 868.7h0M608.3 878.1h0M538.2 891.5h0M518.3 865.8h0M605.4 895h0M533.7 871.4h0M518.2 875.6h0M588.2 888.2h0M588.8 905.1h0M546.2 912.7h0M595.8 904h0M609.5 888.9h0M556.3 862.9h0M607.9 869.8h0M617.1 885h0M493.2 906.9h0M580.3 853.6h0M601.6 905.6h0M598.6 859h0M546.1 870.9h0M485.3 887.1h0M564.8 867.1h0M543.8 874.8h0M599.4 895.3h0M548.9 895.2h0M550.9 899.6h0M536.2 875.2h0M475.2 879.3h0M562.9 891.3h0M487.5 862.3h0M587.2 893.6h0M534.6 899.2h0M537.3 864.2h0M598 857.2h0M572.9 847h0M561.9 873h0M486.7 893.3h0M572.9 864.3h0M538.7 921.4h0M485.8 889.6h0M524.6 894.5h0M530.1 882.8h0M604.3 864.3h0M591.2 898.9h0M571.8 899.2h0M510.8 905.8h0M539.9 885.7h0M520.3 891.8h0M516.6 873.5h0M553.6 899.6h0M560.7 905.3h0M599 867.6h0M480 907h0M598.8 869h0M539 883.1h0M542 885.4h0M622.4 893.5h0M583.2 904.4h0M546.3 883.3h0M538.7 868.8h0M538.2 898.4h0M597.7 864.5h0M488.8 879.2h0M550.8 882.2h0M536 916.1h0M532.1 893.7h0M591.9 902h0M476.1 902.5h0M518.9 884.2h0M594.6 871.5h0M577.1 906.1h0M485.5 900h0M548.9 878h0M539.1 890.1h0M604.7 903.7h0M569.3 851.4h0M546.6 910.9h0M604.9 873.1h0M524.4 881.4h0M583.9 907.2h0M608.8 872.3h0M601.5 903.3h0M593.9 858.9h0M571.2 869.8h0M548.9 876.6h0M519.9 864.4h0M574.3 906.3h0M587 905.4h0M472.6 884h0M585.7 912.1h0M485.1 887.1h0M484.2 869.9h0M492.9 893.9h0M545.3 870.8h0M607.7 863.7h0M531.1 878.9h0M537 889.5h0M560.2 883.3h0M544.6 860.1h0M585.5 861.3h0M550.8 894.5h0M594.2 908.5h0M537.9 856.4h0M537.2 892.7h0M523.7 868.7h0M546.8 920.9h0M585.2 871.4h0M593.3 912.6h0M606.9 862.9h0M587.5 852.1h0M585.1 883.7h0M563.9 909.8h0M582.5 861.8h0M611.8 886.9h0M587 894.8h0M498.5 895.4h0M585.4 873.9h0M604.6 873.5h0M585.9 891.9h0M573.2 868.4h0M506.2 913.3h0M540.6 909.3h0M584.2 858.7h0M476 902.9h0M575.9 868.9h0M535.5 857.1h0M540 914.6h0M555.3 891.8h0M536.9 892.4h0M507.3 897.5h0M518.8 893h0M577.7 905.2h0M576 871.1h0M484.2 905h0M598.8 861.1h0M506.9 854.6h0M582.5 898.2h0M546.8 860.5h0M492.3 899.5h0M540.5 853.3h0M530.9 866.8h0M595 902.3h0M552.4 888.5h0M538.4 890.8h0M573.8 900h0M603.8 871.4h0M589.8 907.8h0M576.6 890.5h0M539.9 878.1h0M509.1 882h0M593.4 912.8h0M532 859h0M602.1 911.9h0M572.7 895.7h0M541 882.3h0M509.7 883.7h0M519 885.1h0M483.3 866.7h0M517.2 880.2h0M536.9 846.2h0M559.5 907.2h0M473.9 880.3h0M603.6 889.7h0M480.4 907.8h0M589.9 862.7h0M553.3 901h0M574.8 876h0M607.3 875.2h0M596.9 879.5h0M546.9 914.4h0M486.6 864.3h0M488 892.1h0M531 862.2h0M540.2 920.3h0M597.3 875.1h0M523.6 883.7h0M543.5 888.5h0M602.3 877.9h0M503.4 871.5h0M591 893.7h0M492.8 894h0M572.7 895.5h0M479.5 905h0M544.9 863h0M616.6 879h0M540.5 863h0M582.7 906.6h0M601.3 877.4h0M530.4 877.9h0M574 899.6h0M568.9 862h0M480.3 905.1h0M538.9 875.2h0M588.3 906.3h0M539.6 884.5h0M590.6 875.6h0M502.5 856.4h0M595.7 874.3h0M552.1 869.3h0M539.6 862.9h0M564.8 886.7h0M536.5 863h0M625.8 888.4h0M562 845.5h0M546.6 872.3h0M537.3 874.5h0M549.6 900.8h0M558.1 863.1h0M491.9 904.2h0M588.3 884.8h0M528.3 881.9h0M512.4 862.4h0M524.9 893.4h0M598.6 879.7h0M497.3 873.7h0M519.6 874.3h0M577.2 895.1h0M472.7 898.3h0M507.8 895.4h0M603.6 902.2h0M525.2 858.1h0M489.3 881.6h0M491.6 903.6h0M484.9 897.1h0M591.8 890.8h0M499.4 903.2h0M613.9 880.7h0M575.4 879.6h0M574.4 875.4h0M523.7 883.3h0M543.2 890.4h0M538.8 904.8h0M606.2 874.3h0M558.5 848.4h0M535.9 905h0M523.4 880.9h0M546.2 886.3h0M587.4 863.3h0M488.3 891h0M627.6 886.2h0M555.5 910.6h0M543.6 851h0M570.4 854.8h0M615.8 899.5h0M585.1 912.5h0M521 866.6h0M548.7 882.7h0M506.2 857.8h0M485.2 872.4h0M561 906.4h0M569.1 902.7h0M505.2 910.2h0M515.4 882.7h0M487.6 884.8h0M607 873h0M569.3 894.1h0M604.3 870.9h0M495.3 882h0M545.1 909.7h0M517 890h0M509 872.9h0M515.2 895.4h0M623.1 885.6h0M573.9 861.1h0M511.9 879.5h0M530.1 883.7h0M594.1 858.5h0M628 888.3h0M612.9 884.8h0M527.9 860.1h0M500.9 896h0M554.9 865.4h0M569 894.9h0M595.5 874.9h0M532.9 864.2h0M605.7 886.2h0M591.3 875.6h0M592 883.5h0M592.1 911.2h0M547.9 868.1h0M612.4 886.1h0M583.2 899.2h0M528.9 859.7h0M556.2 861.8h0M496.9 893h0M498.2 881h0M529.1 862.2h0M563.9 906.6h0M594 880.3h0M561.7 872.8h0M491.8 895.4h0M606.4 899.8h0M508.9 877.9h0M622.1 888.3h0M558.2 893.6h0M607.4 879.5h0M595.8 860.1h0M607.2 901.7h0M575.2 892.9h0M488.9 897.6h0M583.6 902.1h0M520 867.7h0M535.5 885h0M483.6 908h0M521.1 857.3h0M510.3 890.1h0M576.2 853.1h0M564.5 863.2h0M591.3 865h0M539.4 877h0M513.8 886.3h0M497.4 891.2h0M587 902.5h0M511.6 889.4h0M540.3 867.1h0M502.1 875.8h0M573.1 889.6h0M496.8 880.4h0M507.2 894h0M585.1 897h0M503.3 904.9h0M574 887.6h0M573 882.3h0M523.8 884.5h0M551.7 869.4h0M531.5 885.5h0M518.8 850.1h0M558.4 857.8h0M592.4 873.5h0M504.8 889.6h0M551.3 864.3h0M553 899.2h0M575.4 851.1h0M485.8 903.3h0M578.3 862.3h0M614.3 881.9h0M533.7 894.1h0M560.3 894.9h0M560.6 902.6h0M546.9 870.9h0M602.3 871.4h0M565.5 900.8h0M533.3 885.3h0M495.9 892.5h0M601.6 903.5h0M532.8 866h0M594.7 863.6h0M573.3 855.1h0M580.2 876.2h0M496.6 899.5h0M614.4 892.9h0M547.8 873.8h0M567.6 898.7h0M518.2 897.6h0M506.1 876.3h0M506.8 853.5h0M560.1 880.3h0M579 861.6h0M520.8 883.9h0M511.1 890.2h0M498.2 865.8h0M590.3 871.3h0M571.3 905.5h0M577 874.4h0M544.9 885.2h0M534.7 878.3h0M548.5 902.3h0M549.6 915.7h0M534.4 895.5h0M507.5 904.9h0M547.4 905.3h0M577.7 902.5h0M575.1 860h0M546.7 864.4h0M590.4 898.2h0M481.1 870.2h0M509.6 898.7h0M543.5 882h0M489.8 902.5h0M550.8 872.8h0M577.5 886.5h0M567.3 865.8h0M538.4 866.6h0M554.5 907.5h0M590.3 897.3h0M540.7 896.7h0M545.8 875.6h0M520.5 879.2h0M608 902.6h0M540.4 890.1h0M590 884h0M504.3 899.9h0M612.3 902.1h0M534.2 858.3h0M556.1 872.8h0M489.6 911.3h0M474.4 898.8h0M541.1 904.4h0M523.2 875.8h0M566.8 857.9h0M602.7 894.2h0M517.2 879.6h0M592.2 866.1h0M580.3 859h0M586.9 889.3h0M584.9 866.5h0M488.1 896.7h0M543 893.7h0M496.6 878.3h0M548 884h0M484.8 903.9h0M558 878.8h0M567.1 848.6h0M569 859.6h0M576.1 883h0M566.6 865.5h0M618.2 894.8h0M483.1 900h0M610.3 896.2h0M590.3 903.5h0M544.7 898h0M515.7 863.6h0M546.8 861.6h0M504.4 905.3h0M530.7 878.9h0M521.8 885.8h0M622.6 892.4h0M572.8 902.5h0M503 903.4h0M547 870.8h0M615.8 897.3h0M580.1 859.7h0M558.1 869.3h0M487 875.7h0M605.4 879.1h0M525.7 880.5h0M589.7 867.9h0M592.1 873.5h0M613.1 895.5h0M522.9 879.9h0M608.1 905.6h0M552 870h0M580.8 857.3h0M591.4 905.1h0M545 921.9h0M569 855.1h0M567.9 901.9h0M574.7 879.5h0M542.9 864.9h0M605 873.6h0M609.4 882.1h0M549.4 912h0M573.9 881.3h0M575.3 907.2h0M529.7 903.9h0M594.9 909.7h0M553.7 889.8h0M495.1 914.1h0M505.9 887.7h0M516.9 886.2h0M487.7 876.5h0M506.2 861.7h0M554.5 876h0M528.1 861.7h0M536.2 885.3h0M518.8 846.5h0M607.2 903.6h0M574.5 889.4h0M538.9 885.7h0M609.6 867.5h0M564.9 863h0M597.7 868.3h0M592.7 890.9h0M489.1 879.6h0M510 884.4h0M591.9 896.8h0M531.7 888.7h0M590.8 897.1h0M551.8 894h0M570.7 900h0M488.3 895.8h0M595.1 890.6h0M536.6 918.9h0M542.3 908.3h0M481.6 898.7h0M554.2 888.6h0M496.6 879.7h0M537.7 904.7h0M588 860.9h0M571.1 907.7h0M540.1 888.4h0M542.1 868.1h0M559 866.2h0M506.1 865.6h0M554.5 848.5h0M553.8 890h0M551.3 885.2h0M495.2 894.4h0M487.1 882.8h0M608.1 871.2h0M538.4 850.9h0M553.5 907.4h0M481.8 885.5h0M575.1 899.3h0M588.9 895.6h0M613.3 878.2h0M467.5 884.8h0M581 905.4h0M549.6 896.1h0M538.9 870.8h0M549 896.2h0M564.6 906.3h0M501.2 898.4h0M554.5 873.2h0M586.4 909.1h0M589.6 896.5h0M553.5 888.1h0M491.6 908.2h0M581 859.5h0M487.7 894.7h0M565.5 893.6h0M511.9 904.8h0M510.5 907.6h0M571.6 898.3h0M529.5 869.8h0M581.4 892.5h0M536 891.7h0M576.9 870.3h0M592.9 893h0M489.4 891h0M512 878.3h0M606.8 887.7h0M538.2 886.1h0M591 871.3h0M486.1 865.1h0M505 869.6h0M552.6 906.7h0M544.2 882.3h0M612.1 885.4h0M545.2 887.5h0M537.1 848.7h0M512.2 873.1h0M553 911.7h0M547.9 879.6h0M593.1 902.6h0M519.6 881.9h0M508.3 876.4h0M594.6 877.3h0M496.3 875.4h0M518.6 874.9h0M481.8 898.9h0M471 894.3h0M537.4 909.8h0M619.8 884.3h0M566.6 861.7h0M484.1 877.6h0M566.3 853.6h0M519.6 876.3h0M570 854.2h0M625.3 888.2h0M566.9 873.5h0M489.8 877h0M581.4 901.7h0M584.9 899.2h0M509.9 899.4h0M514.7 886.8h0M490.1 890.3h0M502.3 880.4h0M539 897.1h0M582.3 859.4h0M493.5 873.5h0M540.6 914.2h0M536.9 886.9h0M524.2 857.2h0M549.7 879.2h0M572.2 863.5h0M540.2 897.3h0M474.6 897.1h0M529.9 883.3h0M567.7 871.7h0M597 911.9h0M614.3 898.8h0M493 861.9h0M616.4 889.2h0M538.3 886h0M606.6 881.5h0M556.7 898.7h0M536.9 879.4h0M574.9 893h0M552.1 895.7h0M534.9 860.5h0M557.5 879.8h0M559.5 876.5h0M508.2 909.3h0M572 855.9h0M483.1 901.6h0M522.7 894.3h0M533.1 869.9h0M531.5 859.4h0M542.4 896h0M543.6 869.4h0M540.4 866.3h0M544.3 919.4h0M588.5 874.9h0M573.3 905.2h0M586 874.8h0M497 882.2h0M513.3 884.3h0M591.1 898.4h0M567 909.8h0M580.1 856.2h0M548.7 874.7h0M586.4 866h0M541.1 858.4h0M605.2 896.1h0M539.8 858.6h0M497.9 896.8h0M575.5 864.3h0M557.9 862.5h0M588.1 901.7h0M543.7 873.9h0M529.3 855.1h0M597.4 880.6h0M525.7 892.9h0M500.9 905h0M623.8 896.4h0M601.3 904.6h0M513.1 887.7h0M509.6 894.6h0M553.9 880.8h0M489.3 907.2h0M524.5 895.2h0M587.6 884.6h0M490.8 896.2h0M476.9 883.4h0M604 904.6h0M530.4 882.1h0M535 919.5h0M610.7 890.7h0M505.3 894.7h0M532 886h0M489.9 890.7h0M552.3 875.3h0M482.4 909.3h0M536.5 891.4h0M619.8 879.2h0M495.3 881.8h0M553.2 902.8h0M615 901.1h0M579 854.5h0M612.8 884.5h0M552.6 850.9h0M502.5 858.6h0M536.5 845.2h0M623.4 895.2h0M579.7 868h0M540 876h0M501.5 873.6h0M570.9 900.9h0M556.5 862.7h0M571.6 873.2h0M586.9 861h0M574.4 891.6h0M590.9 897.4h0M557.1 862.2h0M565.8 908.3h0M522.4 886.3h0M502.5 899h0M512.4 907.6h0M619.7 886h0M584.5 889.2h0M566.4 867.7h0M557 909.8h0M620.9 891.6h0M605.6 880.4h0M538.3 900.9h0M541.4 880.8h0M488.6 865.4h0M574.8 908.1h0M594.7 885.4h0M561.9 874.6h0M543.8 855.3h0M546.8 921.9h0M572.4 863.4h0M537.2 893.7h0M537.1 902h0M597.7 893.3h0M601.2 869.9h0M536.7 854.6h0M525.3 863.1h0M530 890.6h0M525.8 873.5h0M523.6 864.9h0M591.2 906.5h0M523.7 892.7h0M577 902h0M538 861.6h0M590 889.2h0M561 865.8h0M609.3 904.1h0M558.8 893.6h0M545.9 892h0M619.9 877.5h0M602.5 863.9h0M594.3 911.6h0M562.2 899.5h0M563.2 850.7h0M533.1 898.5h0M527.4 868h0M508.4 895.1h0M553.5 851.2h0M505.5 910.3h0M574.8 893h0M588.5 886.4h0M505 910.4h0M591 866.5h0M520.9 863.7h0M550.3 900.3h0M538.7 900.3h0M605.9 877.3h0M558.2 850.2h0M549 917h0M512 886.2h0M605.6 893.5h0M537.9 887.4h0M496.1 903h0M548.5 877.9h0M535.5 907.6h0M585.3 901.8h0M601.8 870.8h0M563.7 867.2h0M586.6 864.8h0M555.1 871.5h0M529.4 889.3h0M599.1 859.4h0M548.2 873.6h0M589.5 863.5h0M527.8 881.4h0M489.2 865.5h0M495.5 875.4h0M540.3 917.3h0M488.2 882.5h0M496.9 865.2h0M597.7 897.7h0M599.1 874.3h0M605.1 909.1h0M545.1 872.6h0M551.8 856.7h0M520.7 887.3h0M547.8 881.3h0M598.2 891.6h0M607.5 877.3h0M518.6 862.8h0M574.7 907h0M610 886.5h0M488.9 881.2h0M551.2 885.8h0M626.4 884.2h0M609.9 886.2h0M594.2 887.9h0M489.4 894.1h0M599.5 897.4h0M599.1 894.9h0M595.4 873.5h0M522.3 860.3h0M565.2 863.8h0M623.3 883.4h0M527.4 866.9h0M547.6 918h0M543.5 885.8h0M486.9 888.8h0M602.1 883.7h0M542.4 870.8h0M539.3 889.5h0M585.2 867.9h0M527.1 891.5h0M592.1 907.1h0M539.7 865.3h0M497.8 860.4h0M509.1 900h0M595.8 874.1h0M537.8 877.3h0M525.9 870.6h0M578 870.1h0M532 882.4h0M559.5 901.2h0M497.6 868.5h0M528 876.6h0M617 875.9h0M561.8 882.5h0M582.7 893.4h0M496.6 872h0M551.3 884h0M567.7 860.1h0M537.3 872.5h0M605 888h0M608.5 889.6h0M536.3 891h0M587.9 883.4h0M527.7 881.9h0M574.7 876.7h0M527.7 893.8h0M584.9 852.7h0M564.2 859.2h0M488.3 897h0M591.5 898.1h0M619.5 879.3h0M614.8 904h0M534.3 908.6h0M600.9 880.6h0M499.1 862.6h0M556.7 884.3h0M552.5 892.9h0M545.9 897.9h0M540.5 917.5h0M611.3 897.7h0M540.6 884.2h0M624.1 886.3h0M525.5 863.1h0M526.9 859.3h0M578.3 854.5h0M627 884.8h0M586.8 877.2h0M504.2 905.5h0M618.5 885.5h0M516.4 892.4h0M577.8 896.1h0M531.3 873.5h0M607.6 873.4h0M540.7 877.1h0M542.4 916.9h0M584.3 901.7h0M606.3 898h0M586 857.9h0M596.3 883.3h0M585.3 889.4h0M572.2 860.3h0M592.1 897.9h0M599.8 891.3h0M558.1 848.4h0M560.5 867.6h0M554.6 914.2h0M596.5 897.6h0M549.2 859.3h0M563.8 859h0M505.6 889.2h0M570.3 905.7h0M610.9 874.7h0M625.7 887.3h0M591 876.6h0M575.4 900.1h0M615 886.7h0M597 870.4h0M557.6 904.8h0M550.6 853.3h0M493.9 879.8h0M595 885.8h0M604.9 900.4h0M599.5 912.2h0M551.9 862.1h0M572.6 858.5h0M580.2 906h0M609.3 881.8h0M583 909.5h0M617.6 894.6h0M542.1 888.4h0M500.8 893.6h0M508.4 901.2h0M589.4 863.8h0M578.5 883.7h0M610.6 902.5h0M499.3 903.5h0M520.5 863.6h0M592.5 874.2h0M589.1 888h0M550.1 869.6h0M532.3 895.8h0M585 886.5h0M506.6 906.7h0M522.9 894.2h0M597.7 903.2h0M537.9 848.1h0M582.6 849.1h0M563.3 882.3h0M610.4 886.9h0M578.3 876.8h0M614.9 872.4h0M617.1 882.2h0M528.7 858.9h0M575.2 893.6h0M602.7 910h0M493.9 905.3h0M597.9 869.3h0M547.6 861.8h0M497.4 858.2h0M510.4 893.5h0M536.2 895.4h0M568.4 847.1h0M569.2 905.6h0M545.1 879.9h0M566.4 857.7h0M489.2 869.4h0M496.8 887.2h0M566.5 898.4h0M507.1 890.8h0M571.6 872.7h0M509.2 858.1h0M568.9 898.4h0M600.5 862.7h0M526.9 888.8h0M615.7 886.1h0M480.2 907.7h0M490.1 903h0M556.7 848h0M582.1 888.2h0M572 858.3h0M547.9 864h0M499.5 857.7h0M619.1 900.8h0M597.5 909.2h0M516.5 874.2h0M593.8 873h0M561.8 877.2h0M618.6 882.5h0M594.7 911.8h0M491.3 886.9h0M608.2 897.6h0M483.6 866.7h0M569.6 857.6h0M548.9 880h0M589.7 906.5h0M498.5 898.7h0M556.6 847.9h0M480.8 905.4h0M611.5 883.6h0M591.5 913.2h0M602.4 899h0M576.9 897.8h0M586.7 905.6h0M596.9 891.7h0M497.1 858h0M551.9 890.8h0M547.4 866.1h0M546.1 874.2h0M523.5 866h0M555.5 866h0M542.3 896h0M575.8 881.1h0M493 887.6h0M587.9 902.1h0M519.8 875.6h0M501.6 896.4h0M538 892.3h0M596.9 904.9h0M606.4 897.7h0M581.3 855.8h0M587.8 862.8h0M597.6 905.7h0M557.3 906h0M597.6 898.9h0M505.7 871.9h0M524.5 850.3h0M531.7 867.5h0M490.5 913h0M518.8 886.5h0M482.5 899.5h0M510.8 909.7h0M595.5 892h0M545.3 868.3h0M551.8 896.6h0M547.1 895.2h0M590.6 903.5h0M500.7 864.5h0M590.7 852.4h0M527.3 871.9h0M622.8 896.9h0M503.1 890.4h0M562.7 907.5h0M609.4 899.8h0M586 900h0M507.2 893.4h0M574.5 865.7h0M546.4 898.6h0M500.7 873.5h0M528.9 891.2h0M572.9 871.8h0M571.5 882.3h0M507.3 891.4h0M534.3 872h0M534 895.6h0M508.7 875.2h0M491.7 896.4h0M511.7 875.6h0M606.1 909.7h0M534.8 879.4h0M548.6 881.9h0M543.2 903.2h0M612 871.8h0M540.8 863h0M546.8 878.5h0M501.4 907h0M556.1 888.4h0M576 879h0M590.9 906.3h0M536.3 893.2h0M586.1 864.5h0M536.5 856.8h0M506.8 881.7h0M493.5 902.6h0M596.5 869.5h0M556.2 878.4h0M601.8 908.6h0M599.9 867.2h0M554.2 867.8h0M543.7 898h0M503.6 859.2h0M589.9 882.1h0M499.1 875.9h0M513.1 872.3h0M571.6 898.8h0M504.5 874.6h0M572.6 859.2h0M528.8 891.9h0M514 893.3h0M620.1 889.6h0M583.3 869.5h0M599.1 912.8h0M494.1 878.7h0M513.2 857h0M520.3 883.1h0M552.1 904.1h0M597.8 865.3h0M535 876.6h0M529.1 870.8h0M592.5 876.9h0M558.1 895.4h0M592.3 872.1h0M486.9 899.1h0M486.3 893.3h0M605 892.9h0M535.3 886.1h0M554.4 872.9h0M522.9 882.3h0M588.1 889.9h0M604.4 861.7h0M551.8 879h0M542.9 881.1h0M505.6 864h0M560 873.4h0M532 873.3h0M518.4 886h0M561.6 908.3h0M498.7 877.8h0M583.8 855h0M564.2 898.2h0M590.2 873.5h0M565.5 896.8h0M542.6 896.8h0M621.9 897.1h0M536.1 892.8h0M588 884.2h0M551.6 856h0M525.9 889.6h0M590.2 908.9h0M598 899.4h0M576.1 911h0M558.6 858.3h0M617.4 887h0M472 876.6h0M510.2 864.4h0M569.3 866.9h0M619.9 891.4h0M509.5 889.5h0M613.5 882.3h0M517.1 841.8h0M606.2 877.3h0M574.4 856.8h0M571.8 908.3h0M536.3 884.5h0M525.8 885.5h0M552.5 904.1h0M578.2 900.1h0M535.4 883.3h0M612.4 894.5h0M596.2 902.4h0M561.5 891h0M598 872.4h0M590.7 906.5h0M604.9 896.1h0M592.2 856.5h0M499.1 896.8h0M551.7 875.6h0M591.3 911.2h0M558.6 846.2h0M616.7 880.7h0M538.5 894.7h0M574.8 865.5h0M562.9 865.1h0M565.5 906.7h0M599.8 904.9h0M553.5 872.3h0M508.1 899.7h0M486.5 892.5h0M497 878.2h0M559.5 882.1h0M565.2 869h0M485.6 911.4h0M487.6 904h0M523.2 858.1h0M578.2 868.2h0M548.4 877.5h0M599.1 877.8h0M534.9 893.8h0M579.8 887.1h0M522.6 870.9h0M506.9 857.4h0M582.2 902.6h0M577.9 874.4h0M567.3 893.1h0M544.2 913.8h0M540.6 898.6h0M600.5 904.6h0M599.9 912.6h0M607.6 894.5h0M509.7 900.7h0M597 859.6h0M560.2 862.2h0M498.2 888.8h0M542.6 892.1h0M565.7 899.2h0M572 858.8h0M552.2 910.5h0M505.3 891h0M601.2 877.2h0M623.4 885.3h0M606.9 900.4h0M489.8 889.8h0M536.9 922.9h0M554.8 907.9h0M568.7 877.6h0M499.3 858.3h0M492 875.8h0M576 866.4h0M490.3 875.8h0M492.8 876h0M482.3 898.3h0M512.6 906.5h0M560.3 868.9h0M515.1 891.6h0M526.5 889.4h0M497.6 896.1h0M549.6 887.5h0M585.5 863.6h0M580.4 872.7h0M594 893.5h0M544.9 901h0M510.3 881.2h0M619.8 892.8h0M551.2 888.5h0M544.1 920.6h0M585.7 891.2h0M514.5 876.8h0M581.9 898.8h0M608 866.8h0M546.7 886.1h0M621.9 881.4h0M490 872.7h0M521.4 883.7h0M589.3 880.8h0M552.5 873.2h0M486.1 897.9h0M574.8 867.8h0M577.1 909.5h0M574.5 909.6h0M591.8 899.8h0M537.2 894.1h0M535.4 909.1h0M532.6 911.2h0M550.5 870.2h0M513.5 878.9h0M563.4 868h0M537.9 885.5h0M559.2 883.2h0M600.4 866.5h0M567.7 901.4h0M495.1 894.7h0M621.3 885.7h0M565.4 872.3h0M576.2 855.7h0M609.1 868.5h0M524.2 871h0M547.6 898.7h0M588.7 863h0M598.9 888.7h0M546 898.1h0M607.8 904.6h0M584.7 880h0M547.8 888.9h0M496 879.3h0M502.8 886.4h0M517.8 879.5h0M541.1 862.8h0M503.5 896.8h0M564.3 855.5h0M519.2 878.5h0M620.5 890.5h0M569.6 899.3h0M568 909.4h0M565.8 896.3h0M571.4 910.9h0M567.7 872.5h0M483.6 902.4h0M494.3 891.3h0M475.3 872h0M519.8 889.9h0M535.3 921h0M552 895.8h0M516.5 873.6h0M516.9 852.4h0M610.4 884.6h0M549.1 881.4h0M548.3 861.2h0M585.9 873h0M558.9 861.5h0M480.5 906.7h0M598 868.7h0M483.8 906.4h0M580.3 859.2h0M589.6 906.8h0M474.8 898.1h0M510.3 884.5h0M506.7 906.7h0M569.2 910.6h0M541.3 919h0M520.6 873.5h0M600.2 905.2h0M482.1 871.3h0M548.6 887.7h0M593.1 905.2h0M552 914.2h0M503.3 897.2h0M534.4 859h0M554.4 857.2h0M534.9 906.8h0M519.2 878h0M540.6 894.2h0M561.1 870.4h0M545.7 881.3h0M580.4 893.9h0M561.2 852.2h0M604.2 903.9h0M564.4 903h0M577 858.8h0M627 892.1h0M506.4 910.1h0M532 862.7h0M534.3 877.5h0M503 905.3h0M576.1 852.1h0M607.4 891.4h0M537.8 851.5h0M514.3 886.4h0M516.7 884.4h0M548.7 908.2h0M536 889.5h0M538.8 876.5h0M569.4 851.4h0M598.8 896h0M521.2 853.8h0M534 865.2h0M622.7 886.2h0M523.7 890.6h0M499.2 878.9h0M527.4 881.8h0M516.4 889.9h0M608.2 894h0M531.7 858.7h0M486.4 897.9h0M510.6 860.6h0M549.1 895.2h0M590.8 860.1h0M486.8 880.9h0M584.2 865h0M584.1 850h0M575.7 879.4h0M545.3 892.4h0M607.2 872.6h0M507.7 902.7h0M555.2 908.8h0M560.6 865.6h0M477.1 903.1h0M513.1 882.1h0M618.5 880.9h0M611 892.6h0M538.4 900.9h0M557.2 895.1h0M566.3 861.4h0M597.5 890.5h0M575 906.2h0M567.8 866.4h0M513.3 866.8h0M521.2 892.8h0M513.3 882.7h0M498.2 894.4h0M605.1 901h0M527.6 876.8h0M540.4 911.3h0M551.9 874.8h0M608.6 887.3h0M581 900.5h0M581.5 868.4h0M537.9 914.3h0M553.8 910.6h0M543 892.7h0M596.4 893h0M518.4 874.9h0M563.4 878.9h0M519.3 889.6h0M551.3 896.9h0M611.4 884.3h0M525.7 876.6h0M608.8 904h0M512.1 905.7h0M594.3 874h0M491.5 892.3h0M569.2 869.2h0M564.1 870.6h0M548.8 890.8h0M575.1 871.2h0M550.2 891.8h0M498.3 861.8h0M584 910.3h0M583.1 855.9h0M494.8 873.3h0M522.5 874.8h0M590 905.9h0M536 847.8h0M506.4 903.9h0M488.7 883.8h0M498.5 902.8h0M596.6 860.9h0M566.7 855.9h0M599.2 900.4h0M625.7 892.3h0M533.9 842.2h0M543.4 894h0M584.8 867.4h0M501 891h0M582.6 901.3h0M569.9 873.4h0M593.1 901.1h0M534.9 861.6h0M544 893.2h0M571.1 904.7h0M487.4 910.5h0M599.2 891.2h0M617.8 892.5h0M505.5 896.6h0M511.7 883.7h0M539.4 877.6h0M612.4 878.4h0M602.4 865.2h0M539.8 886.2h0M563.8 866.9h0M493.4 866.8h0M490.7 891.6h0M493.7 901.2h0M519.2 844.7h0M568.4 866h0M593.5 911.1h0M503.5 870.9h0M573.3 854.6h0M552.1 908.1h0M506.8 864.1h0M551.4 888.3h0M553.3 871.3h0M559.4 865.1h0M544.8 888h0M538.4 863.8h0M559 885.1h0M576.3 879.6h0M538.1 860.2h0M508.7 902.8h0M563.3 859.8h0M542.9 878h0M608.3 865.2h0M579.9 878.9h0M475.4 885.1h0M587.4 891.1h0M552.4 877.1h0M564.5 874.8h0M579.6 906.4h0M546.7 861h0M537.4 866.4h0M504.4 888.5h0M481.2 907.3h0M546.7 892.4h0M545.8 898.9h0M615.6 888.8h0M516.7 892.4h0M502.9 898h0M498.7 882.5h0M515.4 893.9h0M524.5 891.3h0M576.6 911h0M559.9 896.4h0M551.9 858.7h0M555.9 897.5h0M550.6 907.1h0M531.2 879h0M571.9 858.6h0M599.2 873.1h0M622.9 898.2h0M544.2 865.2h0M510 911.7h0M573.7 893h0M563.7 889.6h0M587.4 900.2h0M523.5 884.1h0M545.5 905.6h0M516 873.5h0M574.1 894.8h0M576.3 902.2h0M514.9 890.8h0M608.9 872.5h0M562.1 902.8h0M541.9 911.4h0M519.1 866.8h0M553.1 888.3h0M510.3 891.8h0M549.4 865.7h0M543.4 895h0M546.2 879.2h0M576.5 881.2h0M588.2 851.1h0M565.3 858.2h0M598.4 866h0M497.6 913.5h0M552.7 894.3h0M567.8 871.2h0M494.4 899.5h0M557.5 899.9h0M500.3 863.7h0M535 858.9h0M568.8 892.8h0M543.3 919.3h0M576 869.5h0M527.3 885.9h0M506.1 904h0M594.3 860.1h0M539 899.7h0M590.2 910.2h0M613.3 882.6h0M526.2 872.2h0M541.1 888.9h0M547.1 890.7h0M623.2 896.1h0M510.5 866.7h0M502.2 911.5h0M555.8 885.9h0M503.9 883h0M619.2 881.2h0M539.4 893.3h0M487.8 878.5h0M517.7 872.8h0M555.9 892.1h0M549.1 877.6h0M550.3 862.5h0M557.4 894.7h0M587.6 893.4h0M532.3 866.7h0M543.2 860h0M546.6 857h0M580.4 872h0M548 878.4h0M582.4 892.6h0M552.1 897.9h0M581.8 848.3h0M567.4 901.1h0M555.4 854.5h0M614.1 874h0M573.1 907.4h0M596.2 878.2h0M583.2 869.3h0M512.8 891.9h0M541.8 850.5h0M504.4 858.2h0M509.9 892.3h0M501.9 891h0M587.4 852.2h0M532.8 872.3h0M512.5 904.2h0M501 883.3h0M539.8 878.2h0M550.8 885.7h0M550.4 876.7h0M550.9 903.5h0M571.9 897.5h0M528.3 892.6h0M504.2 853.9h0M483.7 901.9h0M582.7 864.2h0M572.4 905.6h0M560.1 895.6h0M550.7 900.4h0M487.3 873.4h0M552.9 861.9h0M599.8 890.4h0M598.8 894.1h0M566.3 850.7h0M505.2 879.8h0M491.2 911.7h0M541.9 855.2h0M508.2 868.2h0M501.5 898.8h0M575.8 885.4h0M514.8 902.9h0M546 899.7h0M579.8 904.8h0M566.7 861h0M586.1 906.3h0M504 906.7h0M619.9 885.4h0M551.8 866.2h0M490.7 899.2h0M572.1 867.9h0M514.6 876h0M559.3 896.2h0M558 861.7h0M563.5 872.3h0M543.1 878.5h0M545.7 879.3h0M480.3 900.4h0M536.4 858.9h0M557.5 909h0M605.4 889.2h0M559.4 872.5h0M508.3 880.5h0M584.5 856.5h0M626.3 888.6h0M537.4 893.5h0M607.4 904.7h0M582.8 895.7h0M529.8 866.5h0M562.1 863.1h0M604.4 890.6h0M487.5 901.6h0M546.6 888.6h0M559.8 863h0M539.6 853.7h0M566.5 879.4h0M578.8 909.2h0M517.1 876.4h0M602 866.4h0M504.1 905.5h0M598.9 894.1h0M567 860.8h0M517.1 879.2h0M612.5 889.4h0M611.4 895.5h0M495.3 902h0M537 852.2h0M556.2 898.9h0M567.4 862.5h0M523.4 884h0M516.6 899.9h0M497.6 875.1h0M617.1 885h0M519.3 891.8h0M529.9 884h0M510.2 875.5h0M532.7 884.6h0M515.1 873.7h0M498.7 870.7h0M626.4 887.8h0M595.4 909.9h0M484.2 866h0M484.5 899.4h0M547.5 918.6h0M531.1 861.3h0M489.6 874.4h0M516.9 871.7h0M488.4 890.2h0M582.2 893.2h0M591.1 884.3h0M550.6 860.9h0M513.1 898.1h0M521 872.8h0M557.5 885.5h0M567.2 891.4h0M580.8 857.5h0M564.9 849.3h0M553.3 862h0M575.5 900.7h0M613.8 881.8h0M489 888.1h0M554.2 862.2h0M516.4 853.4h0M480.8 894h0M548 915.9h0M509.2 886.5h0M617.3 882.9h0M612.7 882.7h0M554.9 907.2h0M540.2 874.4h0M532.6 883.4h0M549.8 900.7h0M538 891h0M602.9 898.3h0M521.7 856.4h0M554.1 868.9h0M609 885.6h0M575.7 885.9h0M611.9 882.6h0M486.4 897.9h0M584.6 894.4h0M529.6 865.4h0M613 873.4h0M502.5 912.8h0M556.1 899.4h0M536.4 887.7h0M608.7 884h0M614.3 891.5h0M588.7 857h0M603.8 900.2h0M590.7 891.7h0M492 907.9h0M498.5 886.9h0M578.9 858.4h0M540.1 898.7h0M598.9 867.4h0M610.6 876.2h0M600.7 900.3h0M501.5 873.2h0M516 883.4h0M492.2 874.3h0M602.9 890.2h0M506.1 875.1h0M566.9 858.8h0M611.7 885h0M529.1 865.9h0M546.6 905.1h0M488 889.8h0M567.2 861.4h0M565.5 847.4h0M614.1 876.9h0M512 901.9h0M538.2 883.9h0M596.1 874h0M541.1 908.8h0M537.8 918.6h0M566.6 849.6h0M542.8 861.8h0M613.2 888.5h0M552.5 877.4h0M578.6 890.1h0M549.8 861.3h0M553.6 883.5h0M503.9 890.8h0M517.3 895.9h0M606 871h0M586 875.2h0M579.5 868.8h0M494.6 884.9h0M510.4 877.6h0M530.6 874.6h0M579 898.5h0M566.3 897.9h0M524.2 845.8h0M541.6 864h0M527.8 871.6h0M534.6 902.4h0M480 868.1h0M510.2 907.2h0M587.7 895.5h0M527.7 862.2h0M511.8 906.2h0M480.7 901.9h0M496.3 900.1h0M543.6 887.8h0M546.4 911.9h0M563.7 868.1h0M504 905h0M498.9 901.7h0M600.4 894.1h0M585.9 894.5h0M574.4 882.2h0M494.4 880.1h0M548.2 884.7h0M553.3 866.6h0M508.7 892.1h0M534.8 900.4h0M534.4 892.1h0M537.1 858.1h0M504.2 896.4h0M615 883h0M560.9 873.2h0M583.8 872.6h0M576.7 872.5h0M586.3 906.7h0M577.8 874.2h0M521.1 891.8h0M585.3 875.3h0M542.6 918.3h0M588.2 906.6h0M584.9 893.2h0M614.4 902.5h0M549.2 850.3h0M582.3 864.9h0M580 905.2h0M579.7 908.1h0M515.2 878.2h0M545.1 909h0M574.5 909.8h0M544.5 911.3h0M554.2 897.3h0M562.1 860.3h0M613.1 904.8h0M589.3 912h0M553.5 866.2h0M489.9 878.8h0M578.5 879.8h0M558 858.6h0M603.8 871.7h0M549.4 878.3h0M498.9 892h0M580.2 866.9h0M501.6 868h0M536 856.5h0M590.4 881h0M500.1 875.3h0M537.2 899.5h0M559.7 870.9h0M619.4 880.4h0M520.1 856.6h0M579.7 856.6h0M585 878.5h0M565.5 902.6h0M535.3 918.8h0M549.5 918.1h0M545.8 869.2h0M556.1 880.9h0M535 857.6h0M527.1 863.6h0M490.5 876.1h0M577.1 888h0M599.6 891.4h0M500.1 888.2h0M515.3 887.1h0M537.3 906.4h0M543.8 857.5h0M534.2 869.5h0M488.9 904.6h0M509.2 909.4h0M574.8 861h0M607.7 874.5h0M552.3 875.6h0M526.8 863.3h0M571.8 848.5h0M541.3 881.7h0M617.7 892.1h0M529.5 857.8h0M501.6 870.2h0M527.5 859.5h0M573.4 863.1h0M516.7 875.5h0M566.6 859.1h0M588.3 886.8h0M474.1 893.5h0M549.2 872.5h0M525.7 889.1h0M575.5 890.7h0M582.5 883h0M548.6 889.9h0M555 885.9h0M589.7 894.7h0M531.9 892.6h0M556.6 864.3h0M623.8 894.5h0M496.1 904.9h0M549.1 916.7h0M533.5 865.1h0M481.5 905.8h0M503.5 910.5h0M502.5 874.2h0M532.7 916.4h0M604.5 896.9h0M553 907.3h0M592.9 871.5h0M555.3 915.3h0M504.1 899.5h0M528.9 862.5h0M596.4 863.2h0M552.9 889.5h0M517.4 877.5h0M573.9 876.3h0M545.5 861.5h0M540.6 850.2h0M494.5 900.2h0M588.1 903.8h0M553.3 910.6h0M544.2 861.8h0M537.4 919.1h0M503.3 879.5h0M586.6 888.1h0M572.1 898.2h0M502.6 858.6h0M558.9 855.2h0M614.7 905.3h0M575.9 880h0M557.7 868.4h0M577.9 870.7h0M600.1 899.7h0M498.9 891.1h0M519.5 876.3h0M547.4 909.8h0M530.6 886h0M535 891.2h0M594.5 871.5h0M582 901.4h0M545 895.2h0M598.1 868.3h0M507.2 899.7h0M607.4 870.7h0M541.3 861.2h0M609.3 891.7h0M516.1 881h0M534.3 894.2h0M613.7 872.8h0M511.2 852.7h0M545 877.1h0M477.1 902.3h0M529.2 845.6h0M529.4 857.3h0M558.7 882.4h0M534.3 868.9h0M525.3 869.1h0M540.3 859.8h0M489.9 896.2h0M564.6 866.9h0M600.6 898.1h0M536.3 856.2h0M520.4 900.2h0M585.5 908.5h0M486.2 890.6h0M604.9 871.4h0M569.6 909.2h0M523.6 860.9h0M573 858.3h0M496.6 901.1h0M569.5 901.7h0M493.8 907.3h0M614.1 905.9h0M528.2 853.6h0M613.4 875.4h0M554.3 910.6h0M581.2 860.7h0M595.4 896.1h0M498 901.2h0M594.6 855.5h0M554 873.5h0M544.9 899.3h0M557.4 873.6h0M607.5 903.8h0M582.6 859.7h0M485.4 871.9h0M513.3 866.9h0M525.4 891.3h0M610.5 889h0M538.4 853.6h0M511.1 858.1h0M586.6 873.9h0M531.7 863.2h0M532.9 892.3h0M576.2 873.6h0M562.5 854.4h0M561.2 900.1h0M539 857.9h0M615.1 897.3h0M587 859.8h0M619.2 896.4h0M623.4 886.8h0M473.4 876.2h0M526.4 880.1h0M515.7 889.9h0M564.1 856.3h0M489.3 890.6h0M502.7 904.7h0M491.2 912.3h0M627.4 886.8h0M554.9 891.3h0M521.9 861.4h0M521.1 849.3h0M523.8 883.4h0M481.2 870.2h0M599.7 898.5h0M597.5 877.8h0M622.7 897.4h0M588 861.5h0M500.2 883.3h0M544.4 861.4h0M513.6 879.5h0M591.7 883.9h0M592 892h0M539.4 862h0M540.3 902.3h0M587.4 904.9h0M538.2 909.6h0M615.5 874.7h0M527.9 886.1h0M565.3 844.8h0M562.4 872.6h0M525.9 857.4h0M561.1 898.3h0M620.7 888.4h0M550.7 900.6h0M526.3 875.3h0M543.8 898h0M507.7 884.4h0M540.1 859h0M576.1 852.2h0M618.8 900.7h0M587.3 882.2h0M524.7 865.7h0M627.4 887.6h0M543.1 892.5h0M621.5 880.6h0M504.1 891.1h0M543.9 867.6h0M619.3 885.4h0M603.7 860.3h0M582 879.9h0M535 921h0M529.6 843.9h0M608.8 880.8h0M544.4 892.3h0M593.7 861.4h0M590.8 866.4h0M574.8 897.1h0M585.9 867h0M522.9 883.6h0M529.8 874.4h0M506.3 858.1h0M563.5 855.8h0M497.7 857.2h0M583.3 884.1h0M520.7 864.4h0M525 886.4h0M591.7 880.4h0M554.9 864.2h0M568.6 855.2h0M588.9 902.8h0M503.7 908.6h0M609.7 877.6h0M620.5 878.5h0M624.1 894.2h0M511.2 876.9h0M499.4 858.7h0M508.6 874.4h0M540.5 910.6h0M605.7 895.8h0M516.4 883.3h0M593.6 891.3h0M528.2 887h0M530.8 885.8h0M507.1 855.6h0M548.1 899h0M557.3 897.7h0M509.3 866.7h0M596.1 880.5h0M536.4 866.9h0M496.1 903.2h0M599.8 867.4h0M578.2 868.4h0M570.4 893.7h0M598 859.5h0M563.2 859.4h0M537.9 888.2h0M591.5 873.1h0M538.1 894.7h0M532.2 900h0M506.9 852.4h0M552.2 915.2h0M507 852.5h0M522.6 892.8h0M619.3 886.8h0M484.4 865.5h0M537.7 852.3h0M595.3 913.1h0M567.8 863.4h0M506.7 870.8h0M612.6 875.1h0M553.5 884h0M563.6 869.2h0M513.9 874.1h0M544.9 899.3h0M536 890.5h0M532.2 893h0M510.7 893h0M545 860h0M595.5 868.9h0M536.9 896.8h0M551.3 915.2h0M483.6 867.1h0M611 886.6h0M542 891.4h0M582.3 889.4h0M486.2 904.6h0M540.7 873.3h0M553.9 880h0M544.1 901.2h0M616.3 895.7h0M526.2 889.7h0M561.4 882.3h0M599.4 896.1h0M545.3 852.4h0M538.6 849.5h0M553.2 908.4h0M538.6 906.4h0M601 874h0M605 867.2h0M609.9 901.9h0M494.5 861.5h0M532.5 892.5h0M597.6 911.5h0M599.6 877.9h0M579.4 869.9h0M555.2 896.7h0M505.1 868.6h0M517.5 890.8h0M609.3 867.5h0M612.5 888.6h0M576.4 866.1h0M513.6 889.5h0M565.5 869.3h0M565.9 856.6h0M565.7 899.6h0M498.3 861.4h0M487.1 900.9h0M519.3 867.6h0M559.4 858.9h0M596 870.8h0M613.1 896h0M585.8 871.4h0M495.8 896.2h0M508.7 905.3h0M595.4 877.9h0M590.5 906.3h0M594.7 910.4h0M557.3 901.2h0M499.9 900.3h0M518.4 885.5h0M489.9 874.5h0M551.2 873.7h0M583.5 890.8h0M615.6 874.1h0M546.3 862.8h0M595 881.6h0M582.5 864.8h0M492.5 890h0M556.5 909.4h0M534 857.6h0M491.3 878.7h0M538.6 873.1h0M546.5 899.8h0M546.4 904.2h0M582.8 900.5h0M548.9 903.4h0M554.9 883.5h0M499.5 860.3h0M592.5 863.9h0M506.7 880h0M614.4 880.3h0M584.3 910.6h0M539.9 865.1h0M573.6 880.4h0M566.1 864.9h0M545.1 906.2h0M550.7 911.3h0M565 845.3h0M533.1 888.9h0M560.4 894.5h0M564.5 859.4h0M591 855.1h0M496.7 890.9h0M510.6 911h0M589.5 875.2h0M611.8 894.4h0M542.4 880.9h0M507.8 866.2h0M546 862.5h0M610.6 885.1h0M507.6 877.4h0M533.8 890.3h0M558 905h0M514.5 887.2h0M510 911.5h0M594.9 903.5h0M588.4 867.1h0M616.6 899.3h0M542.9 873.2h0M556 861.2h0M564.4 908.1h0M545.8 853.3h0M556.5 890.9h0M491.3 863.1h0M508.6 882h0M592.7 862.9h0M570.9 858h0M490.9 897.2h0M616.5 901.4h0M491.6 899h0M607.6 902.3h0M577.9 897.8h0M506.2 905.1h0M535.2 888.2h0M580.4 898.2h0M531.9 894.3h0M567.3 876.4h0M570.9 867.7h0M566.9 893.3h0M562.2 901.7h0M538.5 908.6h0M508 902.8h0M548.5 903.2h0M585 870.3h0M593.3 900.1h0M590.7 851.8h0M531.2 892.8h0M542.8 882.9h0M610.9 901.2h0M561.9 862.9h0M583.1 896.9h0M573.8 894.4h0M540.1 871.9h0M615.7 886.3h0M517.2 852.9h0M501.2 894.7h0M588.5 861.5h0M565.4 898.7h0M550.3 892.6h0M590.7 861.7h0M481.6 874h0M542.3 876.7h0M607.2 884.5h0M610 889.3h0M556.8 888.8h0M533 919h0M584.5 883.9h0M601.1 912.3h0M582.8 852.3h0M539 877.6h0M608.2 898.1h0M581.1 867.5h0M518.8 879.2h0M616.8 876.2h0M512.5 884.6h0M623 897.5h0M532.2 868h0M498 900.2h0M600.7 877.9h0M542.3 899.2h0M485.2 902.4h0M567.5 852.3h0M575.4 893.3h0M538.9 847.2h0M597.4 877.1h0M534.4 877.5h0M543.6 873.4h0M529.9 883.1h0M527.8 870.6h0M546.5 895.1h0M508.3 888.7h0M511.9 880.3h0M624.1 882.4h0M536.7 860.8h0M594.7 890.7h0M603.2 868.2h0M522.9 875.2h0M526.6 859.1h0M553.4 899h0M532.8 916.3h0M507.1 873.1h0M546.2 890.3h0M487.8 863.3h0M595 895h0M490.4 864.9h0M581.4 882.9h0M500.3 892.8h0M578.6 880h0M612.2 894.1h0M584.2 868h0M584.5 899.7h0M591.3 885.6h0M566.5 854h0M615 882.3h0M488.6 874.1h0M567.8 851.4h0M610.4 880.8h0M591.1 883.5h0M623.2 883.9h0M542.8 906.1h0M487.4 867.3h0M585.6 871.2h0M560.9 859.4h0M610.5 886.6h0M501.7 901.6h0M515.6 861.1h0M564.6 868.5h0M536 901.2h0M522.1 882.8h0M505.5 862.4h0M546.9 894.3h0M579 869.2h0M509.2 898.9h0M561.6 864.7h0M573.7 889.8h0M569.2 894.1h0M531.6 888.1h0M487.1 875.9h0M523.8 894.9h0M529.6 877.5h0M572.6 907.3h0M503.7 880.8h0M596.3 873.9h0M568 900.4h0M496.2 860.9h0M582.6 876.4h0M529.8 877.9h0M498.9 897.9h0M560.3 866.8h0M523.1 843.3h0M620.8 891.2h0M509.1 912.6h0M553.6 892.9h0M578.1 870.3h0M559.1 909.1h0M584.7 891.9h0M598.1 879.9h0M533.9 877.6h0M532.9 886.6h0M472.7 897.6h0M603.2 893.5h0M554.1 894.9h0M572.5 871.6h0M520 874.2h0M536.2 921.7h0M490.7 902.6h0M504.8 895.8h0M604.5 891h0M552.5 859.4h0M597.3 889.7h0M619.7 893.6h0M550.9 885.5h0M573.7 857.8h0M535.7 916.2h0M520.7 871.3h0M528.5 885.1h0M528.1 872.4h0M613.7 896.5h0M557 858h0M505 905.4h0M512.8 869h0M524.3 887.2h0M549 883.4h0M560.3 870.4h0M505.1 905.6h0M581.1 865.3h0M477.4 900.6h0M469.3 892h0M617.5 899.4h0M599.3 865.7h0M481.5 893.2h0M516.2 857.3h0M546.7 902.6h0M593.9 872.9h0M559.5 851.5h0M624.7 895.1h0M543.2 858.5h0M574.7 885.9h0M529.5 848.3h0M612.9 891.1h0M587.7 867.8h0M492 908.1h0M561.8 907h0M493.6 893h0M538 910.5h0M503.7 892.9h0M582.8 894.7h0M599 872.4h0M603.7 898.4h0M502.4 903h0M618 882.7h0" stroke="#c9c9cf" stroke-width="1.45" stroke-linecap="round" fill="none"/>
<path d="M577.6 888.8h0M613.8 896.2h0M592 861.3h0M584.4 908h0M545.1 859h0M546.7 917.4h0M538.4 885.7h0M560.1 847.2h0M532.7 899.8h0M512.2 896.4h0M501.3 881.7h0M594.3 890.7h0M593.1 862.5h0M523.6 890.9h0M515.4 868.4h0M558.8 902.2h0M506.8 853.5h0M521.6 889.7h0M605.4 867.1h0M595.9 868h0M574.6 855.4h0M540.5 850.2h0M586.4 906.4h0M510.7 911.2h0M541 895h0M622.1 893.8h0M622.1 892h0M578 873.1h0M575.3 883.8h0M560.2 861.7h0M521 879h0M586 857.6h0M627.7 887h0M545.7 860.4h0M605.3 872.9h0M555 878.9h0M572 905h0M528.2 857.6h0M579.9 850.9h0M474.6 874.8h0M480.1 901.5h0M556.5 882h0M503.6 880.9h0M535.5 920.7h0M583.2 858.4h0M570.7 854.8h0M583.8 863.1h0M574.5 879.6h0M497.6 867.6h0M529.5 864.2h0M500.2 895.4h0M565.7 865.3h0M556 867.2h0M540.2 919.1h0M595.6 908.4h0M609.9 902.4h0M514.9 893h0M538.8 894.2h0M543.3 886.5h0M603.5 895.4h0M533.1 863.4h0M574.3 874.5h0M606.7 887h0M484.2 885.1h0M556.5 879.9h0M600.5 908.4h0M557.4 894.5h0M615.5 893.7h0M518.3 881h0M588 908.9h0M585.2 861h0M530.7 892.8h0M493.7 896.3h0M498.6 877.1h0M559.8 864.9h0M570.6 860h0M603.5 906.6h0M585.8 853.5h0M605.9 905.6h0M509.8 864.2h0M579.7 860h0M491.3 894.3h0M616.7 887.6h0M595.8 892.7h0M503.5 908h0M614.3 892.2h0M618.2 899.2h0M578.1 864.7h0M528 899.8h0M504.1 907.8h0M507.8 871.6h0M488 879.7h0M569.1 898.3h0M510.9 872.5h0M569 895.7h0M545.6 872.3h0M538 872.9h0M592.5 874.1h0M591.8 908.7h0M491.4 871.5h0M576.2 895.6h0M509.9 909.4h0M488.2 875.8h0M499.6 896.6h0M555.2 873.2h0M543.9 860.5h0M546.9 855h0M574.7 882.2h0M538.2 883.3h0M614.1 883.9h0M573.1 884.4h0M536.2 878.6h0M512.3 858.2h0M609.1 903.6h0M542.9 921.8h0M604.6 908.9h0M591.6 904.3h0M556.9 877.7h0M565.2 860.4h0M580 899.6h0M484.5 902.6h0M492.3 900.2h0M496.1 900.7h0M508.5 859.7h0M541.5 885.6h0M531.8 866.4h0M518 886.9h0M567.6 873.5h0M542.9 881h0M546.4 893.4h0M569.7 898h0M541.6 879.4h0M542.8 904.9h0M508.9 888.2h0M506.5 855.4h0M605.2 909.8h0M542.4 908.7h0M529.2 891.7h0M570.9 850.3h0M522.9 874h0M513 861.7h0M532.2 897.3h0M586.7 859.6h0M579.5 876.5h0M571.5 896.7h0M532.3 920h0M510.5 889.2h0M577.8 893.6h0M583.7 906.6h0M589.7 875.5h0M477.8 874.7h0M522 885.6h0M537.3 883.8h0M510.8 890.8h0M506.7 892.5h0M585.3 885.6h0M508 895.4h0M602.2 893.3h0M547.9 894.3h0M512.1 884.2h0M504.3 896.7h0M556.1 857.9h0M615.4 892.5h0M548.5 915h0M555.4 858.3h0M487.9 892.6h0M503.2 868.1h0M499.3 895.1h0M592.5 864.8h0M555.2 915.8h0M535.3 883.9h0M509.6 900.5h0M583.7 861.2h0M594.9 901.2h0M485.3 899h0M549.2 907.5h0M575.7 859.2h0M547.4 916.4h0M507.5 912.1h0M559.2 893.2h0M499.4 908.8h0M539.2 862h0M499.9 892.5h0M554 851.8h0M623.1 884.9h0M577.8 864.7h0" stroke="#a199d7" stroke-width="1.5" stroke-linecap="round" fill="none"/>
<path d="M608.9 905.2h0M585.7 869.4h0M536.6 889.6h0M619.3 901.9h0M576.1 903.6h0M520.3 878.5h0M595.5 909.1h0M550 879.2h0M524.6 858.2h0M572.8 853.1h0M500.7 874.5h0M540.8 884.9h0M592 864.4h0M542.3 886.3h0M495.9 902.7h0M546.2 878.9h0M592.4 870h0M545.4 894.5h0M586.1 862.1h0M496.9 863.3h0M543.2 900h0M613.6 886.5h0M573.5 871.3h0M610.5 892.9h0M490.4 876.3h0M472.7 896.6h0M487.8 884.6h0M550.2 862.7h0M506.5 884.6h0M570 869.2h0M494.9 897h0M573.7 909.6h0M563.8 880.4h0M523 884.1h0M539.2 914.3h0M515.5 877.5h0M585 853.3h0M538.4 903.2h0M550.7 862.9h0M583.4 869h0M479.1 900.4h0M627 892h0M545.9 885.2h0M554.3 909.9h0M540.2 892.9h0M596.1 912.2h0M531.3 857.8h0M594.1 887.3h0M525.5 859.3h0M534.9 881.8h0M528.3 885.4h0M617.7 898.6h0M619.3 894.7h0M566 870.7h0M508.9 893.6h0M534.7 864.6h0M563.9 901.7h0M559.8 865.9h0M559.2 872.2h0M488.3 864.2h0M544 881.8h0M578.6 849.2h0M608.4 867.4h0M528 891.8h0M560.6 902.1h0M588.7 868.8h0M544.3 914.4h0M590.3 894.1h0M569 872.3h0M554.9 876.6h0M528.2 870.5h0M506.7 886.4h0M582.7 905.7h0M583.1 856.7h0M554.5 875.5h0M621.8 898.8h0M568.7 899.6h0M594.3 884.8h0M526.4 860.3h0M551.4 848.8h0M501.5 896.3h0M592.6 910.1h0M593.5 888.2h0M563.4 862.7h0M519.5 858.1h0M595.3 901.4h0M556.1 871.5h0M563.6 844.8h0M523.3 874.4h0M623.2 882.2h0M584.9 869.7h0M505.8 888.4h0M513 885h0M547.2 854.2h0M595.8 883.8h0M596.2 900.4h0M510.4 882.4h0M542.1 876.9h0M596.3 865.6h0M522.7 878h0M491.8 897h0M612 885.9h0M506.1 889.5h0M508.8 897.1h0M581.2 905.9h0M525.3 865.2h0M535.6 891.5h0M529.4 863.6h0M504.2 854.6h0M510 887.3h0M581 863.1h0M502.5 912.6h0M543 866.9h0M558.2 872.9h0M610.5 894.9h0M607.6 881.2h0M603.2 866.3h0M610.5 873.4h0M605.4 861.2h0M526.5 868.1h0M594.4 893.8h0M605.9 888.7h0M590.4 889.6h0M523.8 888.8h0M571.4 856h0M584.8 905.3h0M580.1 853.7h0M547.2 864h0M506.6 899.1h0M512.4 880.7h0M575.4 881.8h0M487.1 874.5h0" stroke="#867adc" stroke-width="1.5" stroke-linecap="round" fill="none"/>
<path d="M485.3 866.3h0M527.7 847.6h0M601.9 862.3h0M607.1 870.5h0M579.1 853.9h0M467.4 886.2h0M482.4 874.3h0M540.9 854.2h0M499.6 863.5h0M508.5 872.4h0M485.6 894.8h0M577.8 910.4h0M521.5 842.6h0M478 892.5h0M476.4 874.1h0M511.5 852.6h0M584.5 856.8h0M484.2 893.7h0M597.6 855.8h0M581 910.2h0M530.2 840h0M593.9 856.3h0M529.3 849.2h0M591.2 855h0M523.3 863h0M477.8 876.7h0M498.8 859.1h0M516.4 848h0M608.8 905.6h0M533.5 849.3h0M494.5 869.3h0M548.6 853.3h0M533.6 851.7h0M484 881.9h0M528 840.2h0M510.3 854.1h0M513.1 847.4h0M484.9 876.6h0M530.6 842.2h0M471.7 881.1h0M475.2 881.9h0M501 864.1h0M477.7 886.4h0M574.5 849.7h0M502.8 914.1h0M475.6 877.4h0M481.5 889.3h0M564.4 851.9h0M484.1 876.3h0M578.8 854.8h0M511.1 862.1h0M544.3 850.6h0M513.6 854.2h0M501.3 908h0M500.1 908.9h0M568.6 908.2h0M553.7 850.3h0M531.7 843.7h0M515.7 870.1h0M481.1 888.8h0M604.1 861.6h0M490.6 913.3h0M602.1 906.9h0M544 852h0M501 858.7h0M581.1 884.7h0M575.4 886h0M523.7 842.3h0M597.6 860.7h0M504.6 860.9h0M521.7 859.1h0M601.7 863h0M530.6 850.4h0M477 890.4h0M468.8 885.2h0M479.7 876.3h0M501 907.3h0M581 912.1h0M598.5 906.3h0M493.1 860.7h0M533.1 840.9h0M533 850.6h0M496.9 912h0M511.6 860.4h0M503.3 910.7h0M577.3 847.9h0M516.6 855.3h0M507.5 869.6h0M601 909h0M521.9 856.4h0M508.6 852.6h0M472.5 890.7h0M522 867.9h0M524.1 846h0M569.3 853.2h0M514.5 855.6h0M559.9 853.8h0M481.8 889.6h0M495.2 858.4h0M503.7 860.8h0M510 871.9h0M521.9 845.5h0M486.7 907.9h0M580.6 882.3h0M469.8 891.9h0M483.1 871.1h0M587.3 857h0M519.5 870.7h0M482.2 871.8h0M566.8 852.8h0M485.6 907.7h0M525.8 847.4h0M508.7 864.5h0M568.1 909.8h0M518.3 863.1h0M479.4 884.4h0M533.2 856.3h0M486.5 862.9h0M557.9 853.9h0M581 905.7h0M593.1 852.6h0M572.5 852.4h0M516 854.4h0M522.7 841.3h0M586.5 877.1h0M471.1 890.1h0M493.4 910.8h0M533.4 855.2h0M604.8 861.5h0M496.1 912.9h0M522.2 841.5h0M495 871.9h0M517.8 844.2h0M470.3 891.8h0M479.9 872.9h0M578.2 910.3h0M513.6 860.5h0M603 910h0M513.4 868.6h0M482.8 888h0M524.3 844.1h0M478.9 878.9h0M501.6 867.2h0M484.1 874.6h0M522 870.7h0M468.9 887.5h0M569.2 904.5h0M592.2 854.8h0M486.5 908.5h0M503.2 869.4h0M522.6 846.8h0M571.5 902.4h0M503.7 859h0M508.7 866.2h0M479.2 890.9h0M543.7 851.5h0M523.3 853.8h0M598 906.1h0M528.5 850.8h0M519.9 868.1h0M577 883.2h0M604.1 859.7h0M499.9 908.2h0M518.3 851.2h0M493.2 912h0M513.1 851.9h0M481.6 871.7h0M511.1 869.1h0M586.1 886h0M552.2 851.6h0M484.8 890.8h0M509 865.7h0M528.1 839.5h0M505.2 867h0M496.9 914.6h0M567.8 851.6h0M522.1 856.2h0M610.1 906.8h0M524.3 849.2h0M532.3 854.6h0M592.9 856.3h0M573.3 902.7h0" stroke="#6c5ae2" stroke-width="1.5" stroke-linecap="round" fill="none"/>
<path d="M500.4 861.4h0M583.2 876.5h0M476.4 880.2h0M532.4 851.8h0M495.3 865.4h0M525.5 844h0M581 911.8h0M478.8 874.2h0M579.6 854.6h0M519 853h0M542.7 853.2h0M589.3 850.9h0M542.3 850.8h0M557.8 848.2h0M575 885.1h0M606.9 862.7h0M469.4 891.4h0M509.9 865.8h0M504.7 862.8h0M483.2 870.3h0M478.7 880h0M543.2 853.8h0M570.7 902.2h0M513.8 859.2h0M584.7 875.7h0M579.8 874.7h0M488.4 908.8h0M499.4 906.1h0M470.8 877.1h0M514.8 849.4h0M523.1 860.5h0M591.1 856.5h0M488.4 869.6h0M486 909.1h0M526.6 841.5h0M579.5 910.5h0M528 847.7h0M517.4 858.9h0M585.2 875.8h0M520.8 855.9h0M489.6 909h0M525.6 851.4h0M533.6 844h0M477.7 879h0M556.5 855h0M526.5 852.4h0M505.4 869.7h0M468.3 882.9h0M502.5 908.8h0M494.3 868.6h0M503.2 872.5h0M492.3 913.9h0M576.9 852.3h0M590 853.6h0M534.1 852.3h0M512.2 870.4h0M509.4 864.7h0M518.6 856.5h0M476 872.3h0M528.7 843.1h0M519.9 852h0M589.3 858.9h0M508.3 852.5h0M535.3 851h0M517.1 854.5h0M600.4 906.7h0M560.9 850.2h0M577.5 901.6h0M473.9 876.9h0M541.4 855.7h0M519.9 856.1h0M583.2 881.6h0M511.6 847.8h0M481.3 879.8h0M485.9 880.1h0M490.7 869.2h0M506.5 862h0M567.1 906.1h0M478.5 880.6h0M476.1 873.5h0M559.1 851.9h0M479.5 882.3h0M469.8 889.2h0M521 850.5h0M570.2 853.8h0M578 909.9h0M521 852.7h0M578.2 900.7h0M518.9 850.1h0M505 860.5h0M529.4 846.1h0M468.8 881.5h0M524.7 847.1h0M476.1 887.3h0M605.6 864.8h0M591.5 858.9h0M492.8 907.1h0M482.6 889.4h0M525.9 855.7h0M519.9 851.2h0M524 871.4h0M565.2 853.2h0M508.3 858.8h0M602.9 862.9h0M554.5 851.8h0M499.8 860.1h0M500.1 871.4h0M568.5 908.6h0M516.8 842.5h0M511.8 849.9h0M485.9 878.5h0M488.7 906.9h0M514.7 846.4h0M525.3 841.2h0M517.1 854.7h0M557.9 854h0M595.8 857h0M533.5 842.8h0M531.1 843h0M602.8 910.1h0M471.6 880.9h0M469.7 879.1h0M576.3 879.7h0M477.9 876.4h0M482 885.5h0M510.3 856.5h0M501.3 910.8h0M579.4 883.2h0M501.4 914h0M523.4 846.2h0M519.7 845.9h0M476.9 890.7h0M507.5 851.6h0M544.3 850.4h0M513.8 847.9h0M521.2 863.8h0M478 870.1h0M489.3 869.4h0M504.7 865.3h0M588.5 855.5h0M493.5 911h0M493.2 866.4h0M528.5 853.5h0M498.2 862.1h0M486.2 896.2h0M523.3 842.6h0M580.7 874.7h0M476 876.3h0M531.2 851.7h0M522 868.8h0M520.6 854.7h0M488.4 861.1h0M522.9 841.9h0M484.3 907.8h0M533.4 848.4h0M579.9 852.3h0M483.1 877.9h0M484.3 895.9h0M498.1 911.2h0M508.5 851.4h0M515 854.8h0M517 859.7h0M561.1 851.9h0M476 885.2h0M483.3 886.7h0M523.8 847h0M520.5 844.7h0M528.8 845.1h0M604.5 860.4h0M487.9 905.7h0M526.8 853.2h0M490.9 909.3h0M481.1 895.1h0M525.7 850.9h0M578.4 848.2h0M529.7 847.5h0M492.5 906.7h0M581.7 884.1h0M525.1 839.5h0M478.5 894.5h0M518.4 843.9h0M525.1 846.7h0M539.9 851.5h0M521.1 864.6h0M478.7 870.1h0M469.7 892.9h0M589.4 852.8h0M476.3 886.4h0M571.4 853.2h0M486.3 864.4h0M565.4 851.5h0M489.8 908.8h0M523.7 870.6h0M478.4 896.2h0M472.8 880.8h0M485.1 875.9h0M525.5 855.3h0M478 873.3h0M476.2 875.2h0M600.9 906.2h0M516.5 850.3h0M513.3 854.2h0M532 843.6h0M501.4 860.4h0M515.4 869.7h0M470.8 892.5h0M533 847.3h0M480.2 892.6h0M503.9 866.3h0M569.3 849.4h0M585.2 849.2h0M468 890.1h0M508.9 859.4h0M484.2 879.1h0M525.2 839.1h0M599.7 856.2h0M572.3 901.4h0M522.1 849.3h0M521.7 846.9h0M509.8 850.1h0M531.2 845.1h0M476 895h0M471.3 891.9h0M490.6 869.6h0M498.7 912.2h0M497.2 862.2h0M525 840.3h0M509.7 863.9h0M482.3 877h0M480.6 869.9h0M489.5 869.6h0M523.4 839.6h0M608.3 907.1h0M497.6 867.5h0M508.6 859.9h0M470.5 885.1h0M570 851.4h0M529.7 844.2h0M516.1 856.3h0M570.6 909.1h0M471.8 875.5h0M598.4 859.9h0M469.7 890.1h0M501.2 908.5h0M488.4 911h0M509 852h0M512.7 855.3h0M491.1 912.7h0M525.3 845.5h0M486.4 874.9h0M484.3 907.3h0M523.8 855.4h0M483 886.5h0M514.2 860.3h0M498.2 907.5h0M494.8 865h0M549.8 856.3h0" stroke="#513be7" stroke-width="1.5" stroke-linecap="round" fill="none"/>
<path d="M523.1 865.3h0M503.3 908.6h0M476.5 881.5h0M482.2 890.7h0M516.6 851.8h0M533.5 842.5h0M478.5 880.2h0M480.4 885.7h0M481 887.2h0M469.8 892.9h0M522.7 853.4h0M508.5 858.8h0M601.3 905.8h0M488.5 911.3h0M477.2 886.4h0M483.8 875.9h0M491.5 909.1h0M524.3 850.8h0M482.6 885.8h0M484.9 884.9h0M531.5 849.2h0M509.5 852.9h0M522.5 853.8h0M509.1 860.7h0M488 906.6h0M527.1 846.1h0M480.7 888.7h0M570.7 851.7h0M490.7 863.4h0M585.5 880.7h0M516.4 849.8h0M486.1 888.2h0M510.5 851.1h0M493.8 909.7h0M562.9 846.5h0M479.8 874h0M514 869.2h0M471 895.1h0M485.9 881h0M476.5 893.8h0M524.2 871.6h0M484.7 882h0M523.2 859.9h0M493.6 908.9h0M482.4 874h0M532.4 845.3h0M484.5 871.5h0M475.2 878.2h0M558.6 852.3h0M476.2 879.8h0M482.9 889.3h0M598.7 857.7h0M472 880.7h0M602.9 860.1h0M474.6 883.9h0M549.3 853.6h0M584 876.5h0M517.8 871.4h0M476.5 883.5h0M565.7 850.9h0M482.3 875.7h0M486.8 863.2h0M473.4 873.8h0M485.1 910.5h0M522.3 840.9h0M483.6 875.6h0M474.5 878.3h0M477.5 886.4h0M478.8 886.4h0M491.3 912.7h0M515.3 846.5h0M604.3 910.8h0M478 893.1h0M549.5 852.1h0M483.4 888.9h0M524.5 849.3h0M604 860.3h0M603 862.1h0M526.3 854h0M522.2 848h0M476.7 888.2h0M500.1 914.7h0M597.3 912.1h0M503.8 859.9h0M599.7 863.2h0M492.5 907.3h0M501.6 870.5h0M527.5 854.7h0M521.6 869.2h0M492.4 912.2h0M519 863.7h0M518.3 852.2h0M474.8 892.5h0M552.1 851.3h0M529.9 853h0M601.5 860.8h0M527.1 842.8h0M515.9 869.1h0M602.6 910.2h0M512.9 855.9h0M484.3 888h0M483.7 892.7h0M498.2 872.5h0M512.9 851.6h0M470.8 885.8h0M601.4 912.1h0M468.5 892.9h0M484.8 906h0M471.8 890.6h0M500.2 912.4h0M555.1 847.8h0M517 870.7h0M482.9 872.3h0M570.2 851h0M552.6 848.3h0M475.5 889.7h0M607 909.5h0M478.3 895.6h0M477.5 872.9h0M520.8 853.2h0M567.9 853h0M523.2 869.1h0M514.7 845.3h0M473.8 893.4h0M525.1 842.6h0M591.1 855.3h0M606.3 867.7h0M568.8 852.6h0M484.2 885.7h0M527.9 848.4h0M588 855.7h0M509.7 866.5h0M527 854.4h0M532.8 842.3h0M533 854.1h0M606.2 867h0M513.2 856.5h0M481.5 872.9h0M517.6 851.9h0M531.4 852.9h0M577.5 849.5h0M481.2 869.5h0M558.6 847.3h0M599 863.3h0M595.4 860h0M500.1 907.2h0M520.1 847.8h0M488.1 866.6h0M522.4 848.9h0M515.1 869.3h0M495.1 863.7h0M598.4 858.9h0M500.6 860.4h0M481.6 896.5h0M473 888.5h0M589.3 856.2h0M518.8 842.9h0M518.2 842.3h0M554.4 854.9h0M521.4 864.6h0M523 866.9h0M509.9 853.5h0M516.7 865.6h0M594.9 857h0M502 861.4h0M608.1 909.8h0M497.3 912.5h0M575.8 850.7h0M596.4 854.6h0M572.7 906.4h0M515.1 856.4h0M588.9 850.5h0M605.1 860.4h0M516.4 866.6h0M568.5 848h0M583.1 879.7h0M505.7 869.7h0M579.2 876.2h0M558.6 853.2h0M570.9 847.9h0M516.5 842.7h0M507.9 854.7h0M529.5 855h0M499.1 858.5h0M576.3 909.1h0M472.6 894.8h0M498.1 869.5h0M499.3 863.2h0M496.7 861.6h0M528 847.1h0M510.9 869h0M511.5 866.7h0M574.7 905h0M517.1 868.9h0M534.4 848.8h0M475.7 873.5h0M488.9 907.8h0M519.4 848.9h0M508.9 867.4h0M518.6 845.9h0M571.2 902.2h0M581.1 848.6h0M523 854.2h0M548.4 849.9h0M500.2 909.1h0M473.6 883.2h0M477.8 892.4h0M585 853.1h0M518 858.6h0M494.5 911.1h0M482.8 892.8h0M483.4 890.9h0M475.8 872h0M558.7 848.8h0M475.9 885.3h0M523 853.8h0M517.1 851.6h0M483.4 871.1h0M545.7 856.9h0M520.9 848.1h0M513.6 851.2h0M527.8 843.2h0M568.7 906.8h0M585.9 857.6h0M470.1 880.8h0M601.7 905.8h0M480.6 884.6h0M497.2 906.3h0M484 871.5h0M574.2 850.8h0M481.7 874.4h0M532.4 840.8h0M533.9 846.2h0M481.2 870.3h0M481.2 894.1h0M480.2 889h0M530.7 856.4h0M581.5 882.3h0M519 849.2h0M567.5 851.6h0M582.1 880.6h0M567.3 849.9h0M491.3 859.8h0M582.9 850.6h0M568.4 852.4h0M514 847.4h0M529.9 842.8h0M485.9 890h0M486.3 880.5h0M498.8 872.5h0M518.2 870.3h0M496.1 911.8h0M572 852h0M485.3 888.1h0M570.1 848h0M487 863.5h0M491.4 861.4h0M487.8 912.4h0M522.7 854h0M521.4 855.3h0M516.9 859.9h0M551.9 856h0M528.4 854.9h0M521.6 844.9h0M589.1 859h0M486 891.6h0M473.6 885h0M526.4 839.5h0M530 846.3h0M549.5 855.5h0M578 911.8h0M484.5 896.1h0M484.1 874.5h0M595.5 853.9h0M474.2 876.7h0M516.1 845.8h0M529.3 852.9h0M484.4 896.5h0M511.8 852.2h0M472.3 878.1h0M576.9 884.2h0M533.6 855.9h0M515.6 855.5h0M473.7 874.4h0M515.7 845.2h0M520.8 851.9h0M517.1 869.5h0M534.2 847h0M487.9 864.7h0M502.5 869.3h0M494.5 871.1h0M606.8 867.4h0M485.8 896.3h0M517.8 860.7h0M604 863.4h0M555.4 850.9h0M567.6 846h0M479 887.1h0M606.4 864.7h0M569.1 905.7h0M480.4 896.1h0M575.4 881.4h0M516.9 842.4h0M595.4 860h0M486.5 875h0M468.7 886.8h0M518.6 847.1h0M591.2 857h0M518 844.2h0M574.3 879.6h0M520.7 861.4h0M470.7 886.4h0M521.6 845.2h0M524.2 865h0M526 854.6h0M490.5 861.4h0M470.5 885.8h0M469.3 886.5h0M497.6 865.3h0M523.2 850.5h0M545.7 854.7h0M494.3 864.4h0M576.1 911h0M520.3 848.1h0M528 840.7h0M516.3 864h0M605.6 866.3h0M575.4 909.5h0M578 854.5h0M574.1 881.3h0M475.3 895.9h0M578.3 911.4h0M514.7 847.7h0M483.5 876.5h0M491 868.9h0M526.7 851.8h0M489.6 863.5h0M483.6 876.2h0M468.7 887.6h0M503.3 865h0M489.9 907.5h0M493.4 910.2h0M518.4 842.7h0M471.2 879.8h0M522 861h0M590.6 857.3h0M492 864h0M516.5 852.3h0M482.9 876.6h0M529.5 851.1h0" stroke="#371bed" stroke-width="1.5" stroke-linecap="round" fill="none"/>
<line x1="447.0" y1="826.6" x2="447.0" y2="928.1" stroke="#222" stroke-width="1"/>
<line x1="447.0" y1="928.1" x2="648.8" y2="928.1" stroke="#222" stroke-width="1"/>
<line x1="444.3" y1="829.9" x2="447.0" y2="829.9" stroke="#222" stroke-width="1"/>
<text x="443.9" y="833.2" font-size="9.2" text-anchor="end" fill="#222">6</text>
<line x1="444.3" y1="855.7" x2="447.0" y2="855.7" stroke="#222" stroke-width="1"/>
<text x="443.9" y="859.0" font-size="9.2" text-anchor="end" fill="#222">3</text>
<line x1="444.3" y1="881.5" x2="447.0" y2="881.5" stroke="#222" stroke-width="1"/>
<text x="443.9" y="884.8" font-size="9.2" text-anchor="end" fill="#222">0</text>
<line x1="444.3" y1="907.3" x2="447.0" y2="907.3" stroke="#222" stroke-width="1"/>
<text x="443.9" y="910.6" font-size="9.2" text-anchor="end" fill="#222">−3</text>
<line x1="495.7" y1="928.1" x2="495.7" y2="930.8" stroke="#222" stroke-width="1"/>
<text x="495.7" y="938.4" font-size="9.2" text-anchor="middle" fill="#222">−4</text>
<line x1="547.7" y1="928.1" x2="547.7" y2="930.8" stroke="#222" stroke-width="1"/>
<text x="547.7" y="938.4" font-size="9.2" text-anchor="middle" fill="#222">0</text>
<line x1="599.7" y1="928.1" x2="599.7" y2="930.8" stroke="#222" stroke-width="1"/>
<text x="599.7" y="938.4" font-size="9.2" text-anchor="middle" fill="#222">4</text>
<text x="547.0" y="950.4" font-size="11.2" text-anchor="middle" fill="#222">UMAP 1</text>
<text x="430.6" y="877.0" font-size="11.5" text-anchor="middle" fill="#222" transform="rotate(-90 430.6 877.0)">UMAP 2</text>
<defs><linearGradient id="cbJ" x1="0" y1="0" x2="0" y2="1"><stop offset="0" stop-color="#2a0cf0"/><stop offset="1" stop-color="#c9c9cf"/></linearGradient></defs>
<rect x="653.8" y="859.5" width="7.5" height="35.2" fill="url(#cbJ)"/>
<text x="664.5" y="870.5" font-size="8.7" fill="#222">15</text>
<text x="664.5" y="879.9" font-size="8.7" fill="#222">10</text>
<text x="664.5" y="888.5" font-size="8.7" fill="#222">5</text>
<text x="664.5" y="898.2" font-size="8.7" fill="#222">0</text>
</svg></body></html>
